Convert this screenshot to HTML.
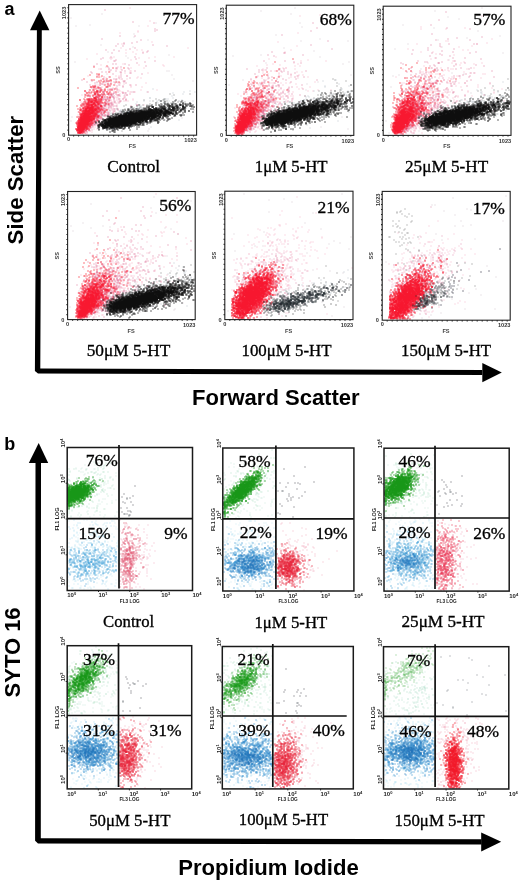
<!DOCTYPE html><html><head><meta charset="utf-8"><style>html,body{margin:0;padding:0;background:#fff}svg{display:block;will-change:transform}</style></head><body>
<svg width="520" height="882" viewBox="0 0 520 882">
<rect width="520" height="882" fill="#fff"/>
<style>.k0{marker:url(#k0);fill:none;stroke:none}.k1{marker:url(#k1);fill:none;stroke:none}.k2{marker:url(#k2);fill:none;stroke:none}.k3{marker:url(#k3);fill:none;stroke:none}.k4{marker:url(#k4);fill:none;stroke:none}.k5{marker:url(#k5);fill:none;stroke:none}.k6{marker:url(#k6);fill:none;stroke:none}.k7{marker:url(#k7);fill:none;stroke:none}.k8{marker:url(#k8);fill:none;stroke:none}.k9{marker:url(#k9);fill:none;stroke:none}.k10{marker:url(#k10);fill:none;stroke:none}.k11{marker:url(#k11);fill:none;stroke:none}.k12{marker:url(#k12);fill:none;stroke:none}.k13{marker:url(#k13);fill:none;stroke:none}.k14{marker:url(#k14);fill:none;stroke:none}.k15{marker:url(#k15);fill:none;stroke:none}.k16{marker:url(#k16);fill:none;stroke:none}.k17{marker:url(#k17);fill:none;stroke:none}.k18{marker:url(#k18);fill:none;stroke:none}.k19{marker:url(#k19);fill:none;stroke:none}.k20{marker:url(#k20);fill:none;stroke:none}.k21{marker:url(#k21);fill:none;stroke:none}.k22{marker:url(#k22);fill:none;stroke:none}.k23{marker:url(#k23);fill:none;stroke:none}.k24{marker:url(#k24);fill:none;stroke:none}.k25{marker:url(#k25);fill:none;stroke:none}.k26{marker:url(#k26);fill:none;stroke:none}.k27{marker:url(#k27);fill:none;stroke:none}.k28{marker:url(#k28);fill:none;stroke:none}.k29{marker:url(#k29);fill:none;stroke:none}.k30{marker:url(#k30);fill:none;stroke:none}.k31{marker:url(#k31);fill:none;stroke:none}.k32{marker:url(#k32);fill:none;stroke:none}.k33{marker:url(#k33);fill:none;stroke:none}.k34{marker:url(#k34);fill:none;stroke:none}.k35{marker:url(#k35);fill:none;stroke:none}.k36{marker:url(#k36);fill:none;stroke:none}.k37{marker:url(#k37);fill:none;stroke:none}</style><defs><filter id="bl" x="-5%" y="-5%" width="110%" height="110%"><feGaussianBlur stdDeviation="0.35"/></filter><marker id="k0" markerUnits="userSpaceOnUse" markerWidth="3" markerHeight="3" refX="0.5" refY="0.5" overflow="visible"><rect width="1" height="1" fill="#c8b8c0" fill-opacity="0.7"/></marker><marker id="k1" markerUnits="userSpaceOnUse" markerWidth="3" markerHeight="3" refX="0.8" refY="0.8" overflow="visible"><rect width="1.6" height="1.6" fill="#f7b4c8" fill-opacity="0.4"/></marker><marker id="k2" markerUnits="userSpaceOnUse" markerWidth="3" markerHeight="3" refX="0.55" refY="0.55" overflow="visible"><rect width="1.1" height="1.1" fill="#d0487a" fill-opacity="0.6"/></marker><marker id="k3" markerUnits="userSpaceOnUse" markerWidth="3" markerHeight="3" refX="0.65" refY="0.65" overflow="visible"><rect width="1.3" height="1.3" fill="#fa1830" fill-opacity="0.7"/></marker><marker id="k4" markerUnits="userSpaceOnUse" markerWidth="3" markerHeight="3" refX="0.5" refY="0.5" overflow="visible"><rect width="1" height="1" fill="#2c3236" fill-opacity="0.6"/></marker><marker id="k5" markerUnits="userSpaceOnUse" markerWidth="3" markerHeight="3" refX="0.8" refY="0.8" overflow="visible"><rect width="1.6" height="1.6" fill="#b8c4c8" fill-opacity="0.35"/></marker><marker id="k6" markerUnits="userSpaceOnUse" markerWidth="3" markerHeight="3" refX="0.6" refY="0.6" overflow="visible"><rect width="1.2" height="1.2" fill="#0c0c0c" fill-opacity="0.85"/></marker><marker id="k7" markerUnits="userSpaceOnUse" markerWidth="3" markerHeight="3" refX="0.7" refY="0.7" overflow="visible"><rect width="1.4" height="1.4" fill="#0c0c0c" fill-opacity="0.9"/></marker><marker id="k8" markerUnits="userSpaceOnUse" markerWidth="3" markerHeight="3" refX="0.6" refY="0.6" overflow="visible"><rect width="1.2" height="1.2" fill="#0c0c0c" fill-opacity="0.8"/></marker><marker id="k9" markerUnits="userSpaceOnUse" markerWidth="3" markerHeight="3" refX="0.8" refY="0.8" overflow="visible"><rect width="1.6" height="1.6" fill="#f7b4c8" fill-opacity="0.35"/></marker><marker id="k10" markerUnits="userSpaceOnUse" markerWidth="3" markerHeight="3" refX="0.5" refY="0.5" overflow="visible"><rect width="1" height="1" fill="#d0487a" fill-opacity="0.55"/></marker><marker id="k11" markerUnits="userSpaceOnUse" markerWidth="3" markerHeight="3" refX="0.65" refY="0.65" overflow="visible"><rect width="1.3" height="1.3" fill="#fa1830" fill-opacity="0.9"/></marker><marker id="k12" markerUnits="userSpaceOnUse" markerWidth="3" markerHeight="3" refX="0.6" refY="0.6" overflow="visible"><rect width="1.2" height="1.2" fill="#23292d" fill-opacity="0.62"/></marker><marker id="k13" markerUnits="userSpaceOnUse" markerWidth="3" markerHeight="3" refX="0.7" refY="0.7" overflow="visible"><rect width="1.4" height="1.4" fill="#23292d" fill-opacity="0.9"/></marker><marker id="k14" markerUnits="userSpaceOnUse" markerWidth="3" markerHeight="3" refX="0.6" refY="0.6" overflow="visible"><rect width="1.2" height="1.2" fill="#23292d" fill-opacity="0.7"/></marker><marker id="k15" markerUnits="userSpaceOnUse" markerWidth="3" markerHeight="3" refX="0.5" refY="0.5" overflow="visible"><rect width="1" height="1" fill="#2c3236" fill-opacity="0.55"/></marker><marker id="k16" markerUnits="userSpaceOnUse" markerWidth="3" markerHeight="3" refX="0.5" refY="0.5" overflow="visible"><rect width="1" height="1" fill="#a8d8c8" fill-opacity="0.55"/></marker><marker id="k17" markerUnits="userSpaceOnUse" markerWidth="3" markerHeight="3" refX="0.5" refY="0.5" overflow="visible"><rect width="1" height="1" fill="#a8d8e8" fill-opacity="0.55"/></marker><marker id="k18" markerUnits="userSpaceOnUse" markerWidth="3" markerHeight="3" refX="0.6" refY="0.6" overflow="visible"><rect width="1.2" height="1.2" fill="#3c4652" fill-opacity="0.6"/></marker><marker id="k19" markerUnits="userSpaceOnUse" markerWidth="3" markerHeight="3" refX="0.6" refY="0.6" overflow="visible"><rect width="1.2" height="1.2" fill="#9ad4ec" fill-opacity="0.55"/></marker><marker id="k20" markerUnits="userSpaceOnUse" markerWidth="3" markerHeight="3" refX="0.6" refY="0.6" overflow="visible"><rect width="1.2" height="1.2" fill="#46a4d8" fill-opacity="0.7"/></marker><marker id="k21" markerUnits="userSpaceOnUse" markerWidth="3" markerHeight="3" refX="0.6" refY="0.6" overflow="visible"><rect width="1.2" height="1.2" fill="#f0a0b8" fill-opacity="0.55"/></marker><marker id="k22" markerUnits="userSpaceOnUse" markerWidth="3" markerHeight="3" refX="0.6" refY="0.6" overflow="visible"><rect width="1.2" height="1.2" fill="#e0506e" fill-opacity="0.7"/></marker><marker id="k23" markerUnits="userSpaceOnUse" markerWidth="3" markerHeight="3" refX="0.6" refY="0.6" overflow="visible"><rect width="1.2" height="1.2" fill="#8fd0b0" fill-opacity="0.45"/></marker><marker id="k24" markerUnits="userSpaceOnUse" markerWidth="3" markerHeight="3" refX="0.6" refY="0.6" overflow="visible"><rect width="1.2" height="1.2" fill="#179617" fill-opacity="0.9"/></marker><marker id="k25" markerUnits="userSpaceOnUse" markerWidth="3" markerHeight="3" refX="0.6" refY="0.6" overflow="visible"><rect width="1.2" height="1.2" fill="#3490cf" fill-opacity="0.75"/></marker><marker id="k26" markerUnits="userSpaceOnUse" markerWidth="3" markerHeight="3" refX="0.6" refY="0.6" overflow="visible"><rect width="1.2" height="1.2" fill="#2274bb" fill-opacity="0.7"/></marker><marker id="k27" markerUnits="userSpaceOnUse" markerWidth="3" markerHeight="3" refX="0.6" refY="0.6" overflow="visible"><rect width="1.2" height="1.2" fill="#f09cb4" fill-opacity="0.55"/></marker><marker id="k28" markerUnits="userSpaceOnUse" markerWidth="3" markerHeight="3" refX="0.6" refY="0.6" overflow="visible"><rect width="1.2" height="1.2" fill="#e8283c" fill-opacity="0.8"/></marker><marker id="k29" markerUnits="userSpaceOnUse" markerWidth="3" markerHeight="3" refX="0.6" refY="0.6" overflow="visible"><rect width="1.2" height="1.2" fill="#3c9ad4" fill-opacity="0.72"/></marker><marker id="k30" markerUnits="userSpaceOnUse" markerWidth="3" markerHeight="3" refX="0.6" refY="0.6" overflow="visible"><rect width="1.2" height="1.2" fill="#2274bb" fill-opacity="0.65"/></marker><marker id="k31" markerUnits="userSpaceOnUse" markerWidth="3" markerHeight="3" refX="0.6" refY="0.6" overflow="visible"><rect width="1.2" height="1.2" fill="#e83a58" fill-opacity="0.75"/></marker><marker id="k32" markerUnits="userSpaceOnUse" markerWidth="3" markerHeight="3" refX="0.6" refY="0.6" overflow="visible"><rect width="1.2" height="1.2" fill="#1a9a1a" fill-opacity="0.75"/></marker><marker id="k33" markerUnits="userSpaceOnUse" markerWidth="3" markerHeight="3" refX="0.6" refY="0.6" overflow="visible"><rect width="1.2" height="1.2" fill="#1a9a1a" fill-opacity="0.7"/></marker><marker id="k34" markerUnits="userSpaceOnUse" markerWidth="3" markerHeight="3" refX="0.6" refY="0.6" overflow="visible"><rect width="1.2" height="1.2" fill="#707880" fill-opacity="0.6"/></marker><marker id="k35" markerUnits="userSpaceOnUse" markerWidth="3" markerHeight="3" refX="0.6" refY="0.6" overflow="visible"><rect width="1.2" height="1.2" fill="#f01828" fill-opacity="0.85"/></marker><marker id="k36" markerUnits="userSpaceOnUse" markerWidth="3" markerHeight="3" refX="0.6" refY="0.6" overflow="visible"><rect width="1.2" height="1.2" fill="#9ad4b8" fill-opacity="0.5"/></marker><marker id="k37" markerUnits="userSpaceOnUse" markerWidth="3" markerHeight="3" refX="0.6" refY="0.6" overflow="visible"><rect width="1.2" height="1.2" fill="#54b054" fill-opacity="0.55"/></marker></defs>
<g filter="url(#bl)">
<path class="k0" d="M102 14l-31 4 113 1-28 4-66 2-14 1 63 0-5 8 0 3 14 3-47 5 32 2-25 5 61 3-43 1 2 2-53 4 94 9-2 0 5 4 2 4 19 2-88 1-8 1-7 4 18 1-14 2 38 2 15 0 32 9 15 9-99 4 4 0 30 3-57 0 110 1-111 3 45 5 33 3-1 2"/>
<path class="k1" d="M130 8l47 12-27 1-2 5-10 5 0 1-18 1 32 9-30 2-1 4 67 0-62 2 11 0 5 0-9 2 10 0-17 1-29 1 39 0 38 3-19 0-41 0-4 1 2 0 27 0 10 0-38 1-24 0 44 1-23 2 15 2 40 1-24 0-38 0 63 1-46 1-12 0 3 1 22 0 13 0-23 1-4 0-1 0-17 0 10 1 22 1-1 0-20 0 0 1 10 0 28 1-23 0-18 1-9 1-10 1 28 0 3 0 8 0 11 1-19 0-18 0 5 1 31 0 4 0-14 1-7 0-3 0-26 1 32 1-18 0-6 1 47 1-27 0-1 0-17 0 0 1 4 0 2 0 3 0 14 0 7 1-11 0-5 0-4 0-1 0-6 0-4 0 0 0-2 0-2 0-1 0-2 1 14 0 2 0 22 0 11 1-11 0-29 0-3 0-4 0 1 1 2 0 15 0 3 0 0 0 1 0-5 1-1 0-10 0-7 0-5 1 1 0 3 0 15 0 3 0 1 0 6 0 1 0 22 0 16 0-37 1-6 0-10 0-10 0 9 1 1 0 5 0 1 0 4 0 1 0 7 0 1 0 7 0 1 0 2 0 2 0-19 1-2 0-3 0-12 0-1 0-13 1 5 0 17 0 4 0 9 0 10 0 0 0-11 1 0 0-2 0 0 0-8 0-6 0-2 0-9 0-2 0-8 0 13 1 2 0 1 0 1 0 1 0 0 0 10 0 2 0 6 0 6 0-6 1-2 0-6 0-6 0 0 0-1 0-3 0-1 0-4 0-1 0-3 1 26 0 7 0 0 0 9 1-10 0-3 0-1 0-5 0-11 0-5 0-1 0-2 0-7 0 0 1 4 0 2 0 3 0 2 0 3 0 0 0 1 0 2 0 0 0 6 0 6 0 9 0 7 0-5 1-2 0-2 0-5 0-4 0-4 0-5 0-5 0 0 0-1 0-4 0-2 0-4 0-9 1 8 0 4 0 6 0 8 0 5 0 6 0-2 1-1 0-4 0-1 0-1 0 0 0-3 0-1 0-4 0 0 0-4 0 0 0-1 0-1 0 0 0-6 1 3 0 2 0 2 0 2 0 1 0 5 0 8 0 5 0 27 1-31 0-1 0-1 0-5 0-2 0-2 0-10 0 0 0-1 0-2 0 0 0 0 0-5 0-1 1 4 0 8 0 3 0 2 0 0 0 5 0 4 0 2 0 1 0 1 1-5 0-4 0-5 0 0 0-2 0 0 0-6 0 0 0-4 0-5 0 9 1 2 0 1 0 4 0 1 0 4 0 14 0 14 1-18 0-1 0-6 0-3 0-1 0 0 0-1 0 0 0-2 0-1 0-2 0-1 0-1 0-1 0-3 0-8 1 3 0 3 0 8 0 0 0 3 0 1 0 0 0 0 0 1 0 1 0 0 0 5 0 2 0 3 0 1 1-10 0 0 0 0 0-1 0-4 0 0 0-1 0 0 0-2 0-1 0-1 0-2 0-2 0-2 0-3 0-6 1 1 0 5 0 3 0 3 0 3 0 1 0 1 0 2 0 2 0 0 0 2 0 0 0 3 0 3 0 7 0 7 0-8 1-4 0-1 0-1 0-2 0-1 0-1 0-1 0 0 0-3 0 0 0-1 0-1 0-2 0-2 0-12 0 0 1 3 0 0 0 3 0 3 0 2 0 0 0 3 0 2 0 3 0 0 0 2 0 1 0 5 0 12 0-12 1-3 0 0 0 0 0 0 0-1 0-2 0-2 0-1 0-1 0 0 0-1 0-3 0-2 0 0 0-3 0 0 0-1 0-10 0 11 1 0 0 1 0 0 0 2 0 3 0 1 0 1 0 1 0 0 0 3 0 0 0 2 0 1 0 1 0 0 0 2 0 6 0 5 1-8 0-11 0 0 0-2 0 0 0 0 0-2 0-1 0-1 0-2 0-1 0-1 0-1 0 0 0-1 0-4 0-2 0 3 1 0 0 1 0 3 0 2 0 0 0 1 0 0 0 1 0 3 0 2 0 2 0 1 0 0 0 1 0 0 0 1 0 5 0 6 0 1 1-3 0-5 0-3 0-1 0-1 0-2 0-2 0-3 0-2 0-2 0-1 0 0 0-3 0-1 0 0 0-1 0 2 1 0 0 1 0 1 0 0 0 2 0 1 0 1 0 0 0 1 0 1 0 1 0 1 0 3 0 6 0 0 0 0 1-4 0-2 0-2 0 0 0-3 0-1 0 0 0-1 0-1 0-1 0-3 0-1 0 0 0-1 0-1 0 0 0-1 0-3 0-1 0 0 1 6 0 0 0 0 0 2 0 1 0 1 0 1 0 0 0 2 0 1 0 1 0 0 0 1 0 0 0 0 0 1 0 0 0 2 0 8 0-2 1-9 0-4 0-1 0-1 0 0 0-1 0-2 0 0 0-2 0-2 0-1 0-1 0-1 0 4 1 1 0 1 0 3 0 1 0 1 0 0 0 1 0 1 0 0 0 0 0 1 0 2 0 0 0 0 0 8 1-7 0-1 0 0 0-2 0 0 0-1 0-2 0-1 0-2 0-3 0-1 0-3 0 0 0 3 1 2 0 0 0 0 0 1 0 2 0 1 0 0 0 1 0 3 0 9 1-7 0-5 0-3 0-1 0 0 0-1 0 0 0-1 0-2 0 0 0-4 1 2 0 2 0 2 0 0 0 1 0 1 0 0 0 1 0 1 0 1 0 2 0 0 0 1 0 7 0 6 0-8 1-3 0-5 0-1 0-3 0-1 0-1 0-4 0 1 1 0 0 3 0 0 0 3 0 1 0 0 0 2 0 1 0-2 1-2 0-2 0-3 0 1 1 1 0 1 0 3 0 5 0-5 1-5 0-1 1 2 0 3 0 1 0"/>
<path class="k2" d="M105 10l28 12 21 1 1 6 2 1-2 1-35 5 15 0-33 3 39 1-4 2-5 1-8 0-6 1 6 0 29 1-37 1 7 0 44 0-32 2-5 1-24 1 8 0 34 1-29 0 28 1-4 1-31 0 23 4-24 0-8 1 33 1-35 0 15 1 39 1-40 0-1 0 31 1-8 1-40 1 16 0 3 0 9 0 4 1-35 1 52 0-25 1-13 0 8 1 1 0 11 0 1 1-20 0-8 0 10 1 11 0 13 1-10 0-9 0-25 1 11 0 4 0 15 0 10 1-1 0-9 0-29 0 21 1 29 0-21 1-24 1 30 0-6 1-12 0-5 0 15 1 11 0-8 1-6 0-2 0-10 0-22 1 19 0 5 0 4 0 6 0 9 1-1 0-15 0-2 0-15 0-5 1 10 0 7 0 2 0 2 0 6 0 3 0 7 0 2 1-6 0-5 0-4 0-16 0 7 1 1 0 5 0 28 1-6 0-11 0-10 0-9 0-10 0 5 1 22 0 6 0 0 1-15 0-1 0-11 0-4 1 7 0 0 0 2 0 16 1-3 0-2 0-2 0-9 0-3 1 6 0 4 0 9 0 11 1-28 0-14 1 5 0 6 0 1 0 5 0 1 0 14 0 16 0 14 0-22 1-1 0-2 0 0 0-9 0-10 0-8 0-2 0 3 1 1 0 4 0 2 0 0 0 3 0 1 0 5 0 0 0 3 0 11 1 0 0-2 0-6 0-1 0-6 0-1 0 0 0-2 0-8 0-1 0-7 0-4 0-2 1 2 0 4 0 3 0 2 0 1 0 3 0 1 0 9 0 2 0 6 0 5 1-12 0 0 0-2 0-3 0-3 0 0 0-7 0 0 0-1 0-1 0 0 0-6 0 4 1 7 0 2 0 5 0 1 0 1 0 4 0 0 0 12 1-3 0-4 0-11 0-1 0 0 0-2 0 0 0-2 0-3 0-1 0 0 0-9 0-1 0 0 0 1 1 0 0 6 0 1 0 0 0 2 0 3 0 1 0 7 0 4 0 12 0-5 1-1 0-11 0 0 0-2 0-1 0-9 0-1 0-4 0 0 0 0 0-4 0-3 0 3 1 1 0 4 0 3 0 3 0 0 0 9 0 6 0 1 0 5 0-1 1-7 0-1 0-4 0-1 0-2 0-4 0-2 0-1 0-1 0-2 0-2 0-3 0-6 0 1 1 4 0 4 0 2 0 4 0 2 0 1 0 5 0 0 0 5 0 2 0 24 1 0 0-25 0-3 0 0 0-1 0-4 0-3 0-1 0-2 0-3 0-6 0 2 1 0 0 6 0 0 0 1 0 2 0 1 0 0 0 3 0 1 0 0 0 1 0 4 0 4 0 2 0 1 0 14 0-20 1-2 0-7 0-2 0-1 0-1 0 0 0 0 0-1 0-1 0 0 0-2 0 0 0-2 0-2 0-2 0 0 1 1 0 9 0 0 0 0 0 2 0 1 0 2 0 1 0 2 0 3 0 2 0 7 1-3 0-1 0-6 0-3 0-1 0 0 0-3 0-1 0-1 0 0 0-2 0 0 0-1 0 0 0-1 0 0 0-2 0-2 0 0 0-1 0-1 0 0 0-6 0 3 1 4 0 1 0 0 0 3 0 0 0 1 0 2 0 1 0 3 0 6 0 11 0-3 1-1 0-4 0-5 0-1 0 0 0-3 0-1 0-1 0-3 0-2 0-1 0 0 0-2 0 0 0-2 0-3 0 0 0-3 0 2 1 3 0 1 0 1 0 2 0 1 0 0 0 1 0 3 0 0 0 1 0 3 0 1 0 2 0 2 0 2 0 5 1-4 0-5 0-6 0 0 0-1 0-1 0-1 0-2 0-1 0 0 0-1 0-1 0 0 0 0 0-2 0 0 0 0 0-6 1 1 0 2 0 3 0 0 0 2 0 3 0 2 0 0 0 2 0 0 0 4 0 1 0 6 0 1 1 0 0-2 0-2 0-2 0-1 0 0 0-3 0-1 0-3 0-1 0-1 0-1 0-3 0-3 0 0 0-1 0-2 1 1 0 0 0 0 0 3 0 0 0 0 0 1 0 1 0 1 0 4 0 1 0 0 0 0 0 0 0 1 0 1 0 1 0 0 0 1 0 0 0 1 0 5 0 3 0 12 0-11 1-10 0-1 0-1 0 0 0-3 0-1 0-2 0-4 0 0 0-1 0-1 0-7 0 3 1 4 0 0 0 1 0 1 0 0 0 1 0 1 0 1 0 2 0 2 0 0 0 1 0 1 0 1 0 2 0 1 0 2 0 8 1-9 0-4 0-3 0-2 0 0 0 0 0-1 0 0 0-1 0 0 0-1 0 0 0 0 0-2 0-2 0-2 0 0 0-2 0-2 0 4 1 1 0 2 0 1 0 1 0 1 0 0 0 1 0 0 0 1 0 0 0 0 0 0 0 3 0 1 0 2 0 1 0 0 0 5 0-4 1-3 0-1 0 0 0-2 0-1 0-1 0-2 0 0 0-2 0 0 0-1 0 0 0-3 0-1 0 0 1 0 0 3 0 1 0 0 0 0 0 0 0 1 0 0 0 1 0 2 0 0 0 1 0 1 0 2 0 1 0 12 0-1 1-8 0-2 0-5 0-3 0-3 0-1 0 0 0-1 0-3 0 1 1 2 0 1 0 0 0 0 0 0 0 1 0 0 0 0 0 1 0 0 0 1 0 0 0 1 0 0 0 1 0 0 0 1 0 2 0 0 0 2 0 1 0 2 0 2 0 1 0 1 0-2 1-5 0-3 0 0 0-2 0-4 0-1 0-1 0 0 0 0 0-1 0 0 0 0 0-1 0 1 1 1 0 0 0 0 0 1 0 0 0 0 0 1 0 2 0 1 0 0 0 1 0 0 0 0 0 1 0 0 0 2 0 6 0 0 0-5 1-2 0-2 0-3 0-1 0-3 0-1 0 0 0 0 0-1 0 1 1 0 0 0 0 2 0 2 0 0 0 2 0 3 0 0 0-2 1-1 0-2 0-1 0-5 0 2 1 1 0 1 0 0 0 2 0 0 0 1 0 3 0 3 0-2 1-5 0-1 0-2 0-1 0-1 0 1 1 0 0 2 0 1 0 3 0-5 1"/>
<path class="k3" d="M107 66l-13 1 19 1 11 0-15 4-12 2 2 0 0 1-9 0 12 1 8 1-11 0-2 0 10 2-4 0-19 0 8 1 2 0 17 0 0 1-2 0-2 0-3 0-3 0-2 0 4 1 13 0 3 0-19 1 8 1 3 0 3 1-9 0-12 1 2 0 13 0 2 0-3 1-1 0-8 0-3 0-1 0-1 0-2 0 0 0-13 1 16 0 4 0 2 0 15 1-10 0-9 0-6 1 3 0 1 0 6 0 1 0 1 0 3 0 5 0 2 0-7 1-4 0-3 0-1 0 0 0 0 0-12 0 0 0 4 1 3 0 2 0 1 0 1 0 1 0 1 0 2 0 0 0 3 0 4 0 0 0 3 0 6 0-7 1-12 0-2 0-4 0-2 0-2 0 0 0 8 1 0 0 0 0 0 0 3 0 4 0 2 0 4 0 1 0 2 0-6 1-2 0-3 0-1 0-1 0 0 0-2 0-2 0-6 0-2 0-1 0 3 1 2 0 3 0 7 0 10 1-3 0-5 0 0 0 0 0-3 0-2 0-1 0-11 0 9 1 0 0 1 0 0 0 0 0 0 0 1 0 2 0 4 0 8 0-9 1 0 0-2 0-3 0 0 0 0 0-1 0-1 0-2 0 0 0-1 0-1 0-1 0-1 0-1 0-3 0-4 1 0 0 5 0 2 0 1 0 1 0 0 0 2 0 2 0 0 0 1 0 1 0 1 0 1 0 2 0 2 0 0 0 5 0 3 0-8 1-1 0-1 0-1 0-2 0 0 0-1 0 0 0 0 0 0 0-1 0-1 0-1 0-1 0 0 0-1 0-1 0 0 0 0 0-5 1 1 0 1 0 2 0 1 0 2 0 0 0 0 0 0 0 1 0 0 0 0 0 0 0 1 0 3 0 1 0 0 0 0 0 1 0 0 0 2 0 1 0 1 0 3 0 0 1-2 0-1 0-2 0-1 0-1 0-1 0-2 0 0 0-1 0 0 0 0 0 0 0-3 0-1 0-1 0 0 0-1 0 0 0-2 0-4 1 1 0 1 0 1 0 1 0 1 0 0 0 0 0 1 0 1 0 2 0 2 0 0 0 0 0 1 0 0 0 1 0 3 0 0 0 1 0 0 0 7 0 2 0 1 0-4 1-5 0-2 0 0 0-2 0 0 0 0 0-1 0 0 0 0 0-2 0 0 0-1 0 0 0 0 0 0 0-1 0 0 0 0 0-1 0 0 0-1 0 0 0-1 0 0 0-1 0-4 0-2 0-4 1 4 0 1 0 2 0 1 0 1 0 1 0 0 0 2 0 0 0 3 0 0 0 0 0 2 0 1 0 1 0 0 0 5 0 0 0 0 0 1 0 0 1-1 0-3 0-1 0-2 0-1 0-1 0 0 0 0 0 0 0-1 0 0 0 0 0 0 0-1 0-1 0 0 0-1 0-1 0 0 0 0 0 0 0-1 0-1 0-1 0-5 1 3 0 0 0 1 0 0 0 1 0 1 0 0 0 1 0 0 0 1 0 0 0 0 0 0 0 0 0 2 0 0 0 0 0 0 0 0 0 1 0 0 0 0 0 1 0 0 0 0 0 0 0 1 0 0 0 2 0 1 0 1 0 1 0 1 0 0 0 3 1-1 0-2 0-1 0 0 0-2 0 0 0 0 0-1 0 0 0-1 0 0 0-1 0 0 0 0 0-1 0 0 0 0 0 0 0-1 0 0 0-1 0 0 0 0 0 0 0-1 0 0 0-2 0 0 0 0 0 0 0-1 0 0 0 0 0 0 0 0 0-2 0-1 0-2 0-3 0 2 1 0 0 1 0 0 0 3 0 1 0 0 0 1 0 0 0 0 0 2 0 1 0 0 0 1 0 0 0 0 0 1 0 1 0 0 0 0 0 0 0 0 0 0 0 1 0 1 0 1 0 0 0 0 0 0 0 1 0 0 0 0 0 0 0 1 0 3 0 0 0 2 0 1 0 3 0 1 0-2 1-5 0-2 0 0 0-3 0-1 0-1 0 0 0 0 0 0 0 0 0-1 0-1 0 0 0-1 0 0 0 0 0-1 0 0 0 0 0 0 0 0 0 0 0 0 0-1 0 0 0-1 0 0 0 0 0 0 0 0 0 0 0-1 0 0 0 0 0 0 0-1 0 0 0 0 0-1 0 0 0-1 0 0 0 0 0-2 0-2 1 3 0 1 0 2 0 0 0 0 0 1 0 0 0 1 0 0 0 1 0 0 0 1 0 0 0 0 0 1 0 1 0 1 0 0 0 0 0 0 0 1 0 1 0 0 0 1 0 0 0 1 0 1 0 0 0 0 0 2 0 0 0 6 0-1 1-3 0-6 0-1 0-1 0 0 0 0 0 0 0-1 0 0 0 0 0 0 0 0 0-1 0 0 0 0 0 0 0 0 0 0 0 0 0-1 0-1 0 0 0 0 0 0 0-1 0 0 0-1 0 0 0 0 0-1 0 0 0 0 0 0 0-1 0 0 0 0 0-1 0 0 0 0 0-1 0 0 0 0 0-3 0 0 1 1 0 1 0 0 0 0 0 1 0 0 0 1 0 0 0 1 0 0 0 0 0 0 0 1 0 0 0 0 0 0 0 0 0 1 0 0 0 1 0 0 0 0 0 0 0 0 0 0 0 1 0 0 0 0 0 0 0 0 0 0 0 0 0 0 0 1 0 0 0 0 0 0 0 0 0 0 0 1 0 0 0 1 0 2 0 0 0 1 0 0 0 1 0 0 0 0 0 0 0 1 0 0 1-1 0-1 0 0 0-2 0 0 0 0 0-2 0-2 0 0 0 0 0 0 0-1 0 0 0 0 0 0 0 0 0 0 0-1 0 0 0 0 0 0 0 0 0 0 0 0 0 0 0-1 0 0 0-1 0 0 0 0 0-1 0 0 0 0 0 0 0-1 0-1 0 0 0-1 0 0 0 0 0-1 0 1 1 0 0 1 0 0 0 1 0 0 0 0 0 1 0 0 0 0 0 0 0 1 0 0 0 0 0 0 0 0 0 1 0 0 0 0 0 0 0 1 0 0 0 0 0 0 0 1 0 0 0 0 0 0 0 0 0 0 0 0 0 0 0 1 0 1 0 0 0 1 0 0 0 0 0 0 0 1 0 0 0 1 0 1 0 0 0 0 0 0 0 1 0 1 0 0 0 2 0 0 0 1 0 2 1-3 0 0 0-3 0-1 0-1 0 0 0-1 0 0 0 0 0-1 0-1 0 0 0 0 0 0 0-1 0 0 0 0 0 0 0 0 0 0 0 0 0 0 0 0 0 0 0-1 0 0 0 0 0 0 0 0 0 0 0 0 0-1 0 0 0 0 0 0 0 0 0-1 0 0 0 0 0 0 0 0 0 0 0 0 0-1 0 0 0 0 0 0 0-1 0 0 0 0 0 0 0 0 0-1 0-1 0 0 0 0 0-1 0 0 0 0 0-1 0-1 0-2 0 3 1 1 0 0 0 0 0 0 0 0 0 1 0 0 0 0 0 1 0 0 0 0 0 0 0 1 0 1 0 0 0 0 0 0 0 1 0 0 0 0 0 0 0 0 0 0 0 0 0 0 0 0 0 1 0 0 0 0 0 0 0 0 0 1 0 0 0 0 0 0 0 0 0 0 0 1 0 0 0 0 0 0 0 1 0 0 0 0 0 1 0 1 0 0 0 0 0 2 0 0 0 0 0 2 0 2 0-4 1 0 0 0 0-1 0 0 0 0 0-1 0-1 0-1 0 0 0 0 0-1 0 0 0 0 0 0 0-1 0 0 0 0 0 0 0-1 0 0 0 0 0 0 0-1 0 0 0 0 0 0 0-1 0 0 0 0 0 0 0 0 0-1 0 0 0 0 0 0 0 0 0 0 0 0 0 0 0 0 0-1 0 0 0 0 0 0 0 0 0 0 0-1 0 0 0 0 0 0 0-1 0 0 0 0 0 0 0-2 0 0 0 0 0 0 1 1 0 0 0 0 0 1 0 0 0 0 0 0 0 1 0 0 0 0 0 0 0 0 0 1 0 0 0 0 0 1 0 0 0 0 0 0 0 0 0 0 0 0 0 1 0 0 0 0 0 0 0 0 0 0 0 1 0 0 0 0 0 0 0 0 0 0 0 0 0 0 0 0 0 1 0 0 0 0 0 0 0 0 0 1 0 0 0 0 0 1 0 0 0 0 0 1 0 1 0 0 0 0 0 0 0 1 0 0 0 1 0 4 0 1 1-4 0-2 0 0 0-1 0-1 0 0 0-1 0 0 0 0 0 0 0-1 0 0 0 0 0 0 0 0 0-1 0 0 0 0 0 0 0 0 0 0 0 0 0 0 0-1 0 0 0 0 0 0 0 0 0 0 0 0 0 0 0 0 0-1 0 0 0 0 0 0 0 0 0-1 0 0 0 0 0 0 0 0 0-1 0 0 0 0 0-1 0 0 0 0 0 0 0-1 0 0 0 0 0-1 0 0 0-1 0 0 0 0 0-1 0 0 0-1 1 2 0 1 0 1 0 0 0 0 0 0 0 0 0 0 0 0 0 1 0 0 0 0 0 0 0 1 0 0 0 1 0 0 0 0 0 0 0 0 0 0 0 0 0 0 0 1 0 0 0 0 0 0 0 0 0 0 0 1 0 0 0 0 0 0 0 0 0 1 0 0 0 0 0 0 0 0 0 0 0 1 0 0 0 0 0 1 0 0 0 0 0 2 0 4 0-2 1 0 0-1 0 0 0-1 0-1 0-2 0 0 0 0 0-1 0 0 0 0 0 0 0-1 0 0 0 0 0 0 0 0 0 0 0-1 0 0 0 0 0 0 0 0 0 0 0-1 0 0 0 0 0 0 0 0 0 0 0 0 0 0 0 0 0 0 0 0 0-1 0 0 0 0 0 0 0 0 0 0 0 0 0-1 0 0 0 0 0 0 0-1 0 0 0-1 0 0 0 0 0-1 0 0 0 0 0 0 0 0 0 0 0-1 0 0 0-1 0-1 0 1 1 0 0 2 0 0 0 0 0 1 0 0 0 1 0 0 0 0 0 0 0 0 0 0 0 0 0 0 0 0 0 1 0 0 0 0 0 0 0 1 0 0 0 0 0 0 0 1 0 0 0 0 0 0 0 0 0 0 0 1 0 0 0 0 0 0 0 0 0 1 0 0 0 0 0 0 0 0 0 1 0 0 0 0 0 1 0 0 0 0 0 1 0 0 0 1 0 0 0 1 0 1 1-1 0-2 0-1 0 0 0-1 0 0 0 0 0-1 0 0 0 0 0-1 0 0 0 0 0 0 0 0 0 0 0 0 0 0 0 0 0-1 0 0 0 0 0 0 0 0 0 0 0 0 0 0 0 0 0-1 0 0 0 0 0 0 0 0 0 0 0 0 0 0 0-1 0 0 0 0 0-1 0 0 0-1 0 0 0 0 0 0 0 0 0 0 0-1 0 0 0-1 0 0 0 0 0-1 1 1 0 1 0 0 0 0 0 0 0 0 0 1 0 0 0 0 0 0 0 0 0 0 0 0 0 1 0 0 0 0 0 0 0 0 0 0 0 0 0 0 0 0 0 1 0 0 0 0 0 0 0 1 0 0 0 0 0 0 0 0 0 0 0 0 0 1 0 0 0 0 0 0 0 0 0 0 0 1 0 0 0 0 0 0 0 0 0 0 0 0 0 1 0 0 0 1 0 1 0 2 0 0 0 0 1-3 0 0 0 0 0-1 0 0 0 0 0-1 0 0 0-1 0 0 0 0 0 0 0 0 0 0 0-1 0 0 0 0 0 0 0 0 0-1 0 0 0 0 0 0 0 0 0 0 0 0 0 0 0-1 0 0 0 0 0 0 0 0 0 0 0 0 0 0 0 0 0 0 0-1 0 0 0 0 0 0 0 0 0 0 0 0 0 0 0-1 0 0 0 0 0 0 0 0 0 0 0-1 0 0 0 0 0 0 0 0 1 0 0 0 0 1 0 0 0 0 0 0 0 1 0 0 0 0 0 0 0 0 0 0 0 0 0 0 0 0 0 0 0 0 0 0 0 0 0 1 0 0 0 0 0 0 0 0 0 1 0 0 0 0 0 0 0 0 0 0 0 0 0 0 0 1 0 0 0 0 0 1 0 0 0 0 0 1 0 1 0 0 0 0 0 2 0 0 0 1 1-2 0 0 0 0 0-1 0-2 0 0 0 0 0 0 0 0 0-1 0 0 0 0 0 0 0-1 0 0 0 0 0 0 0-1 0 0 0 0 0 0 0 0 0-1 0 0 0 0 0 0 0 0 0 0 0 0 0 0 0 0 0 0 0-1 0 0 0 0 0 0 0 0 0-1 0 0 0-1 0-1 0 0 0 1 1 0 0 0 0 1 0 0 0 0 0 0 0 1 0 0 0 0 0 0 0 0 0 1 0 1 0 0 0 0 0 1 0 0 0 0 0 1 0 0 0 1 0 2 0 3 0-3 1-2 0-1 0 0 0-1 0 0 0 0 0 0 0-1 0 0 0 0 0 0 0 0 0 0 0 0 0 0 0-1 0 0 0 0 0 0 0-2 0-1 0 1 1 0 0 1 0 0 0 0 0 1 0 0 0 0 0 0 0 0 0 0 0 1 0 0 0 0 0 0 0 0 0 0 0 1 0 1 0 1 0 1 1-2 0-1 0-1 0-1 0 0 0 0 0 0 0-1 0 0 0-1 0 0 0"/>
<path class="k4" d="M170 94l20 0-16 1-9 4-1 0-8 0-12 1 15 0 4 0 1 0 3 1-2 0-4 0-8 0 11 1 14 0 7 0 5 1-16 0-3 0-3 0-4 0-14 1 12 0 7 0 3 0 7 1-11 0-6 0-3 0-12 0-4 0-17 0-2 1 13 0 0 0 13 0 2 0 9 0 0 0 4 0 0 0 9 0 1 0 3 0 1 1-9 0-3 0-3 0-11 0 0 0-4 0 0 0-9 0-6 1 6 0 2 0 6 0 8 0 7 0 11 0 9 0 0 0 3 0-26 1-4 0 0 0-6 0 0 0 0 0-3 0-4 0-4 0 0 0-1 0-6 0-1 0-2 0 0 0-4 0-8 0 18 1 3 0 0 0 1 0 1 0 2 0 1 0 2 0 7 0 15 1-4 0-17 0-1 0-4 0 0 0-1 0-1 0-7 0-1 0-5 0-3 0 0 0-2 0-1 1 2 0 1 0 1 0 7 0 1 0 2 0 3 0 4 0 2 0 1 0 3 0 6 0 8 0 8 0 14 0-6 1-17 0-8 0-1 0-3 0-1 0-6 0-1 0-4 0-1 0-2 0 0 0-2 0-1 0-3 0-9 0-2 0 8 1 2 0 1 0 1 0 1 0 0 0 3 0 0 0 0 0 4 0 0 0 6 0 1 0 2 0 3 0 8 0 7 1-13 0-2 0-2 0-1 0-3 0 0 0-1 0-2 0-6 0 0 0-2 0-2 0-10 0 0 0-2 0-2 0-8 1 3 0 5 0 2 0 2 0 6 0 0 0 1 0 2 0 2 0 1 0 0 0 1 0 3 0 3 0 0 0 6 0 6 1-9 0-1 0-1 0-3 0-3 0-5 0-4 0-2 0-1 0 0 0-2 0-3 0-2 0-6 0 12 1 2 0 0 0 0 0 1 0 5 0 0 0 2 0 2 0 0 0 9 0 2 0 2 0 10 0 2 0 3 0-16 1-4 0-2 0-4 0-4 0-2 0-2 0-4 0-5 0 0 0-1 0 0 0-1 0-1 0-1 0 0 0-4 1 0 0 1 0 1 0 2 0 1 0 4 0 1 0 1 0 5 0 5 0 1 0 1 0 2 0-1 1 0 0 0 0-1 0-2 0-4 0-3 0 0 0-11 0 0 0-9 0 5 1 4 0 6 0 0 0 1 0 10 0 6 0 17 0-18 1-7 0-12 0-3 0-1 0-5 1 14 0 17 1-8 0-4 0-5 0 0 0-8 0-6 0 13 2-1 0 0 0-1 0-6 0 0 1 6 0-2 2 7 1"/>
<path class="k5" d="M153 89l37 2-6 1 11 0-22 1 10 1-11 2-22 2 0 0 23 0-5 1-2 0 16 1 11 1-10 0-4 0-10 0-9 0-3 0-7 0-6 0-7 1 20 0 10 1-3 0-6 0-22 1 35 0 2 0 7 0-31 1-9 0 1 1 12 0 6 0 6 0 4 0 2 0 7 0 2 0 4 1-1 0-30 0-12 0-1 0-2 0-7 1 0 0 1 0 5 0 15 0 6 0 5 0 5 0 0 0 11 1-7 0-8 0-3 0-2 0-2 0-15 0-32 1 11 0 16 0 0 0 3 0 8 0 1 0 6 0 1 0 0 0 1 0 2 0 7 0 1 0 0 0-6 1-8 0 0 0-2 0-1 0-4 0-7 0-2 0 0 0-7 0-10 0-1 0 2 1 1 0 2 0 3 0 1 0 1 0 0 0 2 0 6 0 8 0 2 0 9 0 0 0 14 0-21 1-4 0-4 0-2 0-4 0 0 0-3 0-3 0-2 0-4 0-2 0-2 0-8 0 0 1 7 0 0 0 8 0 2 0 0 0 2 0 0 0 1 0 2 0 1 0 5 0 3 0 1 0 1 0 5 0 1 0 0 0 4 0 3 0 3 0 21 1-21 0-9 0-2 0-7 0-3 0-1 0-1 0-1 0-13 0-7 0 0 0-3 0-10 1 17 0 1 0 2 0 1 0 2 0 5 0 2 0 1 0 1 0 0 0 4 0 2 0 0 0 4 0 4 0 0 0 1 0 4 0 0 0 2 0 13 0 7 0-22 1-6 0-1 0-7 0-8 0-2 0-1 0-3 0-2 0-1 0-4 0-2 0-4 1 0 0 0 0 2 0 2 0 4 0 1 0 0 0 0 0 0 0 1 0 4 0 4 0 7 0 5 0 20 0-13 1-2 0-21 0-4 0-3 0-1 0-1 0-1 0-1 0-3 0-2 0-6 0 2 1 6 0 6 0 1 0 0 0 3 0 2 0 2 0 11 0 15 0 12 0 4 0 10 0-32 1-9 0-2 0 0 0-6 0 0 0-1 0-2 0-1 0-4 0-1 0 0 0-4 0 0 0-2 0 0 0 0 0-7 1 2 0 3 0 2 0 4 0 5 0 22 1-2 0-3 0-9 0-8 0-1 0-5 0-2 0-4 0-3 0 2 1 7 0 1 0 3 0 1 0 2 0 1 0 1 0 1 0 3 0 5 0-5 1-3 0-1 0-3 0-3 0-2 0-1 0 0 0 0 0-3 0 0 0-3 0-8 1 9 0 17 0 2 0 19 1-40 0-1 0 3 1 1 1-8 0 3 1"/>
<path class="k6" d="M176 100l6 1-7 0-14 0 4 1 8 0 8 0 9 1-34 0 5 1 4 0 0 0 2 0 1 0 4 0 1 0 2 0 1 0 4 0 3 0 2 0 1 0 2 0 3 0 2 1-5 0-2 0-3 0-2 0 0 0-1 0-3 0-10 0-8 0-3 0-4 0-13 0 8 1 2 0 2 0 9 0 2 0 2 0 0 0 4 0 0 0 2 0 0 0 2 0 1 0 3 0 0 0 1 0 6 0 0 0 0 0 3 0 1 0 5 0 0 1-9 0 0 0-6 0-2 0-1 0-1 0-1 0-7 0-1 0-1 0-1 0 0 0-1 0-1 0-7 0 0 0-4 0-2 0-15 0-1 0 13 1 2 0 2 0 1 0 7 0 2 0 2 0 1 0 1 0 1 0 1 0 2 0 7 0 1 0 1 0 2 0 0 0 3 0 4 0 0 0 1 0 0 0 8 1-2 0-7 0-1 0-4 0-4 0-2 0-5 0-3 0 0 0 0 0-1 0 0 0-1 0 0 0-1 0 0 0-1 0-2 0-2 0 0 0-1 0 0 0-1 0-1 0 0 0 0 0 0 0-3 0-1 0 0 0-1 0 0 0-3 0-1 0-1 0-7 0-1 0-3 0-5 0-5 1 2 0 3 0 1 0 3 0 2 0 7 0 1 0 2 0 2 0 1 0 1 0 1 0 0 0 1 0 1 0 0 0 0 0 1 0 0 0 0 0 4 0 0 0 1 0 1 0 0 0 1 0 1 0 1 0 0 0 3 0 1 0 0 0 1 0 4 0 2 0 0 0 2 0 0 0 0 0 3 0 4 0 0 0 0 0 2 0 6 1 0 0-4 0-5 0-5 0-1 0-1 0-2 0-4 0 0 0-1 0 0 0 0 0 0 0-2 0-1 0-2 0 0 0 0 0-1 0 0 0-3 0 0 0-1 0-1 0-1 0 0 0-1 0 0 0-1 0-1 0 0 0 0 0-1 0-1 0-2 0 0 0-1 0-2 0 0 0-1 0-1 0 0 0-1 0 0 0-1 0-1 0 0 0-1 0-1 0 0 0-1 0 0 0 0 0-2 0 0 0-3 0-1 0-2 0-6 1 2 0 3 0 3 0 0 0 1 0 0 0 1 0 1 0 0 0 1 0 1 0 3 0 1 0 0 0 2 0 0 0 0 0 1 0 0 0 0 0 0 0 0 0 1 0 0 0 1 0 0 0 1 0 0 0 0 0 1 0 0 0 0 0 1 0 0 0 1 0 0 0 0 0 0 0 1 0 1 0 2 0 0 0 0 0 1 0 1 0 0 0 1 0 0 0 1 0 0 0 0 0 1 0 1 0 2 0 0 0 1 0 0 0 0 0 0 0 1 0 0 0 0 0 2 0 0 0 0 0 1 0 0 0 2 0 1 0 0 0 1 0 0 0 7 0 0 0 3 0 1 0 13 0-10 1-5 0-2 0-2 0-1 0-2 0-1 0-1 0-2 0-1 0 0 0-2 0-2 0-1 0 0 0-1 0-1 0 0 0 0 0 0 0-1 0 0 0 0 0 0 0-1 0 0 0 0 0 0 0 0 0 0 0 0 0-1 0-2 0 0 0 0 0 0 0-1 0 0 0 0 0 0 0-1 0 0 0-1 0 0 0-1 0 0 0 0 0 0 0-1 0-1 0 0 0-1 0 0 0 0 0 0 0-1 0 0 0-1 0 0 0 0 0 0 0-1 0 0 0 0 0 0 0-1 0 0 0 0 0 0 0-1 0 0 0 0 0-1 0 0 0-2 0 0 0-1 0-1 0 0 0 0 0 0 0-1 0 0 0-1 0-1 0-2 0 0 0-1 0 0 0-1 0 0 0-1 0-1 0 0 0-1 0 0 0-2 0-12 1 2 0 1 0 2 0 0 0 2 0 1 0 1 0 2 0 0 0 0 0 1 0 1 0 0 0 0 0 1 0 2 0 0 0 0 0 0 0 1 0 0 0 0 0 1 0 1 0 1 0 0 0 0 0 0 0 1 0 0 0 0 0 0 0 1 0 0 0 0 0 1 0 0 0 0 0 2 0 0 0 0 0 1 0 0 0 0 0 1 0 0 0 0 0 1 0 0 0 1 0 0 0 0 0 1 0 0 0 1 0 0 0 0 0 1 0 1 0 0 0 1 0 0 0 0 0 0 0 1 0 0 0 0 0 0 0 0 0 1 0 1 0 1 0 0 0 0 0 1 0 1 0 0 0 1 0 0 0 1 0 0 0 1 0 0 0 4 0 0 0 3 0 1 0 0 0 1 0 0 0 0 0 4 0 0 0 3 0 1 0 0 0 3 0 8 1-2 0-1 0-1 0-5 0-8 0-1 0-1 0-1 0-3 0-1 0-1 0 0 0-3 0 0 0-1 0 0 0 0 0-1 0 0 0-1 0 0 0-1 0 0 0 0 0 0 0 0 0-1 0 0 0-1 0 0 0-1 0-1 0-1 0 0 0-1 0-1 0 0 0 0 0-1 0 0 0 0 0 0 0 0 0 0 0-1 0 0 0 0 0 0 0-1 0 0 0 0 0-1 0 0 0 0 0 0 0 0 0 0 0 0 0-1 0 0 0-1 0 0 0 0 0 0 0 0 0-1 0 0 0 0 0 0 0 0 0 0 0-1 0-1 0-1 0 0 0 0 0 0 0 0 0 0 0-1 0 0 0 0 0-2 0 0 0 0 0 0 0-1 0 0 0 0 0 0 0-1 0 0 0 0 0-1 0 0 0 0 0 0 0 0 0-1 0 0 0-1 0 0 0-1 0 0 0 0 0 0 0 0 0-1 0 0 0-1 0-1 0-2 0 0 0 0 0 0 0-4 0 0 0-1 0-3 0-5 1 3 0 1 0 3 0 4 0 0 0 0 0 1 0 0 0 0 0 0 0 0 0 1 0 0 0 1 0 0 0 0 0 0 0 1 0 0 0 1 0 0 0 0 0 0 0 0 0 1 0 0 0 1 0 0 0 1 0 0 0 0 0 1 0 0 0 0 0 0 0 1 0 0 0 0 0 1 0 0 0 1 0 0 0 0 0 0 0 0 0 1 0 0 0 0 0 0 0 0 0 1 0 0 0 1 0 0 0 0 0 0 0 0 0 0 0 0 0 0 0 0 0 0 0 1 0 0 0 0 0 1 0 0 0 1 0 0 0 0 0 0 0 1 0 0 0 0 0 0 0 0 0 0 0 1 0 0 0 0 0 1 0 1 0 0 0 0 0 0 0 1 0 0 0 0 0 0 0 0 0 0 0 0 0 1 0 0 0 0 0 1 0 0 0 0 0 0 0 1 0 0 0 0 0 1 0 0 0 0 0 0 0 1 0 0 0 0 0 2 0 0 0 0 0 0 0 0 0 0 0 1 0 0 0 0 0 0 0 1 0 1 0 0 0 0 0 1 0 1 0 0 0 1 0 1 0 1 0 1 0 0 0 2 0 0 0 1 0 4 0 2 0 7 0 1 0 6 0-13 1-2 0-3 0-3 0 0 0 0 0-4 0-1 0 0 0 0 0 0 0 0 0-1 0 0 0 0 0-1 0 0 0 0 0 0 0 0 0-1 0 0 0 0 0-1 0-1 0 0 0-1 0 0 0-1 0 0 0 0 0-1 0 0 0-1 0 0 0-1 0 0 0 0 0-1 0-1 0 0 0 0 0-1 0 0 0-1 0 0 0 0 0 0 0 0 0-1 0 0 0 0 0 0 0-1 0 0 0 0 0 0 0 0 0 0 0-1 0 0 0 0 0 0 0-1 0 0 0 0 0 0 0 0 0-1 0 0 0 0 0-1 0 0 0 0 0 0 0 0 0 0 0 0 0-1 0 0 0-1 0 0 0 0 0-1 0 0 0 0 0 0 0-1 0 0 0 0 0-1 0 0 0 0 0 0 0-1 0 0 0 0 0 0 0 0 0-1 0 0 0 0 0 0 0 0 0 0 0 0 0-1 0 0 0 0 0 0 0 0 0-1 0 0 0 0 0 0 0 0 0 0 0-1 0 0 0 0 0 0 0-1 0 0 0 0 0 0 0 0 0 0 0-1 0 0 0 0 0 0 0 0 0-1 0 0 0 0 0 0 0 0 0 0 0-1 0 0 0 0 0 0 0 0 0 0 0 0 0-1 0 0 0 0 0 0 0 0 0 0 0 0 0-1 0 0 0 0 0 0 0-1 0-1 0 0 0-1 0 0 0-2 0 0 0-1 0 0 0-3 0 0 0-1 0-1 0 2 1 0 0 1 0 0 0 0 0 0 0 2 0 0 0 2 0 0 0 0 0 0 0 1 0 0 0 0 0 1 0 1 0 0 0 0 0 0 0 0 0 0 0 0 0 1 0 1 0 0 0 0 0 0 0 0 0 1 0 0 0 0 0 0 0 1 0 0 0 1 0 0 0 0 0 0 0 0 0 0 0 0 0 0 0 0 0 0 0 1 0 0 0 0 0 0 0 1 0 0 0 0 0 0 0 0 0 0 0 1 0 0 0 0 0 0 0 1 0 0 0 0 0 0 0 0 0 0 0 1 0 0 0 0 0 0 0 1 0 0 0 0 0 0 0 0 0 0 0 0 0 1 0 1 0 0 0 0 0 0 0 0 0 0 0 0 0 0 0 0 0 0 0 1 0 0 0 1 0 0 0 0 0 0 0 0 0 0 0 0 0 1 0 0 0 0 0 0 0 0 0 1 0 0 0 0 0 0 0 1 0 0 0 0 0 0 0 0 0 0 0 0 0 0 0 1 0 0 0 0 0 0 0 1 0 0 0 0 0 0 0 1 0 0 0 0 0 0 0 0 0 1 0 1 0 0 0 0 0 0 0 1 0 0 0 0 0 0 0 1 0 0 0 1 0 0 0 0 0 1 0 0 0 0 0 0 0 0 0 1 0 1 0 0 0 0 0 0 0 1 0 0 0 0 0 1 0 3 0 0 0 0 0 0 0 1 0 0 0 1 0 0 0 0 0 0 0 1 0 0 0 1 0 1 0 0 0 1 0 1 0 0 0 2 0 2 0 4 0 5 0-2 1-1 0-1 0-6 0-3 0 0 0-1 0 0 0-1 0-3 0-1 0 0 0-1 0 0 0-1 0 0 0-1 0 0 0-1 0-1 0 0 0-1 0 0 0 0 0-2 0 0 0 0 0 0 0-2 0 0 0 0 0-1 0 0 0-1 0 0 0 0 0 0 0-1 0 0 0 0 0 0 0 0 0 0 0-1 0 0 0 0 0 0 0 0 0 0 0 0 0 0 0-1 0 0 0 0 0 0 0-1 0 0 0-1 0 0 0 0 0 0 0 0 0-1 0 0 0 0 0 0 0 0 0 0 0 0 0-1 0 0 0 0 0 0 0 0 0-1 0 0 0 0 0 0 0 0 0 0 0 0 0-1 0 0 0 0 0-1 0 0 0 0 0 0 0 0 0 0 0 0 0-1 0 0 0 0 0 0 0 0 0-1 0 0 0 0 0 0 0 0 0 0 0 0 0-1 0 0 0 0 0 0 0 0 0 0 0-1 0 0 0 0 0 0 0 0 0 0 0-1 0 0 0-1 0 0 0 0 0 0 0 0 0-1 0 0 0 0 0 0 0 0 0 0 0-1 0 0 0 0 0 0 0 0 0-1 0 0 0 0 0 0 0 0 0 0 0 0 0-1 0 0 0 0 0 0 0 0 0 0 0 0 0-1 0 0 0 0 0 0 0 0 0 0 0-1 0 0 0 0 0-1 0 0 0 0 0-1 0 0 0 0 0 0 0-1 0 0 0 0 0 0 0 0 0-1 0 0 0-1 0 0 0 0 0 0 0-1 0 0 0 0 0-1 0-1 0 0 0 0 0 0 0 0 0-1 0 0 0 0 0 0 0-1 0 0 0 0 0-1 0 0 0-1 0 0 0-4 0 0 1 1 0 1 0 0 0 0 0 1 0 0 0 0 0 2 0 0 0 0 0 1 0 0 0 1 0 0 0 0 0 1 0 0 0 0 0 0 0 1 0 0 0 1 0 0 0 0 0 0 0 1 0 0 0 0 0 0 0 0 0 0 0 1 0 0 0 0 0 0 0 0 0 1 0 0 0 0 0 0 0 0 0 0 0 0 0 1 0 0 0 0 0 0 0 0 0 0 0 1 0 0 0 0 0 0 0 0 0 1 0 0 0 0 0 0 0 1 0 0 0 0 0 0 0 1 0 0 0 0 0 0 0 0 0 0 0 0 0 1 0 0 0 0 0 0 0 0 0 0 0 1 0 0 0 0 0 0 0 0 0 1 0 0 0 0 0 0 0 0 0 1 0 0 0 0 0 0 0 0 0 0 0 0 0 1 0 0 0 0 0 1 0 0 0 0 0 0 0 0 0 0 0 0 0 1 0 0 0 0 0 0 0 1 0 0 0 0 0 1 0 0 0 0 0 0 0 0 0 0 0 0 0 0 0 0 0 1 0 0 0 0 0 0 0 0 0 1 0 0 0 0 0 0 0 0 0 0 0 1 0 0 0 0 0 0 0 0 0 0 0 0 0 0 0 1 0 0 0 0 0 0 0 0 0 0 0 0 0 0 0 1 0 0 0 0 0 0 0 0 0 0 0 1 0 0 0 0 0 1 0 0 0 1 0 0 0 0 0 0 0 0 0 1 0 0 0 0 0 0 0 0 0 0 0 0 0 1 0 0 0 0 0 0 0 1 0 0 0 0 0 1 0 0 0 0 0 1 0 0 0 0 0 0 0 1 0 2 0 0 0 0 0 1 0 0 0 0 0 3 0 1 0 1 0 2 0 1 0 1 0 0 0 1 0 0 0 3 0 4 0 4 0-1 1-10 0-2 0-2 0-2 0-1 0 0 0-4 0 0 0-3 0-1 0 0 0 0 0 0 0-2 0-2 0-1 0 0 0 0 0 0 0 0 0-1 0 0 0 0 0 0 0-1 0 0 0 0 0-1 0 0 0 0 0 0 0 0 0 0 0-1 0 0 0 0 0-2 0 0 0 0 0 0 0 0 0 0 0-1 0 0 0 0 0 0 0 0 0 0 0 0 0 0 0 0 0-1 0 0 0 0 0 0 0 0 0-1 0 0 0 0 0 0 0-1 0 0 0 0 0 0 0 0 0 0 0 0 0-1 0 0 0 0 0 0 0 0 0 0 0 0 0-1 0 0 0 0 0 0 0 0 0 0 0 0 0 0 0 0 0 0 0-1 0 0 0 0 0 0 0 0 0 0 0 0 0 0 0-1 0 0 0 0 0 0 0 0 0-1 0 0 0 0 0 0 0 0 0 0 0 0 0 0 0-1 0 0 0 0 0 0 0 0 0 0 0 0 0 0 0-1 0 0 0 0 0 0 0 0 0 0 0-1 0 0 0 0 0 0 0 0 0 0 0 0 0 0 0-1 0 0 0 0 0 0 0 0 0 0 0-1 0 0 0-1 0 0 0 0 0 0 0-1 0 0 0 0 0 0 0 0 0 0 0 0 0 0 0-1 0 0 0 0 0 0 0 0 0 0 0 0 0 0 0 0 0-1 0 0 0 0 0 0 0 0 0-1 0 0 0 0 0 0 0 0 0 0 0 0 0 0 0-1 0 0 0 0 0-1 0 0 0 0 0 0 0-1 0 0 0 0 0 0 0 0 0 0 0-1 0-1 0-1 0 0 0-1 0 0 0 0 0-1 0 0 0-5 0-3 1 3 0 0 0 3 0 0 0 0 0 1 0 0 0 1 0 2 0 0 0 0 0 1 0 0 0 1 0 1 0 0 0 0 0 0 0 0 0 0 0 1 0 0 0 0 0 0 0 0 0 0 0 1 0 0 0 0 0 1 0 0 0 0 0 0 0 0 0 1 0 0 0 0 0 0 0 0 0 0 0 1 0 0 0 0 0 0 0 0 0 0 0 0 0 0 0 1 0 0 0 1 0 0 0 0 0 0 0 1 0 0 0 0 0 0 0 0 0 0 0 0 0 1 0 0 0 0 0 0 0 0 0 1 0 0 0 0 0 0 0 0 0 0 0 0 0 0 0 0 0 1 0 0 0 0 0 0 0 0 0 0 0 0 0 0 0 0 0 0 0 1 0 0 0 0 0 0 0 1 0 0 0 0 0 0 0 0 0 0 0 0 0 0 0 0 0 1 0 0 0 0 0 0 0 0 0 0 0 0 0 0 0 0 0 0 0 0 0 0 0 0 0 1 0 0 0 0 0 0 0 0 0 1 0 0 0 0 0 0 0 0 0 0 0 0 0 1 0 0 0 0 0 0 0 0 0 1 0 0 0 0 0 0 0 0 0 0 0 1 0 0 0 0 0 0 0 0 0 1 0 0 0 0 0 0 0 0 0 0 0 0 0 1 0 0 0 0 0 0 0 0 0 0 0 0 0 0 0 0 0 1 0 0 0 0 0 0 0 0 0 0 0 1 0 0 0 0 0 0 0 1 0 0 0 0 0 0 0 1 0 0 0 1 0 1 0 0 0 2 0 1 0 0 0 1 0 0 0 0 0 1 0 1 0 1 0 2 0 1 0 1 0 0 0 0 0 1 0 2 0 1 0 7 0 1 0-1 1 0 0-8 0-2 0-4 0-1 0-1 0-2 0-5 0-1 0 0 0-1 0 0 0 0 0-1 0-1 0 0 0-1 0 0 0 0 0 0 0 0 0 0 0 0 0 0 0 0 0-1 0 0 0 0 0-1 0-1 0 0 0 0 0 0 0-1 0 0 0 0 0 0 0-2 0 0 0 0 0 0 0-1 0 0 0 0 0-1 0 0 0 0 0 0 0 0 0 0 0 0 0-1 0 0 0-1 0 0 0 0 0 0 0 0 0 0 0-1 0 0 0 0 0 0 0 0 0 0 0 0 0 0 0-1 0 0 0 0 0-1 0 0 0 0 0 0 0 0 0 0 0 0 0 0 0 0 0 0 0-1 0 0 0 0 0 0 0 0 0-1 0 0 0 0 0 0 0-1 0 0 0 0 0-1 0 0 0-1 0 0 0 0 0 0 0 0 0 0 0 0 0-1 0 0 0 0 0-1 0 0 0 0 0 0 0-1 0 0 0 0 0-1 0 0 0 0 0-1 0 0 0-1 0 0 0-1 0 0 0 0 0 0 0-2 0-1 0-1 0-1 0-4 0 4 1 1 0 0 0 1 0 0 0 1 0 1 0 1 0 0 0 1 0 0 0 0 0 0 0 1 0 0 0 0 0 0 0 1 0 0 0 0 0 1 0 0 0 0 0 1 0 0 0 0 0 0 0 0 0 1 0 0 0 0 0 0 0 0 0 0 0 0 0 0 0 0 0 0 0 1 0 0 0 0 0 0 0 0 0 0 0 0 0 0 0 1 0 0 0 0 0 0 0 0 0 0 0 1 0 0 0 0 0 0 0 0 0 0 0 0 0 1 0 0 0 0 0 0 0 0 0 1 0 0 0 0 0 0 0 0 0 0 0 0 0 0 0 1 0 0 0 0 0 0 0 0 0 0 0 1 0 0 0 0 0 0 0 0 0 1 0 0 0 0 0 0 0 0 0 0 0 0 0 0 0 1 0 0 0 1 0 0 0 0 0 1 0 0 0 0 0 0 0 1 0 0 0 0 0 0 0 0 0 1 0 0 0 0 0 0 0 1 0 0 0 0 0 1 0 0 0 0 0 0 0 0 0 0 0 1 0 0 0 0 0 1 0 1 0 0 0 0 0 1 0 1 0 0 0 0 0 0 0 0 0 0 0 1 0 0 0 0 0 1 0 1 0 0 0 1 0 1 0 0 0 1 0 3 0 3 0 4 0-3 1-1 0-1 0-2 0-1 0-1 0 0 0-3 0-2 0-2 0 0 0-1 0 0 0-1 0-1 0 0 0 0 0 0 0-1 0 0 0 0 0 0 0-1 0 0 0 0 0-1 0 0 0-1 0 0 0 0 0-1 0 0 0 0 0-1 0-1 0-1 0 0 0 0 0-1 0 0 0 0 0 0 0-1 0-1 0 0 0-1 0 0 0 0 0 0 0 0 0 0 0 0 0 0 0 0 0-1 0 0 0 0 0 0 0-1 0 0 0 0 0 0 0 0 0 0 0 0 0-1 0 0 0 0 0-1 0-1 0 0 0-1 0 0 0 0 0 0 0-1 0 0 0 0 0 0 0 0 0 0 0 0 0-1 0 0 0 0 0 0 0 0 0-1 0 0 0 0 0 0 0-1 0 0 0 0 0 0 0-3 0 0 0 0 0 0 0 0 0-1 0 0 0-1 0 0 0-1 0 0 0-1 0 0 0-1 0 0 1 1 0 2 0 1 0 0 0 0 0 1 0 0 0 1 0 0 0 0 0 0 0 1 0 0 0 1 0 0 0 2 0 0 0 0 0 1 0 1 0 0 0 0 0 0 0 0 0 1 0 0 0 1 0 0 0 1 0 0 0 1 0 0 0 0 0 0 0 1 0 1 0 0 0 0 0 0 0 0 0 1 0 0 0 0 0 0 0 0 0 0 0 0 0 0 0 1 0 1 0 0 0 0 0 0 0 0 0 1 0 1 0 0 0 1 0 0 0 0 0 1 0 0 0 1 0 0 0 0 0 1 0 0 0 1 0 0 0 1 0 0 0 1 0 0 0 1 0 1 0 0 0 0 0 2 0 0 0 2 0 5 1-2 0-6 0-2 0-7 0 0 0-1 0-2 0-1 0 0 0 0 0-1 0-1 0 0 0 0 0-1 0 0 0-1 0-1 0-1 0 0 0 0 0 0 0-1 0 0 0 0 0 0 0-1 0-2 0 0 0 0 0-1 0 0 0-1 0 0 0 0 0 0 0 0 0-1 0 0 0 0 0 0 0-1 0-1 0 0 0 0 0-4 0 0 0 0 0-1 1 5 0 0 0 1 0 0 0 0 0 1 0 0 0 1 0 1 0 0 0 2 0 1 0 2 0 0 0 1 0 1 0 0 0 0 0 2 0 1 0 2 0 0 0 1 0 0 0 1 0 0 0 1 0 2 0 1 0 4 0 0 0 8 1-13 0-1 0-6 0 0 0-2 0-3 0-2 0-1 0-2 0-4 0-4 0 0 1 8 0 6 0 1 0 1 0 3 0 12 0-17 1-1 0-2 1 4 0 1 0"/>
<path class="k7" d="M183 103l7 1-10 1-8 0-3 0 1 1 7 0 13 0 1 0 3 1-9 0-2 0-5 0-6 0-3 0-16 0-1 0 4 1 9 0 4 0 1 0 3 0 0 0 1 0 3 0 1 0 5 1-1 0-7 0-2 0-3 0-1 0-5 0-5 0-10 1 2 0 1 0 1 0 2 0 1 0 2 0 3 0 5 0 2 0 1 0 2 0 0 0 2 0 4 0 1 0 7 0-4 1-5 0-3 0-5 0-1 0-1 0-1 0-3 0 0 0 0 0-2 0 0 0-1 0 0 0-2 0-2 0-1 0-1 0-2 0 0 0-1 0-2 0-3 0-5 0 3 1 1 0 4 0 1 0 0 0 0 0 1 0 0 0 1 0 3 0 3 0 0 0 1 0 0 0 8 0 0 0 1 0 1 0 1 0 0 0 2 0 0 0 14 0-9 1-4 0-1 0 0 0 0 0-1 0 0 0-2 0-1 0-1 0-1 0-1 0-1 0 0 0-2 0-1 0-1 0-3 0-1 0-1 0 0 0 0 0-1 0 0 0-1 0 0 0-1 0-1 0-2 0-1 0 0 0-1 0-1 0 0 0 0 0 0 0-1 0-2 0-1 0-1 0 0 0 0 0-2 0-2 0-3 0-2 0-3 0-2 0-1 1 7 0 1 0 3 0 1 0 1 0 1 0 0 0 1 0 0 0 1 0 0 0 1 0 1 0 0 0 0 0 0 0 1 0 0 0 0 0 1 0 1 0 1 0 0 0 0 0 1 0 1 0 1 0 1 0 1 0 0 0 0 0 0 0 1 0 1 0 0 0 0 0 0 0 1 0 1 0 2 0 1 0 0 0 1 0 0 0 1 0 2 0 2 0 0 0 0 0 0 0 2 0 1 0 1 0 4 0 4 0-2 1-5 0-4 0-1 0-1 0 0 0-3 0 0 0-3 0 0 0-2 0-1 0-1 0 0 0-1 0-1 0 0 0 0 0 0 0 0 0-1 0 0 0-1 0 0 0-1 0 0 0 0 0 0 0-2 0-1 0 0 0 0 0-1 0-1 0 0 0 0 0-1 0 0 0-1 0-1 0 0 0 0 0 0 0-1 0-1 0 0 0-1 0-1 0-1 0-1 0-2 0 0 0-2 0-2 0 0 0 0 0-10 1 1 0 3 0 2 0 1 0 0 0 0 0 1 0 1 0 1 0 0 0 0 0 0 0 0 0 1 0 0 0 0 0 0 0 2 0 1 0 0 0 0 0 1 0 0 0 1 0 0 0 0 0 0 0 1 0 0 0 0 0 0 0 1 0 0 0 1 0 0 0 1 0 0 0 0 0 0 0 0 0 1 0 0 0 0 0 2 0 0 0 0 0 0 0 0 0 0 0 0 0 1 0 0 0 0 0 0 0 1 0 0 0 1 0 1 0 0 0 0 0 0 0 1 0 1 0 2 0 0 0 1 0 0 0 0 0 1 0 2 0 0 0 2 0 1 0 1 0 0 0 5 0 1 0 1 0 1 0 2 0-8 1-1 0-3 0-1 0-1 0 0 0 0 0-1 0-1 0 0 0-3 0 0 0-1 0 0 0 0 0-1 0-2 0 0 0-1 0 0 0 0 0 0 0 0 0-1 0 0 0 0 0 0 0-1 0 0 0 0 0 0 0 0 0 0 0-1 0 0 0-2 0 0 0 0 0 0 0 0 0-1 0 0 0 0 0 0 0-1 0 0 0 0 0-1 0 0 0 0 0 0 0 0 0 0 0 0 0-1 0 0 0 0 0 0 0 0 0 0 0-1 0 0 0 0 0 0 0 0 0 0 0 0 0-1 0 0 0 0 0-1 0 0 0-1 0 0 0 0 0 0 0-1 0 0 0 0 0-1 0-1 0 0 0 0 0-2 0 0 0 0 0-1 0 0 0 0 0-1 0-1 0 0 0 0 0 0 0-2 0-1 0-2 0-2 0-1 1 0 0 1 0 0 0 1 0 3 0 3 0 0 0 0 0 0 0 0 0 1 0 0 0 0 0 0 0 1 0 0 0 1 0 0 0 0 0 0 0 1 0 0 0 0 0 0 0 0 0 0 0 1 0 0 0 0 0 1 0 0 0 1 0 0 0 0 0 0 0 1 0 0 0 0 0 0 0 0 0 0 0 0 0 1 0 0 0 0 0 0 0 1 0 0 0 0 0 0 0 1 0 0 0 1 0 0 0 1 0 0 0 1 0 0 0 0 0 0 0 0 0 0 0 1 0 1 0 0 0 0 0 1 0 0 0 0 0 1 0 0 0 0 0 1 0 0 0 0 0 0 0 1 0 1 0 1 0 2 0 2 0 1 0 2 0 0 0 11 0-11 1-1 0-3 0-1 0 0 0-2 0 0 0-3 0 0 0 0 0-1 0 0 0 0 0-1 0-1 0 0 0 0 0 0 0 0 0 0 0-1 0 0 0-1 0 0 0 0 0 0 0 0 0 0 0 0 0-1 0 0 0 0 0-1 0 0 0 0 0 0 0-1 0 0 0 0 0-1 0 0 0 0 0-1 0 0 0-1 0 0 0 0 0 0 0 0 0 0 0 0 0-1 0 0 0-1 0 0 0 0 0 0 0 0 0-1 0 0 0-1 0-1 0 0 0 0 0 0 0 0 0-1 0 0 0 0 0 0 0 0 0-1 0 0 0 0 0 0 0-1 0 0 0 0 0 0 0-2 0 0 0-1 0 0 0-1 0 0 0 0 0 0 0-1 0-1 0-4 0-1 0-3 0 2 1 1 0 1 0 1 0 1 0 1 0 0 0 1 0 0 0 0 0 1 0 0 0 2 0 0 0 0 0 0 0 0 0 1 0 0 0 0 0 0 0 0 0 0 0 0 0 1 0 0 0 0 0 0 0 1 0 0 0 0 0 0 0 0 0 0 0 0 0 0 0 0 0 1 0 0 0 1 0 1 0 0 0 0 0 0 0 1 0 1 0 0 0 1 0 0 0 0 0 0 0 0 0 0 0 1 0 0 0 0 0 0 0 1 0 0 0 1 0 0 0 0 0 0 0 1 0 1 0 0 0 1 0 0 0 0 0 1 0 1 0 0 0 0 0 0 0 1 0 0 0 0 0 2 0 1 0 3 0 0 0 7 0 4 0 3 1-7 0-5 0 0 0-1 0-2 0 0 0-3 0 0 0-1 0 0 0-1 0 0 0-2 0 0 0 0 0-2 0 0 0 0 0-1 0-1 0 0 0-1 0 0 0 0 0 0 0 0 0 0 0 0 0-1 0 0 0-1 0 0 0 0 0 0 0-1 0 0 0 0 0-1 0 0 0 0 0 0 0 0 0 0 0-1 0 0 0-1 0 0 0-1 0 0 0 0 0 0 0-1 0 0 0-1 0 0 0 0 0-1 0 0 0 0 0 0 0 0 0-1 0 0 0-1 0-1 0 0 0 0 0 0 0 0 0-1 0 0 0-1 0 0 0-1 0 0 0-1 0-2 0 0 0 0 0-1 0-2 0-1 1 2 0 1 0 1 0 0 0 0 0 0 0 0 0 1 0 0 0 0 0 0 0 1 0 0 0 1 0 1 0 0 0 0 0 1 0 0 0 1 0 0 0 0 0 1 0 0 0 0 0 1 0 0 0 0 0 0 0 1 0 0 0 0 0 0 0 0 0 1 0 0 0 0 0 0 0 1 0 0 0 0 0 0 0 0 0 0 0 0 0 2 0 0 0 1 0 0 0 0 0 0 0 0 0 1 0 0 0 0 0 1 0 0 0 1 0 0 0 1 0 0 0 0 0 0 0 1 0 1 0 0 0 1 0 1 0 0 0 0 0 0 0 1 0 1 0 0 0 2 0 1 0 0 0 1 0 1 1-5 0-1 0 0 0-1 0-1 0-2 0-1 0-1 0-2 0 0 0-1 0 0 0 0 0-1 0-1 0-1 0 0 0-1 0 0 0-1 0 0 0 0 0-1 0-1 0 0 0 0 0 0 0-1 0 0 0 0 0 0 0 0 0 0 0-1 0 0 0 0 0 0 0-1 0 0 0 0 0 0 0-1 0 0 0 0 0-1 0 0 0-1 0 0 0 0 0 0 0-1 0 0 0 0 0 0 0-1 0-1 0-1 0 0 0 0 0-1 0-1 0 0 0-2 0-2 1 3 0 1 0 3 0 1 0 0 0 1 0 2 0 0 0 0 0 1 0 0 0 0 0 1 0 0 0 0 0 0 0 0 0 0 0 1 0 0 0 2 0 1 0 0 0 0 0 0 0 0 0 1 0 0 0 4 0 1 0 1 0 1 0 10 0 2 0-4 1-10 0-1 0-2 0-1 0 0 0-4 0 0 0 0 0 0 0-1 0-1 0-1 0 0 0-1 0 0 0-1 0-4 0-1 0 0 0-3 0 0 0 0 1 0 0 7 0 2 0 8 0 3 1-5 0-7 0-1 0-5 0 4 1"/>
</g>
<rect x="68.6" y="4.6" width="128.0" height="130.6" fill="none" stroke="#222" stroke-width="1.1"/>
<path d="M68.6 130.1h-1.2M73.6 135.2v1.2M68.6 125.0h-1.2M78.6 135.2v1.2M68.6 119.9h-1.2M83.6 135.2v1.2M68.6 114.8h-1.2M88.6 135.2v1.2M68.6 109.7h-1.2M93.6 135.2v1.2M68.6 104.6h-1.2M98.6 135.2v1.2M68.6 99.5h-1.2M103.6 135.2v1.2M68.6 94.4h-1.2M108.6 135.2v1.2M68.6 89.3h-1.2M113.6 135.2v1.2M68.6 84.2h-1.2M118.6 135.2v1.2M68.6 79.1h-1.2M123.6 135.2v1.2M68.6 74.0h-1.2M128.6 135.2v1.2M68.6 68.9h-1.2M133.6 135.2v1.2M68.6 63.8h-1.2M138.6 135.2v1.2M68.6 58.7h-1.2M143.6 135.2v1.2M68.6 53.6h-1.2M148.6 135.2v1.2M68.6 48.5h-1.2M153.6 135.2v1.2M68.6 43.4h-1.2M158.6 135.2v1.2M68.6 38.3h-1.2M163.6 135.2v1.2M68.6 33.2h-1.2M168.6 135.2v1.2M68.6 28.1h-1.2M173.6 135.2v1.2M68.6 23.0h-1.2M178.6 135.2v1.2M68.6 17.9h-1.2M183.6 135.2v1.2M68.6 12.8h-1.2M188.6 135.2v1.2M68.6 7.7h-1.2M193.6 135.2v1.2" stroke="#222" stroke-width="1.1"/>
<text transform="translate(66.4 19.2) rotate(-90)" font-family="Liberation Sans" font-weight="bold" font-size="5.6" fill="#333">1023</text>
<text transform="translate(59.8 73.7) rotate(-90)" font-family="Liberation Sans" font-weight="bold" font-size="5.6" fill="#444">SS</text>
<text x="62.2" y="137.2" font-family="Liberation Sans" font-weight="bold" font-size="5.6" fill="#333">0</text>
<text x="67.1" y="141.4" font-family="Liberation Sans" font-weight="bold" font-size="5.6" fill="#333">0</text>
<text x="128.8" y="148.2" font-family="Liberation Sans" font-weight="bold" font-size="5.6" fill="#444">FS</text>
<text x="196.8" y="142.4" font-family="Liberation Sans" font-weight="bold" font-size="5.6" fill="#333" text-anchor="end">1023</text>
<text x="194.5" y="24.4" font-family="Liberation Serif" stroke="#000" stroke-width="0.32" font-size="17.5" text-anchor="end">77%</text>
<text x="107.3" y="172.2" font-family="Liberation Serif" stroke="#000" stroke-width="0.32" font-size="17" textLength="52.8" lengthAdjust="spacingAndGlyphs">Control</text>
<g filter="url(#bl)">
<path class="k0" d="M295 8l-34 3 30 3 31 9-22 0 2 4-26 8 44 4 28 2-47 0-17 7 30 3-53 4-28 1 87 1 29 5-83 1 77 1 8 11-108 5 75 2-11 2-78 1 36 3 41 2 24 3-85 0 68 6 37 1-15 1-66 2-11 8 12 2 72 4-60 1-36 2 21 0-27 4 81 3 27 2"/>
<path class="k1" d="M320 15l-20 1-2 17-20 9 19 4-6 4-6 2-9 5-7 2 39 1 18 1-25 0-7 2-21 1 25 0-18 1-13 0-10 1 38 0 5 0-17 2 3 0 0 0 9 1-32 0 1 1 12 1-1 0-12 0 34 1 5 0-23 1-16 0 2 1 3 0 11 0 12 0 12 1-4 0-41 1 4 0 19 0 16 0 11 1-17 0-13 0-22 1 6 0 6 0 6 0 15 0 9 0-30 1-17 1 15 0-14 2 10 0 7 0 46 0-25 1-4 0-5 0-7 0-1 0-2 0-6 0-1 0 0 0-6 1 38 0-13 1-10 0-12 0-2 0-5 1 12 0 6 0 5 0 33 1-13 0-8 0-10 0-6 0-2 0-4 0-4 0-3 0-6 0 9 1 2 0 37 0-3 1-18 0-12 0-1 0-9 1 2 0 3 0 4 0 4 0 4 0 0 0 3 0 5 0 5 0 29 0 13 0-18 1-5 0-25 0-20 0-1 0-15 1 11 0 8 0 12 0 11 0 4 0-22 1-5 0-9 0-4 0 0 0-15 1 9 0 20 0 1 0 3 0 1 0 9 0 8 0-9 1 0 0-1 0 0 0-8 0-2 0-9 0-3 0-6 0-10 1 14 0 2 0 2 0 5 0 0 0 1 0 2 0 2 0 3 0 3 0 8 0 5 0 3 0 2 0 12 0-17 1-5 0-11 0 0 0-1 0-3 0-1 0-2 0-21 1 7 0 3 0 13 0 4 0 1 0 8 0 13 0 0 1-19 0-6 0-11 0-5 0-4 0-3 1 4 0 23 0 1 0 1 0 0 0 12 0 22 1-32 0-4 0-1 0 0 0-5 0 0 0-2 0-3 0-3 0-1 0 0 0-2 0 0 1 3 0 1 0 2 0 4 0 6 0 2 0 4 0 1 0 2 0 7 0-24 1-2 0-6 0-2 0 0 0-2 0-2 1 2 0 3 0 1 0 3 0 6 0 0 0 1 0 1 0 3 0 4 0 19 1-14 0-10 0-4 0-1 0-1 0-1 0-1 0-2 0-1 0-1 0-2 0-2 0-1 0-2 0-3 0-3 0 3 1 5 0 2 0 1 0 5 0 3 0 1 0 0 0 1 0 2 0 3 0 0 0 5 0 7 0 40 0-26 1-21 0-2 0-4 0-7 0-1 0-1 0-1 0 0 0-5 0-3 0-15 1 15 0 1 0 3 0 4 0 4 0 2 0 2 0 0 0 1 0 14 0 9 1-22 0 0 0 0 0-2 0-3 0-4 0-1 0-1 0 0 0 0 0-1 0 0 0-3 0-3 0-2 0-8 0 12 1 2 0 2 0 0 0 1 0 5 0 1 0 1 0 1 0 5 0 1 0 12 0 0 1-2 0-5 0-1 0-9 0 0 0-2 0-6 0-1 0-1 0-2 0-1 0-1 0-1 0-1 0 0 0-7 0 7 1 2 0 3 0 1 0 4 0 0 0 1 0 1 0 2 0 0 0 6 0 3 0 5 0 4 0 14 1-9 0-7 0-9 0-8 0-6 0-2 0-1 0 0 0-1 0 0 0-1 0 0 0-3 0 0 0-4 1 7 0 1 0 0 0 2 0 0 0 5 0 1 0 0 0 2 0 2 0 0 0 12 1-1 0-4 0-3 0-11 0-1 0-5 0-2 0 0 0-3 0-1 0 0 0 0 0-4 0-4 0 6 1 10 0 2 0 4 0 3 0 5 0 4 1-4 0-3 0-1 0-2 0-1 0-1 0-1 0-2 0-1 0-1 0-6 0-1 0-5 0-2 0-3 1 3 0 2 0 1 0 0 0 1 0 1 0 0 0 1 0 0 0 0 0 2 0 1 0 2 0 0 0 1 0 2 0 3 0 1 0 3 0 0 0 3 0 6 0-5 1-2 0-3 0-1 0-5 0-3 0 0 0-1 0 0 0-2 0 0 0 0 0-4 0 0 0-7 0 4 1 1 0 0 0 1 0 1 0 0 0 2 0 0 0 1 0 0 0 1 0 0 0 0 0 1 0 0 0 2 0 0 0 0 0 0 0 1 0 2 0 1 0 4 0 1 0 8 0 4 0 12 0-13 1-3 0-6 0-2 0-5 0-2 0-3 0 0 0 0 0-2 0-2 0-2 0-6 1 5 0 4 0 0 0 2 0 1 0 0 0 1 0 1 0 0 0 1 0 0 0 0 0 1 0 1 0 1 0 1 0 1 0 1 0 25 1-18 0-4 0-6 0-1 0 0 0-1 0-3 0 0 0-2 0-1 0-3 0 0 0-1 0 0 0-7 1 0 0 3 0 2 0 1 0 1 0 3 0 2 0 0 0 0 0 1 0 2 0 20 0 1 1-10 0-3 0-5 0-5 0 0 0 0 0-2 0 0 0-1 0 0 0 0 0-4 0 0 0-1 0-2 0 0 0 0 0 0 0 4 1 1 0 0 0 1 0 1 0 5 0 0 0 6 0 2 0 7 0-6 1-7 0 0 0-1 0-3 0-2 0 0 0-1 0-3 0-1 0-1 0-1 0-1 0-1 0-1 0-4 1 4 0 0 0 2 0 3 0 4 0 0 0 1 0 1 0 1 0 2 0 0 0 5 0 4 0 12 1-12 0-2 0-7 0-2 0-2 0 0 0-3 0-1 0-1 0 0 0-2 0-1 0 0 0 4 1 1 0 0 0 3 0 3 0 4 1-12 0-3 0-2 1 0 0 16 0-15 2 2 0"/>
<path class="k2" d="M313 23l4 5-6 3-29 4 46 6-17 4 21 4-60 3 13 1-1 0 19 2-35 0 6 1 11 5-21 0 30 1 7 1-34 5 17 1-4 0-33 0 12 1 3 0 4 0 13 0 27 1-22 0-3 0-10 0-12 1 23 0 6 0 7 1-40 1 33 0 3 1-23 1 11 0 19 0 6 1-9 0-23 0-15 0 12 1 27 1-13 0-6 0-26 0 13 1 8 0 14 0 31 0-41 1-11 0-10 1 9 0 14 0 0 0 13 0-16 1-6 0-9 0-9 1 10 0 1 0 40 1-23 0-1 0-9 0-6 0-9 0-2 0 17 1 4 0 3 0 3 0 13 1-20 0-23 1 3 0 3 0 18 0 0 0 8 0 8 0 14 1-15 0-19 0-6 0-7 0-5 0-2 1 6 0 3 0 9 0 8 0 0 0 13 0 1 1-26 0-19 1 14 0 6 0 5 0 0 0 0 0 0 0 14 0 5 0-5 1-2 0-4 0-10 0 0 0-7 0-1 0-2 0-2 0 5 1 6 0 3 0 2 0 2 0 6 0 6 0 7 0 8 1-27 0-1 0-11 0-4 0-1 0-3 0-2 0 35 1 1 0-6 1-7 0-10 0-2 0-3 0-2 0-1 0-1 0-1 0-5 0-1 0 5 1 1 0 2 0 1 0 0 0 5 0 11 0 5 0 10 0 4 1-8 0-11 0-2 0-2 0-2 0-5 0-6 0 0 0-6 0-6 1 6 0 4 0 2 0 12 0 3 0 21 1-4 0-13 0-1 0-4 0-2 0 0 0-3 0 0 0-2 0-5 0-4 0 0 0-3 0-6 1 1 0 4 0 0 0 6 0 2 0 5 0 1 0 2 0 2 0 1 0 0 0 1 0 1 0 2 0 11 0 16 0-20 1-5 0 0 0-10 0-3 0-1 0-1 0-2 0-3 0-2 0-1 0-1 0-3 1 1 0 1 0 1 0 0 0 3 0 1 0 0 0 1 0 1 0 3 0 2 0 4 0 2 0 11 0 2 0 1 1-13 0 0 0-2 0-1 0-3 0-1 0-2 0-2 0-1 0 0 0-1 0-1 0-10 0 0 1 5 0 3 0 0 0 2 0 1 0 1 0 1 0 3 0 0 0 1 0 5 0 5 0 1 0 1 0-1 1-3 0-2 0-3 0-3 0 0 0-4 0-3 0-4 0 0 0-4 0-4 0 7 1 2 0 0 0 0 0 4 0 4 0 5 0 1 0 5 1-7 0-2 0-2 0-6 0-1 0-2 0-3 0 0 0-1 0-8 0 6 1 3 0 3 0 0 0 0 0 0 0 0 0 1 0 1 0 0 0 2 0 1 0 1 0 4 0 3 0 1 0 0 0 4 0 7 0 1 0 7 0-5 1-8 0-3 0-3 0-2 0 0 0-2 0 0 0-1 0-1 0-2 0-2 0-1 0 0 0-1 0-1 0-1 0 0 0 0 0-4 0 0 0-2 0-1 0 5 1 1 0 0 0 3 0 0 0 3 0 3 0 0 0 3 0 1 0 0 0 0 0 0 1-4 0-2 0-2 0-2 0-1 0 0 0-1 0 0 0-1 0-3 0-9 1 5 0 0 0 2 0 0 0 2 0 1 0 1 0 4 0 0 0 1 0 1 0 2 0 0 0 2 0 4 0 1 0 0 0 1 0 4 0-5 1-3 0-4 0-2 0-1 0-1 0-2 0 0 0-1 0-1 0 0 0-2 0-3 0-1 0-1 1 3 0 2 0 1 0 1 0 0 0 0 0 0 0 2 0 0 0 0 0 1 0 1 0 0 0 0 0 3 0 2 0 7 0 8 0 5 0-14 1-2 0-1 0 0 0-2 0 0 0-1 0-1 0-5 0 0 0-1 0 0 0-4 0 0 0-1 0-4 0-1 0-2 0-5 0 7 1 2 0 2 0 0 0 0 0 1 0 0 0 4 0 0 0 0 0 1 0 1 0 4 0 0 0 3 0 1 0 6 0 7 0-2 1-6 0-2 0-6 0-1 0-2 0 0 0-3 0-1 0-1 0 0 0-1 0-3 0 0 0-1 0-2 0-3 0 3 1 1 0 0 0 1 0 2 0 2 0 2 0 2 0 2 0 1 0 1 0 3 0 3 0 3 0 3 1-2 0-3 0-2 0-1 0-5 0-1 0 0 0-1 0-4 0 0 0-1 0-1 0-1 0-6 0 0 0-1 1 4 0 1 0 1 0 0 0 2 0 1 0 1 0 1 0 1 0 0 0 0 0 0 0 0 0 1 0 0 0 0 0 0 0 2 0 3 0 0 0 8 0-7 1-1 0-3 0-2 0-1 0-1 0-2 0 0 0 0 0-3 0 0 0 0 0-1 0-3 0-3 1 2 0 2 0 0 0 0 0 1 0 1 0 2 0 0 0 0 0 1 0 1 0 1 0 0 0 0 0 1 0 1 0 1 0 2 0 0 0 2 0 3 0-3 1-1 0-5 0-1 0 0 0-1 0-2 0-1 0-1 0 0 0-1 0-1 0-1 0-1 0-3 0 2 1 1 0 4 0 0 0 1 0 1 0 0 0 1 0 1 0 0 0 0 0 1 0 0 0 2 0 1 0 1 0 5 1-2 0-1 0-4 0-2 0-1 0-2 0-1 0 0 0-2 0 0 0-5 0 0 1 2 0 1 0 1 0 0 0 6 0 0 0 3 0 0 0 16 0-13 1-3 0 0 0-2 0-2 0-2 0-1 0 0 0-1 0 0 0-1 0 0 0-1 0-2 0-2 0 0 1 0 0 2 0 0 0 1 0 1 0 0 0 3 0 0 0 2 0 4 0 1 0 12 0-15 1-1 0-2 0-1 0 0 0 0 0-1 0-2 0-2 0 1 1 1 0 0 0 0 0 1 0 0 0 0 0 1 0 0 0 0 0 7 0-8 1-1 0 0 0-3 1 1 0 0 0"/>
<path class="k3" d="M293 59l-18 3 4 7-2 2-10 1 0 3-3 0-2 1 17 1-23 0 18 1 2 3-22 0-5 1 19 0-6 1-5 0-3 0-1 0-5 1 1 1-1 1 6 0 9 0 2 0 2 0-17 1 7 1 2 0 5 0 1 0 7 0-14 1-2 0-6 0 0 0-3 0 0 0-1 1 15 0 26 0-13 1-12 0-3 0-1 0-6 0 0 0-6 1 15 0 1 0 7 0 5 0-6 1-7 0-7 0-1 0-9 1 8 0 2 0 2 0 3 0 3 0 8 1-8 0-4 0-3 0-1 0-2 1 8 0 2 0 0 0 3 0 6 1-8 0 0 0-2 0 0 0-2 0-2 0-6 0-1 0-6 1 2 0 3 0 2 0 1 0 6 0 2 0 6 0 10 0 4 1-4 0-2 0-17 0-8 0-1 0-2 0-1 0 4 1 3 0 1 0 0 0 4 0 2 0 4 0 6 0 4 0-7 1-1 0-7 0 0 0-2 0-3 0-2 0-2 0-1 0-2 0-3 0-1 1 1 0 1 0 2 0 0 0 6 0 4 0 1 0 0 0 0 0 1 0 0 0 1 0 2 0 1 0 7 1-1 0-4 0-5 0-1 0-1 0-2 0 0 0 0 0-3 0-1 0-1 0 0 0-2 0-1 0-1 0 0 0 0 0-1 0-1 0 0 0-1 0-1 0 0 1 3 0 2 0 0 0 1 0 0 0 0 0 1 0 0 0 1 0 1 0 2 0 0 0 1 0 1 0 0 0 2 0 0 0 1 0 2 0 1 0 0 0 2 0 1 0 3 1-1 0-4 0-4 0-1 0 0 0-2 0 0 0-2 0-2 0 0 0 0 0-1 0-1 0-1 0-1 0 0 0-1 0-2 0-7 0 9 1 1 0 2 0 1 0 1 0 0 0 0 0 2 0 2 0 1 0 0 0 1 0 0 0 3 0 2 0 6 0 4 0 6 1-12 0-2 0-2 0-1 0-2 0-1 0-1 0-2 0-1 0-1 0-1 0-1 0-2 0 0 0 0 0 0 0-9 0-3 0 2 1 4 0 2 0 1 0 0 0 0 0 1 0 1 0 1 0 1 0 0 0 1 0 0 0 0 0 0 0 1 0 0 0 1 0 0 0 0 0 0 0 1 0 1 0 0 0 1 0 0 0 2 0 1 0 0 0 4 0 0 0-2 1-4 0-1 0-1 0 0 0-1 0 0 0-1 0 0 0 0 0-2 0-1 0-2 0 0 0 0 0 0 0 0 0-1 0-2 0 0 0-1 0-2 0 0 0 0 0-3 1 2 0 1 0 2 0 1 0 0 0 1 0 0 0 0 0 2 0 1 0 0 0 0 0 1 0 0 0 1 0 0 0 0 0 1 0 1 0 0 0 0 0 1 0 1 0 1 0 1 0 0 0 0 0 1 0 1 0 0 0 1 0 1 0 2 0 4 1-6 0-2 0-2 0-3 0 0 0 0 0-2 0-1 0-1 0 0 0 0 0 0 0 0 0-1 0 0 0 0 0 0 0 0 0-1 0 0 0-1 0-1 0 0 0-1 0 0 0-1 0-1 0 0 0-2 0-1 0-1 0-2 1 3 0 1 0 2 0 1 0 0 0 1 0 1 0 0 0 0 0 0 0 1 0 2 0 0 0 0 0 1 0 0 0 0 0 0 0 1 0 0 0 0 0 0 0 1 0 0 0 1 0 0 0 1 0 0 0 0 0 0 0 1 0 1 0 1 0 1 0 0 0 3 0-2 1-4 0-1 0 0 0-1 0-2 0 0 0 0 0-1 0 0 0-1 0 0 0 0 0 0 0 0 0-1 0 0 0 0 0-1 0-1 0-1 0 0 0-1 0 0 0 0 0 0 0 0 0-2 0 0 0-1 0-1 0 0 0-1 1 1 0 2 0 0 0 0 0 1 0 0 0 0 0 1 0 0 0 1 0 0 0 0 0 1 0 0 0 0 0 0 0 1 0 0 0 0 0 0 0 1 0 1 0 0 0 0 0 0 0 1 0 0 0 0 0 0 0 1 0 0 0 0 0 1 0 0 0 0 0 1 0 0 0 0 0 1 0 0 0 1 0 0 0 0 0 0 0 1 0 2 0 1 1-2 0-2 0-1 0 0 0 0 0-2 0 0 0-1 0 0 0-1 0 0 0 0 0 0 0-2 0 0 0 0 0-1 0 0 0 0 0-2 0 0 0-1 0 0 0 0 0 0 0 0 0 0 0-1 0 0 0 0 0-1 0 0 0 0 0-2 0 0 0 0 0-1 0 1 1 0 0 0 0 1 0 0 0 0 0 1 0 0 0 0 0 1 0 0 0 0 0 0 0 0 0 1 0 0 0 0 0 0 0 0 0 0 0 1 0 1 0 0 0 1 0 0 0 0 0 1 0 0 0 0 0 0 0 0 0 1 0 0 0 0 0 1 0 0 0 0 0 0 0 1 0 0 0 0 0 1 0 1 0 2 0 3 0 4 1-3 0-4 0 0 0-1 0-1 0 0 0-2 0 0 0 0 0 0 0 0 0 0 0-1 0 0 0 0 0-1 0 0 0 0 0-1 0 0 0 0 0-1 0 0 0 0 0-1 0 0 0 0 0 0 0 0 0-1 0 0 0 0 0 0 0 0 0 0 0 0 0 0 0 0 0-1 0 0 0 0 0 0 0 0 0-1 0 0 0-1 0 0 0-1 0 0 0 0 0 0 0 0 0-2 0-1 0-3 1 3 0 1 0 1 0 0 0 1 0 0 0 1 0 0 0 0 0 0 0 1 0 0 0 0 0 0 0 1 0 0 0 0 0 0 0 0 0 0 0 1 0 0 0 0 0 0 0 0 0 1 0 0 0 0 0 0 0 1 0 0 0 0 0 0 0 0 0 0 0 1 0 0 0 0 0 1 0 0 0 1 0 0 0 0 0 0 0 1 0 0 0 1 0 0 0 1 0 0 0 1 0 0 0 1 0 1 0 1 0 1 1-3 0-1 0-2 0 0 0 0 0 0 0-1 0-1 0 0 0-1 0 0 0 0 0 0 0-1 0 0 0 0 0-1 0 0 0 0 0 0 0-1 0 0 0 0 0 0 0 0 0 0 0-1 0 0 0 0 0 0 0 0 0 0 0-1 0 0 0 0 0-1 0 0 0 0 0 0 0 0 0 0 0 0 0 0 0 0 0-1 0 0 0 0 0-1 0 0 0 0 0 0 0-1 0 0 0 0 0 0 0-2 0-2 1 2 0 0 0 0 0 1 0 0 0 1 0 1 0 0 0 0 0 1 0 0 0 0 0 1 0 0 0 0 0 0 0 0 0 0 0 1 0 0 0 0 0 0 0 0 0 1 0 0 0 0 0 0 0 0 0 0 0 0 0 1 0 1 0 0 0 0 0 0 0 1 0 0 0 0 0 1 0 0 0 0 0 0 0 0 0 1 0 0 0 2 0 1 0 2 0 2 0 1 0 1 0-4 1-2 0 0 0-2 0 0 0-1 0 0 0 0 0 0 0 0 0-1 0 0 0 0 0-1 0 0 0 0 0 0 0 0 0 0 0 0 0-1 0 0 0 0 0 0 0 0 0-1 0 0 0 0 0 0 0 0 0 0 0 0 0-1 0 0 0 0 0 0 0 0 0 0 0 0 0 0 0 0 0-1 0 0 0 0 0 0 0 0 0 0 0-1 0 0 0 0 0 0 0 0 0 0 0 0 0-1 0 0 0 0 0 0 0 0 0 0 0-2 0-1 0 0 0-3 0-1 0 2 1 0 0 0 0 1 0 0 0 1 0 0 0 0 0 1 0 0 0 0 0 0 0 0 0 0 0 0 0 0 0 1 0 0 0 0 0 0 0 0 0 1 0 0 0 0 0 1 0 0 0 0 0 0 0 0 0 0 0 0 0 1 0 0 0 0 0 0 0 0 0 1 0 0 0 0 0 0 0 0 0 0 0 1 0 0 0 0 0 0 0 0 0 0 0 1 0 0 0 0 0 0 0 1 0 0 0 0 0 0 0 0 0 0 0 0 0 0 0 1 0 0 0 0 0 1 0 0 0 0 0 1 0 2 1-2 0 0 0 0 0-1 0-1 0-1 0-1 0 0 0 0 0-1 0 0 0 0 0-1 0 0 0 0 0 0 0 0 0 0 0 0 0 0 0 0 0 0 0-1 0 0 0 0 0 0 0 0 0 0 0 0 0-1 0 0 0 0 0 0 0 0 0 0 0 0 0 0 0-1 0 0 0 0 0 0 0 0 0 0 0 0 0 0 0 0 0 0 0 0 0 0 0 0 0-1 0 0 0 0 0 0 0 0 0 0 0 0 0 0 0-1 0 0 0-1 0 0 0 0 0-1 0 0 0 0 0-1 0-2 1 3 0 1 0 0 0 0 0 0 0 1 0 0 0 0 0 0 0 0 0 1 0 0 0 0 0 0 0 0 0 0 0 1 0 0 0 0 0 0 0 0 0 1 0 0 0 0 0 0 0 0 0 0 0 0 0 1 0 0 0 0 0 0 0 0 0 0 0 1 0 0 0 0 0 0 0 0 0 0 0 0 0 0 0 0 0 1 0 1 0 1 0 0 0 0 0 0 0 1 0 0 0 1 0 1 0 1 0 3 0 1 0-4 1 0 0-4 0-1 0 0 0-1 0 0 0 0 0 0 0 0 0-1 0 0 0 0 0 0 0 0 0 0 0-1 0 0 0 0 0 0 0 0 0-1 0 0 0 0 0 0 0 0 0-1 0 0 0 0 0 0 0 0 0 0 0-1 0 0 0 0 0 0 0 0 0 0 0 0 0 0 0-1 0 0 0 0 0 0 0 0 0 0 0 0 0 0 0 0 0 0 0-1 0 0 0 0 0 0 0 0 0-1 0 0 0 0 0 0 0-2 0-1 1 1 0 0 0 1 0 0 0 0 0 1 0 0 0 0 0 1 0 0 0 0 0 0 0 0 0 0 0 0 0 0 0 0 0 0 0 1 0 0 0 0 0 0 0 0 0 0 0 1 0 0 0 0 0 0 0 0 0 1 0 0 0 0 0 0 0 0 0 0 0 0 0 0 0 1 0 0 0 0 0 0 0 0 0 1 0 0 0 0 0 0 0 0 0 0 0 0 0 0 0 0 0 1 0 0 0 0 0 0 0 0 0 0 0 0 0 1 0 0 0 0 0 0 0 0 0 1 0 1 0 2 0 0 0 1 0 1 0-2 1-3 0 0 0 0 0-2 0 0 0 0 0 0 0 0 0 0 0-1 0 0 0 0 0 0 0 0 0 0 0 0 0-1 0 0 0 0 0 0 0-1 0 0 0 0 0 0 0 0 0 0 0 0 0 0 0-1 0 0 0 0 0 0 0 0 0 0 0 0 0 0 0-2 0 0 0 0 0 0 0 0 0 0 0 0 0-1 0 0 0-1 0 0 0 0 0 0 0 0 0 0 0 0 0-1 0 0 0 0 0 0 0-2 1 1 0 1 0 1 0 0 0 1 0 0 0 1 0 0 0 0 0 0 0 0 0 0 0 0 0 0 0 0 0 0 0 1 0 0 0 0 0 0 0 0 0 1 0 0 0 0 0 0 0 0 0 0 0 0 0 0 0 0 0 0 0 1 0 0 0 0 0 1 0 0 0 0 0 1 0 0 0 0 0 2 0 0 0 0 0 0 0 4 1-6 0 0 0 0 0 0 0-1 0 0 0 0 0 0 0 0 0 0 0-1 0-1 0 0 0 0 0 0 0 0 0 0 0 0 0 0 0-1 0 0 0 0 0 0 0 0 0 0 0-1 0 0 0 0 0-1 0 0 0 0 0-1 0 0 0 0 0 0 0 0 0-1 0 0 0 0 0-1 1 1 0 0 0 0 0 1 0 0 0 0 0 0 0 0 0 1 0 0 0 0 0 0 0 1 0 0 0 0 0 0 0 0 0 1 0 0 0 0 0 0 0 0 0 0 0 0 0 1 0 0 0 0 0 1 0 0 0 0 0 0 0 0 0 1 0 0 0 0 0 1 0 0 0 1 0 1 0 1 0-4 1 0 0 0 0 0 0-1 0-1 0 0 0 0 0 0 0 0 0-1 0 0 0 0 0 0 0 0 0-1 0 0 0-1 0 0 0 0 0-1 0 0 0 0 0 0 0-1 0 0 0 0 0 0 0-2 0 2 1 0 0 1 0 0 0 0 0 0 0 1 0 0 0 0 0 1 0 0 0 0 0 0 0 0 0 1 0 0 0 0 0 0 0 0 0 1 0 1 0 0 0 0 0 1 0 1 0 0 1-4 0 0 0 0 0-1 0-1 0 0 0-1 0-1 0-1 0 2 1 0 0 1 0 0 0 1 0 0 0 2 0 1 0 0 0 1 0"/>
<path class="k4" d="M333 79l2 1 11 1-9 2 0 3 4 2-1 2 1 0 10 1-20 0-12 0 21 1 3 0-9 2 3 0 7 0-12 1-2 0-7 0-5 0-13 1 22 0 9 0 11 0-5 1-5 0-3 0-2 0-6 0-12 1 4 0 2 0 12 0 8 0-3 1-1 0-5 0-5 0-1 0-6 0-15 1 6 0 8 0 5 0 10 1-1 0-1 0-4 0-1 0-5 0-11 0-2 0-23 1 5 0 19 0 4 0 1 0 2 0 7 0 12 0 10 1-3 0-6 0-9 0-7 0 0 0-7 0-5 0-4 0-12 1 4 0 1 0 3 0 1 0 10 0 3 0 7 0 19 0 6 1-14 0-7 0-5 0-2 0-3 0-3 0-2 0-6 0-8 0-5 1 4 0 3 0 2 0 1 0 1 0 1 0 8 0 0 0 2 0 3 0 3 0 9 0 6 0 7 1-19 0-4 0-5 0-1 0-6 0-2 0-2 0-1 0-1 0-2 0-1 0-12 0 6 1 5 0 1 0 1 0 1 0 3 0 0 0 0 0 2 0 17 0 8 0-13 1-4 0-4 0-2 0 0 0-2 0-7 0-1 0-3 0 0 0-3 0-1 0-1 0-2 0-2 0-9 0 0 1 9 0 6 0 9 0 7 0 18 0 9 0 2 1-8 0-10 0 0 0-8 0-12 0 0 0-2 0-3 0-6 0-6 0-1 1 11 0 0 0 2 0 5 0 8 0 20 0 0 0 9 0-17 1-7 0-5 0-1 0-5 0 0 0-1 0-6 0-2 0-1 0-2 0-7 0-1 0-1 0-4 0-4 1 6 0 1 0 5 0 2 0 4 0 1 0 1 0 1 0 1 0 1 0 7 0 5 0 0 0 13 0-16 1-5 0-2 0 0 0-2 0-3 0-2 0-6 0-3 0-8 1 2 0 4 0 7 0 0 0 5 0 1 0 0 0 1 0 2 0 3 0 6 0 6 1-2 0-16 0 0 0-4 0-1 0-10 0-1 1 0 0 4 0 0 0 5 0 12 0-7 1-3 0-2 0-1 0 0 0-1 0-3 0-2 0-6 0-5 1 3 0 20 0 3 0 1 0 0 1-17 0-1 0-2 0-6 0 0 0 7 1 3 0 3 0 11 0 11 0-19 1 1 1 18 1-16 2 8 3"/>
<path class="k5" d="M336 80l-13 1 16 3-14 2 24 0-24 1 17 2 6 2-34 0 33 1 3 0-5 1-7 0-17 1 11 0 6 0 9 1-1 0-38 1 22 1-9 0-12 0-3 0 26 1 14 0-16 1-10 0 0 0-1 0-3 0 0 0-2 0-3 0-5 0-2 1 33 0-8 1-10 0-2 0-16 0 0 0-12 1 11 0 14 0 1 0 2 0 17 0 17 0-33 1-3 0-10 0-7 0-4 0-18 1 6 0 22 0 4 0 5 0 8 0 2 0 2 0 18 0-1 1-8 0-6 0-4 0 0 0-20 0-4 0-13 0 5 1 3 0 3 0 4 0 1 0 1 0 5 0 3 0 2 0 0 0 1 0 15 0-9 1-9 0-3 0-2 0-13 1 6 0 5 0 1 0 0 0 9 0 0 0 11 0 0 0 6 0 5 0-12 1-9 0-1 0 0 0-2 0-1 0-5 0-7 0-13 0-8 0-5 1 13 0 7 0 4 0 6 0 0 0 5 0 14 0 0 0 12 0-14 1-7 0-4 0-1 0-4 0 0 0 0 0-4 0-1 0-3 0-6 0-2 0-3 0-4 0 0 0-5 1 0 0 4 0 9 0 10 0 1 0 0 0 0 0 2 0 4 0 2 0 19 0 21 0-20 1-6 0-2 0-4 0-10 0-1 0-3 0-3 0-3 0-12 0-2 0 0 0-1 0-1 0-3 1 1 0 0 0 2 0 1 0 0 0 2 0 9 0 5 0 15 0 9 0 9 1-1 0-5 0-3 0-1 0-15 0 0 0-1 0-6 0-1 0-2 0-3 0-3 0-1 0-1 0 0 0-4 0-2 0-9 1 0 0 1 0 2 0 4 0 2 0 2 0 3 0 1 0 5 0 0 0 3 0 4 0 12 1-8 0-5 0-7 0 0 0-2 0-6 0-1 0-5 0-2 0-1 0-4 0-2 0 2 1 8 0 3 0 1 0 0 0 5 0 1 0 1 0 4 0 0 0 3 0 2 0 5 0 1 0-17 1-5 0-3 0-2 0-4 0-1 0-4 0 7 1 1 0 13 0 16 0 2 0 30 1-51 0-2 0-2 0-5 0-3 0-1 1 22 0 13 1-28 0-2 0-9 0-5 1 5 0 8 0 12 0 17 1-25 0-11 0-3 0 7 1 12 1 23 1-43 1"/>
<path class="k8" d="M351 85l1 6-17 0 13 1-7 1-3 0-7 0-6 0-3 0 4 1 10 0 1 0 13 0-1 1-5 0-2 0-2 0-3 0-16 0 8 1 4 0 4 0 3 0 2 0 8 0 1 1-2 0-26 0-2 1 6 0 9 0 10 0 0 0-5 1-6 0-2 0 0 0-3 0-1 0-4 0-1 0-1 0-4 0-2 0-10 1 4 0 5 0 1 0 9 0 6 0 8 0 3 0 5 0 2 1 0 0-3 0-5 0-1 0-2 0-2 0-2 0-1 0-1 0-1 0-1 0-2 0-2 0 0 0 0 0-7 0-2 0-1 0 0 0-2 0 0 0-1 0-4 0-2 0 0 0-5 0 0 0 0 0-4 1 4 0 1 0 6 0 3 0 0 0 0 0 0 0 2 0 3 0 1 0 1 0 2 0 0 0 3 0 1 0 1 0 1 0 1 0 1 0 0 0 2 0 2 0 3 0 0 0 2 0 0 0 13 1-5 0-3 0-7 0-2 0-4 0 0 0-1 0-2 0-3 0-3 0-2 0-2 0 0 0-1 0-1 0-1 0-1 0-1 0-2 0-1 0-5 0-1 0 0 0-2 0-10 0-7 1 13 0 1 0 3 0 0 0 1 0 6 0 0 0 1 0 2 0 5 0 1 0 0 0 4 0 0 0 0 0 1 0 1 0 0 0 2 0 4 0 1 0 4 0 3 0 2 0 0 0 6 0-6 1-5 0-1 0 0 0-3 0-1 0 0 0-4 0-2 0-1 0-1 0 0 0-2 0 0 0 0 0-1 0-2 0 0 0-1 0 0 0-1 0-1 0-1 0-1 0 0 0-1 0-2 0-3 0-1 0-5 0 0 0 0 0-5 0-2 0-5 1 1 0 7 0 3 0 0 0 1 0 0 0 3 0 1 0 1 0 2 0 1 0 1 0 1 0 2 0 1 0 1 0 0 0 0 0 1 0 0 0 1 0 1 0 1 0 0 0 0 0 0 0 1 0 0 0 1 0 0 0 2 0 1 0 1 0 0 0 1 0 1 0 1 0 0 0 1 0 0 0 1 0 0 0 1 0 1 0 2 0 0 0 2 0 0 0 2 0 3 0 2 0 3 0 2 0 0 1-1 0-1 0-9 0-1 0 0 0-1 0 0 0-1 0 0 0-1 0-1 0-1 0-1 0 0 0-1 0-1 0 0 0-2 0 0 0-1 0-1 0 0 0 0 0-2 0 0 0 0 0-1 0 0 0-1 0 0 0-1 0 0 0 0 0-1 0-1 0 0 0-1 0 0 0 0 0-1 0-1 0 0 0 0 0-1 0-1 0 0 0-1 0 0 0-1 0 0 0-1 0 0 0 0 0 0 0-1 0-1 0 0 0 0 0 0 0 0 0-2 0 0 0 0 0 0 0 0 0-1 0-1 0-1 0-1 0-1 0 0 0-3 0-1 0-3 0-8 0-7 0 2 1 3 0 2 0 3 0 2 0 0 0 0 0 1 0 0 0 3 0 1 0 1 0 0 0 0 0 1 0 1 0 0 0 3 0 1 0 0 0 1 0 0 0 0 0 0 0 0 0 1 0 1 0 0 0 0 0 1 0 1 0 1 0 0 0 0 0 1 0 0 0 1 0 1 0 0 0 1 0 0 0 1 0 0 0 0 0 1 0 0 0 1 0 3 0 0 0 1 0 0 0 0 0 1 0 3 0 1 0 0 0 0 0 0 0 1 0 0 0 1 0 1 0 1 0 0 0 1 0 1 0 3 0 2 0 0 0 4 0 1 0 3 0 8 0 2 0-7 1-4 0-7 0 0 0-2 0-1 0-3 0-2 0 0 0-1 0-1 0 0 0-1 0 0 0-1 0-1 0 0 0 0 0-2 0-1 0-3 0-2 0 0 0-1 0 0 0 0 0 0 0-1 0 0 0 0 0 0 0 0 0-1 0 0 0-1 0-1 0 0 0 0 0-1 0 0 0 0 0 0 0-2 0 0 0-1 0 0 0-1 0-2 0-1 0 0 0 0 0-1 0-1 0 0 0-1 0 0 0 0 0-2 0 0 0 0 0-1 0 0 0-1 0 0 0 0 0-1 0 0 0-1 0 0 0-2 0 0 0 0 0-1 0-9 0-1 1 0 0 4 0 1 0 1 0 1 0 1 0 0 0 1 0 0 0 0 0 1 0 0 0 1 0 0 0 1 0 1 0 0 0 1 0 0 0 1 0 0 0 0 0 0 0 0 0 0 0 3 0 0 0 1 0 0 0 1 0 0 0 0 0 0 0 1 0 0 0 1 0 0 0 0 0 0 0 0 0 1 0 1 0 0 0 1 0 0 0 1 0 0 0 1 0 0 0 0 0 0 0 0 0 1 0 0 0 1 0 0 0 0 0 1 0 1 0 2 0 3 0 3 0 0 0 0 0 2 0 3 0 0 0 4 0 0 0 0 0 2 0 0 0 3 0 1 0 6 0 10 1-14 0-7 0 0 0-1 0-3 0-1 0-1 0-1 0-1 0-1 0-1 0 0 0-1 0 0 0 0 0 0 0-2 0 0 0 0 0 0 0 0 0-2 0 0 0 0 0-1 0-1 0-1 0-1 0-1 0 0 0-1 0-1 0-1 0 0 0 0 0 0 0 0 0-1 0 0 0-1 0 0 0 0 0 0 0-1 0 0 0-1 0 0 0 0 0-1 0 0 0 0 0-1 0 0 0 0 0 0 0-1 0 0 0-1 0 0 0 0 0 0 0-1 0-1 0 0 0 0 0-1 0-1 0-1 0 0 0 0 0 0 0-1 0 0 0-1 0-1 0-1 0 0 0 0 0 0 0 0 0 0 0-1 0 0 0-1 0 0 0-1 0 0 0 0 0 0 0 0 0-1 0-1 0-1 0-1 0-1 0 0 0-3 0-2 0-3 0 0 1 1 0 0 0 4 0 1 0 0 0 1 0 1 0 0 0 0 0 2 0 0 0 1 0 1 0 1 0 0 0 1 0 1 0 1 0 1 0 0 0 0 0 0 0 1 0 0 0 0 0 0 0 0 0 0 0 1 0 0 0 0 0 0 0 0 0 0 0 1 0 0 0 0 0 2 0 0 0 0 0 0 0 0 0 1 0 0 0 0 0 1 0 0 0 0 0 1 0 0 0 0 0 1 0 0 0 3 0 0 0 0 0 0 0 0 0 0 0 1 0 0 0 1 0 0 0 1 0 0 0 1 0 1 0 0 0 0 0 1 0 0 0 0 0 0 0 1 0 1 0 0 0 0 0 1 0 0 0 1 0 1 0 0 0 0 0 0 0 0 0 1 0 1 0 0 0 0 0 1 0 0 0 1 0 2 0 0 0 0 0 2 0 3 0 2 0 3 0 3 0 0 0 1 0 2 0 8 1-2 0-2 0-3 0-6 0-2 0-3 0-2 0-2 0 0 0-1 0 0 0-1 0 0 0 0 0-4 0-1 0 0 0 0 0-1 0 0 0-2 0 0 0 0 0 0 0 0 0-1 0 0 0-1 0 0 0 0 0-1 0-1 0 0 0 0 0-1 0-1 0 0 0 0 0 0 0-1 0 0 0 0 0-2 0 0 0-1 0 0 0-1 0 0 0 0 0 0 0 0 0-1 0 0 0 0 0-1 0 0 0 0 0-1 0 0 0 0 0 0 0-1 0 0 0 0 0 0 0 0 0 0 0 0 0-1 0 0 0-1 0 0 0 0 0 0 0 0 0 0 0-1 0 0 0 0 0 0 0-1 0 0 0 0 0 0 0-1 0-1 0 0 0-1 0 0 0 0 0 0 0-1 0 0 0 0 0-2 0 0 0 0 0-1 0 0 0-1 0 0 0-2 0 0 0-1 0 0 0 0 0-1 0 0 0 0 0 0 0-1 0-2 0-1 0 0 0 0 0 0 0-2 0-3 0-2 1 2 0 1 0 1 0 0 0 1 0 0 0 1 0 1 0 0 0 1 0 0 0 0 0 1 0 0 0 0 0 1 0 1 0 0 0 0 0 1 0 0 0 1 0 0 0 1 0 0 0 0 0 1 0 0 0 0 0 0 0 1 0 0 0 0 0 0 0 0 0 0 0 0 0 1 0 0 0 0 0 1 0 0 0 0 0 1 0 0 0 0 0 0 0 1 0 0 0 0 0 0 0 1 0 0 0 0 0 1 0 0 0 1 0 0 0 0 0 0 0 0 0 1 0 0 0 0 0 0 0 0 0 1 0 0 0 0 0 0 0 1 0 1 0 0 0 0 0 1 0 0 0 1 0 0 0 0 0 1 0 1 0 0 0 1 0 0 0 0 0 0 0 1 0 0 0 0 0 0 0 0 0 1 0 0 0 0 0 1 0 1 0 0 0 0 0 1 0 2 0 0 0 0 0 0 0 0 0 2 0 0 0 0 0 1 0 1 0 1 0 1 0 2 0 1 0 0 0 3 0 0 0 0 0 1 0 1 0 0 0 0 0 1 0 0 0 1 0 1 0 5 0 1 0 0 0 2 0 5 0-9 1-1 0 0 0-2 0-3 0-1 0-1 0-1 0-1 0-2 0 0 0 0 0-1 0 0 0 0 0 0 0-1 0-1 0-2 0 0 0 0 0-1 0 0 0-1 0-1 0 0 0 0 0 0 0-1 0 0 0 0 0 0 0-1 0-1 0 0 0 0 0 0 0 0 0 0 0 0 0-1 0 0 0-1 0 0 0 0 0-1 0 0 0 0 0 0 0 0 0-1 0 0 0 0 0-1 0-1 0 0 0-1 0 0 0 0 0 0 0 0 0-1 0 0 0 0 0 0 0 0 0-1 0 0 0 0 0 0 0-1 0 0 0-1 0 0 0 0 0 0 0 0 0 0 0-1 0 0 0-1 0 0 0 0 0 0 0 0 0 0 0-1 0 0 0 0 0 0 0 0 0 0 0 0 0 0 0 0 0-1 0 0 0 0 0 0 0 0 0 0 0-1 0 0 0 0 0-1 0 0 0 0 0 0 0-1 0 0 0 0 0 0 0 0 0-1 0 0 0 0 0 0 0 0 0 0 0-1 0 0 0 0 0 0 0-1 0 0 0-1 0 0 0 0 0 0 0 0 0 0 0 0 0-1 0 0 0 0 0 0 0-1 0 0 0 0 0 0 0 0 0 0 0-1 0-1 0 0 0-1 0 0 0 0 0 0 0-1 0 0 0 0 0-1 0-1 0 0 0 0 0-3 0 0 0 0 0-2 0-1 0 0 0-6 1 1 0 1 0 3 0 0 0 1 0 2 0 0 0 1 0 1 0 0 0 1 0 0 0 0 0 1 0 1 0 0 0 0 0 0 0 0 0 1 0 0 0 2 0 0 0 1 0 0 0 0 0 0 0 0 0 1 0 0 0 0 0 1 0 0 0 0 0 0 0 1 0 0 0 0 0 0 0 0 0 0 0 0 0 1 0 0 0 0 0 0 0 0 0 1 0 0 0 0 0 0 0 0 0 1 0 0 0 0 0 0 0 0 0 0 0 0 0 1 0 0 0 0 0 0 0 1 0 0 0 0 0 0 0 0 0 1 0 0 0 0 0 0 0 0 0 1 0 0 0 0 0 1 0 0 0 0 0 0 0 0 0 1 0 0 0 1 0 0 0 0 0 1 0 0 0 0 0 0 0 0 0 0 0 1 0 1 0 0 0 0 0 1 0 1 0 0 0 0 0 0 0 1 0 0 0 0 0 0 0 0 0 0 0 2 0 0 0 1 0 0 0 0 0 0 0 0 0 1 0 0 0 0 0 0 0 1 0 0 0 0 0 0 0 1 0 0 0 0 0 0 0 0 0 0 0 1 0 0 0 0 0 1 0 0 0 1 0 0 0 3 0 0 0 1 0 0 0 4 0 4 0 9 0 8 0 11 1-18 0-3 0-2 0-2 0-9 0 0 0 0 0-2 0 0 0-1 0 0 0-1 0 0 0-2 0 0 0 0 0-1 0 0 0-1 0 0 0-2 0-1 0 0 0 0 0 0 0-1 0 0 0-1 0 0 0-1 0 0 0 0 0 0 0-1 0 0 0 0 0 0 0-1 0 0 0 0 0-1 0 0 0 0 0 0 0-1 0 0 0-1 0 0 0 0 0-1 0 0 0 0 0 0 0 0 0 0 0 0 0 0 0-1 0 0 0 0 0 0 0 0 0-1 0 0 0 0 0 0 0 0 0 0 0 0 0 0 0-1 0 0 0 0 0 0 0 0 0 0 0 0 0 0 0-1 0 0 0 0 0 0 0 0 0 0 0-1 0-1 0 0 0 0 0 0 0 0 0-1 0 0 0 0 0 0 0 0 0-1 0 0 0-1 0 0 0 0 0-1 0 0 0 0 0 0 0-1 0 0 0 0 0 0 0 0 0 0 0-1 0 0 0 0 0 0 0 0 0 0 0 0 0-1 0 0 0 0 0 0 0-1 0 0 0 0 0 0 0 0 0 0 0-1 0 0 0 0 0-1 0 0 0 0 0 0 0 0 0-1 0 0 0-1 0-1 0 0 0-1 0 0 0 0 0 0 0-1 0 0 0 0 0-1 0 0 0 0 0-1 0-1 0 0 0-6 1 0 0 1 0 0 0 2 0 2 0 1 0 1 0 0 0 0 0 1 0 0 0 1 0 0 0 1 0 0 0 1 0 0 0 0 0 1 0 0 0 1 0 0 0 0 0 0 0 0 0 0 0 0 0 1 0 0 0 0 0 0 0 0 0 0 0 1 0 0 0 0 0 0 0 1 0 0 0 0 0 0 0 0 0 1 0 0 0 0 0 0 0 1 0 0 0 0 0 0 0 0 0 1 0 0 0 0 0 0 0 0 0 0 0 0 0 0 0 1 0 0 0 0 0 0 0 0 0 0 0 1 0 0 0 0 0 0 0 0 0 1 0 0 0 0 0 0 0 0 0 1 0 0 0 0 0 1 0 1 0 0 0 0 0 0 0 0 0 0 0 0 0 0 0 0 0 1 0 0 0 0 0 1 0 1 0 0 0 0 0 0 0 0 0 0 0 0 0 1 0 0 0 0 0 0 0 0 0 0 0 2 0 0 0 0 0 0 0 1 0 0 0 0 0 1 0 0 0 1 0 0 0 1 0 1 0 0 0 0 0 2 0 1 0 1 0 0 0 2 0 0 0 0 0 2 0 0 0 1 0 3 0 0 0 0 0 1 0 1 0 0 0 1 0 0 0 3 0 3 0 4 1-9 0-1 0 0 0 0 0-4 0 0 0 0 0-1 0-1 0 0 0-3 0 0 0 0 0-1 0 0 0-2 0-2 0 0 0 0 0 0 0 0 0-1 0-1 0 0 0 0 0-1 0 0 0-1 0 0 0 0 0-1 0 0 0-1 0 0 0-1 0-2 0-1 0 0 0 0 0 0 0 0 0 0 0-2 0 0 0 0 0 0 0-1 0 0 0 0 0 0 0 0 0 0 0 0 0-1 0 0 0-1 0 0 0 0 0 0 0-1 0 0 0 0 0 0 0-1 0 0 0 0 0 0 0-1 0 0 0 0 0 0 0 0 0 0 0-1 0 0 0 0 0 0 0-1 0 0 0 0 0 0 0-1 0 0 0 0 0 0 0 0 0 0 0 0 0-1 0 0 0 0 0 0 0 0 0 0 0-1 0 0 0 0 0 0 0 0 0-1 0 0 0 0 0 0 0 0 0 0 0 0 0-1 0 0 0 0 0 0 0 0 0 0 0-1 0 0 0-1 0 0 0 0 0 0 0 0 0 0 0 0 0-1 0 0 0 0 0 0 0 0 0 0 0-1 0 0 0 0 0 0 0 0 0-1 0 0 0-1 0 0 0-1 0-1 0 0 0 0 0 0 0 0 0-1 0-1 0 0 0-2 0 0 0-1 0 4 1 0 0 1 0 0 0 0 0 0 0 1 0 0 0 0 0 1 0 0 0 0 0 1 0 0 0 0 0 1 0 0 0 0 0 1 0 0 0 0 0 0 0 0 0 0 0 0 0 0 0 1 0 0 0 0 0 1 0 1 0 0 0 0 0 0 0 1 0 0 0 0 0 0 0 0 0 0 0 1 0 0 0 0 0 0 0 0 0 0 0 0 0 0 0 1 0 1 0 0 0 1 0 0 0 0 0 0 0 0 0 1 0 0 0 0 0 0 0 1 0 0 0 1 0 0 0 0 0 0 0 1 0 0 0 0 0 0 0 0 0 1 0 0 0 0 0 0 0 0 0 0 0 0 0 1 0 1 0 0 0 0 0 0 0 0 0 0 0 0 0 1 0 1 0 0 0 1 0 0 0 0 0 0 0 0 0 0 0 1 0 0 0 1 0 0 0 1 0 0 0 0 0 0 0 0 0 1 0 0 0 1 0 1 0 0 0 2 0 1 0 0 0 0 0 0 0 0 0 1 0 0 0 0 0 1 0 0 0 3 0 0 0 0 0 1 0 2 0 12 0 3 0-2 1-10 0-1 0 0 0-1 0 0 0-1 0-6 0-1 0-1 0-2 0-1 0-1 0 0 0-1 0-1 0-1 0-1 0 0 0 0 0-1 0-1 0 0 0-1 0 0 0 0 0-1 0 0 0 0 0 0 0-1 0 0 0 0 0 0 0-1 0 0 0-1 0 0 0 0 0-1 0 0 0-1 0 0 0 0 0 0 0 0 0-1 0 0 0 0 0-1 0 0 0 0 0 0 0 0 0 0 0-1 0 0 0 0 0 0 0 0 0 0 0 0 0 0 0 0 0-1 0 0 0 0 0 0 0 0 0 0 0 0 0-1 0 0 0 0 0 0 0 0 0 0 0 0 0 0 0 0 0-1 0 0 0 0 0-1 0 0 0 0 0 0 0-1 0 0 0 0 0 0 0 0 0 0 0 0 0-1 0 0 0 0 0 0 0 0 0-1 0 0 0 0 0 0 0-1 0 0 0-1 0 0 0 0 0 0 0 0 0 0 0 0 0 0 0 0 0-1 0 0 0-1 0 0 0 0 0 0 0-1 0 0 0-1 0 0 0 0 0 0 0-1 0 0 0 0 0 0 0 0 0 0 0-2 1 1 0 0 0 0 0 1 0 0 0 1 0 0 0 1 0 1 0 0 0 0 0 1 0 0 0 0 0 0 0 0 0 0 0 1 0 1 0 0 0 0 0 0 0 1 0 0 0 0 0 0 0 1 0 0 0 0 0 0 0 0 0 0 0 0 0 0 0 1 0 0 0 0 0 0 0 1 0 0 0 0 0 0 0 1 0 0 0 0 0 1 0 0 0 0 0 0 0 1 0 0 0 0 0 1 0 0 0 0 0 0 0 0 0 1 0 0 0 1 0 0 0 0 0 1 0 0 0 0 0 0 0 0 0 1 0 0 0 1 0 0 0 0 0 0 0 0 0 1 0 0 0 0 0 1 0 0 0 0 0 1 0 0 0 1 0 0 0 1 0 0 0 1 0 1 0 0 0 1 0 0 0 0 0 2 0 1 0 2 0 1 0 11 0 3 0 3 0 0 0 10 0-15 1-4 0 0 0-4 0-1 0-1 0-4 0-2 0 0 0 0 0-2 0-1 0 0 0-1 0-2 0 0 0 0 0-1 0-1 0-1 0 0 0 0 0 0 0 0 0-1 0 0 0-1 0 0 0-1 0 0 0 0 0 0 0-1 0 0 0-1 0 0 0-1 0 0 0-1 0 0 0-1 0 0 0 0 0-1 0-1 0 0 0 0 0-1 0 0 0-1 0 0 0 0 0-1 0 0 0 0 0 0 0 0 0 0 0-1 0-1 0 0 0-1 0 0 0 0 0 0 0 0 0-1 0 0 0 0 0-1 0-1 0 0 0 0 0 0 0 0 0-1 0 0 0-1 0-1 0-1 0 0 0-1 0 0 0 0 1 2 0 3 0 0 0 0 0 1 0 0 0 1 0 0 0 0 0 1 0 1 0 0 0 0 0 0 0 0 0 1 0 1 0 0 0 1 0 1 0 1 0 0 0 0 0 0 0 1 0 0 0 0 0 1 0 0 0 0 0 0 0 1 0 3 0 0 0 1 0 1 0 0 0 1 0 0 0 1 0 3 0 0 0 1 0 1 0 1 0 0 0 1 0 0 0 3 0 4 0 2 0 5 0-5 1-3 0-3 0-1 0-5 0-5 0 0 0-2 0 0 0-1 0-2 0 0 0-1 0-1 0 0 0-1 0 0 0 0 0-1 0-1 0 0 0 0 0-2 0 0 0 0 0 0 0 0 0-1 0 0 0 0 0 0 0-2 0 0 0-1 0 0 0-1 0 0 0 0 0 0 0 0 0-1 0-1 0-1 0-1 0-1 1 1 0 1 0 6 0 1 0 1 0 3 0 2 0 1 0 0 0 1 0 2 0 0 0 1 0 1 0 0 0 0 0 1 0 0 0 0 0 1 0 0 0 1 0 9 1-6 0-3 0-3 0-1 0-4 0-1 0 0 0-1 0-1 0-2 0-1 0 0 0 0 0 0 0-3 0 0 0-7 1 5 0 2 0 3 0 0 0 4 0 3 0 4 0 1 0 16 0-7 1-2 0-5 0 0 0 0 0 0 0-13 0-5 0-2 0-2 1 11 0 4 0 2 0-6 1 0 0-4 1"/>
<path class="k7" d="M342 96l1 0-6 1-3 0 8 1 8 0 3 1-3 0-4 0-6 0-2 0-1 0-5 1 4 0 1 0 9 0 2 0 2 0-3 1 0 0-8 0-1 0 0 0-1 0-5 0-1 0-5 0-8 1 5 0 1 0 7 0 4 0 2 0 4 0 4 0 0 0 0 0 8 0-2 1-5 0-8 0 0 0 0 0-1 0 0 0-1 0-2 0 0 0-1 0-1 0-8 0-1 0-6 0-14 1 8 0 3 0 2 0 0 0 2 0 6 0 1 0 4 0 0 0 1 0 2 0 6 0 0 0 0 0 3 0 1 0 2 0-7 1-4 0 0 0-4 0-1 0-1 0-1 0-1 0-2 0 0 0-1 0 0 0-9 0-3 0-1 0-13 0 8 1 5 0 1 0 1 0 3 0 0 0 1 0 1 0 3 0 3 0 0 0 3 0 1 0 1 0 0 0 4 0 0 0 4 0 0 0 0 0 1 0 3 0 1 0 12 0-9 1-7 0-1 0-3 0-5 0 0 0 0 0-1 0-1 0-3 0 0 0-1 0-3 0 0 0-2 0-1 0-1 0-1 0 0 0 0 0 0 0 0 0-2 0-3 0-1 0 0 0-1 0-1 0-1 0-4 1 0 0 4 0 0 0 1 0 2 0 0 0 1 0 1 0 2 0 2 0 1 0 1 0 1 0 1 0 1 0 5 0 2 0 0 0 3 0 1 0 5 0 2 0 11 1-12 0-8 0 0 0-2 0 0 0-1 0-3 0 0 0-2 0-2 0 0 0 0 0-1 0 0 0-1 0 0 0-1 0-1 0 0 0-1 0-1 0-1 0 0 0-2 0-2 0 0 0-1 0-1 0-1 0-1 0-2 0 0 0-3 0-1 0-8 1 2 0 4 0 1 0 3 0 1 0 1 0 0 0 1 0 1 0 0 0 0 0 1 0 0 0 0 0 1 0 0 0 1 0 0 0 2 0 0 0 0 0 1 0 0 0 0 0 1 0 0 0 1 0 1 0 0 0 1 0 0 0 0 0 1 0 0 0 0 0 1 0 0 0 1 0 1 0 1 0 0 0 1 0 0 0 1 0 0 0 2 0 1 0 1 0 1 0 1 0 5 0 0 0 5 0 1 0 3 0 10 0-21 1 0 0 0 0-2 0-5 0-2 0 0 0-1 0-1 0 0 0-1 0-2 0 0 0-1 0 0 0-1 0 0 0-1 0 0 0 0 0 0 0 0 0-1 0 0 0 0 0-2 0 0 0 0 0 0 0-1 0 0 0 0 0-1 0 0 0-1 0 0 0 0 0-1 0 0 0-1 0 0 0-1 0 0 0 0 0 0 0-1 0 0 0-1 0 0 0 0 0 0 0-1 0-2 0 0 0 0 0-1 0-1 0 0 0 0 0-1 0 0 0-2 0-12 0 6 1 2 0 0 0 1 0 1 0 0 0 0 0 1 0 0 0 3 0 1 0 0 0 2 0 1 0 0 0 1 0 0 0 0 0 1 0 0 0 0 0 0 0 0 0 1 0 0 0 1 0 0 0 1 0 0 0 1 0 0 0 0 0 1 0 0 0 0 0 1 0 1 0 0 0 2 0 0 0 0 0 1 0 1 0 1 0 1 0 0 0 1 0 0 0 3 0 1 0 1 0 2 0 1 0 2 0 4 1-1 0-3 0-8 0-1 0 0 0-2 0 0 0 0 0 0 0-2 0-1 0 0 0 0 0-1 0 0 0-1 0 0 0 0 0 0 0-1 0-1 0 0 0 0 0-1 0 0 0 0 0-1 0 0 0 0 0 0 0-1 0 0 0-1 0-1 0 0 0 0 0 0 0-1 0 0 0 0 0-1 0 0 0 0 0 0 0-1 0 0 0 0 0-1 0 0 0 0 0-2 0 0 0 0 0 0 0 0 0-1 0-1 0-1 0 0 0-2 0 0 0 0 0-1 0-2 0-2 0-1 0-12 1 5 0 1 0 1 0 1 0 1 0 1 0 1 0 0 0 1 0 0 0 2 0 1 0 0 0 1 0 0 0 1 0 0 0 0 0 1 0 0 0 1 0 1 0 0 0 1 0 0 0 1 0 0 0 0 0 1 0 1 0 0 0 0 0 1 0 0 0 0 0 1 0 0 0 0 0 0 0 1 0 0 0 1 0 0 0 1 0 0 0 0 0 1 0 1 0 0 0 0 0 1 0 0 0 0 0 0 0 1 0 0 0 0 0 1 0 1 0 0 0 2 0 2 0 1 0 0 0 0 0 0 0 1 0 2 0 1 0 2 0 5 0 4 0 11 0-3 1-8 0-8 0-2 0-2 0-4 0 0 0-1 0 0 0-2 0-1 0-1 0 0 0-1 0 0 0 0 0-1 0-1 0 0 0-1 0 0 0 0 0 0 0 0 0 0 0 0 0-1 0-1 0 0 0-1 0 0 0 0 0 0 0 0 0 0 0-1 0 0 0 0 0-1 0 0 0 0 0-1 0 0 0 0 0 0 0 0 0-1 0-1 0-1 0 0 0 0 0 0 0 0 0 0 0-1 0 0 0 0 0-1 0-1 0 0 0 0 0-1 0-1 0 0 0 0 0-1 0-1 0 0 0 0 0-1 0-2 0 0 0 0 0 0 0-1 0-1 0-3 0-5 1 3 0 1 0 0 0 1 0 1 0 2 0 0 0 1 0 0 0 1 0 0 0 0 0 1 0 0 0 0 0 0 0 1 0 0 0 1 0 0 0 0 0 0 0 1 0 0 0 1 0 0 0 1 0 1 0 0 0 1 0 0 0 1 0 0 0 1 0 1 0 1 0 0 0 0 0 0 0 1 0 1 0 0 0 0 0 0 0 1 0 0 0 0 0 1 0 0 0 0 0 0 0 1 0 1 0 0 0 2 0 1 0 0 0 1 0 0 0 3 0 1 0 1 0 1 0 4 1-8 0-1 0-3 0-1 0-1 0-1 0 0 0-1 0 0 0 0 0-1 0 0 0 0 0-1 0-1 0 0 0 0 0-1 0 0 0 0 0-1 0 0 0 0 0-2 0 0 0 0 0-1 0 0 0 0 0-1 0 0 0 0 0-1 0 0 0-2 0 0 0-1 0 0 0 0 0-1 0 0 0-1 0 0 0-1 0 0 0-1 0 0 0-1 0 0 0 0 0 0 0 0 0 0 0 0 0-1 0-1 0 0 0-1 0 0 0 0 0-1 0 0 0-1 0-1 0-2 0-4 1 0 0 2 0 2 0 0 0 4 0 1 0 1 0 1 0 0 0 1 0 1 0 0 0 1 0 0 0 1 0 0 0 1 0 2 0 1 0 0 0 0 0 1 0 0 0 0 0 1 0 0 0 1 0 0 0 1 0 0 0 2 0 0 0 0 0 2 0 0 0 0 0 0 0 1 0 0 0 0 0 1 0 1 0 0 0 1 0 3 0 2 0 13 1-5 0-6 0-6 0 0 0 0 0-1 0-4 0 0 0-2 0-3 0-1 0 0 0 0 0-1 0 0 0-1 0 0 0-1 0-1 0-1 0 0 0 0 0 0 0-2 0 0 0 0 0-2 0 0 0 0 0-1 0 0 0-1 0 0 0-1 0 0 0 0 0-1 0 0 0 0 0 0 0-2 0 0 0-1 0 0 0-1 0-3 0 3 1 1 0 2 0 0 0 0 0 2 0 0 0 1 0 1 0 0 0 0 0 1 0 1 0 0 0 0 0 1 0 1 0 0 0 0 0 0 0 1 0 0 0 1 0 0 0 1 0 0 0 1 0 0 0 1 0 0 0 1 0 0 0 0 0 3 0 0 0 1 0 0 0 1 0 2 0 1 0 1 0-1 1-1 0-3 0-2 0-1 0 0 0-4 0 0 0 0 0-1 0-2 0-2 0 0 0 0 0 0 0 0 0 0 0-1 0 0 0 0 0 0 0 0 0-1 0 0 0 0 0-3 0-1 0-1 0-1 0-1 0-1 0-2 0-1 1 2 0 0 0 0 0 0 0 1 0 0 0 0 0 1 0 1 0 0 0 1 0 1 0 0 0 1 0 1 0 1 0 0 0 1 0 0 0 2 0 0 0 2 0 0 0 2 0 1 0 0 0 2 0 13 0-11 1-6 0-3 0-1 0-1 0-6 0-2 0 0 0-1 0 0 0-1 0-2 0 1 1 2 0 0 0 6 0 4 0 0 0 1 0 1 0 0 0-8 1-3 0 0 0-5 0 5 1 1 0"/>
</g>
<rect x="226.3" y="5.2" width="127.5" height="130.2" fill="none" stroke="#222" stroke-width="1.1"/>
<path d="M226.3 130.3h-1.2M231.3 135.4v1.2M226.3 125.2h-1.2M236.3 135.4v1.2M226.3 120.1h-1.2M241.2 135.4v1.2M226.3 115.1h-1.2M246.2 135.4v1.2M226.3 110.0h-1.2M251.2 135.4v1.2M226.3 104.9h-1.2M256.2 135.4v1.2M226.3 99.8h-1.2M261.2 135.4v1.2M226.3 94.7h-1.2M266.1 135.4v1.2M226.3 89.6h-1.2M271.1 135.4v1.2M226.3 84.5h-1.2M276.1 135.4v1.2M226.3 79.5h-1.2M281.1 135.4v1.2M226.3 74.4h-1.2M286.1 135.4v1.2M226.3 69.3h-1.2M291.0 135.4v1.2M226.3 64.2h-1.2M296.0 135.4v1.2M226.3 59.1h-1.2M301.0 135.4v1.2M226.3 54.0h-1.2M306.0 135.4v1.2M226.3 48.9h-1.2M311.0 135.4v1.2M226.3 43.9h-1.2M315.9 135.4v1.2M226.3 38.8h-1.2M320.9 135.4v1.2M226.3 33.7h-1.2M325.9 135.4v1.2M226.3 28.6h-1.2M330.9 135.4v1.2M226.3 23.5h-1.2M335.9 135.4v1.2M226.3 18.4h-1.2M340.9 135.4v1.2M226.3 13.3h-1.2M345.8 135.4v1.2M226.3 8.3h-1.2M350.8 135.4v1.2" stroke="#222" stroke-width="1.1"/>
<text transform="translate(224.1 19.8) rotate(-90)" font-family="Liberation Sans" font-weight="bold" font-size="5.6" fill="#333">1023</text>
<text transform="translate(217.5 74.1) rotate(-90)" font-family="Liberation Sans" font-weight="bold" font-size="5.6" fill="#444">SS</text>
<text x="219.9" y="137.4" font-family="Liberation Sans" font-weight="bold" font-size="5.6" fill="#333">0</text>
<text x="224.8" y="141.6" font-family="Liberation Sans" font-weight="bold" font-size="5.6" fill="#333">0</text>
<text x="286.2" y="148.4" font-family="Liberation Sans" font-weight="bold" font-size="5.6" fill="#444">FS</text>
<text x="354.0" y="142.6" font-family="Liberation Sans" font-weight="bold" font-size="5.6" fill="#333" text-anchor="end">1023</text>
<text x="351.8" y="25.2" font-family="Liberation Serif" stroke="#000" stroke-width="0.32" font-size="17.5" text-anchor="end">68%</text>
<text x="254.8" y="172.4" font-family="Liberation Serif" stroke="#000" stroke-width="0.32" font-size="17" textLength="72.8" lengthAdjust="spacingAndGlyphs">1μM 5-HT</text>
<g filter="url(#bl)">
<path class="k0" d="M482 8l-47 3 13 6 11 2-56 6 31 3 44 3 22 5-33 2-29 2-30 4 34 3-47 2 108 4-54 7-12 9-16 0 31 4 12 1-65 1-6 1-2 11 71 3-44 1 64 1-11 1-71 2 55 2 37 2-33 2 28 2-20 4 28 1-82 2 0 1 77 3-104 7 19 5 14 5-30 2"/>
<path class="k1" d="M482 16l4 8-65 3 44 1-19 1-25 0 71 10-44 2-2 0 41 2-70 1 60 0-5 2-13 1-18 0-33 2 55 1 5 0-47 2 12 0 3 2 18 1-19 3-4 1 17 1 6 1-1 0 11 1 18 1-21 0-9 0-24 0 46 1-14 1-4 0-32 1 7 2 10 0 33 0-7 1-14 0-2 0-48 0 42 1 3 0 1 1-6 0-23 0 0 0-8 1 9 0 2 0 4 0 2 0 35 0 11 1-5 0-41 0-3 0-4 1 4 0 5 0 1 0 4 0 2 0 45 0 2 0-41 1-14 0-3 0-2 1 15 0 17 0-5 1-20 0-19 0-17 0 9 1 15 0 5 0 14 0 10 0 11 0 21 0-28 1-29 0-3 0-9 0 1 1 8 0 4 0 19 0 4 0-23 1-16 0 22 1 4 0 30 1-6 0-8 0-1 0-2 0-1 0-11 0-2 0-1 0-1 0-6 0-1 0 0 0 0 0-14 0-7 0-2 0 21 1 4 0 5 0 1 0 4 0 18 0 35 0-12 1-53 0-1 0-5 0-2 0-6 1 5 0 5 0 4 0 2 0 29 0 22 1-17 0-37 0 0 0-3 0-3 0-2 0-3 0 0 0-1 0 11 1 2 0 22 0 0 0 0 0 45 0 10 1-54 0-10 0-12 0-19 1 39 0 6 0 10 0 6 1-31 0-1 0-2 0-9 0-2 0-9 0-12 0-1 0 4 1 5 0 8 0 2 0 6 0 5 0 4 0 10 0 1 0 4 0 18 0 26 0 0 1-47 0-4 0-4 0-16 0-3 0-3 0-4 0-6 0-8 1 23 0 5 0 1 0 0 0 4 0 17 1-13 0-8 0-1 0-4 0-2 0-1 0-1 0-1 0-4 0 0 0-5 0 16 1 8 0 3 0 0 0 9 0 13 0 14 0-14 1-3 0-16 0-8 0-4 0-1 0 0 0-3 0-5 0-1 0-3 0-4 0-2 0 0 0-3 1 7 0 11 0 6 0 1 0 5 0 4 0 9 0 5 0-13 1-4 0-8 0-8 0-7 0 0 0-7 0 7 1 3 0 8 0 10 0 0 0 3 0 1 0 0 0 6 0 6 0 4 0 11 0 39 1-59 0-11 0-11 0-4 0-3 0-4 0-1 0 0 0 0 0 5 1 7 0 4 0 1 0 5 0 5 0 4 0 1 0 3 0 8 0-1 1-9 0-7 0-19 0-5 0-1 0-3 0-6 0-4 0-2 1 3 0 1 0 3 0 3 0 2 0 1 0 6 0 2 0 4 0 1 0 1 0 4 0 6 0 2 0 25 0 6 0 19 1-19 0-19 0-1 0-5 0-1 0-3 0 0 0-3 0 0 0-1 0-4 0-4 0 0 0-3 0-6 0-1 0-5 0-5 0-1 0-8 1 2 0 13 0 0 0 1 0 1 0 3 0 1 0 0 0 2 0 4 0 7 0 3 0 41 1-30 0-5 0-5 0-1 0-3 0 0 0-2 0-3 0-1 0-1 0-6 0-1 0-1 0-3 0 0 0-2 0-4 0-6 0-8 0 19 1 0 0 2 0 1 0 4 0 0 0 0 0 1 0 6 0 3 0 3 0 2 0 2 0 0 0 1 0 12 0-12 1-3 0-2 0-1 0-9 0-3 0-2 0 0 0-1 0-3 0-1 0 0 0-3 0-3 0 0 0-3 0 2 1 5 0 2 0 4 0 3 0 8 0 4 0 9 0 6 0 11 1-4 0-3 0-20 0-7 0 0 0 0 0-1 0 0 0-2 0-1 0-1 0-2 0-6 0-1 0-2 0-4 0-1 0 9 1 3 0 2 0 1 0 1 0 0 0 3 0 4 0 1 0 1 0 4 0 5 0 30 0-36 1-6 0-2 0-2 0-1 0-1 0 0 0-1 0-1 0-2 0-2 0-6 0-1 0-1 0-1 0-3 0-3 0-1 1 5 0 8 0 0 0 1 0 0 0 1 0 1 0 1 0 8 0 4 0 1 0 4 0 12 0-7 1-9 0-5 0 0 0-6 0-4 0-2 0-2 0 0 0-1 0 0 0-2 0-1 0-1 0-3 0-5 0 1 1 4 0 1 0 7 0 1 0 1 0 3 0 1 0 0 0 2 0 2 0 1 0 2 0 1 0 1 0 0 0 2 0 0 0 1 0 3 0 21 0-3 1-6 0-3 0-3 0-1 0-6 0-1 0-1 0-13 0 0 0-5 0-2 0 0 0-1 0 0 0-2 1 1 0 0 0 4 0 2 0 2 0 1 0 1 0 3 0 2 0 2 0 1 0 6 0 2 0 30 1-26 0-1 0-6 0-2 0-5 0 0 0-8 0-1 0-1 0-1 0 0 0-1 0-1 0-2 0-3 0 0 0-4 0 3 1 2 0 2 0 0 0 1 0 2 0 1 0 0 0 1 0 1 0 1 0 0 0 1 0 3 0 1 0 5 0 7 0 1 0 0 0 3 0 1 0 2 1-7 0 0 0-6 0-1 0-3 0-1 0 0 0-1 0-1 0-1 0 0 0 0 0 0 0-2 0-2 0 0 0-1 0-2 0 0 0-2 0-1 0-5 0-5 1 2 0 2 0 1 0 3 0 0 0 2 0 7 0 2 0 3 0 0 0 6 0 0 0 6 0 8 0-10 1-3 0-2 0-2 0-1 0-2 0-4 0-2 0-3 0-1 0-1 0 0 0-2 0-2 0 0 0 0 0-2 0-4 1 3 0 1 0 0 0 1 0 0 0 2 0 0 0 1 0 2 0 4 0 4 0 1 0 2 0 6 0 6 0 3 1-6 0-14 0-1 0 0 0-6 0-2 0 0 0 0 0 0 0-1 0-4 0 0 0-3 0 7 1 5 0 1 0 1 0 1 0 7 0 1 0 3 0 8 0 1 0-5 1-5 0-7 0-2 0-4 0 0 0-2 0-2 0-7 0 0 0-1 1 3 0 2 0 1 0 0 0 2 0 2 0 0 0 1 0 0 0 0 0 1 0 0 0 1 0 3 0 6 0 4 0 6 1-6 0-4 0-4 0-3 0-2 0-1 0-2 0-3 0-1 0 0 0-4 0-1 0 0 0-1 1 1 0 1 0 2 0 0 0 4 0 1 0 1 0 3 0 0 0 1 0 2 0 4 0 1 0 0 1-1 0-3 0-3 0-4 0-1 0 0 0 0 0-5 0 0 0-2 0-1 0 0 1 1 0 1 0 5 0 2 0 2 0 16 1-9 0-1 0-10 0-2 0-1 1 1 0 1 0 2 0"/>
<path class="k2" d="M446 12l-7 8-8 5 16 3 23 1-38 5 50 3-25 1-9 1-12 1 34 0-30 4 9 0 25 0 3 0-46 1 9 1-12 2 26 1-41 1 15 0 14 1 11 1 23 0-6 1-38 0-20 1 28 0 2 1-12 1 20 0-14 2 17 0 12 0 16 1-26 2-37 0 7 1 2 0 15 0 23 1-26 0 0 0-1 0-37 0 2 1 53 0 20 1-42 0-4 1 5 0 19 0 30 0-73 2 21 0 5 0 11 0 13 0 10 0-2 1-13 0-21 0-1 1 4 0 54 1-55 0-2 0-24 0-4 1 19 0 48 1-3 0-51 0-4 1 8 0 42 0-3 1-41 0-11 0 8 1 6 0 17 0 12 0 5 0 1 0 10 0 24 1-25 0-34 0-9 0-5 0-3 0-2 0-3 0 11 1 8 0 11 0 11 0-3 1-21 0-1 0-15 1 14 0 2 0 7 0 7 0 27 0-4 1-11 0-19 0 0 0-1 0-7 0-10 0-4 1 4 0 0 0 6 0 17 0 5 0 6 0 2 0 35 1-25 0-28 0-2 0-2 0-3 0-15 0-9 1 21 0 6 0 7 0 11 0 3 0-52 1 9 1 4 0 14 0 2 0 2 0 1 0 1 0 16 0 1 0 15 0-37 1-6 0-1 0-1 0-13 0 12 1 4 0 2 0 2 0 1 0 8 0 8 1-11 0-7 0 0 0-3 0-2 0-8 0-7 1 9 0 7 0 6 0 2 0 6 0 6 0 4 0-8 1-1 0-1 0-26 0-6 0-2 0-2 0 19 1 2 0 4 0 0 0 2 0 19 0 5 0 1 0-1 1-20 0-6 0-2 0 0 0-6 0-4 0-1 0-1 0-3 0-4 0-4 1 11 0 2 0 3 0 18 0 1 0 2 0 0 0 3 0 42 1-19 0-31 0-14 0-3 0-12 1 1 0 3 0 3 0 0 0 6 0 8 0 7 0 5 0 1 0 4 0 13 0 9 0-18 1-5 0-3 0-3 0-14 0-3 0-1 0-5 0-2 0-4 0-5 0 6 1 1 0 0 0 2 0 2 0 4 0 3 0 2 0 1 0 7 0 1 0 1 0 0 0 1 0 5 1 0 0-5 0-8 0-3 0 0 0-2 0-9 0-3 0-5 0-4 0 23 1 1 0 1 0 5 0 5 0 1 0 6 0 39 0-23 1-20 0-15 0-2 0-2 0 0 0-3 0-1 0-4 0-1 0-1 0-1 0-7 0 2 1 0 0 2 0 2 0 1 0 6 0 0 0 6 0 11 0 2 0 1 0 2 0 6 0 2 0 13 0-11 1-17 0-2 0-2 0 0 0-1 0-1 0-1 0-1 0-1 0-4 0 0 0-1 0-2 0-2 0-6 0-4 1 3 0 1 0 3 0 3 0 1 0 0 0 4 0 1 0 3 0 2 0 1 0 2 0 1 0 0 0 3 0 7 0 3 0 1 1-4 0-4 0-2 0-6 0-2 0-1 0-6 0-1 0 0 0-1 0-1 0-1 0-3 0-1 0-2 1 3 0 2 0 2 0 1 0 3 0 2 0 1 0 1 0 6 0 9 0 3 0 4 0 7 0-10 1 0 0-3 0-6 0-9 0-2 0 0 0-1 0 0 0-2 0 0 0-2 0-3 0-4 0-3 0 0 0 0 0-1 0 0 0-9 0 3 1 8 0 8 0 2 0 1 0 3 0 0 0 2 0 0 0 1 0 0 0 2 0 0 0 0 0 3 0 0 0 6 0 9 0 0 0 1 0-10 1-6 0-4 0-3 0-1 0-3 0-2 0 0 0-1 0-3 0-1 0-5 0-4 0 5 1 2 0 0 0 1 0 1 0 1 0 2 0 1 0 4 0 3 0 0 0 1 0 3 0 0 0 1 0 5 0 13 0 2 0 50 1-49 0-11 0-3 0 0 0-3 0-2 0-2 0-4 0 0 0-2 0 0 0-2 0 0 0-1 0 0 0-2 0-1 0-2 0 0 0-4 0-2 0 0 0-2 0-1 0-1 0-4 0 2 1 4 0 0 0 3 0 1 0 5 0 1 0 2 0 6 0 4 0 11 0 5 0-4 1-4 0-1 0-3 0 0 0-7 0-5 0-1 0-3 0 0 0-2 0-1 0-1 0 0 0 0 0-5 0 0 0-3 0 3 1 1 0 1 0 1 0 0 0 2 0 0 0 3 0 0 0 1 0 9 0 1 0 3 0 6 0 6 0 6 0 5 0-3 1-16 0-1 0-4 0-3 0-1 0-1 0 0 0-1 0-7 0 0 0-1 0 0 0 0 0-1 0-1 0-2 0 0 0-1 0-8 0 2 1 2 0 2 0 0 0 0 0 1 0 0 0 4 0 2 0 1 0 1 0 1 0 0 0 0 0 1 0 1 0 1 0 3 0 4 0 0 0 3 1-1 0-5 0-3 0-1 0-2 0 0 0-1 0-1 0-1 0-2 0-1 0 0 0-2 0 0 0 0 0-1 0-2 0-2 0-1 0-3 0-2 0-1 0 3 1 6 0 2 0 1 0 0 0 4 0 0 0 1 0 1 0 0 0 0 0 1 0 0 0 1 0 2 0 1 0 0 0 1 0 0 0 1 0 0 0 10 0 2 0 2 1-4 0-13 0-1 0 0 0 0 0-1 0-2 0 0 0-1 0 0 0-1 0-1 0 0 0 0 0-3 0-2 0 0 0-1 0-6 0 0 1 0 0 0 0 1 0 2 0 0 0 2 0 1 0 0 0 2 0 0 0 2 0 0 0 1 0 4 0 1 0 0 0 2 0 2 0 43 0-19 1-2 0-17 0-3 0 0 0 0 0-1 0-3 0-2 0-4 0-1 0 0 0-1 0-1 0-2 0 0 0 0 0 0 0-1 0 0 0 0 0-1 0 0 0-2 0-1 0 0 0-2 0-1 1 9 0 0 0 2 0 1 0 1 0 0 0 1 0 0 0 10 0 1 0 3 0 2 0 4 1-17 0 0 0 0 0-1 0 0 0-3 0-1 0-1 0-1 0-4 0-1 0-1 0-2 0-1 0 0 0-2 0 1 1 3 0 1 0 1 0 0 0 0 0 3 0 1 0 0 0 1 0 0 0 2 0 5 0 0 0 11 0 3 1-6 0-3 0-4 0-3 0-1 0 0 0-1 0-1 0-1 0 0 0-3 0-6 0 0 0-2 0-2 0-1 1 4 0 1 0 0 0 1 0 0 0 1 0 1 0 0 0 1 0 4 0 0 0 1 0 1 0 2 0 1 0 4 0 0 0-2 1-1 0-1 0-5 0 0 0-1 0 0 0-1 0-1 0 0 0-3 0-3 0-2 0-1 1 4 0 2 0 0 0 1 0 1 0 3 0 2 0 1 0 1 0 1 0 1 0 3 0 2 0 6 0-13 1-1 0-1 0-1 0 0 0-2 0-2 0-1 0-1 0-1 0 0 0-2 0-2 1 2 0 2 0 0 0 1 0 1 0 3 0 2 0 0 0 2 1-1 0-2 0-2 0 0 0-8 1 2 0 1 0 13 0 3 1-8 0-5 1 1 0"/>
<path class="k3" d="M417 63l-11 2 6 2-11 1 25 0 3 0-20 1 17 1 9 0 7 0-9 1-22 0-5 0 25 1 3 0 6 2-25 2 16 0 0 0-2 1-24 1 2 0 4 0 10 0 35 1-32 0-5 1 1 0 30 1-9 0-3 0-12 0-5 0-11 0-3 0 4 1 25 1-7 0-11 0-8 0-1 0 0 0-9 0 7 1 2 0 9 0 7 0 6 0 2 0-16 1-16 1 18 0 5 0 7 0 0 0 3 1-10 0-1 0-6 0-16 1 8 0 6 0 3 0 9 0 5 0 5 1-9 0-1 0-9 0-1 0-6 0-1 0-4 0-4 0 0 1 13 0 2 0 9 1-4 0-6 0-2 0-3 0-8 1 5 0 0 0 4 0 1 0 1 0 2 0 1 0 2 0 4 0 10 0-5 1-1 0-1 0-2 0-1 0-6 0 0 0-1 0-6 0-1 0-1 0-2 0-4 0-8 0 8 1 0 0 8 0 1 0 5 0 2 0 0 0 1 0 1 0 2 0 0 0 5 0 11 0 5 1-1 0-12 0-14 0-2 0-2 0 0 0-1 0 0 0-2 0-4 0-5 0-6 1 7 0 6 0 0 0 0 0 1 0 1 0 0 0 4 0 2 0 5 0 0 0 1 0 0 0 4 0 18 1-20 0-3 0 0 0-6 0 0 0 0 0 0 0-20 1 1 0 10 0 2 0 2 0 1 0 1 0 1 0 2 0 0 0 4 0 2 0 0 0 4 0 4 0-8 1 0 0-1 0-4 0-2 0 0 0-1 0 0 0-1 0 0 0-1 0-2 0 0 0 0 0 0 0-1 0-3 0-6 0-1 0-3 1 3 0 2 0 3 0 3 0 0 0 3 0 0 0 4 0 0 0 1 0 1 0 0 0 0 0 1 0 0 0 3 0 2 0 2 0 2 0 7 0 7 0-12 1-3 0-1 0-3 0-3 0-2 0-2 0 0 0-2 0 0 0 0 0-1 0-1 0 0 0-1 0 0 0 0 0-2 0 0 0-2 0-1 0-2 0-3 1 6 0 0 0 1 0 0 0 1 0 1 0 0 0 1 0 0 0 1 0 0 0 1 0 1 0 0 0 1 0 2 0 1 0 1 0 1 0 1 0 5 0 18 1-5 0-4 0-1 0-2 0-2 0-1 0-2 0-1 0 0 0 0 0-1 0 0 0-3 0-3 0-2 0 0 0 0 0-1 0 0 0-2 0-1 0 0 0-1 0 0 0-1 0 0 0 0 0-2 0-1 0-1 0 0 0 0 0 0 0-1 0-1 0-8 0 7 1 2 0 0 0 1 0 2 0 1 0 0 0 1 0 1 0 2 0 0 0 1 0 1 0 1 0 1 0 1 0 1 0 0 0 1 0 0 0 3 0 4 0 5 0-2 1-3 0-3 0-3 0 0 0-1 0-1 0-2 0-1 0 0 0 0 0-2 0-3 0 0 0 0 0-1 0 0 0-1 0-1 0 0 0 0 0-4 0-1 0-3 0-1 0 1 1 4 0 1 0 1 0 0 0 1 0 0 0 0 0 0 0 1 0 1 0 1 0 1 0 0 0 0 0 1 0 1 0 0 0 2 0 1 0 1 0 2 0 1 0 0 0 4 0 1 0 0 0 0 0 4 1-2 0-1 0-1 0-1 0-1 0-1 0-1 0-2 0-2 0-1 0-1 0 0 0-1 0 0 0 0 0 0 0-1 0 0 0-1 0-1 0-2 0-2 0-1 0-1 0 0 0-1 0 0 0-1 0-1 0-1 0 0 0-4 1 1 0 3 0 2 0 0 0 1 0 1 0 1 0 1 0 0 0 1 0 0 0 0 0 1 0 0 0 2 0 1 0 1 0 0 0 0 0 0 0 1 0 1 0 0 0 0 0 1 0 0 0 1 0 0 0 1 0 5 0 2 0 1 0 2 0 1 0 5 1-5 0-1 0-2 0 0 0-1 0 0 0 0 0-1 0-2 0 0 0-1 0 0 0-1 0-1 0 0 0-1 0-3 0 0 0 0 0-1 0 0 0 0 0-1 0 0 0 0 0-1 0-1 0 0 0-1 0 0 0-1 0 0 0 0 0-1 0 0 0-1 0 0 0 0 0-1 0-2 0-1 0-1 0 0 0-2 0-1 0 1 1 2 0 0 0 0 0 2 0 1 0 0 0 0 0 1 0 0 0 0 0 1 0 0 0 0 0 1 0 3 0 0 0 1 0 0 0 0 0 1 0 0 0 0 0 1 0 0 0 0 0 0 0 1 0 1 0 1 0 1 0 1 0 1 0 1 0 4 0 2 0 0 0 1 0 2 0 1 0 1 1-5 0-2 0-1 0-1 0-3 0 0 0-1 0-1 0-1 0-1 0 0 0 0 0 0 0-1 0 0 0 0 0-1 0 0 0 0 0 0 0-1 0 0 0-1 0-1 0-1 0 0 0-1 0 0 0-1 0-1 0 0 0 0 0-1 0 0 0-1 0 0 0 0 0-1 0 0 0-1 0-2 0-2 1 2 0 1 0 1 0 0 0 0 0 1 0 0 0 0 0 1 0 0 0 0 0 0 0 1 0 0 0 0 0 0 0 1 0 0 0 0 0 1 0 0 0 0 0 0 0 0 0 0 0 0 0 0 0 1 0 1 0 0 0 0 0 1 0 0 0 0 0 1 0 0 0 1 0 1 0 0 0 0 0 1 0 1 0 0 0 0 0 1 0 0 0 0 0 0 0 2 0 0 0 2 0 3 0 6 0 2 1-9 0-1 0-1 0-1 0-1 0 0 0-2 0-2 0-1 0-1 0-1 0 0 0 0 0 0 0-1 0-1 0 0 0-1 0-1 0 0 0-1 0 0 0 0 0-1 0 0 0 0 0-1 0 0 0 0 0 0 0 0 0-1 0 0 0 0 0-1 0 0 0-1 0-1 0-4 1 2 0 2 0 1 0 0 0 2 0 0 0 1 0 0 0 0 0 0 0 0 0 1 0 0 0 0 0 0 0 0 0 1 0 0 0 0 0 1 0 0 0 1 0 0 0 0 0 1 0 0 0 0 0 0 0 1 0 0 0 1 0 0 0 0 0 1 0 0 0 0 0 0 0 0 0 0 0 0 0 0 0 1 0 0 0 0 0 0 0 1 0 0 0 1 0 0 0 0 0 1 0 1 0 1 0 0 0 1 0 0 0 1 0 1 0 1 0 1 0 2 1-4 0-2 0-1 0-2 0 0 0 0 0 0 0-1 0 0 0 0 0 0 0-1 0-1 0-2 0 0 0 0 0 0 0-1 0 0 0 0 0 0 0 0 0-1 0 0 0-1 0 0 0 0 0 0 0 0 0-1 0-1 0 0 0 0 0 0 0 0 0 0 0 0 0-1 0 0 0 0 0 0 0-1 0 0 0-1 0-1 0 0 0 0 0-1 0 0 0-1 0-1 0 0 0-1 0 0 0-1 0 0 0-2 1 3 0 1 0 0 0 0 0 1 0 1 0 0 0 2 0 0 0 0 0 0 0 0 0 0 0 1 0 0 0 0 0 0 0 0 0 0 0 1 0 0 0 0 0 0 0 0 0 0 0 0 0 1 0 0 0 0 0 0 0 1 0 0 0 0 0 0 0 0 0 0 0 0 0 1 0 0 0 0 0 0 0 0 0 1 0 0 0 0 0 0 0 0 0 1 0 0 0 0 0 1 0 0 0 0 0 0 0 0 0 0 0 1 0 0 0 0 0 0 0 0 0 0 0 0 0 0 0 1 0 0 0 1 0 1 0 0 0 0 0 1 0 0 0 1 0 0 0 1 0 3 0 10 0-5 1-7 0-2 0-1 0 0 0-1 0 0 0-1 0 0 0 0 0 0 0-1 0-1 0 0 0-1 0 0 0 0 0 0 0 0 0 0 0-1 0 0 0 0 0 0 0 0 0-1 0 0 0 0 0-1 0-1 0 0 0 0 0 0 0 0 0 0 0 0 0 0 0-1 0 0 0 0 0-1 0 0 0 0 0 0 0 0 0 0 0-1 0 0 0-1 0 0 0 0 0 0 0-1 0 0 0 0 0 0 0-1 0-1 0 0 0 0 0-1 0 0 0 0 0 0 0-2 0-1 0-2 0 3 1 0 0 1 0 0 0 0 0 0 0 1 0 0 0 1 0 0 0 0 0 1 0 0 0 0 0 0 0 0 0 1 0 0 0 0 0 0 0 1 0 0 0 0 0 0 0 1 0 0 0 0 0 0 0 0 0 0 0 1 0 0 0 1 0 0 0 0 0 0 0 1 0 0 0 0 0 0 0 0 0 1 0 0 0 0 0 1 0 0 0 0 0 0 0 0 0 1 0 0 0 0 0 0 0 0 0 0 0 1 0 0 0 2 0 0 0 1 0 0 0 0 0 1 0 0 0 0 0 2 0 0 0 1 0 13 0-13 1-1 0-2 0-1 0 0 0-1 0 0 0-1 0-1 0 0 0-1 0 0 0 0 0-1 0 0 0 0 0 0 0-1 0 0 0 0 0 0 0-1 0 0 0 0 0-1 0 0 0 0 0 0 0-1 0 0 0 0 0 0 0 0 0-1 0 0 0 0 0 0 0 0 0-1 0 0 0 0 0 0 0 0 0-1 0 0 0 0 0 0 0-1 0 0 0 0 0 0 0 0 0 0 0 0 0-1 0 0 0 0 0 0 0-1 0 0 0 0 0 0 0-1 0-2 0 1 1 0 0 1 0 0 0 0 0 0 0 0 0 1 0 0 0 0 0 0 0 1 0 0 0 0 0 1 0 0 0 0 0 1 0 0 0 0 0 0 0 1 0 0 0 0 0 0 0 0 0 1 0 0 0 0 0 1 0 0 0 0 0 0 0 0 0 0 0 0 0 2 0 0 0 0 0 0 0 0 0 0 0 1 0 0 0 0 0 0 0 0 0 0 0 0 0 0 0 0 0 1 0 0 0 0 0 1 0 0 0 0 0 1 0 1 0 0 0 0 0 0 0 0 0 0 0 1 0 0 0 0 0 2 0 0 0 1 0 1 0 1 0 0 1-1 0 0 0-3 0-1 0 0 0-1 0-1 0-1 0 0 0-1 0 0 0 0 0 0 0 0 0-1 0 0 0-1 0 0 0 0 0-1 0 0 0 0 0-1 0 0 0 0 0 0 0 0 0 0 0-1 0 0 0 0 0 0 0 0 0 0 0-1 0 0 0 0 0 0 0 0 0 0 0-1 0 0 0 0 0 0 0 0 0 0 0 0 0-1 0 0 0-2 0 0 0-1 0 0 0 0 0-1 1 0 0 1 0 0 0 1 0 0 0 0 0 1 0 0 0 0 0 0 0 1 0 0 0 0 0 0 0 0 0 0 0 0 0 0 0 1 0 1 0 0 0 0 0 1 0 0 0 0 0 0 0 0 0 0 0 1 0 0 0 0 0 0 0 0 0 0 0 1 0 0 0 0 0 0 0 0 0 0 0 0 0 0 0 0 0 1 0 0 0 0 0 0 0 0 0 0 0 1 0 0 0 0 0 0 0 1 0 0 0 0 0 1 0 0 0 1 0 0 0 3 0 0 0 1 0 6 1-1 0-5 0-4 0 0 0-1 0 0 0-1 0-1 0 0 0 0 0 0 0-1 0 0 0 0 0 0 0 0 0-1 0 0 0 0 0 0 0 0 0-1 0 0 0 0 0 0 0 0 0 0 0-1 0 0 0 0 0 0 0-1 0 0 0 0 0-1 0 0 0 0 0 0 0 0 0-1 0 0 0 0 0 0 0 0 0 0 0 0 0 0 0 0 0 0 0-1 0 0 0 0 0 0 0 0 0-1 0 0 0 0 0-1 0 0 0 0 0-1 0 0 0 0 0 0 0 0 0-1 0 0 0 0 0 0 0-2 0 1 1 0 0 1 0 1 0 1 0 0 0 0 0 0 0 1 0 0 0 0 0 1 0 0 0 0 0 0 0 0 0 0 0 1 0 0 0 0 0 0 0 1 0 0 0 0 0 0 0 1 0 0 0 1 0 0 0 0 0 0 0 0 0 0 0 0 0 0 0 1 0 0 0 0 0 0 0 0 0 0 0 0 0 0 0 0 0 1 0 0 0 0 0 3 0 0 0 0 0 0 0 0 0 0 0 1 0 0 0 0 0 0 0 3 0 6 0-3 1-1 0-1 0-3 0-1 0-3 0-1 0 0 0 0 0-1 0 0 0-1 0 0 0 0 0-1 0 0 0 0 0 0 0 0 0-1 0 0 0 0 0-1 0 0 0-1 0 0 0 0 0 0 0 0 0 0 0 0 0 0 0 0 0-1 0 0 0 0 0-1 0 0 0 0 0 0 0-1 0 0 0-1 0 0 0-3 0 2 1 0 0 1 0 0 0 0 0 2 0 0 0 0 0 0 0 0 0 1 0 0 0 0 0 0 0 0 0 0 0 0 0 0 0 1 0 0 0 0 0 0 0 0 0 0 0 0 0 1 0 0 0 0 0 1 0 0 0 1 0 0 0 0 0 0 0 1 0 0 0 0 0 1 0 0 0 1 0 0 0 0 0 1 0 0 0 1 0 1 0 0 0 0 0 0 0 0 0 2 0 3 0 1 0-5 1-3 0-1 0 0 0 0 0 0 0-1 0 0 0 0 0-1 0 0 0 0 0 0 0 0 0 0 0 0 0-1 0 0 0 0 0 0 0 0 0 0 0-1 0 0 0 0 0 0 0 0 0 0 0 0 0 0 0-1 0-2 0 0 0 0 0 0 0-1 0 0 0 0 0 0 0-1 0 0 0 0 0 0 0 0 0 0 0-1 0 0 0 0 0 0 0-1 0 0 0-2 0 2 1 1 0 0 0 1 0 1 0 0 0 0 0 0 0 0 0 0 0 1 0 0 0 0 0 0 0 0 0 0 0 0 0 0 0 0 0 1 0 0 0 0 0 0 0 0 0 0 0 0 0 1 0 0 0 0 0 0 0 1 0 0 0 0 0 0 0 0 0 1 0 0 0 1 0 0 0 1 0 0 0 0 0 1 0 0 0 2 0 1 0-1 1-3 0 0 0-1 0 0 0 0 0 0 0 0 0-1 0 0 0 0 0-1 0 0 0 0 0 0 0 0 0 0 0-1 0 0 0 0 0 0 0 0 0-1 0 0 0 0 0-1 0 0 0 0 0 0 0 0 0 0 0-1 0 0 0 0 0-1 0 0 0 0 0 0 0 0 0 0 0 0 0-1 0 0 0 0 0 0 0-2 0 0 1 1 0 0 0 0 0 2 0 0 0 1 0 0 0 0 0 0 0 0 0 0 0 1 0 1 0 0 0 0 0 0 0 0 0 1 0 0 0 0 0 0 0 0 0 0 0 1 0 0 0 0 0 0 0 0 0 0 0 0 0 0 0 2 0 2 0-2 1 0 0-1 0-1 0 0 0 0 0 0 0 0 0-1 0 0 0-1 0 0 0 0 0-1 0 0 0 0 0 0 0-1 0 0 0 0 0-1 0 0 0 0 0-1 0 0 0-1 0 0 0 0 1 1 0 0 0 1 0 0 0 1 0 0 0 1 0 1 0 0 0 0 0 0 0 0 0 0 0 0 0 0 0 1 0 0 0 0 0 0 0 0 0 1 0 0 0 1 0 0 0 0 0 1 0 2 0 1 0-4 1-2 0-1 0-1 0 0 0-1 0-1 0 0 0 0 0 0 0-1 0 1 1 1 0 1 0 6 0"/>
<path class="k4" d="M508 79l-15 7-8 2-4 2 13 0 12 0 3 0-11 1-20 0 13 3 16 1-22 0-4 1 9 0 12 0 7 0-5 1-3 0-30 1 18 0 6 0 10 0-5 1-35 0 17 1 12 0 8 1-5 0-4 0-4 0-5 0-24 0 8 1 1 0 4 0 12 0 0 0 1 0 0 0 12 0 12 1-11 0-7 0-8 0 0 0-4 0-16 0-4 1 14 0 6 0 6 0 11 0 10 0 1 0-13 1-8 0-8 0-1 0-2 0-3 0-7 0-12 1 0 0 5 0 3 0 0 0 1 0 2 0 6 0 0 0 3 0 4 0 3 0 18 0 5 0 2 0-23 1-3 0-15 0-1 0-8 0-16 0 12 1 7 0 7 0 1 0 0 0 10 0 3 0 24 0 5 0-13 1-11 0 0 0-2 0-2 0-1 0-9 0-2 0 0 0-5 0-4 0-1 0-7 0-2 0-7 0-5 0 7 1 1 0 2 0 2 0 4 0 5 0 1 0 3 0 3 0 6 0 2 0 5 0 3 0 9 0 3 0 1 1-14 0-5 0-15 0-2 0-2 0-1 0-4 0-6 0 0 1 0 0 2 0 3 0 1 0 2 0 2 0 1 0 2 0 0 0 1 0 1 0 2 0 3 0 13 0 1 0 3 1-3 0 0 0-4 0-2 0-3 0-4 0-8 0-6 0 0 0-1 0-1 0-7 0-11 1 4 0 1 0 1 0 9 0 4 0 0 0 1 0 1 0 3 0 0 0 2 0 1 0 10 0 1 0 3 0 9 0 14 0-26 1-3 0-2 0-10 0-1 0-2 0-3 0-13 0-3 0-4 1 2 0 1 0 5 0 1 0 2 0 5 0 1 0 3 0 2 0 4 0 1 0 0 0 5 1-2 0-1 0-2 0-11 0 0 0 0 0-3 0-2 0-5 0-2 0-4 0-1 0 1 1 1 0 9 0 1 0 1 0 1 0 6 0 1 0 6 0 3 0 7 0-1 1-15 0-1 0-1 0-2 0-15 0 8 1 10 0 4 0 5 0 1 0-4 1-11 0-4 0-3 0 0 0-4 0-2 0-6 0 1 1 12 0 3 1-3 0-9 0 11 1 3 0-4 5"/>
<path class="k5" d="M503 82l-26 8 4 2 17 0-17 1 1 1 17 1-11 1 15 0-11 1-8 0-13 1 30 0-7 1-15 0-18 1 1 0 11 0 17 1-8 0-2 0-9 0-4 0 2 1 3 0 2 0 2 0 2 0 0 0 11 0 2 0 7 0 5 0 4 0-3 1-9 0-1 0-18 0-10 0-1 0-4 0-17 0 24 1 8 0 16 0 1 1-11 0 0 0-1 0 0 0-4 0-10 0-3 0-2 0-21 1 16 0 2 0 2 0 3 0 23 0 1 0 0 0 8 0 2 0 9 1-25 0-1 0-6 0-4 0-6 0-4 0-4 0-2 0-3 0-1 1 3 0 2 0 2 0 1 0 5 0 3 0 7 0 1 0 5 0 4 0 7 0 17 0-20 1 0 0-3 0-4 0-1 0-4 0-4 0-2 0-22 0 2 1 8 0 0 0 3 0 10 0 3 0 8 0 14 0 10 1-4 0-7 0-10 0-8 0-11 0-1 0-7 0-1 0-1 0-1 0-1 0-4 0-16 1 6 0 6 0 1 0 4 0 2 0 7 0 1 0 3 0 2 0 2 0 13 0 4 0 2 0-1 1-4 0-8 0-4 0-1 0-4 0-1 0-1 0-1 0-3 0-4 0-7 0-3 0-1 0-5 0-3 1 0 0 1 0 4 0 0 0 1 0 2 0 4 0 12 0 4 0 8 0 2 0 9 0 1 0 3 0 2 0 9 0-18 1-3 0-5 0-1 0-8 0-10 0 0 0-1 0-2 0-2 0-4 0-7 0-3 0-2 1 8 0 11 0 2 0 1 0 4 0 15 0 15 0 8 0-16 1-15 0 0 0-13 0-3 0 0 0-5 0-4 0-7 1 6 0 2 0 1 0 1 0 7 0 7 0 6 0 3 0 11 0 12 1-16 0-8 0-17 0-3 0-3 0 0 0-1 0-2 0-3 0 0 0-7 0-2 0 1 1 2 0 2 0 13 0 1 0 0 0 19 0 5 1-21 0-3 0-2 0-1 0-11 0-1 1 4 0 2 0 6 0 2 0 22 0-27 1 0 0-6 0-2 1 12 0 1 0 7 0-15 3-2 0 0 1"/>
<path class="k8" d="M508 88l-3 5 2 1 1 1-8 0 6 1 3 1-28 0 2 1 7 0 7 0 0 0 10 1-8 0-1 0-9 0-2 0-9 0-5 0-3 0 18 1 1 0 4 0 8 0 8 1-8 0-1 0-20 0-1 0 0 0-2 0-7 0-19 0 24 1 1 0 5 0 5 0 5 0 2 0 4 0 1 0 0 0 1 0 2 0 7 0 1 1-3 0-1 0-1 0-7 0-1 0-3 0 0 0-2 0-2 0-3 0-1 0 0 0-4 0 0 0-2 0-2 0-13 0-9 0 4 1 6 0 4 0 4 0 4 0 1 0 0 0 0 0 3 0 0 0 1 0 3 0 10 0 1 0 4 0 9 0-6 1-2 0-2 0-4 0-1 0 0 0-1 0-1 0-1 0 0 0-2 0-1 0-1 0-3 0 0 0-2 0-1 0-1 0-2 0-1 0-2 0-1 0-2 0-3 0-2 0 0 0-3 0-1 0-1 0-1 0-2 0-18 1 11 0 3 0 3 0 0 0 2 0 4 0 3 0 4 0 2 0 1 0 1 0 1 0 1 0 0 0 1 0 0 0 1 0 2 0 2 0 0 0 1 0 0 0 2 0 0 0 2 0 1 0 3 0 1 0 0 0 7 0 6 0 2 1-2 0-3 0 0 0-5 0-5 0-4 0-5 0 0 0 0 0-1 0-1 0-1 0-2 0 0 0-1 0-2 0-5 0-1 0 0 0 0 0-1 0 0 0 0 0-1 0-1 0-1 0 0 0 0 0-2 0 0 0 0 0-1 0-2 0-1 0-2 0 0 0-2 0-1 0-3 0-9 0-2 1 1 0 3 0 0 0 1 0 2 0 1 0 6 0 1 0 0 0 3 0 0 0 0 0 1 0 1 0 0 0 0 0 0 0 2 0 1 0 1 0 1 0 0 0 2 0 1 0 1 0 0 0 0 0 2 0 0 0 2 0 1 0 1 0 2 0 0 0 2 0 2 0 0 0 2 0 2 0 0 0 1 0 1 0 0 0 2 0 1 0 1 0 1 0 1 0 8 0 5 0 1 1-1 0-8 0-5 0-5 0 0 0-3 0 0 0-3 0-1 0-2 0 0 0-1 0-2 0 0 0 0 0 0 0-1 0-3 0 0 0-1 0 0 0-1 0-4 0-1 0 0 0 0 0-1 0-1 0 0 0-1 0-1 0-1 0-1 0 0 0-2 0 0 0 0 0-2 0 0 0-1 0-1 0-1 0-7 0 0 0-1 0-1 0-12 1 8 0 4 0 1 0 2 0 0 0 4 0 0 0 1 0 1 0 0 0 0 0 1 0 2 0 1 0 0 0 0 0 0 0 0 0 2 0 0 0 0 0 1 0 1 0 0 0 1 0 0 0 0 0 1 0 1 0 0 0 0 0 1 0 0 0 0 0 0 0 1 0 0 0 0 0 1 0 0 0 1 0 1 0 0 0 0 0 0 0 1 0 1 0 0 0 1 0 1 0 0 0 0 0 1 0 0 0 1 0 0 0 1 0 0 0 0 0 1 0 0 0 0 0 1 0 3 0 0 0 1 0 1 0 0 0 3 0 1 0 4 0 3 0 0 0 6 0 4 0-3 1-4 0-1 0-1 0-3 0 0 0-1 0-1 0 0 0 0 0-2 0-1 0-2 0-1 0-2 0 0 0 0 0-1 0 0 0-1 0 0 0-1 0 0 0-1 0 0 0 0 0-1 0 0 0 0 0-1 0 0 0-1 0-2 0 0 0-1 0-1 0-1 0 0 0 0 0 0 0-1 0 0 0-1 0 0 0-1 0 0 0 0 0 0 0-1 0 0 0-1 0-1 0-1 0 0 0 0 0 0 0 0 0 0 0-1 0-1 0-1 0-1 0 0 0 0 0 0 0-4 0 0 0 0 0 0 0-1 0 0 0-1 0-1 0 0 0-2 0-1 0 0 0-1 0-1 0 0 0 0 0-1 0-1 0 0 0 0 0 0 0 0 0 0 0-1 0-2 0 0 0-4 0 0 0 0 0-1 0-16 1 14 0 1 0 3 0 1 0 0 0 0 0 1 0 2 0 1 0 0 0 0 0 1 0 0 0 0 0 0 0 1 0 0 0 0 0 0 0 0 0 0 0 1 0 0 0 1 0 0 0 0 0 1 0 1 0 1 0 0 0 0 0 1 0 0 0 0 0 0 0 0 0 0 0 0 0 1 0 0 0 2 0 0 0 0 0 1 0 0 0 0 0 0 0 1 0 0 0 0 0 0 0 1 0 0 0 1 0 1 0 0 0 1 0 0 0 0 0 0 0 0 0 0 0 0 0 0 0 1 0 0 0 0 0 1 0 1 0 0 0 0 0 0 0 1 0 0 0 1 0 2 0 0 0 1 0 0 0 0 0 0 0 0 0 1 0 0 0 0 0 1 0 0 0 0 0 1 0 1 0 0 0 1 0 0 0 0 0 1 0 0 0 0 0 1 0 1 0 0 0 0 0 0 0 1 0 0 0 0 0 1 0 0 0 0 0 1 0 3 0 3 0 1 0 0 0 1 0 0 0 1 0 1 0 1 0 0 0 13 1-1 0-8 0-8 0-1 0-1 0-3 0-1 0-1 0-3 0 0 0 0 0 0 0 0 0 0 0 0 0 0 0-1 0 0 0-1 0-1 0-1 0-1 0 0 0-1 0 0 0 0 0 0 0-1 0 0 0-1 0-1 0-1 0 0 0 0 0 0 0-1 0 0 0 0 0-1 0 0 0-1 0 0 0-1 0-1 0 0 0 0 0-1 0 0 0 0 0-1 0 0 0-1 0-2 0 0 0-1 0-1 0 0 0-1 0-1 0 0 0 0 0-1 0 0 0 0 0 0 0 0 0-1 0 0 0-1 0 0 0 0 0-1 0 0 0 0 0-1 0-1 0-1 0 0 0-1 0 0 0 0 0-1 0 0 0 0 0-1 0 0 0 0 0 0 0-1 0 0 0 0 0-1 0-1 0 0 0-2 0-2 0-1 0-1 0-2 0-8 0 0 1 3 0 2 0 5 0 0 0 1 0 1 0 0 0 0 0 0 0 0 0 1 0 0 0 0 0 1 0 1 0 0 0 0 0 0 0 1 0 0 0 0 0 1 0 0 0 0 0 1 0 0 0 2 0 0 0 1 0 1 0 1 0 1 0 0 0 0 0 0 0 0 0 0 0 1 0 0 0 0 0 1 0 0 0 0 0 1 0 0 0 0 0 1 0 0 0 0 0 0 0 0 0 0 0 1 0 0 0 0 0 0 0 1 0 0 0 2 0 0 0 0 0 0 0 1 0 0 0 1 0 0 0 0 0 0 0 0 0 0 0 1 0 0 0 0 0 1 0 0 0 0 0 0 0 0 0 1 0 0 0 1 0 0 0 1 0 0 0 1 0 1 0 1 0 0 0 1 0 0 0 0 0 1 0 0 0 0 0 0 0 1 0 0 0 1 0 0 0 1 0 0 0 1 0 0 0 1 0 0 0 1 0 1 0 0 0 0 0 0 0 1 0 1 0 1 0 4 0 2 0 1 0 2 0 2 0 4 0 8 0 1 0 2 1-3 0 0 0-7 0-1 0-1 0-2 0-2 0-1 0-3 0 0 0-2 0 0 0 0 0-2 0-2 0 0 0-2 0 0 0-1 0 0 0-1 0 0 0-1 0 0 0-1 0-1 0-1 0 0 0 0 0-1 0-2 0 0 0 0 0 0 0 0 0-1 0 0 0 0 0 0 0 0 0-1 0 0 0 0 0-1 0 0 0 0 0 0 0-1 0 0 0 0 0-1 0 0 0 0 0 0 0-1 0 0 0 0 0 0 0 0 0 0 0-1 0 0 0 0 0-1 0-1 0 0 0 0 0 0 0 0 0 0 0-1 0 0 0 0 0-1 0 0 0 0 0 0 0 0 0 0 0-1 0 0 0 0 0 0 0 0 0 0 0 0 0 0 0-1 0 0 0-1 0 0 0 0 0 0 0 0 0 0 0 0 0-1 0 0 0 0 0-1 0 0 0 0 0 0 0-1 0 0 0 0 0 0 0 0 0 0 0-1 0-1 0 0 0 0 0 0 0-1 0-1 0 0 0-2 0 0 0 0 0 0 0-1 0-1 0 0 0 0 0-1 0 0 0-1 0 0 0 0 0-3 0 0 0 0 0 0 0-1 0 0 0 0 0 0 0 0 0-3 0 0 0 0 0-3 0-4 0-5 1 5 0 0 0 6 0 0 0 0 0 0 0 1 0 0 0 1 0 2 0 1 0 0 0 0 0 1 0 1 0 0 0 0 0 1 0 1 0 1 0 0 0 0 0 0 0 0 0 1 0 0 0 0 0 0 0 1 0 0 0 0 0 1 0 0 0 0 0 1 0 0 0 0 0 1 0 0 0 1 0 0 0 0 0 0 0 0 0 0 0 1 0 0 0 0 0 1 0 0 0 0 0 0 0 1 0 0 0 0 0 0 0 0 0 1 0 0 0 0 0 0 0 2 0 0 0 0 0 0 0 1 0 0 0 0 0 0 0 0 0 1 0 0 0 0 0 1 0 0 0 0 0 0 0 0 0 0 0 0 0 1 0 0 0 1 0 0 0 0 0 0 0 0 0 2 0 0 0 0 0 0 0 2 0 0 0 0 0 0 0 1 0 0 0 0 0 0 0 1 0 0 0 0 0 0 0 1 0 0 0 0 0 0 0 1 0 0 0 0 0 0 0 1 0 0 0 3 0 1 0 0 0 1 0 1 0 2 0 1 0 0 0 4 0 2 0 1 0 5 0 2 0 11 0-8 1-6 0-5 0-2 0-1 0-2 0-2 0-1 0 0 0-4 0-1 0 0 0 0 0 0 0-1 0 0 0 0 0 0 0 0 0-1 0 0 0-2 0-1 0 0 0 0 0-1 0-1 0 0 0-1 0 0 0-1 0 0 0-1 0 0 0-1 0 0 0 0 0 0 0-1 0-1 0 0 0-1 0 0 0 0 0-1 0 0 0 0 0 0 0 0 0-1 0 0 0-1 0 0 0 0 0-1 0 0 0 0 0 0 0 0 0 0 0-1 0 0 0 0 0-1 0 0 0 0 0 0 0 0 0 0 0-1 0 0 0 0 0 0 0 0 0 0 0-1 0 0 0 0 0 0 0 0 0 0 0 0 0 0 0 0 0-1 0 0 0-1 0 0 0-1 0 0 0 0 0 0 0-1 0 0 0 0 0 0 0 0 0-1 0 0 0 0 0 0 0 0 0 0 0-1 0 0 0 0 0 0 0-1 0 0 0 0 0 0 0-1 0 0 0-1 0 0 0 0 0-1 0 0 0 0 0 0 0-1 0-1 0 0 0 0 0 0 0-1 0 0 0-1 0 0 0-1 0 0 0-1 0 0 0-1 0 0 0 0 0 0 0-1 0 0 0 0 0 0 0 0 0-3 0-2 0-6 0 0 1 4 0 2 0 1 0 0 0 3 0 0 0 0 0 0 0 1 0 0 0 0 0 1 0 0 0 0 0 0 0 1 0 0 0 0 0 1 0 0 0 0 0 0 0 1 0 0 0 0 0 1 0 1 0 0 0 0 0 0 0 0 0 0 0 0 0 0 0 1 0 0 0 0 0 1 0 0 0 0 0 0 0 0 0 0 0 0 0 1 0 0 0 0 0 0 0 0 0 1 0 0 0 0 0 0 0 1 0 0 0 0 0 0 0 0 0 1 0 0 0 1 0 0 0 0 0 0 0 0 0 1 0 0 0 0 0 0 0 0 0 0 0 0 0 0 0 1 0 0 0 0 0 0 0 0 0 1 0 0 0 1 0 0 0 0 0 0 0 0 0 0 0 0 0 0 0 0 0 1 0 0 0 0 0 0 0 0 0 0 0 0 0 1 0 0 0 1 0 0 0 0 0 0 0 0 0 1 0 0 0 0 0 0 0 0 0 0 0 1 0 2 0 0 0 0 0 0 0 0 0 0 0 0 0 1 0 0 0 0 0 1 0 0 0 0 0 0 0 1 0 0 0 0 0 0 0 1 0 0 0 0 0 0 0 0 0 1 0 1 0 0 0 0 0 2 0 0 0 1 0 0 0 1 0 1 0 0 0 1 0 1 0 0 0 0 0 0 0 1 0 0 0 0 0 1 0 0 0 2 0 0 0 0 0 0 0 1 0 0 0 2 0 4 0 5 0 2 0 3 0 1 0-5 1-2 0-1 0 0 0-3 0-1 0 0 0-2 0 0 0-2 0-2 0 0 0-4 0-3 0 0 0-1 0-1 0 0 0-1 0-1 0 0 0-1 0 0 0-1 0 0 0 0 0 0 0-1 0 0 0 0 0 0 0 0 0-2 0 0 0 0 0-1 0 0 0-1 0 0 0 0 0 0 0 0 0 0 0-1 0 0 0 0 0 0 0-1 0 0 0 0 0-1 0 0 0 0 0 0 0-1 0 0 0 0 0 0 0 0 0 0 0 0 0-1 0 0 0-1 0 0 0 0 0-1 0 0 0 0 0 0 0 0 0-1 0 0 0 0 0 0 0 0 0 0 0 0 0 0 0-1 0 0 0 0 0-1 0 0 0 0 0 0 0 0 0 0 0 0 0 0 0-1 0 0 0 0 0 0 0 0 0 0 0 0 0-1 0 0 0 0 0-1 0 0 0 0 0 0 0-1 0 0 0 0 0 0 0 0 0 0 0-1 0 0 0-1 0 0 0 0 0 0 0-1 0 0 0 0 0 0 0-1 0 0 0 0 0 0 0 0 0 0 0 0 0 0 0-1 0 0 0 0 0 0 0 0 0 0 0-1 0 0 0 0 0-1 0 0 0 0 0 0 0 0 0-1 0 0 0 0 0-2 0-1 0 0 0 0 0 0 0 0 0-1 0-1 0 0 0-1 0 0 0-1 0-2 0 0 0-1 1 4 0 0 0 1 0 0 0 0 0 0 0 1 0 1 0 0 0 0 0 0 0 0 0 1 0 0 0 0 0 0 0 0 0 0 0 0 0 1 0 0 0 1 0 0 0 0 0 1 0 1 0 0 0 0 0 0 0 0 0 1 0 0 0 1 0 0 0 1 0 0 0 0 0 0 0 1 0 0 0 0 0 0 0 1 0 0 0 1 0 0 0 0 0 0 0 0 0 1 0 0 0 0 0 0 0 0 0 0 0 1 0 0 0 0 0 0 0 0 0 0 0 0 0 1 0 0 0 1 0 0 0 0 0 0 0 1 0 0 0 0 0 0 0 0 0 0 0 0 0 0 0 1 0 0 0 0 0 1 0 0 0 0 0 0 0 0 0 0 0 0 0 1 0 0 0 0 0 0 0 0 0 0 0 1 0 0 0 1 0 0 0 0 0 1 0 0 0 0 0 0 0 0 0 0 0 0 0 1 0 1 0 0 0 0 0 1 0 1 0 0 0 0 0 1 0 0 0 1 0 0 0 1 0 0 0 1 0 0 0 0 0 0 0 0 0 1 0 0 0 1 0 0 0 1 0 1 0 0 0 0 0 2 0 0 0 2 0 1 0 0 0 2 0 3 0 3 0 4 0 6 0 4 0 9 0-28 1-2 0-4 0 0 0 0 0 0 0-2 0-1 0-1 0-2 0 0 0-1 0 0 0-1 0-1 0 0 0-1 0-1 0 0 0-1 0 0 0-1 0 0 0-1 0 0 0 0 0 0 0 0 0-1 0-1 0 0 0 0 0 0 0-1 0 0 0 0 0 0 0-1 0-1 0 0 0-1 0 0 0 0 0 0 0 0 0-1 0 0 0 0 0 0 0 0 0-1 0 0 0 0 0 0 0-1 0 0 0 0 0 0 0-1 0 0 0 0 0 0 0 0 0-1 0 0 0 0 0-1 0 0 0 0 0 0 0 0 0 0 0 0 0-1 0 0 0 0 0 0 0-1 0 0 0 0 0 0 0-1 0 0 0 0 0 0 0 0 0 0 0-1 0 0 0 0 0-1 0 0 0 0 0 0 0-1 0 0 0 0 0 0 0-1 0 0 0 0 0 0 0-1 0 0 0-1 0 0 0 0 0-1 0 0 0-1 0 0 0-2 0 0 0 0 0 0 0-1 0 0 0-1 0-1 0-2 0 1 1 0 0 0 0 1 0 4 0 1 0 1 0 1 0 0 0 0 0 1 0 0 0 1 0 0 0 0 0 0 0 0 0 0 0 0 0 1 0 0 0 0 0 0 0 0 0 1 0 0 0 0 0 1 0 0 0 0 0 0 0 0 0 0 0 1 0 0 0 1 0 0 0 0 0 0 0 0 0 0 0 1 0 0 0 0 0 0 0 0 0 1 0 0 0 0 0 0 0 0 0 0 0 1 0 0 0 0 0 0 0 0 0 1 0 1 0 0 0 0 0 1 0 0 0 0 0 0 0 0 0 0 0 0 0 1 0 0 0 1 0 0 0 1 0 1 0 1 0 0 0 1 0 0 0 1 0 0 0 0 0 0 0 1 0 0 0 0 0 0 0 1 0 0 0 2 0 1 0 1 0 1 0 1 0 0 0 1 0 0 0 4 0 2 0 5 1-6 0-1 0-4 0-1 0 0 0 0 0 0 0-1 0-1 0 0 0-1 0-1 0-1 0-1 0 0 0-1 0-2 0 0 0 0 0 0 0-1 0-2 0 0 0 0 0-1 0 0 0-1 0 0 0 0 0-1 0 0 0 0 0 0 0 0 0-1 0 0 0-1 0 0 0 0 0 0 0-1 0 0 0 0 0-1 0 0 0 0 0 0 0-1 0 0 0 0 0 0 0-1 0 0 0 0 0 0 0-2 0 0 0 0 0 0 0 0 0-1 0 0 0-1 0 0 0-1 0 0 0 0 0-1 0 0 0 0 0 0 0 0 0 0 0 0 0 0 0-1 0-1 0 0 0 0 0 0 0-1 0 0 0 0 0-1 0 0 0 0 0-1 0 0 0 0 0-2 0 0 0-1 0-3 0 1 1 1 0 1 0 0 0 1 0 1 0 0 0 2 0 1 0 0 0 1 0 0 0 0 0 1 0 0 0 1 0 1 0 0 0 1 0 0 0 0 0 0 0 2 0 0 0 1 0 0 0 0 0 0 0 1 0 0 0 0 0 0 0 0 0 0 0 0 0 1 0 0 0 0 0 0 0 0 0 1 0 1 0 0 0 1 0 2 0 0 0 0 0 1 0 0 0 0 0 0 0 0 0 1 0 0 0 0 0 1 0 0 0 1 0 0 0 1 0 1 0 0 0 1 0 1 0 3 0 0 0 0 0 1 0 0 0 1 0 1 0 0 0 3 0 1 0 0 0 5 0 11 0 1 0-19 1-2 0 0 0-3 0-3 0-1 0-1 0-1 0 0 0-3 0 0 0 0 0 0 0-1 0 0 0 0 0 0 0 0 0-1 0-1 0 0 0-3 0 0 0 0 0-1 0-1 0 0 0 0 0 0 0-1 0 0 0-1 0 0 0 0 0 0 0 0 0-1 0 0 0-1 0 0 0-1 0-1 0-1 0 0 0-1 0 0 0-1 0 0 0-1 0 0 0-1 0-3 0-1 0 0 0 0 1 1 0 0 0 0 0 1 0 1 0 0 0 1 0 1 0 0 0 1 0 1 0 0 0 1 0 0 0 1 0 1 0 0 0 1 0 0 0 0 0 1 0 0 0 1 0 2 0 0 0 2 0 3 0 1 0 2 0 1 0 1 0 0 0 0 0 2 0 0 0 5 0 1 0 2 0 9 1-1 0-7 0-2 0-2 0-6 0 0 0-1 0 0 0-2 0-4 0 0 0-2 0-1 0-1 0 0 0-2 0-2 0-1 0 0 0 0 0 0 0-1 0 0 0 0 0-1 0-1 0 0 0-1 0-1 0-1 1 0 0 2 0 0 0 1 0 1 0 0 0 1 0 0 0 1 0 1 0 3 0 4 0 1 0 2 0 18 0-17 1 0 0-2 0-4 0-1 0-1 0-2 0-7 0-1 0-1 0-1 0 4 1 1 0 1 0 1 0 5 0 0 0 10 0-9 1-8 0"/>
<path class="k7" d="M497 98l6 0-5 1 4 1 6 1-1 0-9 0-7 1 3 0 4 0 12 0-1 1-1 0-1 0 0 0-1 0-20 0-6 0-1 1 7 0 2 0 3 0 2 0 1 0 4 0 1 0 4 0 2 0 4 0-2 1-10 0-3 0 0 0 0 0-1 0-4 0-1 0-1 0-3 0-1 0-2 0-1 0-2 0-14 0-2 1 11 0 5 0 1 0 1 0 0 0 2 0 3 0 1 0 6 0 3 0 0 0 4 0 5 0 3 0 1 0 0 0-3 1-2 0-3 0-1 0-1 0-2 0-1 0 0 0-2 0-3 0-1 0 0 0 0 0-1 0-2 0 0 0 0 0-1 0 0 0-1 0 0 0 0 0-4 0-6 0 0 0-1 0-1 0 0 0-5 0-5 0-4 0 1 1 5 0 1 0 2 0 1 0 1 0 1 0 0 0 1 0 2 0 1 0 0 0 3 0 1 0 2 0 2 0 1 0 0 0 0 0 0 0 1 0 2 0 2 0 0 0 8 0 3 0 5 0 2 0 3 1-5 0-6 0-3 0-1 0-3 0-2 0 0 0-1 0-1 0-1 0-1 0-1 0-1 0 0 0-2 0-1 0 0 0-1 0-1 0-1 0 0 0-2 0 0 0 0 0-2 0-1 0 0 0 0 0-2 0 0 0 0 0-1 0-1 0-1 0-2 0 0 0-9 1 0 0 2 0 1 0 4 0 2 0 1 0 1 0 1 0 1 0 0 0 0 0 0 0 1 0 1 0 0 0 0 0 1 0 1 0 0 0 1 0 2 0 0 0 0 0 0 0 1 0 0 0 1 0 2 0 1 0 2 0 0 0 1 0 1 0 5 0 1 0 5 0 2 0 5 0-2 1-6 0-5 0 0 0 0 0-5 0-1 0-1 0-2 0 0 0-1 0-2 0-1 0 0 0-1 0 0 0 0 0-1 0-2 0 0 0-1 0 0 0 0 0-1 0-1 0 0 0 0 0 0 0-1 0 0 0-1 0-2 0 0 0-1 0 0 0-1 0-2 0 0 0-2 0-3 0-1 0-1 0-2 0-1 0-2 0 0 0 0 0-1 0-5 0 0 1 1 0 1 0 2 0 0 0 3 0 2 0 3 0 0 0 1 0 0 0 1 0 0 0 1 0 1 0 1 0 1 0 0 0 0 0 1 0 0 0 2 0 0 0 1 0 0 0 1 0 1 0 1 0 1 0 0 0 1 0 0 0 0 0 1 0 0 0 1 0 0 0 0 0 2 0 0 0 4 0 0 0 0 0 9 0 6 0-2 1-5 0-5 0-2 0 0 0-4 0-1 0 0 0 0 0-1 0-1 0-1 0 0 0-3 0 0 0 0 0 0 0-1 0-1 0-1 0 0 0 0 0 0 0-1 0 0 0-1 0-1 0 0 0 0 0 0 0-1 0 0 0-1 0 0 0 0 0 0 0-1 0-1 0 0 0-1 0 0 0-1 0 0 0-1 0 0 0-2 0-1 0-1 0-1 0 0 0-1 0-2 0-3 0-1 0-3 0-2 1 1 0 1 0 0 0 2 0 1 0 3 0 0 0 1 0 1 0 0 0 2 0 0 0 1 0 1 0 0 0 2 0 0 0 1 0 1 0 1 0 0 0 1 0 0 0 0 0 1 0 1 0 0 0 1 0 1 0 0 0 0 0 0 0 1 0 2 0 0 0 1 0 0 0 0 0 1 0 0 0 1 0 0 0 0 0 0 0 1 0 0 0 1 0 1 0 7 0 0 0 1 0 1 0 0 0 1 0 0 0 2 0 0 0 10 0 1 1-12 0-1 0-3 0-1 0-1 0-4 0-1 0-1 0-1 0-1 0-1 0 0 0 0 0-1 0 0 0-1 0-1 0 0 0 0 0-1 0 0 0-1 0-1 0-1 0 0 0-1 0 0 0 0 0 0 0 0 0-1 0-1 0 0 0-1 0 0 0 0 0 0 0-1 0-1 0 0 0 0 0 0 0 0 0 0 0 0 0-1 0 0 0 0 0-1 0-1 0 0 0-1 0 0 0 0 0 0 0 0 0 0 0-1 0-1 0-1 0 0 0-1 0 0 0-1 0-1 0 0 0 0 0-1 0-11 1 2 0 1 0 2 0 3 0 2 0 1 0 0 0 1 0 0 0 1 0 0 0 1 0 0 0 0 0 1 0 1 0 0 0 0 0 1 0 0 0 0 0 1 0 0 0 0 0 1 0 0 0 0 0 0 0 1 0 0 0 1 0 0 0 2 0 1 0 0 0 0 0 1 0 0 0 1 0 0 0 1 0 0 0 0 0 0 0 0 0 1 0 0 0 1 0 1 0 1 0 2 0 0 0 0 0 0 0 1 0 1 0 2 0 0 0 0 0 1 0 4 0 0 0 1 1-3 0-1 0-4 0-1 0-2 0-1 0-1 0-1 0-1 0 0 0 0 0-1 0 0 0-1 0-2 0 0 0 0 0-1 0 0 0 0 0 0 0 0 0-1 0 0 0-1 0 0 0-2 0 0 0-2 0-1 0 0 0 0 0 0 0-1 0 0 0 0 0-1 0 0 0 0 0-1 0 0 0-1 0 0 0 0 0 0 0-2 0 0 0-2 0-1 0-1 0 0 0-1 0 0 0 0 0-1 0 0 0 0 0-3 0 0 0-1 0-2 0-1 1 1 0 1 0 3 0 0 0 1 0 1 0 1 0 1 0 0 0 1 0 0 0 0 0 1 0 0 0 0 0 0 0 0 0 2 0 0 0 2 0 1 0 0 0 0 0 1 0 0 0 1 0 0 0 1 0 0 0 1 0 1 0 0 0 0 0 1 0 0 0 1 0 0 0 0 0 0 0 0 0 1 0 0 0 0 0 0 0 0 0 0 0 1 0 1 0 0 0 1 0 0 0 1 0 0 0 0 0 1 0 0 0 1 0 1 0 0 0 4 0 0 0 0 0 1 0 0 0 5 0 4 0 15 1-13 0-1 0-13 0-1 0-1 0-1 0 0 0 0 0-1 0 0 0 0 0-1 0-1 0 0 0-3 0 0 0-1 0 0 0-1 0-1 0-1 0-1 0-1 0 0 0 0 0-1 0 0 0-1 0 0 0 0 0 0 0 0 0-1 0-1 0 0 0 0 0 0 0 0 0-1 0 0 0-1 0 0 0-1 0 0 0 0 0 0 0-1 0 0 0 0 0-1 0-1 0-1 0 0 0-1 0 0 0 0 0 0 0 0 0-1 0-2 0 0 0-6 0 1 1 1 0 0 0 2 0 1 0 1 0 0 0 1 0 2 0 2 0 1 0 1 0 0 0 0 0 0 0 2 0 0 0 0 0 0 0 1 0 0 0 0 0 0 0 0 0 1 0 0 0 0 0 1 0 0 0 1 0 0 0 0 0 0 0 0 0 1 0 0 0 0 0 1 0 0 0 1 0 4 0 0 0 0 0 0 0 1 0 0 0 1 0 1 0 1 0 1 0 1 0 5 0 6 0 18 1-27 0 0 0-1 0-1 0-2 0-2 0 0 0-1 0 0 0-2 0 0 0-1 0-1 0 0 0-2 0 0 0-2 0 0 0-2 0-1 0 0 0-1 0-1 0 0 0 0 0-2 0-1 0 0 0-1 0 0 0 0 0 0 0-1 0 0 0-1 0 0 0 0 0 0 0-2 0-1 0-1 0 0 0-1 0 0 0 0 0-1 0 1 1 1 0 2 0 2 0 1 0 1 0 2 0 1 0 1 0 0 0 1 0 1 0 0 0 0 0 1 0 0 0 1 0 1 0 0 0 3 0 1 0 6 0 3 0 0 0 3 0 9 1-16 0 0 0-2 0-2 0 0 0 0 0-1 0-5 0-1 0-5 0-1 0 0 0-1 0 0 0 0 0-1 0-1 0-1 0 0 0-2 0-2 0 0 0-3 0 7 1 0 0 2 0 3 0 2 0 0 0 4 0 4 0 7 0-8 1-3 0-3 0-2 0-3 0-1 0-2 0-5 0-1 0-2 0 6 1 3 0 13 1-9 0-8 0-1 0 2 1 1 0"/>
</g>
<rect x="383.2" y="6.2" width="127.8" height="129.2" fill="none" stroke="#222" stroke-width="1.1"/>
<path d="M383.2 130.4h-1.2M388.2 135.4v1.2M383.2 125.3h-1.2M393.2 135.4v1.2M383.2 120.3h-1.2M398.2 135.4v1.2M383.2 115.2h-1.2M403.2 135.4v1.2M383.2 110.2h-1.2M408.2 135.4v1.2M383.2 105.1h-1.2M413.2 135.4v1.2M383.2 100.1h-1.2M418.1 135.4v1.2M383.2 95.0h-1.2M423.1 135.4v1.2M383.2 90.0h-1.2M428.1 135.4v1.2M383.2 84.9h-1.2M433.1 135.4v1.2M383.2 79.9h-1.2M438.1 135.4v1.2M383.2 74.8h-1.2M443.1 135.4v1.2M383.2 69.8h-1.2M448.1 135.4v1.2M383.2 64.7h-1.2M453.1 135.4v1.2M383.2 59.7h-1.2M458.1 135.4v1.2M383.2 54.7h-1.2M463.1 135.4v1.2M383.2 49.6h-1.2M468.1 135.4v1.2M383.2 44.6h-1.2M473.1 135.4v1.2M383.2 39.5h-1.2M478.1 135.4v1.2M383.2 34.5h-1.2M483.0 135.4v1.2M383.2 29.4h-1.2M488.0 135.4v1.2M383.2 24.4h-1.2M493.0 135.4v1.2M383.2 19.3h-1.2M498.0 135.4v1.2M383.2 14.3h-1.2M503.0 135.4v1.2M383.2 9.2h-1.2M508.0 135.4v1.2" stroke="#222" stroke-width="1.1"/>
<text transform="translate(381.0 20.8) rotate(-90)" font-family="Liberation Sans" font-weight="bold" font-size="5.6" fill="#333">1023</text>
<text transform="translate(374.4 74.6) rotate(-90)" font-family="Liberation Sans" font-weight="bold" font-size="5.6" fill="#444">SS</text>
<text x="376.8" y="137.4" font-family="Liberation Sans" font-weight="bold" font-size="5.6" fill="#333">0</text>
<text x="381.7" y="141.6" font-family="Liberation Sans" font-weight="bold" font-size="5.6" fill="#333">0</text>
<text x="443.3" y="148.4" font-family="Liberation Sans" font-weight="bold" font-size="5.6" fill="#444">FS</text>
<text x="511.2" y="142.6" font-family="Liberation Sans" font-weight="bold" font-size="5.6" fill="#333" text-anchor="end">1023</text>
<text x="505.4" y="25.2" font-family="Liberation Serif" stroke="#000" stroke-width="0.32" font-size="17.5" text-anchor="end">57%</text>
<text x="405.0" y="172.2" font-family="Liberation Serif" stroke="#000" stroke-width="0.32" font-size="17" textLength="83.2" lengthAdjust="spacingAndGlyphs">25μM 5-HT</text>
<g filter="url(#bl)">
<path class="k0" d="M154 197l37 4-100 3 60 4 39 2-34 3-73 10 31 1-43 2 32 0 7 1-19 1 74 0 6 1-98 2 105 3-73 18 12 2 25 1 25 1-64 8 76 2-3 2-5 3 2 6-36 2-17 0 30 9-30 2-41 1 95 4 9 8-30 3-12 1-53 0-18 0 105 2-1 1-43 1 9 1"/>
<path class="k1" d="M156 194l-37 17 33 1 25 3-11 0-5 7 16 0-63 2 52 3-45 0-3 2 30 1-23 2 36 0 3 0-2 1-67 0 31 1 16 0 1 1-5 0 24 1-15 1 39 1-52 1-2 2-3 0 18 1-9 1-25 0-19 0 23 1 7 0 63 0-60 1 24 1 9 1-30 0-15 1 15 0 46 1-35 0-10 0-8 0-15 0-13 1 36 0 2 0-10 1-6 1 13 0 20 0 12 0 15 1-30 0-31 0-1 0-9 1 17 0 4 0 13 0 22 1-35 0-12 0-13 0-9 0-1 1 43 0 3 0 27 0-34 1-7 0-9 0-3 0-1 0-1 0 0 0 10 1 6 0 27 0 2 0 17 1-19 0-18 0-2 0-9 0-10 0-1 0-13 0-1 1 25 0 5 0 22 0 26 0-53 1-11 0-1 0-1 0 0 0-1 0-3 0-1 1 4 0 0 0 1 0 40 0-19 1-6 0-7 0-2 0-3 0-2 0-11 0 3 1 12 0 2 0 12 0 20 0-11 1-10 0-8 0-19 0-11 0 6 1 2 0 21 0 2 0 8 0 7 0 10 0 13 0 4 1-28 0-13 0-3 0 0 0-1 0-1 0-15 0-15 0 6 1 3 0 3 0 2 0 0 0 24 0 11 0 0 0 2 0-3 1-16 0-6 0-4 0-4 0-5 0-3 0-2 0-12 0 17 1 12 0 4 0 16 0 1 0 5 0 16 0 29 0-29 1-13 0-17 0-2 0-4 0-6 0-23 1 7 0 4 0 7 0 5 0 1 0 1 0 3 0 9 0 11 0-2 1-10 0-1 0 0 0-10 0-3 0-10 0-1 0-6 0 11 1 5 0 56 1-45 0-9 0-2 0-6 0-6 0-1 0-17 0 11 1 1 0 4 0 10 0 4 0 5 0 3 0 1 0 4 0 7 0 1 0 2 0 7 1-22 0-6 0-7 0-4 0 0 0-1 0-2 0-1 0-1 1 10 0 2 0 2 0 1 0 9 0 25 0 4 0 29 0-24 1-35 0-13 0-2 0-3 0-12 1 5 0 15 0 2 0 4 0 3 0 2 0 1 0 1 0 5 0 4 0 2 0 27 1-14 0-23 0-5 0-4 0-6 0-1 0-4 0-1 0-2 0-4 0-1 0-13 1 5 0 0 0 5 0 4 0 9 0 2 0 1 0 3 0 11 0 4 0 8 0 2 0 5 0 0 0 15 0 16 0-61 1-7 0-1 0-1 0-5 0-2 0-2 0-4 1 1 0 17 0 12 0 0 0 1 0 1 0 20 0 33 1-47 0-2 0-7 0-2 0 0 0-1 0-2 0-4 0-2 0-3 0-2 0-1 0-1 0-8 0-4 0-6 1 7 0 2 0 1 0 5 0 2 0 0 0 2 0 3 0 1 0 5 0 2 0 1 0 6 0 11 0 4 0 4 0 16 0-16 1-24 0-1 0-6 0-3 0-4 0-1 0-1 0-2 0-1 0-4 0-2 0 0 0-1 0-3 0-1 1 3 0 3 0 1 0 9 0 2 0 2 0 0 0 2 0 4 0 1 0 1 0 2 0 2 0 1 0 1 0 1 0 1 0 1 0 1 0 2 0 3 0 25 0-29 1-14 0-4 0-5 0-3 0-4 0-3 0-1 0-2 0 0 0-8 0 16 1 4 0 0 0 2 0 5 0 5 0 12 0 23 1-13 0-12 0-5 0-3 0-6 0-2 0-4 0-2 0-3 0-2 0-1 0-6 0 5 1 0 0 1 0 1 0 0 0 1 0 3 0 1 0 0 0 6 0 1 0 1 0 4 0 3 0 1 0 2 0 9 0 13 0 17 1-38 0-5 0 0 0-1 0-7 0 0 0-1 0 0 0-3 0-1 0-3 0-2 0-1 0 0 0-2 0-2 0-1 0-12 0 14 1 2 0 2 0 0 0 5 0 0 0 1 0 0 0 8 0 8 0 4 0 24 0 7 0-32 1-7 0-10 0 0 0-1 0-6 0-2 0-2 0 0 0-1 0-1 0-1 0-5 1 4 0 0 0 2 0 5 0 4 0 9 0 0 0 1 0 6 0 7 0 4 1-2 0-5 0-4 0-3 0-8 0-1 0-4 0-1 0-3 0 0 0-3 0-1 0-5 0-3 0-1 0-1 0-2 1 1 0 2 0 5 0 1 0 2 0 5 0 4 0 0 0 1 0 0 0 1 0 0 0 1 0 1 0 3 0 0 0 4 0 3 0 2 0 4 0 3 0 21 1-14 0-15 0-5 0-1 0-1 0-2 0 0 0-1 0-1 0 0 0-4 0 0 0-2 0-1 0-1 0-2 0-2 0-4 0-6 0-1 0 3 1 7 0 4 0 1 0 1 0 1 0 1 0 2 0 13 0 6 0 6 0 5 1-16 0-5 0-4 0-2 0-7 0-1 0-3 0-1 0 0 0-2 0-3 0-4 0 2 1 0 0 5 0 1 0 6 0 0 0 1 0 2 0 1 0 0 0 2 0 3 0 2 0 3 0 6 1-6 0-5 0-2 0-1 0-1 0-2 0-3 0-1 0-2 0-1 0-3 0-6 0-2 0 0 1 6 0 0 0 1 0 3 0 0 0 2 0 0 0 1 0 3 0 1 0 3 0 2 0 1 0 1 0 0 0 1 0 2 0 4 0 7 0 1 0 1 0 5 0 4 0 7 0-4 1-12 0-3 0-2 0-3 0-8 0 0 0-2 0-2 0-1 0-1 0 0 0-2 0-1 0-2 0-1 0 0 0-1 0-2 0 0 0-1 0-2 0-1 0-4 0-2 0-1 1 5 0 3 0 1 0 0 0 0 0 2 0 1 0 1 0 0 0 1 0 0 0 2 0 1 0 1 0 5 0 0 0 17 0 4 0-14 1-5 0-1 0-7 0-1 0 0 0-1 0-2 0 0 0 0 0-1 0-1 0-2 0-6 0-1 0 1 1 1 0 4 0 7 0 1 0 2 0 1 0 1 0 17 1-3 0-1 0-2 0-11 0-3 0-2 0-3 0-1 0-1 0-5 0-2 0-3 0 2 1 1 0 1 0 0 0 11 0 2 0 0 0 6 0 18 0 5 1-10 0-11 0-1 0-11 0-1 0-3 0-1 0-2 0-1 0-7 1 1 0 2 0 0 0 4 0 7 0 4 0 0 0 1 0 1 0 0 0 10 1-1 0-8 0-8 0-1 0-3 0 0 0-6 0 0 0-2 0-3 0 3 1 5 0 0 0 2 0 5 0 4 0 2 0 6 1-1 0-7 0-3 0-5 0-5 0-1 0-3 0 1 1 3 0 1 0 3 0 1 0 3 0 1 0 8 0 0 0-3 1-7 0 0 0-2 0-2 0-2 0-2 0 0 1 1 0 4 0 1 0 6 0 1 1"/>
<path class="k2" d="M121 198l56 0-34 9 43 1-45 3-34 0-4 5 41 0 7 0-6 2-36 2 6 3 26 2-5 0-12 2 8 2-22 1 12 0 17 1-3 0-18 0-6 0 62 1 4 2-81 2 59 0-24 1-8 0-16 0 34 2-27 1 3 0 13 0 60 1-75 0 15 1-14 2 51 1-35 0-35 0 19 1 4 0 6 0 49 1-35 0-31 1 15 0 10 0 8 1-6 0-29 0 9 1 74 0-75 2 3 0 9 0 4 0 17 1-11 0-14 0-3 0-21 0-10 0 30 1 10 0 4 0 1 0 27 1-3 0-34 0-13 0-15 0 14 1 6 0 1 0 18 0 7 0 10 0 10 0 14 0-19 1-23 0-3 0-4 0-31 0-4 0 12 1 24 0 18 1-17 0-2 0-9 0-21 0 19 1 39 1-8 0-2 0-22 0-36 1 13 0 15 0 2 0 27 0 1 0 24 1-17 0-14 0-1 0-40 0-2 0-2 1 8 0 21 0 1 0 2 0 15 0-29 1-9 0-7 0 1 1 6 0 1 0 4 0 51 0 13 0-31 1-14 0-17 0-6 0-8 0-2 0-2 0 21 1 1 0 3 0 1 0 42 1-28 0-7 0-2 0-17 0-6 0 5 1 3 0 1 0 3 0 5 0 26 0 1 0 4 0 6 1-9 0-5 0-12 0-3 0-12 0 0 0-4 0-1 0-11 1 0 0 0 0 13 0 0 0 0 0 15 0 5 0 1 0 17 0 1 0-12 1-10 0-18 0-3 0-9 0-7 1 3 0 2 0 2 0 5 0 1 0 3 0 2 0 7 0 3 0 28 0-6 1-12 0-8 0-10 0 0 0-7 0 0 0-7 0-1 1 4 0 5 0 0 0 2 0 4 0 5 0 1 0 1 0 0 0 2 0 8 0 32 0 2 1-23 0-11 0-1 0-3 0-8 0-5 0-5 0 0 0-2 0 0 0-5 0-2 0-1 0 0 0-3 0-6 1 11 0 2 0 18 0 0 0 5 0 3 0 8 0 10 0 7 1-11 0-10 0-9 0-3 0-6 0-27 1 5 0 10 0 1 0 10 0 1 0 3 0 3 0 1 0 0 0 2 0 8 0 2 0 5 0 33 0-33 1-2 0-5 0-10 0-3 0-2 0-6 0-6 0-3 0-1 0-1 0-2 0 1 1 6 0 3 0 0 0 1 0 11 0 2 0 43 0 7 0-15 1-23 0-11 0-1 0-1 0-3 0-6 0 0 0-17 0 0 0-2 0 10 1 1 0 2 0 1 0 0 0 7 0 5 0 12 0 11 1-8 0-7 0-24 0-3 0-1 0-4 0-2 0 0 0-12 0 10 1 3 0 4 0 6 0 1 0 8 0 0 0 5 0 2 0 1 0 2 0 13 0 15 0 1 1-11 0-1 0-3 0-12 0-2 0-1 0-7 0-3 0-3 0-5 0-2 0-4 0-2 0-8 1 0 0 1 0 2 0 4 0 5 0 7 0 1 0 7 0 2 0 1 0 1 0 2 0 11 1-12 0 0 0 0 0-4 0-6 0-2 0-1 0-1 0-2 0-3 0-3 0-3 0 0 0-1 0-1 0-1 0-4 0 2 1 1 0 8 0 2 0 0 0 0 0 1 0 3 0 0 0 2 0 2 0 2 0 0 0 8 0 1 0 19 0 2 0-8 1-3 0-2 0 0 0-12 0-1 0-3 0-1 0-1 0 0 0-4 0 0 0-6 0-2 0 0 0-3 0-1 0-4 0-4 0 8 1 1 0 1 0 2 0 1 0 0 0 2 0 0 0 2 0 3 0 1 0 2 0 2 0 1 0 2 0 3 0 2 0 1 0 2 0 2 0 0 0 3 0 45 1-43 0-5 0-3 0-6 0 0 0-2 0-2 0-1 0-4 0-1 0-1 0-1 0 0 0-1 0-1 0-1 0 0 0-1 0 0 0-1 0-1 0-4 0-7 1 5 0 2 0 2 0 3 0 2 0 0 0 2 0 3 0 1 0 2 0 0 0 1 0 1 0 15 1-2 0-5 0-1 0-4 0-5 0-1 0-1 0-1 0 0 0-2 0-3 0 0 0-4 0 0 0 0 0-3 0-6 0 6 1 1 0 1 0 1 0 4 0 2 0 0 0 1 0 1 0 2 0 1 0 1 0 4 0 5 0 4 0 3 0 10 0 7 0-7 1-9 0-3 0-1 0-4 0-1 0-1 0-2 0-1 0-2 0-3 0-2 0-2 0 0 0-1 0-1 0-2 0-1 0-1 0-2 0-6 0-2 0-1 1 9 0 0 0 4 0 2 0 2 0 1 0 0 0 1 0 1 0 1 0 3 0 0 0 1 0 5 0 2 0 15 0-6 1-2 0-8 0-2 0-6 0 0 0-1 0-5 0-2 0 0 0-1 0-2 0 0 0-1 0 0 0-5 0-1 0 0 0 3 1 0 0 1 0 0 0 0 0 0 0 2 0 0 0 2 0 2 0 0 0 0 0 6 0 1 0 1 0 2 0 0 0 2 0 1 0 6 0 7 0-13 1 0 0-4 0-4 0-1 0 0 0 0 0 0 0 0 0-1 0-2 0-1 0-1 0-1 0-2 0-2 0-3 0-3 0-1 0-2 0-3 0 3 1 2 0 0 0 1 0 1 0 1 0 1 0 4 0 1 0 1 0 1 0 1 0 2 0 4 0 1 0 3 0 0 0 3 0 10 0 1 0 2 0-11 1-2 0-3 0-6 0-4 0 0 0-1 0-2 0-1 0 0 0-1 0-5 0-1 0-1 0-3 1 5 0 1 0 0 0 3 0 0 0 0 0 1 0 0 0 0 0 1 0 0 0 3 0 3 0 1 0 2 0 0 0 2 0 1 0 5 0 4 0 2 0 50 1-62 0-1 0-2 0-2 0-3 0 0 0-1 0 0 0-2 0-1 0 0 0 0 0 0 0-4 0 0 0 0 0-1 0 0 0-3 0-4 0 3 1 1 0 1 0 2 0 1 0 0 0 1 0 1 0 6 0 0 0 0 0 0 0 1 0 0 0 0 0 3 0 0 0 7 0 1 1 0 0-6 0-3 0-2 0 0 0 0 0 0 0-1 0 0 0-1 0-2 0-1 0 0 0-1 0 0 0-1 0 0 0 0 0-1 0-4 0-1 0 0 0-3 0-1 1 2 0 5 0 1 0 0 0 1 0 1 0 1 0 2 0 6 0 1 0 15 0 1 0 13 0 0 1-23 0-2 0-5 0-3 0-2 0-2 0 0 0-1 0 0 0-1 0-3 0-1 0-1 0-3 0-1 0 1 1 1 0 1 0 0 0 2 0 4 0 0 0 1 0 2 0 1 0 0 0 1 0 0 0 4 0 2 0 2 0 1 0 6 0 4 0-4 1-3 0-4 0 0 0-6 0-4 0-1 0 0 0-2 0-2 0-1 0 0 0-1 0 0 0-1 0 0 0-2 0-5 0 5 1 1 0 0 0 1 0 0 0 1 0 0 0 0 0 2 0 1 0 3 0 6 0-2 1-1 0 0 0 0 0-1 0 0 0-5 0-1 0 0 0-1 0 0 0-1 0-2 0-2 0-1 0-2 0 1 1 2 0 0 0 1 0 2 0 1 0 2 0 4 0-6 1-1 0 0 0-3 0 0 1 23 1-10 0-7 0-1 0-6 1 2 0"/>
<path class="k3" d="M116 218l-6 22-12 3-1 6 7 1 10 0 7 3-18 0 25 2-11 0-24 1 11 0 4 0 14 1-6 0-20 0-2 1 9 0 8 0 17 1-1 0-3 0-13 0-25 1 7 0 5 0 32 0-20 1-9 1-3 1-8 0-6 0 18 1 6 0 3 0 5 0-27 2 33 1-18 0-21 0 18 1 4 0 6 0 7 0 15 0-24 1-15 1 3 0 9 0 1 0 20 1 0 0-13 0-10 0-13 0-3 0 2 1 16 0 6 0 4 0 6 0 4 0 5 0-12 1-14 0-2 0-3 0-1 0-8 0-5 1 5 0 1 0 2 0 0 0 6 0 5 0 2 0 2 0 4 0 12 1-13 0-1 0-8 0-5 0-9 0-5 1 1 0 2 0 6 0 6 0 1 0 2 0 0 0 2 0 0 0 0 0 1 0 0 0 1 0 3 0 1 0 5 0 7 1-1 0-10 0-2 0 0 0 0 0-5 0-14 0-11 0 10 1 4 0 2 0 2 0 4 0 3 0 0 0 3 0 0 0 0 0 7 1-3 0 0 0-1 0-4 0 0 0-1 0-4 0-4 0-1 0-2 0-1 0-6 0 0 1 2 0 3 0 1 0 1 0 1 0 2 0 2 0 1 0 0 0 0 0 1 0 2 0 6 0 15 0 16 0-19 1-9 0-3 0-3 0-1 0-1 0 0 0 0 0-3 0 0 0-6 0 0 0-2 0-4 0 0 0-3 0 0 0-2 0 1 1 1 0 6 0 0 0 1 0 4 0 2 0 0 0 1 0 2 0 0 0 4 0 3 0 1 0 18 1-8 0-15 0 0 0-1 0-4 0 0 0-2 0-1 0-4 0-1 0-4 0-6 1 5 0 2 0 1 0 2 0 1 0 1 0 0 0 0 0 1 0 1 0 0 0 0 0 1 0 0 0 1 0 0 0 3 0 1 0 1 0 0 0 1 0 3 0 1 0 1 0 2 0 0 0 0 0 3 0 10 1-16 0-4 0-1 0 0 0-1 0 0 0 0 0-1 0-2 0 0 0-2 0 0 0 0 0-1 0 0 0-1 0 0 0-2 0-1 0-7 0 0 0 0 0-3 1 1 0 0 0 2 0 2 0 2 0 1 0 1 0 1 0 1 0 3 0 0 0 0 0 5 0 0 0 2 0 0 0 0 0 3 0 1 0 1 0 1 0 0 0 2 0 0 0 16 0 6 1-17 0-2 0-2 0-1 0-4 0-3 0-2 0 0 0-1 0 0 0-1 0 0 0 0 0-1 0-1 0 0 0-1 0-1 0 0 0-1 0 0 0 0 0-1 0 0 0-1 0-1 0-1 0 0 0 0 0-4 0-4 0-2 1 2 0 2 0 3 0 2 0 0 0 1 0 1 0 1 0 0 0 1 0 0 0 0 0 0 0 3 0 0 0 0 0 1 0 2 0 1 0 0 0 12 0 1 0 3 1-2 0-1 0-4 0-2 0-2 0-1 0-1 0-1 0-3 0-1 0-2 0-1 0-1 0-1 0 0 0-1 0 0 0 0 0 0 0-1 0 0 0-2 0-1 0 0 0-1 0 0 0 0 0-2 0 0 0-3 0-1 0 1 1 1 0 2 0 0 0 1 0 1 0 1 0 0 0 0 0 0 0 1 0 0 0 1 0 1 0 1 0 0 0 0 0 1 0 0 0 0 0 2 0 0 0 1 0 0 0 1 0 0 0 3 0 1 0 3 0 0 0 1 0 0 0 1 0 0 0 0 0 1 0 0 0 1 0 1 0 5 1-1 0-5 0 0 0-1 0-3 0-3 0-2 0 0 0-1 0-1 0 0 0 0 0 0 0 0 0-1 0-1 0-1 0 0 0 0 0 0 0-2 0-1 0 0 0-1 0 0 0-1 0 0 0-1 0 0 0 0 0 0 0-4 0 0 0 0 0-1 0-3 1 1 0 1 0 1 0 1 0 0 0 1 0 0 0 1 0 1 0 0 0 0 0 1 0 0 0 1 0 0 0 1 0 1 0 0 0 0 0 0 0 1 0 0 0 0 0 0 0 1 0 1 0 1 0 0 0 1 0 1 0 0 0 2 0 0 0 2 0 2 0 2 0 1 0 11 0-5 1-2 0-9 0 0 0-1 0-1 0-1 0 0 0-1 0 0 0 0 0-2 0 0 0-1 0 0 0 0 0 0 0-1 0 0 0-1 0 0 0-1 0-1 0-1 0 0 0-2 0-2 0-2 0 0 0 0 0-1 0-4 0 0 0 1 1 1 0 3 0 1 0 2 0 0 0 1 0 0 0 0 0 0 0 0 0 0 0 0 0 1 0 1 0 1 0 1 0 0 0 0 0 1 0 0 0 0 0 1 0 1 0 1 0 0 0 0 0 1 0 0 0 0 0 0 0 1 0 0 0 1 0 0 0 0 0 2 0 0 0 4 0 2 0 10 0 2 0-2 1-11 0-3 0-1 0 0 0 0 0 0 0-1 0 0 0-1 0-1 0-1 0 0 0 0 0-1 0 0 0 0 0 0 0-1 0 0 0-1 0 0 0-1 0-1 0-1 0 0 0-1 0 0 0 0 0 0 0 0 0-1 0 0 0 0 0-1 0 0 0-1 0 0 0 0 0-1 0 0 0-3 0-1 0-1 0-3 1 1 0 2 0 1 0 0 0 0 0 1 0 0 0 2 0 0 0 1 0 0 0 0 0 0 0 1 0 0 0 1 0 0 0 1 0 1 0 1 0 0 0 0 0 1 0 0 0 0 0 0 0 0 0 0 0 0 0 0 0 1 0 1 0 0 0 1 0 0 0 0 0 1 0 0 0 2 0 0 0 0 0 2 0 2 0 0 0 4 0 6 1-7 0 0 0-1 0-2 0 0 0-1 0-1 0-1 0-1 0 0 0-2 0 0 0 0 0-1 0 0 0 0 0-1 0-1 0 0 0 0 0-1 0 0 0 0 0 0 0 0 0-1 0-1 0 0 0 0 0 0 0 0 0-1 0-1 0-1 0 0 0-1 0-1 0 0 0 0 0 0 0-2 0 0 0-1 0 0 0-2 0-4 1 4 0 1 0 0 0 1 0 1 0 0 0 0 0 1 0 0 0 0 0 0 0 0 0 1 0 0 0 0 0 0 0 0 0 0 0 0 0 1 0 0 0 1 0 0 0 0 0 0 0 1 0 0 0 0 0 1 0 0 0 1 0 0 0 0 0 1 0 1 0 0 0 0 0 0 0 0 0 1 0 0 0 0 0 0 0 1 0 0 0 1 0 0 0 0 0 1 0 1 0 1 0 0 0 0 0 0 0 1 0 3 0 1 0 2 0 1 0 1 0 0 0 5 1 0 0-5 0-1 0-2 0 0 0-2 0 0 0-4 0 0 0-1 0 0 0 0 0-1 0 0 0-1 0 0 0 0 0-1 0-1 0 0 0 0 0-1 0 0 0 0 0 0 0-1 0 0 0 0 0 0 0 0 0 0 0 0 0 0 0 0 0-1 0 0 0 0 0-1 0 0 0 0 0 0 0 0 0 0 0-1 0 0 0 0 0 0 0 0 0-1 0 0 0 0 0 0 0 0 0-1 0 0 0 0 0-1 0 0 0 0 0 0 0 0 0-1 0-1 0-1 0 0 0-2 0-1 0 0 0-1 0-2 1 3 0 1 0 0 0 0 0 1 0 2 0 1 0 0 0 1 0 0 0 0 0 0 0 1 0 0 0 0 0 0 0 0 0 0 0 0 0 0 0 1 0 0 0 0 0 0 0 0 0 0 0 0 0 0 0 1 0 0 0 0 0 0 0 0 0 0 0 0 0 1 0 0 0 0 0 0 0 0 0 0 0 1 0 0 0 0 0 1 0 0 0 0 0 0 0 0 0 0 0 0 0 0 0 1 0 0 0 0 0 0 0 0 0 0 0 1 0 0 0 0 0 0 0 1 0 0 0 0 0 0 0 2 0 3 0 4 0 0 0 7 0 1 1-7 0-2 0-1 0-3 0-1 0-2 0 0 0-1 0 0 0 0 0 0 0-1 0 0 0 0 0 0 0-1 0 0 0 0 0-1 0 0 0-1 0 0 0 0 0-1 0-1 0 0 0 0 0 0 0-1 0 0 0 0 0 0 0-1 0 0 0 0 0 0 0 0 0 0 0 0 0 0 0-1 0 0 0 0 0 0 0-1 0 0 0 0 0-1 0 0 0 0 0-2 0-1 0 0 0-1 0-1 0-1 0 0 0 0 0 2 1 0 0 1 0 0 0 0 0 0 0 0 0 0 0 2 0 0 0 0 0 0 0 1 0 0 0 0 0 1 0 0 0 1 0 0 0 0 0 0 0 0 0 0 0 0 0 0 0 0 0 1 0 1 0 0 0 0 0 0 0 1 0 0 0 0 0 0 0 0 0 1 0 0 0 0 0 0 0 0 0 1 0 0 0 1 0 0 0 0 0 0 0 0 0 1 0 0 0 1 0 0 0 1 0 1 0 0 0 0 0 0 0 1 0 2 0 1 0 1 0 2 1 0 0-2 0 0 0-1 0-1 0-1 0-2 0-1 0 0 0-1 0 0 0 0 0-1 0-1 0 0 0 0 0-1 0 0 0 0 0 0 0-2 0 0 0 0 0 0 0-1 0 0 0 0 0 0 0 0 0 0 0 0 0-1 0 0 0 0 0 0 0-1 0 0 0-1 0 0 0 0 0-2 0 0 0 0 0 0 0 0 0-1 0 0 0 0 0 0 0 0 0 0 0-1 0 0 0-1 0 0 0-1 0 0 0 0 0-2 0 3 1 0 0 1 0 0 0 0 0 0 0 1 0 0 0 0 0 0 0 0 0 1 0 0 0 0 0 0 0 1 0 0 0 0 0 0 0 1 0 0 0 0 0 0 0 0 0 0 0 0 0 1 0 0 0 0 0 1 0 0 0 0 0 0 0 1 0 0 0 0 0 0 0 0 0 0 0 1 0 0 0 0 0 0 0 0 0 0 0 0 0 0 0 1 0 1 0 0 0 1 0 0 0 0 0 0 0 0 0 1 0 0 0 0 0 1 0 0 0 0 0 0 0 0 0 0 0 1 0 0 0 0 0 1 0 2 0 0 0 0 0 4 0-1 1 0 0-2 0 0 0-1 0-1 0 0 0-1 0 0 0-2 0 0 0 0 0 0 0 0 0-1 0 0 0 0 0 0 0-1 0 0 0 0 0 0 0-1 0 0 0 0 0-1 0 0 0 0 0 0 0-1 0 0 0 0 0 0 0 0 0-1 0 0 0-1 0 0 0 0 0 0 0 0 0 0 0 0 0-1 0 0 0 0 0 0 0 0 0 0 0 0 0-1 0 0 0 0 0 0 0 0 0 0 0 0 0-1 0 0 0 0 0-1 0 0 0 0 0 0 0-1 0 0 0 0 0 0 0-1 0-1 0-2 0-1 0 0 0 1 1 1 0 1 0 0 0 0 0 1 0 0 0 1 0 0 0 1 0 0 0 0 0 1 0 1 0 0 0 0 0 0 0 0 0 0 0 0 0 1 0 0 0 0 0 0 0 0 0 1 0 0 0 0 0 0 0 0 0 0 0 1 0 0 0 1 0 0 0 0 0 0 0 0 0 0 0 1 0 0 0 0 0 0 0 0 0 1 0 0 0 0 0 0 0 0 0 0 0 1 0 0 0 1 0 0 0 0 0 0 0 0 0 0 0 0 0 1 0 0 0 0 0 1 0 1 0 1 0 0 0 0 0 0 0 1 0 0 0 1 0 1 0 2 0 2 0 1 0-7 1-4 0 0 0 0 0-1 0 0 0 0 0-2 0 0 0-1 0 0 0 0 0 0 0-1 0 0 0 0 0 0 0 0 0 0 0-1 0 0 0 0 0 0 0 0 0-1 0 0 0 0 0 0 0 0 0-1 0 0 0 0 0 0 0 0 0 0 0 0 0 0 0-1 0 0 0 0 0 0 0 0 0 0 0-1 0 0 0 0 0 0 0-1 0 0 0-1 0 0 0 0 0-1 0 0 0 0 0-1 0 0 0 0 0-1 0-1 0 0 0-1 0 1 1 1 0 1 0 0 0 0 0 1 0 0 0 0 0 0 0 1 0 0 0 0 0 0 0 0 0 1 0 0 0 0 0 0 0 0 0 0 0 1 0 0 0 0 0 0 0 0 0 0 0 0 0 0 0 1 0 0 0 1 0 0 0 0 0 0 0 0 0 0 0 0 0 1 0 0 0 1 0 0 0 0 0 1 0 0 0 0 0 0 0 1 0 0 0 0 0 1 0 0 0 0 0 1 0 1 0 1 0 0 0 2 0 0 0 2 0 3 0 1 1-8 0-2 0 0 0-1 0 0 0 0 0-1 0 0 0 0 0-1 0-1 0 0 0 0 0-1 0 0 0 0 0 0 0 0 0 0 0 0 0 0 0-1 0 0 0 0 0 0 0 0 0-1 0 0 0 0 0 0 0 0 0 0 0 0 0 0 0 0 0-1 0 0 0 0 0 0 0 0 0 0 0 0 0-1 0 0 0 0 0 0 0 0 0 0 0 0 0 0 0 0 0-1 0 0 0-1 0 0 0-3 0 0 0-1 0 0 0 0 0-1 1 2 0 1 0 1 0 0 0 0 0 1 0 1 0 0 0 0 0 0 0 1 0 0 0 0 0 1 0 0 0 0 0 0 0 1 0 0 0 0 0 0 0 0 0 0 0 0 0 0 0 1 0 0 0 0 0 0 0 1 0 0 0 0 0 0 0 0 0 0 0 1 0 0 0 1 0 0 0 1 0 0 0 1 0 0 0 1 0 0 0 2 0-1 1-1 0 0 0-1 0 0 0-1 0 0 0-1 0 0 0-1 0 0 0 0 0 0 0-1 0 0 0-1 0 0 0 0 0 0 0 0 0 0 0 0 0 0 0 0 0 0 0 0 0-1 0 0 0 0 0 0 0 0 0 0 0 0 0-1 0 0 0 0 0 0 0-1 0 0 0 0 0 0 0 0 0 0 0 0 0 0 0 0 0-1 0 0 0 0 0 0 0 0 0 0 0-1 0 0 0 0 0-1 0 0 0 0 0-1 0 0 0-1 0 0 0-1 0 0 0 0 1 1 0 0 0 1 0 0 0 0 0 1 0 0 0 0 0 1 0 0 0 0 0 1 0 0 0 0 0 0 0 0 0 0 0 0 0 0 0 0 0 1 0 0 0 0 0 0 0 0 0 0 0 1 0 0 0 0 0 0 0 1 0 1 0 0 0 0 0 0 0 0 0 0 0 1 0 0 0 0 0 1 0 0 0 1 0 0 0 0 0 1 0 1 0 1 0 0 0 3 0 0 0-4 1 0 0-3 0-1 0 0 0 0 0-1 0-1 0 0 0-1 0 0 0 0 0 0 0 0 0 0 0 0 0 0 0-1 0 0 0 0 0 0 0 0 0-1 0 0 0 0 0 0 0-1 0 0 0 0 0-1 0 0 0 0 0 0 0 0 0-1 0 0 0-2 0-1 0 1 1 1 0 1 0 0 0 0 0 0 0 1 0 0 0 0 0 0 0 1 0 0 0 0 0 1 0 0 0 0 0 0 0 0 0 0 0 0 0 1 0 0 0 0 0 0 0 0 0 1 0 0 0 0 0 0 0 0 0 0 0 0 0 0 0 1 0 0 0 0 0 0 0 1 0 0 0 0 0 1 0 0 0 2 0 2 0 1 0-4 1-2 0-1 0 0 0 0 0-1 0 0 0 0 0-1 0 0 0 0 0-1 0 0 0 0 0-1 0 0 0 0 0-1 0 0 0 0 0 0 0 0 0 0 0 0 0 0 0-1 0 0 0-1 0-2 1 1 0 0 0 1 0 0 0 1 0 0 0 1 0 0 0 0 0 1 0 0 0 0 0 1 0 0 0 0 0 0 0 0 0 0 0 1 0 0 0 0 0 1 0 1 0 0 0 0 0 0 0 1 0 0 0 1 0 0 1-2 0-1 0 0 0-1 0-1 0-1 0-1 0-1 0 0 0 0 0-1 0 0 0-2 0 2 1 0 0 2 0 0 0 1 0 1 0 2 0"/>
<path class="k4" d="M191 265l-7 5 10 2-17 1-7 0-9 0 15 1 12 2-22 2 18 0 10 1-17 0-13 0-18 1 28 0 5 0 6 0 5 0-12 1-8 0-1 0-9 0-1 0 5 1 3 0 24 0 1 1-1 0-1 0-6 0-2 0-9 0 0 0-6 0-13 0 13 1 7 0 17 1-20 0-5 0-12 1 9 0 5 0 1 0 14 0 3 0 6 0-22 1-2 0-7 0-1 0-5 0-4 0-2 0-4 0-6 1 6 0 3 0 4 0 5 0 1 0 2 0 4 0 22 0-22 1-6 0-1 0-1 0-1 0-3 0-1 0 0 0-13 0-6 1 8 0 2 0 6 0 2 0 2 0 0 0 4 0 3 0 2 0 8 0 7 1-5 0-3 0-6 0-3 0 0 0-5 0-7 0-7 0-9 1 1 0 3 0 2 0 2 0 16 0 4 0 3 0 1 0 1 0 5 0 8 1-6 0-6 0-10 0-1 0-4 0-2 0-5 0-4 0-4 0-1 0-4 0-3 0-5 1 10 0 14 0 1 0 1 0 2 0 0 0 0 0 1 0 0 0 0 0 3 0 1 0 7 0 2 0 5 0 2 0 1 0 0 0-7 1-12 0-2 0 0 0-4 0-2 0-18 0-5 1 3 0 1 0 5 0 2 0 4 0 1 0 0 0 5 0 11 0 1 0 5 0 8 0 1 0 5 0 5 0-17 1-2 0-1 0-4 0-1 0-3 0-6 0-1 0-3 0-1 0 0 0-2 0-3 0-2 0-1 0-2 0-6 1 5 0 4 0 5 0 2 0 1 0 4 0 7 0 1 0 24 1-13 0-12 0-5 0-7 0-9 0-1 0-1 0-1 0-2 0-14 1 13 0 0 0 8 0 5 0 6 0 5 0 14 0-23 1-15 0-1 0-5 0-3 0 0 1 12 0 4 0 1 0 2 0 4 0 3 0 17 0 9 0-25 1-3 0 0 0-3 0-9 0-10 0-6 0-3 1 11 0 2 0 2 0 3 0 1 0 21 1-7 0-3 0-5 0-8 0-6 0-2 0-2 0-4 1 3 0 3 0 2 0 7 0 0 0 15 1-13 0-2 0-3 0-4 0-7 0 1 1 1 0 3 0 11 0-14 1 7 1 3 0-8 4"/>
<path class="k5" d="M174 263l5 3 4 1-23 1 18 2 8 1-1 2-1 0-16 1-7 2 9 0 6 0 15 1 0 1-1 1-8 0 9 1-7 1-5 0-14 0-9 0-21 1 55 0-14 1-10 0-15 0-15 1 22 0 3 0 7 0 10 0 16 0-23 1-8 0-9 0-3 0-2 0-10 0 2 1 14 0 22 0 3 0-17 1-15 0-11 0-1 1 11 0 1 0 0 0 3 0 7 0 8 0 2 0 6 0 6 0-6 1-8 0 0 0-14 0-3 0-6 0-5 0 21 1 1 0 7 0 7 0 14 0-6 1-6 0 0 0-2 0-11 0-3 0-5 0 0 0-6 0-3 0-7 0-1 0 2 1 0 0 12 0 3 0 1 0 2 0 3 0 9 0 0 0 1 0 7 0 1 0 4 0 5 1-16 0-2 0-8 0-6 0-2 0-2 0 0 0-3 0-12 0-8 0 0 1 2 0 1 0 3 0 1 0 4 0 5 0 2 0 0 0 1 0 0 0 1 0 1 0 1 0 11 0 3 0 4 0 12 1-17 0-1 0-1 0-5 0-2 0-4 0-1 0 0 0-13 0-1 0-10 0-2 0 0 0-8 0-3 1 11 0 7 0 4 0 12 0 4 0 10 0 9 1-6 0-2 0-5 0 0 0-6 0-3 0 0 0-7 0-2 0-8 0-3 0-7 0-11 0 22 1 0 0 29 0 10 0 4 0-15 1-13 0-6 0 0 0-1 0-1 0-3 0-4 0-1 0-9 0-5 0 7 1 3 0 0 0 3 0 5 0 0 0 2 0 1 0 7 0 9 0 6 0-5 1-2 0-2 0-1 0-4 0 0 0-12 0 0 0-1 0-1 0-8 0-2 0-6 0 12 1 1 0 1 0 4 0 2 0 4 0 4 0 3 0 0 0 3 0 3 0 13 0-16 1-12 0-1 0-4 0-1 0-6 0-1 0-4 0-1 0-3 0-1 0 2 1 3 0 3 0 3 0 2 0 1 0 1 0 4 0 2 0 6 0 2 0 16 0-15 1-12 0-14 0-7 0 1 1 11 0 4 0 2 0 12 0 3 0 9 0 32 0-58 1-3 0-1 0-13 1 8 0 3 0 24 1-17 0-11 0-2 1 10 0 10 0-13 1 4 1-5 1"/>
<path class="k8" d="M184 267l-1 3 1 1 6 4 0 0-5 0 1 2-3 0-10 0-2 1 17 0-1 1-9 0-22 0 10 1 13 0 2 0 8 0 3 0 0 0 1 0 1 0-11 1-1 0-2 0-2 0-2 0-1 0-1 0 0 0-25 1 5 0 14 0 1 0 9 0 0 0 0 0 4 0 2 0 2 0 2 0 3 0 2 0-6 1-1 0-4 0-6 0-8 0-17 0 2 1 1 0 16 0 1 0 1 0 3 0 1 0 9 0 1 0 2 0 4 1-3 0-1 0-1 0-4 0-1 0-4 0-3 0-2 0-12 0-1 0-4 0-12 0-10 1 4 0 9 0 1 0 1 0 1 0 3 0 2 0 1 0 1 0 0 0 7 0 2 0 1 0 3 0 0 0 0 0 4 0 3 0 2 0 0 0 3 0 2 0 2 0 3 0 3 1-3 0-1 0-4 0-1 0-2 0-2 0-1 0-2 0-3 0-3 0 0 0-1 0 0 0-3 0-1 0-2 0 0 0-1 0 0 0-1 0-1 0-3 0-4 0-4 0 0 0-9 0-1 0 7 1 1 0 2 0 2 0 7 0 1 0 0 0 1 0 0 0 3 0 1 0 0 0 0 0 1 0 0 0 2 0 1 0 0 0 1 0 2 0 2 0 0 0 2 0 0 0 0 0 0 0 2 0 0 0 2 0 1 0 0 0 1 0 0 0 1 0 0 0 5 0 2 0 3 0 2 1-3 0-8 0-1 0-5 0-2 0 0 0-1 0-3 0-2 0-1 0-1 0-2 0-3 0-2 0-3 0-1 0 0 0-1 0-1 0 0 0-2 0-5 0 0 0-3 0 0 0-3 0 0 0-10 0 2 1 2 0 4 0 4 0 4 0 1 0 1 0 1 0 0 0 0 0 1 0 2 0 1 0 0 0 0 0 1 0 1 0 0 0 4 0 0 0 2 0 0 0 2 0 0 0 2 0 1 0 1 0 0 0 4 0 1 0 2 0 1 0 1 0 3 0 2 0 1 0 2 0 0 0 5 1 0 0-2 0 0 0-1 0-3 0 0 0-1 0-2 0-1 0-2 0 0 0-2 0-1 0-2 0-1 0-1 0-1 0-1 0-1 0-2 0 0 0-2 0-1 0-1 0-1 0-1 0-1 0 0 0-1 0-1 0 0 0-1 0-1 0 0 0-2 0-1 0-1 0 0 0 0 0 0 0-1 0-1 0-1 0 0 0-1 0-3 0 0 0-1 0 0 0-5 0-3 0-5 1 6 0 0 0 3 0 0 0 1 0 1 0 1 0 0 0 0 0 1 0 1 0 3 0 0 0 0 0 2 0 0 0 3 0 2 0 0 0 0 0 1 0 0 0 1 0 0 0 0 0 1 0 0 0 0 0 1 0 1 0 0 0 0 0 0 0 2 0 0 0 0 0 1 0 0 0 1 0 0 0 2 0 1 0 1 0 0 0 0 0 1 0 0 0 1 0 1 0 0 0 1 0 1 0 1 0 1 0 3 0 1 0 2 0 5 0 6 0 1 0-7 1-1 0-1 0 0 0 0 0-1 0-5 0-3 0 0 0 0 0-4 0-1 0-3 0-1 0-1 0 0 0-1 0-2 0-1 0-1 0-2 0 0 0-1 0-1 0-2 0 0 0 0 0-1 0 0 0 0 0-1 0 0 0-1 0 0 0 0 0 0 0 0 0-1 0 0 0 0 0-1 0 0 0 0 0-1 0-1 0 0 0-1 0-1 0-2 0-1 0-1 0 0 0-1 0 0 0-2 0-1 0-1 0 0 0-2 0-1 0-3 0-3 0-3 0-12 0 12 1 5 0 2 0 5 0 0 0 0 0 2 0 1 0 0 0 0 0 0 0 0 0 1 0 0 0 0 0 2 0 0 0 0 0 0 0 0 0 1 0 1 0 0 0 0 0 2 0 0 0 1 0 1 0 0 0 0 0 0 0 0 0 1 0 0 0 0 0 0 0 1 0 0 0 0 0 1 0 0 0 1 0 0 0 1 0 1 0 0 0 0 0 0 0 2 0 0 0 1 0 1 0 1 0 0 0 0 0 0 0 1 0 1 0 0 0 2 0 1 0 0 0 3 0 0 0 1 0 1 0 1 0 0 0 2 0 1 0 4 0 0 0 1 0 1 0 1 0 0 0 0 0 2 0 1 0 4 0 4 0 1 0 0 0 0 1-4 0-1 0-3 0 0 0 0 0-5 0-1 0-1 0-2 0 0 0 0 0-3 0-2 0-3 0 0 0 0 0-1 0-1 0 0 0-1 0-1 0-1 0 0 0 0 0 0 0-1 0-1 0 0 0 0 0-1 0 0 0-1 0-1 0 0 0-1 0 0 0-1 0 0 0 0 0-1 0 0 0 0 0 0 0-1 0 0 0 0 0-1 0 0 0 0 0 0 0 0 0-1 0 0 0 0 0 0 0-1 0 0 0 0 0 0 0 0 0 0 0 0 0 0 0-1 0 0 0 0 0-1 0 0 0 0 0-1 0 0 0-1 0 0 0 0 0-1 0-2 0-1 0-1 0-3 0 0 0 0 0-1 0-1 0 0 0-1 0 0 0-1 0 0 0-1 0 0 0 0 0 0 0-2 0-2 0-2 0-3 0-1 0 0 0-2 0-2 0-2 0 0 1 1 0 0 0 6 0 4 0 0 0 2 0 1 0 1 0 1 0 1 0 1 0 0 0 0 0 0 0 2 0 0 0 1 0 1 0 0 0 1 0 0 0 0 0 2 0 0 0 0 0 1 0 0 0 0 0 0 0 1 0 0 0 0 0 0 0 0 0 0 0 1 0 0 0 0 0 0 0 1 0 1 0 0 0 0 0 1 0 0 0 1 0 0 0 0 0 0 0 0 0 1 0 0 0 0 0 1 0 0 0 0 0 1 0 0 0 0 0 0 0 0 0 0 0 1 0 0 0 1 0 0 0 1 0 0 0 0 0 1 0 0 0 0 0 1 0 1 0 1 0 0 0 1 0 0 0 0 0 0 0 1 0 0 0 4 0 3 0 1 0 1 0 2 0 2 0 2 0 15 0-1 1 0 0-10 0-3 0-1 0-6 0-5 0-1 0 0 0-1 0 0 0 0 0-1 0-2 0 0 0-1 0-1 0-1 0 0 0 0 0-1 0 0 0-2 0 0 0-1 0 0 0-1 0 0 0-1 0 0 0 0 0 0 0 0 0-1 0 0 0 0 0-1 0 0 0 0 0 0 0 0 0-1 0-1 0-1 0-1 0 0 0 0 0 0 0-1 0 0 0 0 0-1 0 0 0 0 0 0 0-1 0 0 0 0 0-1 0 0 0 0 0-1 0 0 0 0 0 0 0 0 0-1 0 0 0-1 0-1 0-1 0 0 0 0 0 0 0 0 0-2 0 0 0 0 0 0 0-1 0 0 0-1 0-2 0 0 0 0 0 0 0 0 0-1 0-2 0 0 0 0 0-1 0-1 0-1 0 0 0-1 0 0 0-1 0 0 0-2 0 0 0-1 0 0 0-4 0 3 1 2 0 0 0 1 0 2 0 1 0 0 0 0 0 0 0 1 0 0 0 0 0 1 0 1 0 1 0 0 0 0 0 1 0 0 0 0 0 1 0 0 0 0 0 1 0 0 0 0 0 0 0 1 0 1 0 1 0 0 0 0 0 1 0 0 0 0 0 0 0 1 0 0 0 1 0 0 0 0 0 0 0 1 0 1 0 1 0 1 0 0 0 0 0 0 0 0 0 1 0 0 0 0 0 0 0 0 0 0 0 1 0 1 0 0 0 0 0 0 0 1 0 0 0 0 0 0 0 1 0 0 0 1 0 0 0 1 0 0 0 0 0 1 0 0 0 2 0 0 0 0 0 1 0 0 0 0 0 1 0 0 0 0 0 1 0 0 0 1 0 0 0 1 0 0 0 0 0 1 0 1 0 0 0 0 0 0 0 0 0 1 0 0 0 1 0 0 0 0 0 1 0 0 0 1 0 0 0 0 0 1 0 0 0 1 0 1 0 1 0 1 0 1 0 3 0 4 0 3 0 8 0 4 0-1 1-5 0-6 0-1 0-2 0-3 0-3 0-3 0-1 0-2 0 0 0-1 0 0 0 0 0-4 0 0 0 0 0 0 0-1 0 0 0-1 0 0 0 0 0 0 0 0 0 0 0 0 0-1 0-2 0 0 0-1 0 0 0-1 0 0 0 0 0-1 0 0 0-1 0 0 0 0 0 0 0-1 0 0 0 0 0 0 0-1 0 0 0-1 0 0 0 0 0-1 0 0 0 0 0-1 0 0 0 0 0 0 0 0 0-1 0 0 0-1 0 0 0 0 0 0 0-1 0 0 0 0 0 0 0 0 0 0 0-1 0 0 0 0 0 0 0-1 0-1 0 0 0 0 0-1 0 0 0 0 0 0 0 0 0 0 0-1 0 0 0 0 0 0 0-1 0 0 0 0 0 0 0 0 0-1 0 0 0 0 0 0 0 0 0-1 0 0 0 0 0 0 0-1 0-1 0-1 0 0 0 0 0 0 0 0 0-1 0 0 0 0 0-1 0 0 0 0 0-1 0 0 0 0 0-1 0 0 0 0 0 0 0-1 0 0 0 0 0-1 0-1 0 0 0 0 0-1 0 0 0-1 0-1 0 0 0 0 0-5 0-1 0-1 0-1 0-8 1 6 0 5 0 1 0 1 0 0 0 1 0 0 0 0 0 1 0 0 0 1 0 0 0 1 0 0 0 0 0 1 0 0 0 0 0 0 0 2 0 0 0 1 0 0 0 0 0 0 0 1 0 0 0 0 0 1 0 0 0 0 0 0 0 1 0 0 0 1 0 0 0 0 0 0 0 1 0 0 0 1 0 1 0 0 0 0 0 1 0 0 0 0 0 1 0 0 0 1 0 2 0 0 0 1 0 0 0 0 0 0 0 1 0 0 0 0 0 0 0 0 0 1 0 0 0 0 0 1 0 0 0 1 0 0 0 0 0 0 0 0 0 1 0 0 0 0 0 1 0 0 0 0 0 0 0 1 0 0 0 0 0 0 0 0 0 1 0 0 0 1 0 0 0 0 0 0 0 1 0 0 0 1 0 0 0 1 0 0 0 1 0 1 0 1 0 0 0 1 0 0 0 0 0 0 0 1 0 1 0 0 0 1 0 1 0 0 0 0 0 0 0 0 0 2 0 1 0 1 0 0 0 2 0 0 0 1 0 8 0 1 0 5 0 1 0 14 0 1 0-14 1-4 0-1 0-2 0 0 0-3 0-2 0-4 0-4 0-1 0 0 0-2 0 0 0-1 0-1 0 0 0 0 0-1 0-1 0-1 0 0 0-1 0-1 0 0 0-1 0-1 0 0 0 0 0 0 0-1 0 0 0-1 0 0 0-1 0 0 0 0 0 0 0 0 0-1 0 0 0-1 0-1 0-1 0 0 0-1 0 0 0 0 0-1 0 0 0 0 0-1 0 0 0-2 0 0 0 0 0 0 0-1 0 0 0 0 0 0 0-1 0 0 0 0 0-1 0 0 0 0 0 0 0 0 0 0 0 0 0-1 0 0 0 0 0 0 0 0 0 0 0-1 0 0 0 0 0 0 0-1 0 0 0 0 0 0 0-1 0 0 0 0 0 0 0 0 0-1 0 0 0 0 0 0 0-1 0-1 0 0 0 0 0 0 0 0 0-1 0 0 0 0 0 0 0 0 0-1 0 0 0 0 0 0 0-1 0 0 0 0 0 0 0 0 0-1 0 0 0-1 0 0 0-1 0 0 0 0 0 0 0-1 0 0 0-1 0 0 0-2 0 0 0 0 0-1 0-2 0-2 0-1 0-2 0-1 1 0 0 3 0 0 0 1 0 0 0 1 0 0 0 1 0 1 0 0 0 0 0 0 0 2 0 0 0 1 0 0 0 1 0 0 0 0 0 1 0 0 0 0 0 0 0 2 0 0 0 0 0 0 0 0 0 1 0 0 0 0 0 1 0 0 0 0 0 1 0 0 0 0 0 0 0 0 0 1 0 0 0 1 0 0 0 0 0 0 0 1 0 0 0 0 0 0 0 0 0 0 0 0 0 0 0 1 0 1 0 0 0 0 0 0 0 0 0 1 0 0 0 0 0 0 0 1 0 0 0 0 0 0 0 0 0 0 0 0 0 0 0 0 0 0 0 0 0 1 0 1 0 0 0 0 0 1 0 0 0 0 0 0 0 0 0 0 0 1 0 0 0 0 0 0 0 0 0 1 0 0 0 0 0 0 0 0 0 1 0 0 0 0 0 1 0 1 0 1 0 0 0 1 0 0 0 0 0 0 0 0 0 0 0 1 0 0 0 0 0 2 0 0 0 1 0 1 0 0 0 0 0 0 0 0 0 1 0 0 0 0 0 1 0 1 0 0 0 1 0 0 0 0 0 0 0 1 0 0 0 1 0 0 0 0 0 1 0 1 0 1 0 1 0 0 0 0 0 0 0 1 0 1 0 7 0 0 0 1 0 5 0 5 0 6 1-8 0-10 0-6 0 0 0-1 0-2 0-3 0 0 0-4 0 0 0 0 0-1 0-1 0-1 0 0 0 0 0-1 0 0 0-2 0 0 0-1 0 0 0-1 0 0 0 0 0 0 0-1 0 0 0 0 0-1 0 0 0-1 0 0 0 0 0 0 0-1 0 0 0 0 0 0 0 0 0-1 0 0 0 0 0 0 0 0 0-1 0 0 0 0 0 0 0 0 0-1 0 0 0-1 0 0 0-1 0 0 0 0 0-1 0 0 0 0 0 0 0 0 0 0 0-1 0 0 0 0 0 0 0 0 0-1 0 0 0 0 0 0 0-1 0 0 0 0 0 0 0 0 0 0 0-1 0 0 0 0 0 0 0-1 0 0 0 0 0-1 0 0 0 0 0 0 0 0 0 0 0-1 0 0 0 0 0-1 0 0 0 0 0-1 0-1 0 0 0 0 0 0 0 0 0 0 0-1 0 0 0 0 0 0 0-1 0-1 0-1 0 0 0 0 0 0 0-1 0 0 0 0 0 0 0-1 0 0 0 0 0-1 0-1 0-1 0 0 0 0 0-1 0-1 0-2 1 3 0 1 0 1 0 0 0 0 0 0 0 1 0 0 0 1 0 0 0 0 0 0 0 1 0 0 0 0 0 0 0 0 0 0 0 1 0 0 0 1 0 0 0 0 0 0 0 0 0 1 0 0 0 0 0 1 0 0 0 0 0 0 0 0 0 0 0 0 0 1 0 0 0 1 0 0 0 0 0 1 0 0 0 0 0 0 0 1 0 0 0 0 0 0 0 1 0 0 0 0 0 1 0 0 0 0 0 0 0 1 0 0 0 0 0 0 0 0 0 0 0 0 0 1 0 0 0 0 0 0 0 0 0 1 0 0 0 0 0 0 0 0 0 0 0 1 0 0 0 0 0 0 0 0 0 0 0 0 0 1 0 0 0 0 0 0 0 1 0 1 0 0 0 0 0 0 0 1 0 0 0 0 0 0 0 0 0 1 0 0 0 0 0 0 0 1 0 0 0 0 0 0 0 0 0 0 0 0 0 1 0 1 0 1 0 0 0 0 0 0 0 1 0 0 0 1 0 0 0 0 0 0 0 1 0 0 0 0 0 1 0 0 0 1 0 0 0 1 0 0 0 1 0 1 0 2 0 0 0 2 0 0 0 3 0 0 0 1 0 0 0 3 0 9 0 0 0 2 0 2 0-2 1-4 0-14 0-1 0-2 0 0 0-1 0 0 0-1 0-1 0 0 0-1 0-1 0-2 0 0 0-1 0-1 0 0 0 0 0-1 0 0 0 0 0-1 0 0 0 0 0-1 0-1 0 0 0 0 0 0 0 0 0 0 0-1 0 0 0 0 0 0 0 0 0-1 0 0 0 0 0 0 0-1 0 0 0 0 0 0 0 0 0 0 0-2 0 0 0 0 0-1 0 0 0 0 0 0 0-1 0 0 0 0 0 0 0 0 0-1 0 0 0 0 0 0 0 0 0-1 0 0 0 0 0 0 0 0 0-1 0 0 0 0 0 0 0 0 0-1 0 0 0 0 0-1 0 0 0 0 0 0 0-1 0 0 0 0 0 0 0 0 0 0 0 0 0-1 0 0 0 0 0-1 0 0 0-1 0 0 0 0 0 0 0-1 0 0 0-1 0 0 0 0 0-1 0 0 0-1 0 0 0-1 0-1 0 0 0-2 0 0 0 0 0 0 0-1 0 0 0-1 0 0 0-2 0-2 0 0 1 3 0 2 0 1 0 0 0 1 0 0 0 0 0 0 0 1 0 0 0 0 0 1 0 0 0 0 0 1 0 0 0 0 0 0 0 1 0 0 0 1 0 0 0 1 0 0 0 0 0 0 0 1 0 0 0 1 0 0 0 0 0 0 0 1 0 0 0 0 0 1 0 0 0 0 0 1 0 1 0 0 0 0 0 0 0 0 0 0 0 1 0 0 0 0 0 0 0 1 0 0 0 1 0 0 0 0 0 1 0 0 0 0 0 1 0 1 0 0 0 0 0 0 0 1 0 0 0 0 0 0 0 0 0 1 0 0 0 1 0 0 0 1 0 0 0 0 0 1 0 0 0 0 0 0 0 1 0 1 0 0 0 0 0 1 0 0 0 0 0 0 0 1 0 0 0 0 0 2 0 1 0 1 0 0 0 2 0 0 0 1 0 2 0 2 0 0 0 2 0 2 0 4 0 6 0 6 0 1 0-6 1-8 0-8 0-1 0-2 0 0 0 0 0-3 0 0 0 0 0-3 0 0 0-1 0-1 0 0 0-2 0 0 0-1 0 0 0 0 0-2 0 0 0-1 0 0 0-1 0 0 0-2 0 0 0 0 0 0 0 0 0-1 0 0 0 0 0 0 0-1 0 0 0-1 0 0 0 0 0 0 0 0 0 0 0-1 0 0 0 0 0 0 0-1 0 0 0 0 0 0 0-1 0 0 0 0 0 0 0-1 0 0 0 0 0 0 0-1 0 0 0 0 0 0 0-1 0 0 0 0 0-1 0 0 0 0 0 0 0-1 0 0 0 0 0-1 0 0 0 0 0 0 0 0 0 0 0-1 0-1 0 0 0 0 0 0 0-2 0 0 0 0 0 0 0-1 0 0 0 0 0 0 0-1 0 0 0 0 0-1 0 0 0-1 0-1 0-2 0-1 1 2 0 1 0 1 0 0 0 1 0 1 0 1 0 1 0 1 0 1 0 0 0 0 0 0 0 1 0 0 0 1 0 0 0 1 0 0 0 0 0 0 0 0 0 0 0 1 0 0 0 0 0 0 0 0 0 1 0 0 0 1 0 0 0 1 0 1 0 0 0 0 0 0 0 1 0 0 0 0 0 0 0 1 0 0 0 1 0 0 0 0 0 0 0 1 0 2 0 0 0 0 0 1 0 0 0 1 0 0 0 1 0 0 0 3 0 0 0 0 0 0 0 1 0 0 0 1 0 2 0 5 0 3 0 9 0 0 0 11 0-4 1-4 0-5 0-6 0-2 0-1 0-1 0-3 0 0 0-3 0 0 0-1 0-2 0 0 0-2 0-1 0 0 0-1 0 0 0 0 0-1 0 0 0-1 0 0 0-1 0-2 0 0 0 0 0 0 0-1 0-1 0 0 0-1 0 0 0 0 0 0 0-1 0 0 0 0 0-1 0 0 0 0 0 0 0-1 0-1 0 0 0-1 0-1 0 0 0 0 0-2 0 0 0 0 0 0 0-1 0-1 0 0 0-1 0-1 0 0 0-1 0 0 0-1 0 0 0 0 0-2 0-3 1 5 0 2 0 0 0 1 0 0 0 2 0 0 0 1 0 0 0 1 0 1 0 1 0 0 0 1 0 0 0 0 0 2 0 1 0 0 0 3 0 0 0 1 0 2 0 1 0 1 0 0 0 0 0 1 0 6 0 0 0 4 0 2 0 9 1-4 0-1 0-1 0 0 0-2 0-4 0-7 0-3 0-2 0-1 0-1 0-1 0 0 0-1 0-1 0 0 0 0 0-1 0-4 0-1 0 0 0 0 0-1 0 0 0 0 0-1 0-1 0 0 0-1 0 0 0 0 0-1 0-1 0 0 0 0 0 0 0-2 0 0 0-2 0 4 1 0 0 0 0 1 0 1 0 0 0 0 0 0 0 2 0 0 0 0 0 2 0 0 0 0 0 1 0 0 0 0 0 1 0 2 0 0 0 1 0 0 0 0 0 2 0 0 0 0 0 1 0 0 0 1 0 0 0 1 0 2 0 2 0 1 0 0 0 1 0 6 1-4 0-4 0-5 0-2 0-4 0-1 0-1 0-2 0-1 0 0 0-5 0-2 1 0 0 3 0 0 0 0 0 3 0 0 0 1 0 1 0 8 0 4 0 6 0 1 0 1 0-3 1-9 0-6 0-6 0-1 0-3 0 8 1 3 0 12 1-10 0 9 1"/>
<path class="k7" d="M178 282l14 0 1 1-20 0-3 1 12 0 4 0 1 0 2 1-9 0-1 0-3 0-5 0 1 1 3 0 10 0 6 0 3 0-9 1-2 0-3 0-2 0-5 0-1 0-1 0-7 0-2 0-3 0-7 1 3 0 4 0 3 0 0 0 1 0 2 0 3 0 0 0 1 0 2 0 1 0 1 0 0 0 1 0 0 0 1 0 1 0 3 0 2 0 3 0 2 0 1 0 1 0 4 1-10 0-4 0 0 0-1 0-3 0-2 0-1 0-1 0-7 0 0 0-2 0-1 0-3 0-5 1 1 0 0 0 2 0 3 0 0 0 4 0 1 0 1 0 0 0 1 0 1 0 1 0 2 0 1 0 1 0 0 0 3 0 1 0 2 0 4 0 1 0 3 0 0 0 9 1-9 0-11 0-1 0 0 0-2 0 0 0-2 0-1 0 0 0 0 0 0 0-2 0-2 0 0 0-5 0-1 0-1 0-4 0-2 0 0 0-3 0-9 1 7 0 4 0 1 0 3 0 2 0 0 0 1 0 0 0 2 0 0 0 0 0 1 0 0 0 4 0 0 0 1 0 1 0 0 0 1 0 1 0 1 0 0 0 2 0 0 0 0 0 1 0 1 0 0 0 0 0 2 0 1 0 0 0 1 0 7 0 1 0 4 0-1 1-6 0-3 0 0 0-2 0-2 0-2 0-1 0 0 0-1 0 0 0-1 0-1 0-1 0-3 0-1 0 0 0 0 0 0 0-1 0-1 0 0 0-1 0 0 0-3 0 0 0-2 0 0 0-2 0 0 0-1 0-1 0-3 0-2 0-1 0 0 0-10 0 0 1 3 0 3 0 0 0 2 0 0 0 1 0 2 0 1 0 1 0 1 0 0 0 1 0 0 0 1 0 0 0 0 0 2 0 2 0 1 0 2 0 0 0 0 0 1 0 0 0 0 0 1 0 0 0 1 0 0 0 1 0 0 0 1 0 1 0 2 0 2 0 3 0 8 0 2 0 10 1-10 0-1 0-2 0-4 0-2 0 0 0-4 0-4 0-1 0-1 0 0 0-1 0-2 0 0 0-1 0 0 0 0 0-1 0 0 0-1 0-1 0-3 0-1 0-1 0 0 0-1 0 0 0-1 0 0 0 0 0-1 0 0 0-2 0-1 0-1 0-1 0-1 0-6 0-5 0-1 0 3 1 5 0 0 0 1 0 0 0 1 0 1 0 0 0 1 0 1 0 1 0 0 0 1 0 1 0 1 0 0 0 1 0 0 0 1 0 0 0 1 0 1 0 0 0 0 0 0 0 1 0 0 0 0 0 1 0 0 0 1 0 1 0 0 0 1 0 3 0 0 0 1 0 1 0 0 0 0 0 2 0 0 0 0 0 0 0 1 0 1 0 1 0 0 0 2 0 1 0 2 0 0 0 18 0-10 1-1 0-1 0 0 0-1 0-2 0-5 0-2 0-4 0 0 0-1 0-1 0-2 0 0 0-1 0-1 0-1 0 0 0 0 0-1 0 0 0-1 0-1 0 0 0 0 0-1 0 0 0-1 0 0 0-1 0-1 0 0 0-1 0 0 0-1 0 0 0 0 0 0 0-1 0 0 0 0 0 0 0-1 0 0 0-1 0 0 0-1 0-1 0 0 0 0 0-1 0 0 0-2 0-1 0-5 0-2 0-3 0-1 0 1 1 0 0 5 0 1 0 1 0 0 0 1 0 0 0 1 0 0 0 1 0 0 0 0 0 4 0 1 0 1 0 0 0 0 0 0 0 0 0 2 0 0 0 0 0 0 0 1 0 2 0 0 0 0 0 0 0 1 0 0 0 1 0 0 0 1 0 1 0 0 0 0 0 0 0 1 0 0 0 1 0 0 0 0 0 1 0 0 0 0 0 0 0 1 0 0 0 0 0 1 0 0 0 1 0 0 0 0 0 1 0 1 0 7 0 1 0 8 0-1 1-11 0 0 0-3 0-2 0 0 0-3 0-1 0 0 0 0 0-1 0-2 0 0 0-2 0 0 0 0 0 0 0-2 0 0 0 0 0-2 0 0 0-2 0 0 0-1 0 0 0 0 0 0 0 0 0-1 0 0 0 0 0 0 0-1 0-1 0-2 0 0 0 0 0 0 0-1 0 0 0-1 0 0 0 0 0-1 0 0 0-1 0-1 0-1 0-1 0-1 0 0 0-1 0 0 0-1 0-1 0-6 0 0 0-1 1 4 0 1 0 0 0 2 0 0 0 0 0 1 0 1 0 0 0 1 0 1 0 0 0 0 0 0 0 1 0 0 0 0 0 0 0 1 0 1 0 0 0 1 0 1 0 0 0 0 0 1 0 0 0 0 0 0 0 1 0 0 0 0 0 0 0 1 0 2 0 0 0 0 0 1 0 0 0 1 0 1 0 0 0 0 0 0 0 1 0 0 0 1 0 0 0 0 0 1 0 0 0 0 0 0 0 1 0 0 0 0 0 1 0 1 0 1 0 1 0 0 0 0 0 0 0 1 0 0 0 1 0 0 0 1 0 1 0 5 0 0 0 1 0 6 0 1 1-4 0-7 0-4 0-1 0-2 0 0 0-1 0 0 0 0 0-1 0-1 0-2 0-1 0-1 0-1 0-1 0 0 0 0 0 0 0 0 0-1 0 0 0 0 0 0 0-1 0 0 0-1 0 0 0 0 0 0 0-1 0-1 0-1 0-1 0 0 0 0 0 0 0 0 0 0 0 0 0-1 0 0 0 0 0-1 0-1 0 0 0-1 0 0 0 0 0 0 0 0 0-1 0-2 0 0 0 0 0-1 0-2 0-9 1 1 0 1 0 1 0 2 0 1 0 0 0 1 0 1 0 0 0 1 0 0 0 0 0 0 0 1 0 0 0 0 0 0 0 1 0 0 0 2 0 0 0 1 0 0 0 1 0 0 0 0 0 1 0 0 0 1 0 0 0 0 0 0 0 0 0 1 0 0 0 0 0 0 0 1 0 0 0 0 0 0 0 2 0 0 0 0 0 0 0 0 0 0 0 1 0 0 0 0 0 1 0 0 0 2 0 1 0 1 0 0 0 3 0 0 0 1 0 0 0 2 0 1 0 1 0 6 0 9 0-12 1-7 0-2 0 0 0-1 0-1 0 0 0-3 0-1 0 0 0 0 0-1 0 0 0 0 0-1 0 0 0 0 0-2 0-1 0-1 0 0 0-1 0-1 0 0 0-1 0-1 0 0 0-1 0 0 0-1 0-1 0 0 0 0 0-1 0 0 0-1 0 0 0-1 0 0 0-1 0 0 0 0 0-1 0 0 0-2 0 0 0-3 0-2 1 1 0 0 0 2 0 0 0 2 0 1 0 0 0 1 0 0 0 1 0 1 0 0 0 2 0 0 0 2 0 0 0 1 0 0 0 0 0 1 0 0 0 0 0 0 0 1 0 0 0 1 0 0 0 0 0 1 0 0 0 0 0 1 0 3 0 1 0 0 0 0 0 0 0 1 0 0 0 1 0 3 0 0 0 0 0 0 0 2 0 2 0 1 0 2 1-14 0 0 0-1 0 0 0-1 0 0 0 0 0-2 0-1 0 0 0 0 0-1 0 0 0-1 0 0 0-1 0 0 0-1 0 0 0 0 0 0 0 0 0 0 0 0 0-1 0 0 0-1 0 0 0-1 0 0 0-1 0-1 0 0 0-1 0 0 0 0 0 0 0-1 0-5 0-8 0 3 1 1 0 3 0 2 0 1 0 0 0 3 0 0 0 1 0 0 0 3 0 0 0 0 0 0 0 1 0 0 0 0 0 1 0 0 0 1 0 0 0 1 0 1 0 0 0 2 0 0 0 1 0 0 0 0 0 2 0 1 0 3 0 1 0 2 0 2 0 7 0-6 1-5 0-1 0 0 0-1 0-1 0-1 0-1 0-1 0-2 0 0 0-1 0 0 0 0 0-1 0 0 0-1 0-4 0 0 0 0 0 0 0-1 0-1 0-2 0 0 0-4 0 0 0-2 0-1 0-1 1 1 0 2 0 1 0 2 0 0 0 2 0 0 0 1 0 0 0 3 0 1 0 1 0 2 0 0 0 6 0 2 0-12 1 0 0-8 0-3 0-2 0 0 1 3 0 0 0 2 0 4 0 0 0 1 0 4 0 0 0 5 0-7 1-3 0-1 0-6 1 8 4"/>
</g>
<rect x="67.6" y="191.5" width="127.6" height="128.1" fill="none" stroke="#222" stroke-width="1.1"/>
<path d="M67.6 314.6h-1.2M72.6 319.6v1.2M67.6 309.6h-1.2M77.6 319.6v1.2M67.6 304.6h-1.2M82.6 319.6v1.2M67.6 299.6h-1.2M87.5 319.6v1.2M67.6 294.6h-1.2M92.5 319.6v1.2M67.6 289.6h-1.2M97.5 319.6v1.2M67.6 284.6h-1.2M102.5 319.6v1.2M67.6 279.6h-1.2M107.5 319.6v1.2M67.6 274.6h-1.2M112.5 319.6v1.2M67.6 269.6h-1.2M117.4 319.6v1.2M67.6 264.6h-1.2M122.4 319.6v1.2M67.6 259.6h-1.2M127.4 319.6v1.2M67.6 254.5h-1.2M132.4 319.6v1.2M67.6 249.5h-1.2M137.4 319.6v1.2M67.6 244.5h-1.2M142.4 319.6v1.2M67.6 239.5h-1.2M147.3 319.6v1.2M67.6 234.5h-1.2M152.3 319.6v1.2M67.6 229.5h-1.2M157.3 319.6v1.2M67.6 224.5h-1.2M162.3 319.6v1.2M67.6 219.5h-1.2M167.3 319.6v1.2M67.6 214.5h-1.2M172.3 319.6v1.2M67.6 209.5h-1.2M177.3 319.6v1.2M67.6 204.5h-1.2M182.2 319.6v1.2M67.6 199.5h-1.2M187.2 319.6v1.2M67.6 194.5h-1.2M192.2 319.6v1.2" stroke="#222" stroke-width="1.1"/>
<text transform="translate(65.4 206.1) rotate(-90)" font-family="Liberation Sans" font-weight="bold" font-size="5.6" fill="#333">1023</text>
<text transform="translate(58.8 259.4) rotate(-90)" font-family="Liberation Sans" font-weight="bold" font-size="5.6" fill="#444">SS</text>
<text x="61.2" y="321.6" font-family="Liberation Sans" font-weight="bold" font-size="5.6" fill="#333">0</text>
<text x="66.1" y="325.8" font-family="Liberation Sans" font-weight="bold" font-size="5.6" fill="#333">0</text>
<text x="127.6" y="332.6" font-family="Liberation Sans" font-weight="bold" font-size="5.6" fill="#444">FS</text>
<text x="195.4" y="326.8" font-family="Liberation Sans" font-weight="bold" font-size="5.6" fill="#333" text-anchor="end">1023</text>
<text x="191.4" y="211.0" font-family="Liberation Serif" stroke="#000" stroke-width="0.32" font-size="17.5" text-anchor="end">56%</text>
<text x="86.7" y="356.2" font-family="Liberation Serif" stroke="#000" stroke-width="0.32" font-size="17" textLength="83.7" lengthAdjust="spacingAndGlyphs">50μM 5-HT</text>
<g filter="url(#bl)">
<path class="k0" d="M244 194l98 0-58 5-15 1 23 2 47 1-70 9 44 1-8 10 16 6-57 3-30 2 117 3-17 4 6 2-11 1-74 2 8 0 86 3-114 2 72 2-52 16 58 1 17 1-56 0 69 2-49 1-5 6 23 3-41 10-33 1 54 4-46 1 76 3-76 1 40 2 58 2-113 3-3 1 104 5"/>
<path class="k9" d="M297 197l-15 14 34 2-36 2 20 2-68 1 54 6-6 1-1 0 1 1 22 1-34 1 3 0 27 0-5 1-18 0-17 0 2 1 14 0 35 0-13 1 0 1 12 0-41 1 2 1 6 0 18 1-8 0-11 0-4 0-4 0-18 0 46 1 28 1-24 0-41 0-2 1 42 0 0 0 25 0-28 1-16 0-46 0 53 1 21 1-18 0-3 0-15 0-7 0-14 1 10 0 13 0 1 0 8 0 4 0 26 0 2 0-3 1-38 0 0 0-4 0-14 1 14 0 11 0 3 0 2 0 15 1-23 0-5 0-19 0-8 1 21 0 8 0 32 0 6 1-26 0-8 0-20 0-5 1 47 0 28 0-22 1-28 0 0 0-15 1 11 0 3 0 35 0 4 0 2 1-20 0-1 0-9 0-3 0-19 1 13 0 8 0 4 0 1 0 0 0-11 1-1 0-30 1 0 0 8 0 7 0 17 0 1 0 10 0 8 0 2 0 23 0-69 1 1 1 5 0 5 0 2 0 34 0 2 0 5 0-18 1 0 0-7 0-1 0-18 0-2 0-3 0-6 0-2 0-12 1 5 0 1 0 30 0 9 0 4 0 28 0-26 1-4 0-4 0-50 1 38 0 6 0 18 0 8 0-7 1-5 0-1 0-7 0-9 0-24 0-8 0 9 1 1 0 9 0 2 0 1 0 4 0 5 0 3 0 0 0 5 0 1 0 24 1-1 0-30 0-17 0-1 0-2 0-16 0-4 0 5 1 7 0 1 0 2 0 9 0 3 0 19 0 6 0 14 0-15 1-3 0-13 0-5 0-7 0 0 0-1 0-1 0-16 0 1 1 15 0 15 0 2 0 2 0 11 0 5 1-1 0-12 0-4 0-33 1 25 0 5 0 5 0 5 0 4 0 2 0 64 0-35 1-19 0-12 0-12 0-2 0-1 0 0 0-11 0-10 0-13 1 18 0 11 0 0 0 3 0 8 0 8 0 23 1-8 0-2 0-7 0 0 0-9 0-1 0 0 0-7 0-9 0-6 0-4 0-7 0-2 1 7 0 8 0 5 0 6 0 31 1-11 0-9 0-5 0-1 0-1 0-6 0-7 0-8 1 2 0 4 0 3 0 2 0 12 0 1 0 1 0 5 0 6 0 2 1-2 0-12 0 0 0-3 0-10 0-4 0-5 0-3 0-20 1 1 0 17 0 5 0 1 0 9 0 4 0 6 0 2 0 0 0 2 0 3 0 1 0 3 0 13 0-18 1-3 0-7 0-4 0-3 0-11 0 0 0-5 0-5 0-12 0 11 1 13 0 6 0 6 0 12 0 5 0 5 0 11 0 1 0-10 1-5 0-20 0-4 0-9 0 0 0-4 0-6 0-1 0-9 1 7 0 1 0 3 0 8 0 1 0 4 0 4 0 2 0 1 0 13 0 1 0 3 0 3 0 9 0 7 0 8 1-21 0-2 0-17 0-5 0-4 0-13 0-13 1 1 0 10 0 4 0 0 0 1 0 4 0 1 0 3 0 0 0 8 0 7 0 1 0 13 0 15 1-23 0-4 0-3 0-6 0-16 0-1 0-2 0-4 0-7 1 2 0 6 0 9 0 4 0 0 0 0 0 8 0 6 0 3 0 2 0 9 0 12 1-9 0-1 0 0 0-6 0-6 0-5 0-8 0-2 0-1 0-5 0-4 0-5 0-4 0-3 0-2 0 0 1 7 0 1 0 4 0 0 0 13 0 2 0 12 0 11 0 1 0 2 0 19 0-32 1-9 0-8 0-2 0-11 0-3 0-2 1 1 0 2 0 11 0 9 0 3 0 2 0 1 0 11 0 9 0 13 1-16 0-8 0-7 0-3 0-3 0-6 0-11 0 0 0-2 0-7 0-9 1 9 0 1 0 1 0 8 0 10 0 1 0 10 0 10 0 1 0 1 0 0 0-11 1-6 0-3 0-11 0-2 0-3 0-3 0-6 1 1 0 9 0 5 0 0 0 1 0 3 0 0 0 10 0 1 0 8 0 3 0 13 1-14 0-3 0-12 0-1 0-6 0-7 0-3 0-1 0-10 0 1 1 6 0 9 0 1 0 17 0 3 0 1 0 1 0 2 0 1 0 32 0-23 1-7 0-2 0-25 0-2 0-3 0-9 0 0 1 2 0 9 0 10 0 2 0 5 0 1 0 15 0-2 1-8 0-9 0-3 0-7 0-1 0-3 0-3 0-14 0 1 1 3 0 6 0 6 0 8 0 6 0 4 0 3 0 4 0 12 0 2 1-12 0-13 0-3 0-7 0-2 0-6 0-1 0-12 1 2 0 1 0 4 0 2 0 9 0 9 0 25 0 2 0-12 1-11 0-7 0-9 0-7 0 0 0-3 1 3 0 12 0 4 0 5 0 3 0 0 0 5 0 19 1-13 0-18 0-6 0-6 0-7 1 17 0 0 0 4 0 0 0 2 0 31 0 12 0-10 1-17 0-15 0-15 0-5 0-5 1 5 0 10 0 10 0 11 0-12 1-14 0-8 1 10 0 6 0 12 1-9 0-9 0-5 0-7 0 5 1 3 0 2 0 7 0 2 0 17 1-17 0-1 0-4 0-14 1 2 0 22 0 27 1-2 0-19 0-21 0-6 0-7 0 26 1 2 0 66 0-61 1-15 0-1 0-10 1 42 0-29 2 1 0 13 0"/>
<path class="k10" d="M268 237l9 3 3 0 22 1-34 2 20 1-18 2-1 4 8 1-10 1 17 1-12 1 4 0 15 1-15 1 0 0 6 0-1 1-4 1 13 0 8 1-11 0-13 0-4 0-29 0-4 0 22 1 18 0 0 0 4 0 4 0 3 0 8 0-7 1-10 0-27 0 9 1 2 0 9 0 5 0 4 0-6 1-9 0-21 1 19 0 11 0-3 1-6 0-9 0-9 0 17 1 25 1-10 0-6 0-19 0 7 1 16 0 3 0 1 0 8 0 3 1-22 0-6 0-2 0-9 0-2 0-17 1 19 0 2 0 10 0 16 0 23 0 2 1-23 0-10 0-1 0-3 0-2 0-5 0 0 0-3 0-2 1 1 0 1 0 0 0 8 0 15 0 19 1-24 0-14 0 0 0-3 0-3 0-3 0-9 0-9 0 9 1 7 0 2 0 2 0 4 0 2 0 6 0 2 0 1 0 1 0 4 0 4 0-2 1-1 0-2 0-5 0 0 0-15 0-12 0 0 0-1 0 5 1 8 0 10 0 3 0 4 0 1 0 13 0-1 1-6 0-13 0-5 0-1 0-1 0-11 0-11 0-1 0 2 1 4 0 3 0 17 0 1 0 7 0 15 0-3 1-16 0-1 0-4 0-1 0-1 0-6 0-4 0-12 0-1 0 6 1 2 0 10 0 2 0 7 0 0 0 0 0 6 0 3 0 5 0 0 1-2 0-2 0-4 0-8 0-1 0-6 0-5 0-8 1 2 0 4 0 2 0 2 0 4 0 4 0 1 0 6 0 5 0 4 0 20 1-15 0-4 0 0 0-3 0-4 0 0 0-4 0 0 0-2 0-4 0-3 0-6 0-14 1 14 0 5 0 7 0 2 0 1 0 6 0 4 0 4 1-8 0-4 0-4 0-1 0-2 0 0 0-11 0-2 0-5 0-1 0-1 0 17 1 45 0-25 1-3 0-7 0-3 0-2 0-3 0-6 0-12 0-1 1 5 0 2 0 14 0 2 0 5 0 0 0 5 0 2 0 0 0 13 0-3 1-14 0-11 0 0 0-4 0-5 0-1 0-1 0-1 0-1 0-2 0-12 1 11 0 2 0 5 0 2 0 7 0 2 0 2 1-2 0-5 0-3 0-4 0-5 0-8 1 3 0 13 0 0 0 1 0 3 0 3 0 1 0 1 0 3 0 5 0 3 0 5 0 6 1 0 0-17 0-1 0-4 0-2 0-2 0-4 0-3 0-3 0-1 0 0 0 0 0-7 0-1 0-2 0 8 1 0 0 2 0 8 0 2 0 2 0 0 0 2 0 3 0 2 0 2 0 1 0 17 0-19 1-7 0-6 0-1 0 0 0-2 0-4 0 0 0-1 0-1 0-12 1 9 0 12 0 4 0 11 0 8 0 7 0-24 1-4 0-2 0-1 0 0 0-5 0-4 0-2 0 0 0-2 0-1 0-3 0-3 1 1 0 10 0 2 0 9 0 4 0 24 0-17 1-1 0-2 0-6 0-14 0-4 0-1 0-3 1 11 0 3 0 0 0 10 0 5 0 5 0-9 1-6 0 0 0-2 0 0 0-15 0-2 0 6 1 7 0 3 0 2 0 12 0 1 0-9 1-1 0-7 0-1 0-4 0-2 0 0 0 0 0-5 0 4 1 3 0 0 0 1 0 1 0 0 0 3 0 0 0 6 0 3 0 14 0-4 1-1 0-4 0-2 0-4 0-6 0-12 0-6 0 3 1 2 0 3 0 0 0 2 0 2 0 11 0 9 0 4 0 2 0-17 1-8 0-4 0-4 0-6 0-1 1 2 0 5 0 1 0 8 0 11 0 7 0-11 1-10 1 0 0 10 0 13 0 2 0-11 1-3 0-14 0 0 0-1 0-6 0 8 1 3 0 2 0 2 0 5 0 5 0 4 1-20 0-3 0-4 0-2 0 22 1 0 0 1 0 21 0-35 1-10 0 12 1 15 1-18 0-2 0 0 0-5 1 0 0 2 0"/>
<path class="k11" d="M256 258l8 2 10 2-3 1 2 1 10 1-7 0-1 0-4 0-2 0-10 0 0 1 3 0 17 1-9 0 0 0-8 0 3 1 1 0 1 0 5 0 11 0-10 1-1 0-6 0-11 0 6 1 3 0 1 0 0 0 3 0 3 0 8 1-1 0-14 0-4 0-4 0-4 0 1 1 9 0 1 0 4 0 4 0 1 0 3 0-2 1-4 0-1 0-1 0-2 0-5 0-3 0-9 0-4 0-5 1 17 0 0 0 3 0 1 0 0 0 4 0 0 0 4 0 0 0 3 0 1 0 10 1-8 0-1 0-2 0 0 0-1 0 0 0-2 0-1 0 0 0-3 0 0 0-1 0-4 0-2 0-1 0 0 0-1 0-5 0-1 1 5 0 2 0 1 0 2 0 4 0 3 0 1 0 1 0 5 0 2 0 1 0 15 1-16 0-2 0-1 0-1 0-1 0 0 0-2 0-1 0-1 0 0 0-2 0 0 0-2 0-1 0-2 0 0 0 0 0-1 0 0 0 0 0-1 0-4 0-5 0-4 0 2 1 0 0 2 0 1 0 2 0 2 0 0 0 1 0 1 0 1 0 1 0 0 0 0 0 0 0 0 0 0 0 1 0 1 0 0 0 1 0 0 0 1 0 1 0 0 0 2 0 0 0 1 0 0 0 1 0 0 0 0 0 1 0 1 0 0 0 2 0 2 0 1 0 5 0 5 1-4 0-1 0-5 0-2 0 0 0-2 0 0 0 0 0-1 0 0 0-1 0 0 0 0 0-1 0-1 0 0 0-1 0-2 0 0 0 0 0 0 0 0 0-1 0 0 0 0 0-2 0-2 0 0 0-1 0 0 0-1 0-2 0 0 0 0 0-4 0-4 0 5 1 1 0 1 0 1 0 0 0 1 0 0 0 2 0 0 0 1 0 0 0 1 0 0 0 0 0 0 0 1 0 1 0 2 0 0 0 1 0 4 0 1 0 1 0 0 0 0 0 1 0 0 0 1 0 3 0 7 1-1 0-4 0-3 0-1 0-1 0 0 0-1 0-3 0 0 0 0 0-1 0-4 0 0 0 0 0 0 0-1 0 0 0-1 0 0 0-1 0 0 0 0 0 0 0 0 0-1 0 0 0-1 0 0 0-2 0-1 0 0 0 0 0-15 0 7 1 3 0 1 0 0 0 1 0 0 0 0 0 1 0 1 0 1 0 0 0 0 0 1 0 0 0 2 0 0 0 2 0 0 0 0 0 1 0 0 0 0 0 0 0 0 0 1 0 0 0 1 0 1 0 1 0 0 0 1 0 0 0 1 0 0 0 1 0 1 0 1 0 1 0 0 0 3 0 2 0 2 0 2 1-6 0-2 0 0 0 0 0-2 0 0 0-2 0 0 0 0 0-1 0 0 0 0 0 0 0-1 0 0 0-1 0 0 0 0 0 0 0-1 0 0 0 0 0 0 0 0 0 0 0-1 0 0 0 0 0-1 0 0 0 0 0-1 0 0 0 0 0 0 0 0 0-1 0 0 0-1 0 0 0 0 0-1 0-1 0 0 0 0 0-2 0 0 0-2 0 0 0-2 0-2 0-7 1 2 0 3 0 3 0 1 0 1 0 1 0 1 0 1 0 1 0 0 0 0 0 1 0 0 0 0 0 0 0 0 0 1 0 0 0 0 0 1 0 0 0 0 0 0 0 0 0 1 0 0 0 0 0 0 0 0 0 1 0 1 0 0 0 0 0 1 0 0 0 1 0 0 0 1 0 0 0 0 0 1 0 1 0 0 0 1 0 0 0 0 0 1 0 2 0 1 0 2 0 2 0 2 1-4 0-2 0-2 0-1 0-1 0-1 0 0 0-2 0-1 0 0 0-1 0 0 0 0 0 0 0 0 0 0 0-1 0-1 0 0 0-1 0 0 0-1 0 0 0-1 0 0 0-1 0-1 0 0 0 0 0-3 0-1 0 0 0 0 0 0 0-1 0 0 0-1 0-1 0-3 0-3 0 5 1 0 0 0 0 1 0 1 0 1 0 0 0 0 0 1 0 0 0 1 0 0 0 1 0 1 0 1 0 0 0 0 0 0 0 1 0 0 0 0 0 0 0 1 0 0 0 1 0 1 0 0 0 1 0 0 0 0 0 0 0 0 0 1 0 0 0 0 0 0 0 0 0 1 0 0 0 1 0 0 0 1 0 0 0 1 0 0 0 1 0 0 0 1 0 1 0 1 0 1 0 0 0 5 0 2 0 4 1-5 0-2 0-1 0-1 0 0 0-1 0 0 0-2 0-3 0 0 0-1 0 0 0 0 0-1 0-1 0 0 0-1 0 0 0-2 0-1 0 0 0 0 0 0 0-1 0 0 0-1 0 0 0 0 0-1 0 0 0 0 0 0 0-1 0 0 0-1 0 0 0-1 0 0 0-1 0 0 0-1 0 0 0-1 0 0 0 0 0-1 0 0 0 0 0 0 0-1 0-1 0 0 0-2 0 0 0-3 0 0 0-3 0 1 1 1 0 1 0 0 0 1 0 1 0 0 0 3 0 0 0 1 0 1 0 1 0 0 0 1 0 0 0 0 0 1 0 0 0 0 0 0 0 0 0 0 0 1 0 0 0 1 0 0 0 0 0 0 0 0 0 0 0 0 0 0 0 1 0 0 0 0 0 1 0 0 0 0 0 0 0 0 0 1 0 0 0 0 0 1 0 0 0 1 0 0 0 0 0 0 0 0 0 0 0 0 0 0 0 0 0 1 0 0 0 1 0 0 0 1 0 0 0 1 0 1 0 0 0 1 0 0 0 1 0 0 0 1 0 0 0 2 0 0 0 1 0 3 0 2 0 1 0-3 1-4 0 0 0 0 0 0 0-1 0 0 0-1 0 0 0-1 0 0 0 0 0 0 0-1 0 0 0-1 0-1 0 0 0 0 0-1 0 0 0 0 0 0 0-1 0 0 0 0 0-1 0 0 0 0 0-1 0 0 0-1 0 0 0 0 0 0 0-1 0 0 0 0 0 0 0-1 0 0 0 0 0 0 0-1 0 0 0 0 0 0 0 0 0-1 0 0 0 0 0-1 0 0 0-1 0 0 0 0 0 0 0-1 0-1 0 0 0 0 0 0 0-1 0 0 0 0 0-1 0 0 0 0 0-1 0 0 0-1 0 0 0-1 0 0 0 0 0-1 0-1 0 0 0 0 0-2 0-1 0-1 0-2 1 0 0 2 0 0 0 2 0 2 0 1 0 1 0 1 0 0 0 0 0 0 0 0 0 1 0 0 0 1 0 1 0 0 0 0 0 1 0 0 0 0 0 0 0 1 0 0 0 1 0 0 0 1 0 0 0 1 0 0 0 0 0 1 0 0 0 0 0 0 0 0 0 1 0 0 0 0 0 0 0 0 0 1 0 0 0 0 0 0 0 0 0 0 0 1 0 0 0 1 0 1 0 0 0 0 0 1 0 0 0 0 0 0 0 0 0 0 0 1 0 0 0 0 0 0 0 0 0 0 0 0 0 1 0 0 0 0 0 0 0 2 0 1 0 0 0 0 0 1 0 0 0 1 0 2 0 1 0 2 0 3 0 1 0-1 1-5 0 0 0-3 0-1 0-1 0 0 0-1 0 0 0 0 0-1 0 0 0 0 0-1 0 0 0-1 0 0 0 0 0 0 0 0 0-1 0-1 0-1 0 0 0 0 0 0 0 0 0-1 0 0 0 0 0 0 0-1 0 0 0 0 0 0 0 0 0-1 0 0 0 0 0 0 0 0 0 0 0 0 0-1 0 0 0 0 0 0 0 0 0 0 0 0 0-1 0-1 0-1 0 0 0 0 0 0 0-1 0 0 0 0 0 0 0-1 0 0 0-1 0 0 0 0 0 0 0 0 0-1 0 0 0 0 0 0 0-1 0 0 0-1 0 0 0-1 0 0 0 0 0-1 0 0 0 0 0 0 0 0 0-1 0-2 0 0 0-1 0-6 0 1 1 1 0 0 0 0 0 0 0 1 0 2 0 2 0 1 0 1 0 0 0 1 0 2 0 0 0 0 0 0 0 0 0 0 0 1 0 0 0 1 0 0 0 1 0 0 0 1 0 1 0 0 0 0 0 1 0 0 0 0 0 0 0 0 0 0 0 1 0 0 0 0 0 0 0 1 0 0 0 0 0 0 0 0 0 1 0 1 0 0 0 0 0 0 0 0 0 0 0 1 0 0 0 0 0 0 0 0 0 0 0 1 0 0 0 0 0 1 0 0 0 0 0 0 0 1 0 0 0 0 0 0 0 0 0 2 0 0 0 0 0 0 0 1 0 0 0 0 0 1 0 0 0 0 0 1 0 0 0 1 0 1 0 1 0 1 0 0 0 1 1 0 0-1 0-1 0 0 0-2 0-2 0 0 0-1 0 0 0 0 0 0 0 0 0-1 0 0 0 0 0 0 0 0 0 0 0-1 0 0 0 0 0-1 0 0 0-1 0 0 0 0 0 0 0-1 0 0 0 0 0-1 0 0 0 0 0 0 0 0 0 0 0-1 0 0 0 0 0 0 0 0 0 0 0 0 0 0 0-1 0-1 0 0 0 0 0 0 0-1 0 0 0 0 0 0 0-1 0 0 0 0 0 0 0 0 0-1 0 0 0 0 0 0 0 0 0-1 0 0 0 0 0 0 0 0 0 0 0-1 0 0 0-1 0 0 0 0 0 0 0-1 0 0 0 0 0 0 0-1 0 0 0 0 0-1 0 0 0 0 0-1 0 0 0 0 0 0 0-1 0 0 0 0 0 0 0-1 0-1 0 0 0 0 0-1 0-1 0-3 0 0 0 0 0-1 0 5 1 0 0 2 0 1 0 1 0 0 0 0 0 0 0 0 0 1 0 0 0 1 0 1 0 0 0 0 0 0 0 1 0 0 0 0 0 1 0 0 0 0 0 0 0 0 0 0 0 0 0 0 0 1 0 0 0 0 0 0 0 0 0 1 0 0 0 0 0 0 0 0 0 0 0 1 0 0 0 0 0 0 0 1 0 1 0 0 0 0 0 0 0 0 0 0 0 0 0 0 0 0 0 1 0 0 0 0 0 0 0 0 0 0 0 0 0 0 0 0 0 1 0 0 0 0 0 1 0 0 0 0 0 0 0 1 0 0 0 0 0 0 0 0 0 1 0 0 0 0 0 0 0 1 0 0 0 1 0 0 0 0 0 1 0 1 0 0 0 0 0 1 0 0 0 1 0 0 0 0 0 1 0 1 0 2 0 1 0 0 0 1 0 4 1-2 0 0 0-1 0-2 0-2 0-1 0 0 0-1 0-2 0 0 0-1 0 0 0-2 0 0 0 0 0 0 0-1 0 0 0-1 0 0 0 0 0 0 0-1 0 0 0 0 0-1 0 0 0 0 0-1 0 0 0 0 0-1 0 0 0 0 0-1 0 0 0 0 0 0 0-1 0 0 0-1 0 0 0 0 0 0 0-1 0 0 0-1 0 0 0 0 0 0 0 0 0-1 0 0 0 0 0-1 0 0 0 0 0 0 0 0 0-1 0 0 0 0 0 0 0 0 0-1 0 0 0-1 0 0 0 0 0 0 0 0 0 0 0-1 0 0 0 0 0 0 0 0 0 0 0-1 0-1 0 0 0-1 0-1 0 0 0-1 0-4 0 0 1 3 0 0 0 0 0 2 0 0 0 1 0 2 0 0 0 1 0 0 0 1 0 1 0 0 0 0 0 0 0 0 0 1 0 1 0 0 0 0 0 0 0 0 0 0 0 0 0 0 0 0 0 1 0 0 0 1 0 1 0 0 0 0 0 0 0 0 0 0 0 1 0 0 0 0 0 1 0 0 0 0 0 0 0 0 0 1 0 0 0 0 0 0 0 0 0 0 0 1 0 0 0 0 0 1 0 0 0 1 0 0 0 0 0 0 0 1 0 0 0 0 0 0 0 1 0 0 0 1 0 0 0 1 0 1 0 0 0 0 0 0 0 1 0 0 0 0 0 0 0 1 0 0 0 2 0 0 0 0 0 3 1-4 0-1 0-1 0 0 0 0 0 0 0-2 0 0 0-1 0 0 0-1 0 0 0 0 0-1 0 0 0 0 0 0 0 0 0 0 0-1 0-1 0-1 0 0 0 0 0 0 0 0 0 0 0-1 0 0 0 0 0 0 0 0 0 0 0-1 0 0 0 0 0-1 0 0 0-1 0 0 0 0 0 0 0-1 0 0 0 0 0 0 0 0 0 0 0-1 0 0 0 0 0 0 0-1 0 0 0 0 0-1 0 0 0 0 0 0 0 0 0 0 0 0 0-1 0 0 0-3 0 0 0 0 0 0 0 0 0-1 0 0 0-1 0 0 0-1 0 0 0 0 0-3 0-1 0 0 0-2 1 2 0 1 0 0 0 2 0 1 0 1 0 1 0 0 0 0 0 0 0 1 0 1 0 0 0 1 0 0 0 0 0 0 0 1 0 0 0 1 0 0 0 0 0 0 0 0 0 1 0 0 0 0 0 0 0 0 0 1 0 0 0 0 0 1 0 0 0 0 0 1 0 0 0 1 0 0 0 0 0 0 0 0 0 0 0 0 0 0 0 1 0 0 0 0 0 0 0 0 0 0 0 1 0 0 0 0 0 0 0 0 0 0 0 1 0 0 0 0 0 0 0 0 0 1 0 0 0 0 0 0 0 0 0 1 0 0 0 0 0 0 0 0 0 1 0 1 0 0 0 0 0 1 0 0 0 0 0 1 0 1 0 0 0 9 0-2 1 0 0-4 0-2 0-1 0 0 0 0 0-1 0 0 0 0 0 0 0-1 0-1 0 0 0-1 0 0 0 0 0-1 0-1 0-1 0 0 0-1 0 0 0 0 0 0 0 0 0-1 0 0 0 0 0 0 0 0 0-1 0 0 0 0 0 0 0-1 0-1 0 0 0 0 0 0 0 0 0 0 0 0 0 0 0-1 0 0 0-1 0 0 0-1 0 0 0 0 0-1 0 0 0 0 0 0 0 0 0 0 0 0 0 0 0 0 0 0 0-1 0 0 0 0 0-1 0 0 0 0 0 0 0-1 0 0 0-1 0 0 0 0 0 0 0-1 0 0 0-1 0 0 0 0 0-1 0 0 0-5 0-1 0 0 0-1 0 1 1 2 0 1 0 1 0 0 0 0 0 2 0 0 0 0 0 0 0 1 0 0 0 1 0 1 0 0 0 1 0 0 0 0 0 0 0 0 0 1 0 0 0 0 0 0 0 1 0 0 0 0 0 0 0 1 0 0 0 0 0 1 0 0 0 0 0 0 0 0 0 0 0 1 0 1 0 0 0 0 0 0 0 0 0 0 0 0 0 0 0 0 0 0 0 1 0 0 0 0 0 0 0 0 0 1 0 0 0 0 0 1 0 0 0 1 0 0 0 0 0 0 0 1 0 0 0 0 0 0 0 0 0 1 0 0 0 1 0 1 0 0 0 1 0 0 0 0 0 0 0 1 0 0 0 1 0 0 0 0 0 0 0 1 0 1 0 1 0 2 0 1 0 1 0 0 1 0 0 0 0-3 0-1 0-2 0 0 0 0 0-2 0 0 0-1 0-1 0 0 0 0 0-1 0 0 0 0 0-1 0 0 0 0 0-2 0 0 0 0 0 0 0-1 0 0 0 0 0-1 0 0 0-1 0 0 0 0 0 0 0 0 0 0 0 0 0-1 0 0 0-1 0-1 0 0 0 0 0 0 0 0 0 0 0 0 0 0 0-1 0 0 0-1 0 0 0 0 0 0 0 0 0 0 0 0 0-1 0-1 0-1 0 0 0-2 0-1 0-1 0 0 0-2 0-3 0-1 0 1 1 0 0 0 0 1 0 0 0 1 0 1 0 1 0 1 0 1 0 0 0 1 0 1 0 0 0 1 0 1 0 0 0 0 0 1 0 0 0 0 0 0 0 0 0 1 0 1 0 0 0 0 0 0 0 1 0 0 0 0 0 1 0 0 0 0 0 0 0 2 0 0 0 0 0 1 0 0 0 0 0 0 0 0 0 1 0 0 0 0 0 0 0 0 0 1 0 0 0 0 0 0 0 0 0 0 0 0 0 0 0 0 0 1 0 0 0 1 0 0 0 1 0 1 0 1 0 0 0 1 0 0 0 0 0 1 0 1 0 0 0 2 0 1 0 2 0 1 0 5 0-1 1-8 0-1 0 0 0-2 0 0 0-1 0 0 0-2 0 0 0-1 0 0 0-1 0 0 0 0 0 0 0 0 0 0 0-1 0 0 0 0 0 0 0 0 0 0 0 0 0 0 0 0 0-1 0 0 0-1 0 0 0 0 0 0 0 0 0 0 0-1 0 0 0-1 0 0 0 0 0 0 0-2 0 0 0 0 0 0 0-1 0 0 0 0 0 0 0 0 0-1 0 0 0-1 0 0 0 0 0 0 0-1 0 0 0-1 0 0 0 0 0 0 0-1 0-1 0 0 0-1 0 0 0 0 0-1 0 0 0 0 0 0 0 0 0 0 0-1 0 0 0 0 0-2 0 0 0 0 0 0 0-1 0-2 0 0 0 0 0-1 1 4 0 1 0 0 0 1 0 0 0 1 0 0 0 0 0 1 0 0 0 0 0 0 0 2 0 0 0 0 0 0 0 0 0 1 0 0 0 1 0 0 0 1 0 1 0 0 0 0 0 0 0 1 0 0 0 0 0 0 0 0 0 0 0 1 0 0 0 0 0 1 0 0 0 0 0 1 0 0 0 0 0 0 0 0 0 0 0 0 0 0 0 1 0 0 0 0 0 1 0 0 0 0 0 0 0 0 0 0 0 1 0 1 0 0 0 0 0 0 0 1 0 0 0 1 0 1 0 0 0 2 0 0 0 1 0 1 0 1 0 4 0 5 0-7 1-3 0-2 0 0 0 0 0-2 0 0 0 0 0-1 0-1 0 0 0-1 0 0 0-1 0 0 0 0 0 0 0-1 0-1 0-1 0 0 0-1 0-1 0-1 0-1 0 0 0 0 0 0 0-1 0 0 0 0 0-1 0 0 0 0 0 0 0 0 0-1 0 0 0 0 0 0 0 0 0 0 0-1 0 0 0-1 0 0 0 0 0-1 0 0 0 0 0-1 0 0 0-1 0 0 0 0 0-1 0 0 0-1 0 0 0-2 0-1 0-1 0 2 1 0 0 2 0 0 0 0 0 1 0 0 0 0 0 0 0 0 0 1 0 0 0 0 0 1 0 0 0 1 0 0 0 0 0 0 0 1 0 0 0 0 0 0 0 0 0 0 0 0 0 1 0 0 0 1 0 0 0 0 0 0 0 1 0 1 0 0 0 0 0 0 0 0 0 1 0 0 0 0 0 1 0 0 0 1 0 0 0 0 0 0 0 1 0 0 0 0 0 1 0 0 0 0 0 0 0 2 0 1 0 0 0 1 0 1 0 1 0 0 0 1 0 2 0 1 0 1 0 0 0 1 1-2 0-1 0-2 0 0 0 0 0-2 0-1 0-1 0-1 0 0 0-1 0 0 0-1 0 0 0-1 0-1 0 0 0-1 0 0 0 0 0 0 0-1 0 0 0 0 0 0 0-1 0 0 0 0 0 0 0-1 0 0 0 0 0 0 0 0 0 0 0 0 0-1 0 0 0-1 0 0 0-1 0 0 0 0 0-1 0-1 0 0 0 0 0-1 0 0 0-1 0-1 0-3 0-1 0 1 1 1 0 0 0 0 0 1 0 0 0 3 0 1 0 0 0 1 0 1 0 1 0 0 0 0 0 0 0 0 0 0 0 0 0 1 0 0 0 0 0 0 0 0 0 2 0 0 0 0 0 0 0 0 0 1 0 0 0 0 0 1 0 0 0 1 0 0 0 0 0 2 0 0 0 0 0 1 0 0 0 1 0 0 0 1 0 1 0 0 0 1 0 1 0 1 0 2 0 2 0 4 0 3 1-4 0-1 0-3 0-2 0-2 0-1 0-1 0-1 0-1 0-1 0 0 0 0 0 0 0 0 0 0 0-1 0 0 0 0 0-1 0-1 0 0 0 0 0 0 0-1 0 0 0 0 0-1 0 0 0-1 0 0 0-1 0 0 0-1 0 0 0-2 0 0 0 0 0-1 0 0 0 0 0-1 0-1 0 0 0 0 0-1 0 0 0 0 0-1 0 0 0 0 0-2 0 0 0-1 0-1 1 0 0 6 0 1 0 0 0 2 0 1 0 1 0 0 0 1 0 0 0 1 0 1 0 0 0 0 0 1 0 1 0 0 0 0 0 0 0 1 0 0 0 0 0 0 0 0 0 0 0 1 0 1 0 1 0 2 0 2 0 2 0 4 1-3 0-2 0-1 0-2 0-2 0 0 0-3 0-1 0-1 0 0 0 0 0-1 0-1 0-1 0-1 0-1 0 0 0 0 0-1 0-1 0 0 0-1 0 0 0-1 0 0 0-1 0 0 0 0 0 0 0-2 0-1 0 0 0-1 0 3 1 1 0 1 0 0 0 1 0 0 0 0 0 0 0 1 0 0 0 2 0 1 0 0 0 0 0 2 0 0 0 1 0 0 0 1 0 1 0 0 0 0 0 1 0 2 0 0 0 1 0 0 0 1 0 1 0 2 0 5 1-1 0-5 0 0 0-2 0-3 0-1 0-1 0-1 0 0 0 0 0 0 0-1 0 0 0 0 0-2 0-1 0 0 0 0 0 0 0-1 0 0 0-1 0 0 0 0 0-1 0 0 0 0 0-1 0 0 0 0 0 0 0-1 0 0 0 0 0-1 0 0 0 0 0-1 0-1 0 0 0-3 0 0 0 2 1 0 0 2 0 0 0 1 0 1 0 1 0 1 0 2 0 0 0 1 0 0 0 0 0 1 0 0 0 1 0 0 0 0 0 0 0 1 0 6 0 3 0-3 1-6 0-1 0-1 0-1 0 0 0-1 0-1 0 0 0-1 0 0 0 0 0 0 0 0 0-2 0-5 0-1 0 0 1 2 0 0 0 1 0 0 0 0 0 2 0 3 0 2 0 2 0 0 0 0 0 2 0 1 0 3 0 1 0 6 1-14 0-1 0 0 0-2 0 0 0-2 0-1 0-1 0 0 0-3 1 5 0 1 0 0 0 2 0 1 0 0 0 1 0 0 0 1 0 4 0 0 0 2 0 4 0-13 1"/>
<path class="k4" d="M326 266l11 7-18 5 5 0 18 3-16 1-5 1-7 1 35 0-25 1-17 1 26 0-13 1 7 1 0 0 1 0-6 1-36 2-5 1 6 0 38 0-4 1-12 0-11 1 1 0 2 0 0 0 21 0-11 1-17 1 27 0-16 1-12 0 0 1 0 1-1 0-4 0-10 0 5 1 3 0 13 0 3 0 36 1-48 0-1 0-16 1 10 0 14 0 1 1-15 0-2 0-3 0-9 0 7 1 29 1-13 0-10 0 5 1"/>
<path class="k5" d="M348 270l-4 2 4 6-27 2 10 3-5 0-12 0 20 2-8 0-24 0 47 1-4 1-34 1 31 0-57 2 4 0 17 0 38 1-48 0 35 2-1 0-41 0-1 0 2 1 33 1-8 0-2 0-2 0-10 0-6 0-9 1 12 0 17 1-24 0-9 1 10 0 17 0 0 1-9 0-14 0-1 0 4 1 3 0 11 1-16 0 12 1 14 1-6 0-21 0 4 1-2 1 0 1-1 3-23 0 7 2"/>
<path class="k12" d="M351 279l-11 1 4 2-7 2 9 0-14 1-19 0-14 0 10 1 6 0 10 0 5 0 6 0 14 1-7 0-9 0-1 0-14 0-2 0-3 0 0 0-16 1 21 0 4 0 26 0-8 1-4 0-16 0 0 0-9 0-4 0-1 0-9 1 5 0 8 0 2 0 7 0 15 0 4 0 7 0 3 0-6 1-4 0-1 0-6 0-4 0-3 0-7 0-2 0-1 0 0 0-3 0-7 0-9 0-2 1 15 0 4 0 1 0 1 0 1 0 0 0 3 0 2 0 1 0 0 0 7 0 5 0 6 0-4 1-10 0-5 0-4 0-1 0-3 0-3 0-2 0-1 0-6 0-3 0-1 0-2 0-3 0-14 1 10 0 3 0 5 0 1 0 4 0 3 0 3 0 1 0 1 0 2 0 2 0 0 0 4 0 0 0 2 0 0 0 1 0 4 0 1 0 0 0 1 0 2 0 7 1-5 0-8 0-4 0 0 0-1 0-6 0-1 0-1 0-6 0-1 0 0 0-3 0-1 0-1 0-6 0-8 0-6 0-6 1 9 0 0 0 1 0 1 0 2 0 0 0 7 0 0 0 1 0 2 0 6 0 2 0 2 0 3 0 1 0 3 0 2 0 11 0 2 0 10 0-10 1-9 0 0 0-10 0-2 0-2 0 0 0-1 0 0 0-4 0 0 0-3 0 0 0-3 0-1 0 0 0-3 0-3 0-1 0-1 0-2 0-1 0-9 0 1 1 14 0 1 0 1 0 3 0 0 0 5 0 2 0 2 0 1 0 1 0 1 0 2 0 0 0 1 0 3 0 1 0 0 0 1 0 0 0 2 0 3 0 2 0 1 0 9 0 3 1-4 0-2 0-7 0 0 0-1 0-6 0-1 0-3 0-3 0-1 0 0 0-4 0-1 0-4 0 0 0-1 0-1 0 0 0-2 0-2 0-4 0-1 0-1 0-5 0-3 0-1 1 2 0 1 0 1 0 3 0 0 0 1 0 2 0 0 0 1 0 1 0 2 0 1 0 2 0 0 0 1 0 3 0 1 0 1 0 2 0 0 0 7 0 4 0 2 0 5 0 17 0-10 1-7 0-1 0-7 0-3 0 0 0-1 0 0 0-2 0-2 0 0 0 0 0-1 0 0 0-2 0-1 0-1 0 0 0-7 0-1 0-4 0 0 0-2 0-1 0-3 0-1 0-1 0 0 0-7 0-4 1 0 0 2 0 8 0 0 0 2 0 3 0 1 0 1 0 1 0 0 0 0 0 2 0 1 0 1 0 2 0 0 0 0 0 0 0 1 0 1 0 1 0 2 0 1 0 1 0 1 0 1 0 0 0 1 0 0 0 1 0 2 0 1 0 0 0 6 0 1 0 5 0 1 0 1 0-11 1-2 0 0 0-1 0-3 0-1 0-3 0-2 0-2 0 0 0 0 0-1 0 0 0-3 0-2 0-1 0-1 0 0 0-2 0-2 0-1 0 0 0-1 0-1 0-1 0-2 0-1 0-2 0 0 0 1 1 2 0 1 0 0 0 2 0 3 0 0 0 1 0 1 0 0 0 1 0 1 0 0 0 1 0 2 0 0 0 0 0 1 0 0 0 0 0 0 0 2 0 4 0 0 0 1 0 1 0 36 0 5 1-12 0-18 0-2 0-1 0-3 0-1 0-8 0-1 0 0 0-2 0-2 0 0 0-1 0-1 0 0 0 0 0-4 0-6 0 0 0-3 0-1 0-1 0-2 0 0 0-4 1 3 0 1 0 2 0 1 0 1 0 3 0 1 0 2 0 1 0 0 0 1 0 5 0 2 0 1 0 0 0 2 0 7 0 5 0 6 0 18 1-25 0-3 0-1 0-2 0-2 0-2 0-3 0-1 0-1 0 0 0-3 0-1 0-1 0-1 0 0 0 0 0-3 0-1 0-1 0-1 0-2 0-7 0 0 1 1 0 2 0 1 0 1 0 1 0 0 0 6 0 0 0 2 0 1 0 0 0 2 0 0 0 1 0 7 0 2 0 3 0 6 1-4 0-3 0-3 0-2 0 0 0-3 0-5 0-1 0-1 0-2 0-2 0 0 0-1 0 0 0-2 0-3 0-2 0-2 1 5 0 1 0 6 0 2 0 3 0 3 0 3 0 1 0 1 0 9 0 3 0 3 0-9 1-12 0-3 0-2 0-1 0-1 0 0 0-2 0-8 0-1 1 3 0 4 0 12 0 5 0 15 1-33 0-2 0-5 0 15 1 14 0-21 1-5 0 4 1 15 0"/>
<path class="k13" d="M339 282l-7 2 19 1-14 2-13 0 0 1 2 0 1 0 5 0 1 0 0 0 14 0-11 1-8 0 3 1 2 0 12 0-6 1-18 0-2 0-4 0-10 1 4 0 1 0 0 0 19 0 16 0-21 1 0 0 0 0-12 0-3 0-6 0-5 0-7 1 18 0 1 0 0 0 8 0 0 0 2 0 4 0 18 1-19 0 0 0-1 0-2 0-2 0-2 0 0 0-3 0-1 0-1 0-11 0 0 0-7 1 0 0 14 0 2 0 1 0 5 0 1 0 7 0 10 1-4 0-12 0-1 0-8 0-3 0-1 0-5 0-1 0-2 0-2 0-12 1 13 0 12 0 0 0 2 0 3 0 1 0 2 0-6 1-5 0 0 0-7 0 0 0-1 0-8 0-2 1 5 0 0 0 4 0 3 0 1 0 5 0 8 0 11 0-12 1-6 0-2 0 0 0-1 0 0 0-1 0 0 0-1 0-1 0-8 0-2 0 0 0 0 0-2 0-2 0-9 1 7 0 6 0 0 0 1 0 3 0 6 0 4 0 1 0 8 0 1 0-11 1-5 0-2 0 0 0-1 0-1 0-2 0 0 0-4 0-1 0-4 0-1 0-4 0-3 1 1 0 1 0 4 0 0 0 1 0 0 0 1 0 2 0 1 0 3 0 0 0 0 0 2 0 0 0 0 0 1 0 2 0 1 0 2 0 1 0 0 0 8 0-7 1-2 0-3 0-2 0-4 0-6 0-3 0-4 0 3 1 0 0 3 0 2 0 2 0 0 0 4 0 1 0 0 0 3 0 1 0 0 1-4 0-14 0-2 0 2 1 1 0 1 0 7 0 1 0 3 0 1 0-4 1 0 0-5 0-1 0-4 0-4 0-4 1 3 0 12 0 1 1-5 1 1 0"/>
</g>
<rect x="224.8" y="191.2" width="128.2" height="128.4" fill="none" stroke="#222" stroke-width="1.1"/>
<path d="M224.8 314.6h-1.2M229.8 319.6v1.2M224.8 309.6h-1.2M234.8 319.6v1.2M224.8 304.6h-1.2M239.8 319.6v1.2M224.8 299.5h-1.2M244.8 319.6v1.2M224.8 294.5h-1.2M249.8 319.6v1.2M224.8 289.5h-1.2M254.8 319.6v1.2M224.8 284.5h-1.2M259.9 319.6v1.2M224.8 279.5h-1.2M264.9 319.6v1.2M224.8 274.5h-1.2M269.9 319.6v1.2M224.8 269.4h-1.2M274.9 319.6v1.2M224.8 264.4h-1.2M279.9 319.6v1.2M224.8 259.4h-1.2M284.9 319.6v1.2M224.8 254.4h-1.2M289.9 319.6v1.2M224.8 249.4h-1.2M294.9 319.6v1.2M224.8 244.4h-1.2M299.9 319.6v1.2M224.8 239.4h-1.2M304.9 319.6v1.2M224.8 234.3h-1.2M309.9 319.6v1.2M224.8 229.3h-1.2M314.9 319.6v1.2M224.8 224.3h-1.2M319.9 319.6v1.2M224.8 219.3h-1.2M325.0 319.6v1.2M224.8 214.3h-1.2M330.0 319.6v1.2M224.8 209.3h-1.2M335.0 319.6v1.2M224.8 204.2h-1.2M340.0 319.6v1.2M224.8 199.2h-1.2M345.0 319.6v1.2M224.8 194.2h-1.2M350.0 319.6v1.2" stroke="#222" stroke-width="1.1"/>
<text transform="translate(222.6 205.8) rotate(-90)" font-family="Liberation Sans" font-weight="bold" font-size="5.6" fill="#333">1023</text>
<text transform="translate(216.0 259.2) rotate(-90)" font-family="Liberation Sans" font-weight="bold" font-size="5.6" fill="#444">SS</text>
<text x="218.4" y="321.6" font-family="Liberation Sans" font-weight="bold" font-size="5.6" fill="#333">0</text>
<text x="223.3" y="325.8" font-family="Liberation Sans" font-weight="bold" font-size="5.6" fill="#333">0</text>
<text x="285.1" y="332.6" font-family="Liberation Sans" font-weight="bold" font-size="5.6" fill="#444">FS</text>
<text x="353.2" y="326.8" font-family="Liberation Sans" font-weight="bold" font-size="5.6" fill="#333" text-anchor="end">1023</text>
<text x="349.7" y="213.4" font-family="Liberation Serif" stroke="#000" stroke-width="0.32" font-size="17.5" text-anchor="end">21%</text>
<text x="241.5" y="355.6" font-family="Liberation Serif" stroke="#000" stroke-width="0.32" font-size="17" textLength="90.0" lengthAdjust="spacingAndGlyphs">100μM 5-HT</text>
<g filter="url(#bl)">
<path class="k0" d="M506 196l-53 2 25 7-43 0-3 0-1 2 36 2 4 1-27 1 41 2-30 2 48 6-42 0 10 4-16 1 8 0-27 8 39 5-33 1 3 19-27 2-32 1 55 0 46 4-56 3 65 8-36 3-70 1 21 2 65 6-7 4 12 2-29 4-44 4 87 6-30 0-24 4-10 2-18 0 9 3"/>
<path class="k9" d="M431 207l7 14-9 5-3 7-28 0 56 1-40 1 6 1-7 2 35 1-29 0 15 1 28 0-34 2 1 0 1 0 2 0 11 1-23 0-13 2 17 1 7 0 8 0 20 0-45 2 24 0 3 0 3 0 11 0 6 0 10 1-9 0 0 0-10 0-10 0-12 1 17 0 3 1-23 0-8 0-11 0 29 1 1 0 1 0 1 0 8 0 6 1-9 0-23 0-11 0-7 0-2 1 38 0 9 0 26 0-10 1-18 0-14 0-4 0-4 0-7 0 0 0-3 0-3 0 0 1 3 0 0 0 3 0 4 0 19 0 1 1-3 0-1 0-7 0-18 0-1 0-9 1 10 0 10 0 15 0 1 0 2 0 21 0-15 1-5 0-11 0-13 0-1 0-1 0-6 0-8 1 17 0 2 0 17 0 8 1-2 0-7 0-1 0-5 0-11 0-5 0 0 0-4 0-2 1 3 0 27 0 12 0 14 0-19 1-32 0-12 0 0 0-13 1 9 0 19 0 5 0 1 0 9 0 13 0 2 0 12 1-9 0-3 0-5 0-7 0-2 0-37 0-2 0 11 1 1 0 7 0 1 0 16 0 13 0-13 1-6 0 0 0-24 0-6 0 7 1 3 0 6 0 0 0 0 0 19 0 0 0 1 0 1 0 5 0 4 0 5 0 24 1-36 0-3 0-8 0-1 0 0 0-23 0-6 1 6 0 0 0 0 0 3 0 3 0 9 0 1 0 6 0 1 0 1 0 18 0 8 0 9 1-5 0-3 0-33 0 0 0-22 0-1 1 11 0 1 0 8 0 1 0 3 0 10 0 7 0 3 0 7 0-9 1-8 0-4 0-4 0-2 0-5 0-9 0 3 1 6 0 10 0 9 0 7 0 25 1-18 0-13 0-1 0-5 0-11 0-13 0-6 1 14 0 0 0 12 0 3 0 2 0 7 0 3 0 2 0 16 1-8 0-24 0-2 0-2 0-1 0-5 0-5 0-4 0 0 0-5 0-1 1 1 0 6 0 7 0 6 0 2 0 2 0 5 0 2 0 7 0 6 0 6 0-34 1 0 0-3 0 0 0-2 0-11 0-2 0-3 1 6 0 10 0 2 0 1 0 2 0 4 0 1 0 10 0 4 0 7 0 0 0 10 0 9 1-30 0-4 0-5 0-1 0-3 0-1 0-3 0-20 1 6 0 0 0 11 0 8 0 7 0 4 0 12 0 3 0-5 1-8 0-4 0 0 0-9 0-22 0-2 1 25 0 14 0 2 0 9 0 0 1-21 0-3 0-1 0-2 0-16 0-1 0-7 0 2 1 1 0 5 0 1 0 13 0 7 0 4 0-1 1-2 0-7 0-3 0-1 0-3 0-4 0 0 0 0 0-1 0-2 0-3 0 0 1 13 0 1 0 20 0 29 0 3 1-16 0-30 0 0 0-3 0-1 0-6 0-8 0-2 0-1 0-1 1 7 0 3 0 9 0 1 0 1 0 6 0 3 0 1 0 4 0 3 0 1 0 0 0 2 0-3 1-7 0-2 0-9 0-3 0-1 0-9 0-4 0-5 0-4 0 3 1 4 0 4 0 2 0 2 0 4 0 5 0 4 0 0 0 8 0 0 0 1 0 20 1-10 0-4 0-8 0-4 0-4 0-4 0-11 0-2 0-3 0-6 0-1 0 12 1 4 0 13 0-8 1-5 0-1 0-1 0 0 0-1 0-5 0-4 0 2 1 3 0 0 0 8 0 11 0 1 0 4 0 12 1-10 0-13 0-9 0-3 0-3 0-4 1 3 0 2 0 8 0 4 0 5 0 3 0 1 0 2 0 2 0 3 0 10 0-1 1-19 0 0 0-3 0-14 0-6 1 6 0 15 0 4 0 6 0 7 0 2 0 9 0 2 0 16 1-27 0-21 0-4 0-12 0-3 0 29 1 43 0-7 1-32 0-3 0-5 0-1 0-18 0-9 1 6 0 3 0 10 0 2 0 17 0 27 0-21 1-10 0-11 0-5 0-1 0-7 0-2 0 5 1 4 0 2 0 3 0 27 1-19 0-3 0-2 0-10 0-6 0-6 0-2 0 2 1 2 0 3 0 0 0 1 0 25 0-10 1-12 0-5 1 2 0 20 0 14 1-9 0-7 0-18 0-8 0 22 1 2 0 12 0 2 0 3 0-7 1-26 1 2 0 2 0 1 0 22 0-26 2 10 0 4 0 15 1-27 0-6 1 1 0 5 0 0 0 1 0-8 1"/>
<path class="k10" d="M442 236l-21 1 4 7 36 0-22 2 4 4 11 0 1 1-13 2-8 0-4 0 5 1 18 1-10 0-4 0-7 0-8 0-3 0-3 1 7 0 16 0 0 0-8 1-7 0-12 0 19 1 14 1-27 0-1 1 6 0 0 0 8 0 8 0 5 0-2 1-4 0-3 0-19 0-7 1 6 0 2 0 2 0 2 0 15 0 6 0-3 1-8 0-12 0-9 0-5 0 7 1 9 0 5 0 4 0 15 0-7 1-8 0-3 0-2 0-33 0 11 1 4 0 1 0 38 1-9 0-11 0-1 0-4 0-1 0 0 0-18 1 6 0 5 0 0 0 1 0 13 0 1 0 13 1-21 0-1 0-2 0-10 0-6 0-7 1 4 0 7 0 11 0 5 0 19 0-15 1-7 0-11 0-11 0 18 1 0 0 10 0 1 0 3 0 22 0 0 1-6 0-16 0-3 0-2 0-1 0 0 0-2 0-3 0 0 0-2 0-15 0 4 1 8 0 5 0 1 0 10 0 2 0 1 1-11 0-7 0-5 0-15 1 14 0 18 0 22 0-24 1-2 0-5 0-2 0-3 0-7 0-1 0-9 1 12 0 9 0 2 0 0 0 4 0 4 0 8 1-11 0-9 0-1 0-3 0-22 1 19 0 3 0 5 0 2 0 5 0 1 0 2 0 12 1-6 0-6 0-2 0-3 0-2 0-5 0-11 0 0 1 1 0 1 0 2 0 1 0 2 0 0 0 1 0 6 0 3 0 8 0 11 0 3 1-1 0-9 0-4 0-4 0-2 0 0 0-4 0-4 0 0 0-6 0 0 0-2 0-8 0-2 0 2 1 2 0 5 0 3 0 3 0 0 0 3 0 5 0 4 0 1 0 11 0 6 1-15 0-9 0-6 0-1 0-2 0-3 0-3 0 0 0-6 0 2 1 4 0 18 0 4 0 0 0 1 1-5 0-1 0-1 0-1 0 0 0-3 0-4 0-2 0-3 0-2 0 0 0-1 0-1 0-9 0 8 1 2 0 1 0 1 0 4 0 6 0 2 0 3 0 2 0 3 0 20 1-10 0-8 0-7 0-3 0-2 0-4 0-8 0-8 1 1 0 2 0 3 0 8 0 0 0 1 0 4 0 6 0 11 0 0 0 1 0 5 1-20 0-1 0-6 0-6 0-2 0-3 0-1 0-7 1 10 0 2 0 4 0 4 0 9 0 11 0 0 1-1 0-3 0-12 0-2 0 0 0-2 0 0 0-8 0-6 0-4 0-1 0 7 1 3 0 4 0 1 0 2 0 3 0 1 0 0 0 2 0 1 0 2 0 12 0-5 1-3 0-1 0-2 0-1 0-3 0-1 0-1 0 0 0-1 0-3 0-1 0-3 0-1 0 0 0-3 0 0 0-1 0-9 0 0 1 5 0 2 0 5 0 3 0 1 0 8 0 0 0 3 0 11 1-10 0-2 0-3 0-6 0-2 0-2 0-2 0 0 0-8 0-2 1 12 0 3 0 2 0 9 0-8 1-2 0 0 0-1 0-1 0-2 0-3 0-1 0-2 0-3 0 3 1 1 0 4 0 2 0 1 0 4 0 8 0 7 0-17 1-3 0-3 0-1 0-10 1 4 0 0 0 6 0 2 0 6 0 1 0 3 0 8 0 2 0-21 1-2 0-6 0-1 0-2 1 0 0 1 0 7 0 3 0 0 0 12 0 6 0 3 0 5 1-12 0-2 0 0 0-3 0-3 0-6 0-8 0 8 1 3 0 3 0 3 0 7 0-10 1-3 0-3 0-11 0 0 1 0 0 10 0 1 0 6 0 13 0-13 1-6 0-11 0 1 1 1 0 10 0 4 0 4 0 16 0-1 1-4 0-21 0-5 0 6 1 14 0-3 1-9 0-7 0 4 1 2 0 18 0 6 0-32 1-1 0-2 0-2 1 8 0 5 0 2 0 9 1-4 0-19 0 13 1 0 0-2 1-1 0-2 0"/>
<path class="k11" d="M438 250l-24 8 6 0 6 0 13 0 8 1-7 1 1 1-16 0 17 1-9 1-14 1 0 0 8 1-3 0-1 0-27 0 25 1 2 0 0 0 7 0 11 0 0 0-6 1-14 0-1 1 1 0 20 0-9 1-8 0 0 0-9 0-1 1 2 0 2 0 1 0 7 0 2 0 3 0-2 1 0 0-4 0-2 0-3 0-4 0-4 1 8 0 2 0 3 0 0 0 1 0 17 0 0 1-13 0-5 0-8 0-1 0-9 1 6 0 2 0 0 0 0 0 1 0 2 0 7 0 3 0 0 0 6 0-9 1-1 0-3 0-2 0 0 0-1 0-2 0-2 0-4 0-1 0-1 0-1 0-5 0 8 1 0 0 1 0 3 0 2 0 2 0 1 0 3 0 4 0 2 0 1 0 0 0 2 0 3 0 3 0 1 1-2 0-5 0-2 0-3 0-5 0-1 0-1 0 0 0-1 0-2 0-4 0 0 0-6 0 0 0 0 1 4 0 0 0 1 0 4 0 0 0 3 0 1 0 1 0 2 0 0 0 3 0 3 0 3 0 0 0-4 1 0 0-3 0-2 0 0 0-2 0 0 0-3 0-4 0 0 0 0 0-5 0-1 0-1 0-3 0-4 0-7 0 20 1 0 0 1 0 1 0 1 0 1 0 0 0 0 0 1 0 1 0 1 0 0 0 3 0 0 0 1 0 1 0 2 0 0 0 1 0 1 0 1 0 1 0 0 0 2 1 0 0-5 0-2 0 0 0 0 0-2 0 0 0-1 0 0 0-1 0-2 0 0 0 0 0 0 0-4 0 0 0 0 0-3 0-1 0 0 0 0 0-1 0 0 0-3 0-1 0-3 0-3 0 9 1 1 0 1 0 0 0 2 0 0 0 0 0 0 0 1 0 1 0 1 0 1 0 0 0 1 0 0 0 0 0 0 0 4 0 2 0 1 0 6 0 3 1-1 0-6 0-1 0-5 0-1 0-4 0 0 0 0 0-1 0 0 0 0 0-1 0-2 0-1 0-1 0-2 0 0 0-1 0 0 0 0 0-5 0-5 0 6 1 3 0 1 0 0 0 3 0 0 0 1 0 0 0 2 0 2 0 0 0 1 0 0 0 1 0 0 0 0 0 0 0 1 0 1 0 2 0 0 0 1 0 0 0 1 0 2 0 0 0 1 0 2 0 2 0 0 0 3 0-5 1-2 0-4 0-1 0 0 0 0 0-1 0-1 0 0 0-1 0 0 0 0 0 0 0 0 0-1 0 0 0-1 0-1 0 0 0-1 0-1 0 0 0 0 0-1 0 0 0-1 0 0 0-1 0-1 0 0 0-1 0 0 0 0 0-3 0 0 0 0 0-4 0-2 0-1 0-2 1 1 0 3 0 1 0 1 0 2 0 0 0 0 0 1 0 0 0 1 0 0 0 0 0 1 0 0 0 2 0 0 0 0 0 1 0 0 0 0 0 1 0 0 0 3 0 1 0 0 0 1 0 1 0 0 0 1 0 1 0 1 0 2 0 0 0 1 0 0 0 1 0 1 0 1 0 0 0 3 0 2 0 1 1 0 0 0 0 0 0-3 0-1 0-2 0-1 0 0 0 0 0-2 0-1 0-2 0-1 0 0 0-1 0 0 0-1 0 0 0-1 0 0 0-2 0-1 0-1 0 0 0-1 0 0 0-1 0-1 0 0 0-1 0 0 0-1 0 0 0 0 0 0 0-1 0-1 0-1 0-2 0 0 0-2 0-2 0 3 1 1 0 0 0 2 0 0 0 1 0 0 0 1 0 0 0 0 0 1 0 1 0 1 0 0 0 0 0 1 0 1 0 0 0 0 0 0 0 1 0 0 0 0 0 0 0 1 0 0 0 1 0 0 0 1 0 0 0 1 0 1 0 1 0 0 0 0 0 1 0 0 0 0 0 2 0 1 0 0 0 0 0 1 0 3 0 2 0 1 0 0 1-1 0-1 0 0 0-1 0-1 0-2 0 0 0-1 0-1 0-1 0-1 0 0 0 0 0 0 0 0 0 0 0 0 0-1 0 0 0-1 0 0 0 0 0 0 0-1 0 0 0 0 0-1 0 0 0 0 0-2 0 0 0-1 0 0 0 0 0 0 0 0 0 0 0-1 0 0 0 0 0-1 0 0 0-1 0 0 0 0 0 0 0-1 0 0 0 0 0-1 0 0 0-1 0 0 0-1 0-1 0 0 0-1 0-1 0-1 0-2 0-1 0 0 0-3 0-4 1 8 0 0 0 0 0 3 0 0 0 0 0 1 0 0 0 1 0 0 0 1 0 0 0 1 0 0 0 0 0 0 0 1 0 1 0 0 0 1 0 1 0 0 0 0 0 0 0 0 0 1 0 0 0 1 0 0 0 0 0 1 0 0 0 1 0 1 0 1 0 0 0 0 0 0 0 1 0 0 0 0 0 1 0 0 0 0 0 1 0 0 0 0 0 0 0 0 0 0 0 2 0 1 0 4 0 0 0 0 0 1 0 3 0 1 1-5 0-4 0 0 0 0 0-1 0 0 0 0 0 0 0-1 0-1 0-1 0-1 0-1 0 0 0 0 0-2 0 0 0 0 0-1 0 0 0 0 0-1 0 0 0 0 0 0 0 0 0 0 0-1 0 0 0 0 0-1 0 0 0-1 0-1 0 0 0-1 0 0 0-1 0 0 0 0 0 0 0-1 0 0 0 0 0-1 0 0 0-1 0 0 0 0 0-5 0-3 0-2 1 3 0 0 0 3 0 0 0 0 0 0 0 3 0 0 0 1 0 0 0 0 0 1 0 0 0 0 0 1 0 0 0 0 0 1 0 0 0 0 0 1 0 1 0 1 0 0 0 0 0 1 0 0 0 0 0 0 0 0 0 1 0 1 0 0 0 0 0 1 0 0 0 0 0 1 0 0 0 0 0 0 0 1 0 0 0 1 0 1 0 0 0 0 0 0 0 0 0 1 0 0 0 0 0 1 0 0 0 0 0 0 0 1 0 0 0 0 0 1 0 1 0 1 0 0 0 1 0 4 0 3 0 0 1-7 0-1 0-1 0 0 0-3 0 0 0-1 0 0 0 0 0-3 0 0 0 0 0 0 0 0 0 0 0-1 0 0 0 0 0-1 0 0 0 0 0 0 0-1 0-1 0 0 0-1 0 0 0 0 0-1 0 0 0 0 0 0 0 0 0 0 0-1 0 0 0-2 0 0 0 0 0-1 0 0 0 0 0 0 0 0 0-1 0 0 0 0 0-1 0 0 0-2 0-1 0 0 0-1 0 0 0 0 0-1 0 0 0-2 0-2 0 0 0 0 1 1 0 1 0 1 0 0 0 1 0 2 0 0 0 0 0 0 0 1 0 0 0 0 0 1 0 0 0 0 0 1 0 1 0 0 0 0 0 1 0 0 0 0 0 0 0 0 0 0 0 1 0 0 0 0 0 1 0 0 0 0 0 0 0 0 0 0 0 0 0 1 0 0 0 0 0 1 0 0 0 0 0 0 0 0 0 1 0 0 0 0 0 0 0 0 0 0 0 0 0 2 0 0 0 1 0 0 0 0 0 1 0 0 0 0 0 0 0 1 0 0 0 0 0 0 0 0 0 1 0 0 0 0 0 1 0 0 0 0 0 0 0 1 0 0 0 0 0 2 0 0 0 0 0 1 0 0 0 1 0 1 0 0 0 1 0 9 1-10 0-1 0 0 0-1 0-1 0 0 0 0 0-1 0-1 0 0 0-2 0 0 0 0 0 0 0-1 0 0 0 0 0-1 0-1 0 0 0-1 0 0 0 0 0 0 0 0 0 0 0-1 0 0 0 0 0 0 0 0 0-1 0 0 0 0 0-1 0 0 0-1 0 0 0-2 0 0 0-3 0 0 0 0 0-1 0 0 0-1 0 0 0-1 0 0 0 0 0 0 0-1 0-1 0 0 0-3 0-1 0-3 0 0 0-1 1 2 0 1 0 2 0 1 0 2 0 0 0 0 0 1 0 0 0 1 0 1 0 0 0 0 0 0 0 1 0 0 0 0 0 0 0 1 0 0 0 0 0 1 0 0 0 0 0 1 0 0 0 0 0 0 0 1 0 0 0 1 0 0 0 0 0 0 0 0 0 0 0 1 0 0 0 0 0 0 0 0 0 0 0 0 0 1 0 0 0 0 0 0 0 1 0 0 0 1 0 0 0 0 0 0 0 1 0 0 0 0 0 0 0 1 0 0 0 1 0 0 0 0 0 1 0 0 0 0 0 1 0 0 0 0 0 1 0 5 0 2 0 2 0 3 1-5 0-1 0 0 0-4 0 0 0 0 0-1 0-1 0 0 0 0 0-1 0 0 0-1 0 0 0 0 0 0 0 0 0-1 0 0 0-1 0 0 0 0 0 0 0-1 0 0 0 0 0-1 0 0 0 0 0-1 0 0 0 0 0 0 0 0 0-1 0 0 0 0 0 0 0 0 0 0 0 0 0-1 0 0 0-1 0 0 0 0 0 0 0 0 0-1 0 0 0 0 0 0 0-1 0 0 0 0 0 0 0 0 0-1 0 0 0 0 0 0 0-1 0 0 0 0 0-1 0 0 0 0 0 0 0 0 0 0 0-1 0 0 0 0 0 0 0-1 0 0 0 0 0-1 0 0 0-1 0 0 0-1 0-1 0 0 0-1 0-3 0-2 0 0 0 4 1 1 0 0 0 2 0 1 0 0 0 1 0 0 0 0 0 0 0 1 0 0 0 1 0 0 0 0 0 0 0 1 0 0 0 1 0 0 0 0 0 0 0 1 0 0 0 1 0 0 0 0 0 1 0 0 0 0 0 0 0 1 0 0 0 0 0 0 0 0 0 1 0 0 0 0 0 0 0 0 0 0 0 1 0 0 0 0 0 0 0 0 0 1 0 0 0 0 0 1 0 0 0 0 0 0 0 0 0 1 0 0 0 0 0 0 0 0 0 1 0 0 0 0 0 0 0 1 0 1 0 0 0 0 0 1 0 0 0 0 0 2 0 0 0 0 0 1 0 1 0 3 0 0 0 0 0 0 1-3 0 0 0-1 0-1 0 0 0 0 0 0 0-1 0-1 0 0 0 0 0-1 0 0 0-1 0 0 0-1 0 0 0 0 0-1 0 0 0 0 0 0 0 0 0 0 0-1 0 0 0-1 0-1 0-1 0 0 0 0 0 0 0-1 0 0 0 0 0 0 0 0 0 0 0 0 0 0 0-1 0 0 0 0 0 0 0 0 0-1 0 0 0 0 0 0 0 0 0 0 0-1 0 0 0 0 0 0 0 0 0-1 0-1 0 0 0-1 0 0 0 0 0 0 0 0 0 0 0-1 0 0 0 0 0-1 0 0 0 0 0-1 0-1 0 0 0 0 0-2 0 0 0-1 0 0 0-1 0 0 0-1 0-1 0-1 0 0 0 0 1 0 0 1 0 0 0 2 0 0 0 0 0 1 0 0 0 1 0 1 0 2 0 0 0 1 0 0 0 1 0 0 0 0 0 0 0 0 0 2 0 1 0 0 0 1 0 0 0 0 0 0 0 0 0 2 0 0 0 0 0 1 0 0 0 0 0 1 0 0 0 1 0 0 0 0 0 0 0 0 0 0 0 1 0 0 0 0 0 1 0 0 0 0 0 2 0 1 0 1 0 0 0 1 0 3 0 1 0-2 1 0 0-2 0-1 0 0 0-1 0 0 0-1 0 0 0 0 0 0 0 0 0-1 0 0 0-1 0-1 0 0 0 0 0-2 0 0 0 0 0-1 0-1 0 0 0 0 0 0 0 0 0 0 0 0 0-1 0 0 0 0 0 0 0-1 0-2 0 0 0 0 0 0 0-1 0 0 0-1 0-1 0 0 0-1 0-1 0 0 0-1 0 0 0 0 0 0 0 0 0 0 0 0 0-2 0-1 0-2 0 0 0 1 1 2 0 0 0 0 0 1 0 0 0 0 0 0 0 0 0 1 0 0 0 0 0 0 0 2 0 0 0 1 0 0 0 1 0 0 0 1 0 1 0 0 0 1 0 0 0 1 0 0 0 0 0 1 0 0 0 0 0 1 0 0 0 1 0 0 0 1 0 0 0 1 0 0 0 1 0 1 0 0 0 1 0 1 0 1 0 1 0 5 0 2 0 5 0-7 1 0 0-3 0-1 0 0 0-1 0-1 0 0 0-2 0-1 0 0 0-1 0 0 0-2 0 0 0 0 0 0 0-1 0 0 0 0 0 0 0 0 0 0 0 0 0 0 0-1 0 0 0 0 0 0 0 0 0 0 0 0 0 0 0-1 0 0 0-1 0-1 0 0 0 0 0-1 0 0 0 0 0 0 0-1 0 0 0 0 0-1 0 0 0 0 0-1 0 0 0-1 0-1 0 0 0-1 0-2 0 0 0-1 0-2 0-1 0 1 1 1 0 0 0 0 0 0 0 0 0 2 0 2 0 0 0 1 0 1 0 0 0 0 0 1 0 0 0 2 0 0 0 0 0 0 0 1 0 0 0 1 0 0 0 0 0 1 0 0 0 1 0 1 0 0 0 0 0 0 0 1 0 0 0 2 0 0 0 1 0 0 0 2 0 0 0 0 0 1 0 0 0 1 0 0 0 1 0 4 0 3 1-1 0-6 0-1 0-1 0-1 0 0 0 0 0-1 0 0 0 0 0 0 0 0 0 0 0-2 0 0 0-1 0 0 0-1 0 0 0-1 0 0 0 0 0 0 0 0 0-1 0 0 0 0 0-1 0 0 0 0 0-1 0-1 0 0 0 0 0 0 0 0 0 0 0 0 0-1 0 0 0 0 0 0 0 0 0 0 0 0 0 0 0-1 0 0 0 0 0 0 0-1 0 0 0 0 0 0 0 0 0 0 0 0 0-1 0 0 0 0 0 0 0-1 0 0 0-1 0-1 0 0 0-1 0-1 0 0 0-1 0-1 0 0 0-1 0 0 0 3 1 0 0 2 0 0 0 0 0 0 0 1 0 1 0 0 0 1 0 0 0 1 0 0 0 0 0 0 0 0 0 1 0 0 0 0 0 0 0 1 0 1 0 0 0 0 0 0 0 1 0 0 0 0 0 1 0 0 0 1 0 0 0 0 0 1 0 0 0 1 0 0 0 0 0 1 0 2 0 0 0 1 0 1 0 1 0 1 0 2 0 1 0 2 0 0 0 6 0 7 1-7 0-8 0 0 0-1 0-1 0-1 0-1 0-1 0-1 0-1 0-1 0 0 0-1 0 0 0 0 0-1 0 0 0-1 0-1 0 0 0 0 0 0 0-1 0-1 0 0 0 0 0-1 0 0 0 0 0 0 0-1 0 0 0 0 0-1 0 0 0-1 0-1 0 0 0-1 0 0 0-1 0 0 0 0 0 0 0-1 0 0 0 0 0-2 0-1 0 0 0-1 0-1 0 0 0 0 1 0 0 1 0 1 0 0 0 1 0 0 0 0 0 0 0 0 0 0 0 2 0 0 0 1 0 1 0 0 0 0 0 0 0 0 0 1 0 0 0 1 0 1 0 0 0 0 0 0 0 1 0 0 0 0 0 0 0 0 0 1 0 0 0 0 0 0 0 1 0 0 0 0 0 0 0 0 0 0 0 0 0 0 0 0 0 1 0 0 0 1 0 0 0 0 0 1 0 0 0 0 0 0 0 0 0 1 0 0 0 0 0 1 0 0 0 0 0 2 0 0 0 2 0 1 0 1 0 2 0 7 0-7 1-5 0-1 0-2 0-1 0 0 0 0 0 0 0 0 0-1 0-2 0 0 0-1 0-1 0 0 0 0 0 0 0 0 0-1 0-1 0 0 0 0 0-1 0 0 0 0 0-1 0 0 0-1 0 0 0-1 0 0 0 0 0 0 0 0 0-1 0 0 0 0 0 0 0-1 0 0 0-1 0 0 0 0 0-1 0 0 0-1 0 0 0-1 0 0 0 2 1 0 0 1 0 0 0 0 0 0 0 3 0 0 0 1 0 0 0 0 0 1 0 0 0 1 0 0 0 0 0 0 0 0 0 1 0 0 0 0 0 0 0 0 0 0 0 0 0 1 0 1 0 0 0 1 0 0 0 0 0 0 0 1 0 0 0 1 0 0 0 0 0 0 0 0 0 0 0 1 0 0 0 0 0 2 0 0 0 1 0 2 0 1 0 0 1-2 0-1 0 0 0-1 0 0 0 0 0 0 0-1 0-1 0-1 0-1 0-1 0-1 0 0 0-1 0 0 0 0 0 0 0-1 0 0 0-1 0 0 0 0 0 0 0 0 0-2 0 0 0-1 0-3 0 0 0 0 0-1 0-1 0 0 0 0 0-1 0 0 1 0 0 2 0 1 0 0 0 2 0 0 0 0 0 0 0 1 0 0 0 0 0 0 0 1 0 1 0 1 0 0 0 0 0 0 0 0 0 1 0 0 0 0 0 0 0 1 0 0 0 1 0 0 0 1 0 1 0 0 0 0 0 0 0 1 0 0 0 0 0 2 0 1 0 1 0 2 0 3 0 1 1-4 0-2 0-2 0-1 0-1 0 0 0-1 0 0 0-1 0 0 0-1 0-1 0 0 0 0 0-1 0 0 0 0 0-1 0-1 0 0 0 0 0 0 0 0 0-1 0 0 0-2 0 0 0 0 0-1 0 0 0-1 0 0 0-1 0 0 0-1 0-1 0 0 1 2 0 0 0 2 0 1 0 1 0 0 0 0 0 1 0 1 0 0 0 0 0 0 0 1 0 2 0 3 0 1 0 1 0 1 0 5 1-1 0-5 0 0 0-3 0 0 0 0 0-2 0-1 0-1 0 0 0-1 0 0 0-1 0-1 0 0 0 0 0 0 0 0 0 0 0-2 0 0 0-1 0-1 0 0 0 0 0-2 0 0 0 0 0 1 1 0 0 0 0 1 0 3 0 1 0 0 0 0 0 1 0 0 0 0 0 0 0 1 0 1 0 0 0 1 0 0 0 2 0 0 0 0 0 0 0 1 0 5 0-4 1-1 0-2 0-1 0 0 0-1 0-2 0-1 0-1 0 0 0-1 0-1 0-1 0-1 0 0 0-1 0 0 0-1 0 0 1 2 0 0 0 0 0 0 0 0 0 1 0 1 0 0 0 0 0 0 0 1 0 0 0 0 0 0 0 1 0 1 0 0 0 1 0 1 0 2 0 2 0 1 0 1 0 1 0 3 0 2 1-3 0-2 0-2 0-3 0-3 0-4 0-2 0"/>
<path class="k4" d="M465 263l7 1-14 2-7 5 19 5-27 1 19 1-11 2 3 1-9 0-15 1 12 1-4 0-6 0-5 1 7 0 24 1-15 0-1 0-11 0-8 1 10 0 3 0 39 0-29 1-11 0 0 1 6 0 16 1-4 0-15 0-1 0-6 0-1 0 2 1 5 0 2 0 6 1-3 0-10 0-8 0 1 1 4 0 1 0 10 0 2 0 6 0-10 1-12 0-6 1 7 0 15 0 7 0-9 1-4 0 0 0-6 0-6 0 8 1 1 0 1 0 14 0 2 1-1 0-8 0-3 0-3 0-8 0-3 0-1 0-4 1 2 0 2 0 2 0 2 0 0 0 9 1-4 0-3 0-5 0-2 1 2 0 3 0 5 0 0 0 4 0 0 0 5 0 1 1-8 0-4 0-2 0-1 0-5 0-1 0 0 1 3 0 0 0 14 1-1 0-8 0-3 0-5 0-3 1 0 0 1 0 2 0 4 0 3 0 4 0 7 1-13 0-8 0-3 1 0 0 2 0 1 0 4 0-2 1 0 3"/>
<path class="k14" d="M500 249l-43 14 4 7 28 1-32 1 24 0-28 3-1 2-9 1 6 0 6 0-7 1-6 0 27 1-10 1-5 0-17 1 12 0 5 1-10 0-3 1 9 0-8 1-6 1 3 0 2 0 3 0 6 0 2 0 2 0-5 1-6 0-3 0-2 0-3 1 2 0 2 0 3 0 2 0 1 0 6 0-20 1 1 1 1 0 8 0 8 0 4 0 10 1-16 0-2 0-8 0-11 0 4 1 3 0 1 0 1 0 2 0 1 0 5 0 9 0 1 1-8 0-1 0 0 0-3 0-3 0-3 0-5 1 4 0 11 0 1 0-2 1-9 0-1 0-2 0 0 0-1 0 0 0-5 0-2 0-8 1 8 0 3 0 0 0 0 0 1 0 4 0 2 0 0 0 0 0 9 0 1 0 3 0 5 1-5 0-6 0 0 0-5 0 0 0-1 0-1 0 0 0-1 0-2 0 0 0-2 0 0 0-4 0-4 1 1 0 3 0 2 0 5 0 0 0 0 0 2 0 2 1-2 0-2 0-5 0-2 0 0 0-1 0-3 0-1 0 0 1 1 0 2 0 2 0 0 0 2 0 1 0 1 0 3 0 3 0-2 1-1 0-2 0 0 0-2 0-1 0 0 0-1 0-1 0 0 0-1 0-3 0 0 0 0 0-5 1 1 0 4 0 1 0 1 0 3 0 1 0 1 0 1 0 2 0 1 0 0 0 2 0 1 1-1 0-1 0-3 0-3 0 0 0 0 0-1 0 0 0-1 0 0 0-6 0-2 0-1 1 2 0 1 0 1 0 2 0 1 0 2 0 1 0 0 0 0 0 2 0 6 0 2 0 5 1-13 0-1 0-3 0-1 0-2 0-1 0-7 0 0 1 2 0 2 0 1 0 1 0 0 0 0 0 1 0 3 0 1 0 0 0 1 0 1 0-2 1-1 0-5 1 3 0 11 0-14 1 0 0-1 0-1 0-1 0-1 1"/>
<path class="k15" d="M405 209l-4 2-4 1 3 0-3 1 5 1 7 0-4 2 7 0-5 1 5 4-13 0-6 0 18 1-15 2 11 1-14 1 5 0-1 1 3 1 5 1-1 1-9 2 4 0 9 1-1 0-5 0 3 2 13 2-15 0-3 0-10 0-1 0 20 1-3 1-4 0-8 1 2 2 3 0 11 0 1 1-3 0-4 0-2 2-2 1 6 3 2 1 11 0 0 1-9 1-14 2 26 2-9 5-15 2 6 1 2 6-7 4 9 1 1 3-1 40"/>
</g>
<rect x="382.2" y="191.4" width="128.0" height="128.8" fill="none" stroke="#222" stroke-width="1.1"/>
<path d="M382.2 315.2h-1.2M387.2 320.2v1.2M382.2 310.1h-1.2M392.2 320.2v1.2M382.2 305.1h-1.2M397.2 320.2v1.2M382.2 300.1h-1.2M402.2 320.2v1.2M382.2 295.0h-1.2M407.2 320.2v1.2M382.2 290.0h-1.2M412.2 320.2v1.2M382.2 285.0h-1.2M417.2 320.2v1.2M382.2 279.9h-1.2M422.2 320.2v1.2M382.2 274.9h-1.2M427.2 320.2v1.2M382.2 269.9h-1.2M432.2 320.2v1.2M382.2 264.9h-1.2M437.2 320.2v1.2M382.2 259.8h-1.2M442.2 320.2v1.2M382.2 254.8h-1.2M447.2 320.2v1.2M382.2 249.8h-1.2M452.2 320.2v1.2M382.2 244.7h-1.2M457.2 320.2v1.2M382.2 239.7h-1.2M462.2 320.2v1.2M382.2 234.7h-1.2M467.2 320.2v1.2M382.2 229.6h-1.2M472.2 320.2v1.2M382.2 224.6h-1.2M477.2 320.2v1.2M382.2 219.6h-1.2M482.2 320.2v1.2M382.2 214.5h-1.2M487.2 320.2v1.2M382.2 209.5h-1.2M492.2 320.2v1.2M382.2 204.5h-1.2M497.2 320.2v1.2M382.2 199.4h-1.2M502.2 320.2v1.2M382.2 194.4h-1.2M507.2 320.2v1.2" stroke="#222" stroke-width="1.1"/>
<text transform="translate(380.0 206.0) rotate(-90)" font-family="Liberation Sans" font-weight="bold" font-size="5.6" fill="#333">1023</text>
<text transform="translate(373.4 259.6) rotate(-90)" font-family="Liberation Sans" font-weight="bold" font-size="5.6" fill="#444">SS</text>
<text x="375.8" y="322.2" font-family="Liberation Sans" font-weight="bold" font-size="5.6" fill="#333">0</text>
<text x="380.7" y="326.4" font-family="Liberation Sans" font-weight="bold" font-size="5.6" fill="#333">0</text>
<text x="442.4" y="333.2" font-family="Liberation Sans" font-weight="bold" font-size="5.6" fill="#444">FS</text>
<text x="510.4" y="327.4" font-family="Liberation Sans" font-weight="bold" font-size="5.6" fill="#333" text-anchor="end">1023</text>
<text x="504.9" y="214.0" font-family="Liberation Serif" stroke="#000" stroke-width="0.32" font-size="17.5" text-anchor="end">17%</text>
<text x="401.1" y="356.2" font-family="Liberation Serif" stroke="#000" stroke-width="0.32" font-size="17" textLength="90.0" lengthAdjust="spacingAndGlyphs">150μM 5-HT</text>
<g filter="url(#bl)">
<path class="k16" d="M110 463l-11 0-3 1 20 0-21 1-10 0 18 1 1 0 11 0-39 2 6 0 13 1-1 0-7 0-1 0-5 0-5 0-6 2 11 1 2 0 33 1-31 1 16 0-4 1-13 0 32 1-5 1-1 0-10 1 13 1-25 1-10 1 3 1 10 0 7 0 7 0 3 1-26 0-2 0 19 1 7 0 7 1-20 1 5 0 0 0-1 1-1 0-6 1 18 0 3 0-27 1-2 0 21 2 0 0-26 0-6 1 2 0 12 0-7 1 5 1 16 0 13 1-21 0-13 1 9 0-6 2 24 1-2 0-4 1 17 0-4 1-13 0-13 0-13 1 7 0 22 0-20 2 16 0 2 0 7 0-23 1-13 1 16 0 11 0-21 1-3 0 18 1 5 0 8 1-33 1 25 0-1 1-8 0-16 0 15 1 8 0 5 0 17 0-38 1 26 2-5 0-6 0-16 0-10 0 3 1 44 0-11 1-14 0-10 0-9 0"/>
<path class="k17" d="M84 520l3 0 27 1-18 0-27 0 46 2-10 0-10 0 9 1-1 1-5 0-1 0-7 0-16 0 3 1 29 0 0 0 8 0 2 1-25 1 12 0 4 0 11 1-2 0-10 0-2 0-12 0-18 1 34 0-31 2 12 0 4 0 1 0 12 1-9 0 0 0-5 0-12 0 32 1-22 1-12 0 8 1 13 0 5 1-28 0 2 1 10 0 7 0 10 0-16 1-11 1 8 0-8 1-1 1 31 0-8 1-21 1 17 0 22 1-15 0-28 1 7 0 17 1-5 0-2 0-15 0-2 0-3 0 7 1 30 1-21 2 4 1 21 3-34 1 9 0 9 0 4 1-27 0 36 1-32 1-9 0 49 1-41 1 11 2-18 0 35 2-28 0-6 1 6 0 36 0 0 1-22 0-18 0 0 0 36 2-17 0-18 1 6 0 21 0 5 0 6 0 3 0-32 2 4 0 16 0-32 2 12 0 12 0 13 0 2 1-13 0-5 0-14 1 34 0-11 1-15 0 0 1 21 0-20 1-14 1 13 0 3 0 27 0-9 1-31 0-7 1 47 1-19 0-23 1 37 0 1 0-31 2 25 0-16 1-17 1 8 0 7 0 3 0 0 1-7 0"/>
<path class="k18" d="M135 486l-11 8 9 2-11 1 5 1 3 0-3 1-4 3 8 0-6 1 8 2-12 3 6 0 3 3-2 0-6 1 9 0-7 2 1 0 2 0 3 1-1 0 0 1"/>
<path class="k19" d="M74 520l38 1-20 1 18 1-3 0-27 0-2 0 18 1-3 1-16 0 34 1-42 1 4 1 5 0 14 0 8 0-11 1-19 0 25 2-21 0 22 1 6 0-9 1-16 0 7 1 6 0 7 0 6 1-11 0-18 0 0 1 22 0 5 0 2 0 0 0 11 1-17 0-14 0-11 1 12 1-14 0 17 1 3 0 7 0 21 1-6 0-7 0-7 0-22 0 2 1 4 0 2 0 21 0 12 1-15 0-5 0-3 0-3 0 0 0-1 0-1 0-1 0-19 0 33 1-6 1-12 0-3 0-1 0-5 0 17 1 12 0 6 0 7 0 1 1-7 0-2 0-2 0-4 0-8 0-4 0-5 0-17 0 2 1 1 0 6 0 15 0 15 0 3 0 5 1-8 0-13 0-14 0-2 0 0 0-4 0 0 0-5 1 0 0 5 0 12 0 6 0 17 0-1 1-2 0-9 0-3 0-2 0-21 0 2 1 9 0 1 0 2 0 1 0 4 0 3 0 8 0 5 0 0 0 0 0 5 0 3 0 1 0 0 0-6 1-1 0-2 0-7 0 0 0-5 0-9 0-2 0-10 0-5 0 8 1 7 0 1 0 29 0-19 1-9 0-8 0-5 0 0 1 2 0 1 0 18 0 12 0 8 0-6 1-5 0-10 0 0 0-2 0-3 0-5 0 0 1 12 0 2 0 5 0 14 0-19 1 0 0-6 0-5 0-16 1 2 0 5 0 11 0 8 0 1 0 0 0 2 0 18 1-6 0-5 0-2 0-6 0-2 0-8 0-2 0-14 1 11 0 6 0 9 0 2 0 1 0 3 0 13 1-3 0-6 0-7 0-18 0-6 0-5 0-3 0 0 0 13 1 2 0 2 0 4 0 9 0 14 1-9 0-5 0-11 0 0 0-1 0-8 0-7 1 16 0 2 0 23 0 0 0-1 1-19 0-1 0-7 0-15 1 3 0 8 0 18 0 10 1-5 0-6 0 0 0-3 0-11 0-5 1 5 0 1 0 21 0 7 0 0 0 0 0 2 0-20 1-9 0-1 0-7 1 17 0 11 0 2 1-3 0-2 0-8 0-9 0-10 0 1 1 0 0 1 0 4 0 8 0 8 0 13 0-21 1-2 0 10 1 5 0-35 1 31 2-4 0-20 0-7 1 10 0 12 0 3 0 9 0-19 1-8 0 13 1 18 0-3 1-25 1 10 0 14 0 3 0-36 2 46 0-21 1-22 1 8 0 28 1"/>
<path class="k20" d="M99 537l-5 4 5 1-17 1 10 1 11 0 4 1-6 0-9 0 0 0-5 0-1 2-2 1 11 0 17 0 2 0-2 1-14 0-24 0-3 1 0 0 14 0 2 0 0 0 3 0 5 0 0 0 1 0 0 0 2 0 5 0 4 0 8 0-4 1 0 0-17 0-5 0-10 0 0 0-4 0-5 1 9 0 16 0 4 0 5 0 1 0 11 0-13 1-10 0-3 0 0 0-2 0-2 0-2 0-1 0-4 0 0 0-3 0-6 1 12 0 2 0 1 0 4 0 1 0 1 0 3 0 8 0 2 0 2 0 10 0-6 1-6 0-2 0-1 0-2 0-2 0-11 0-1 0 0 0-9 0-1 0-1 0-3 0 1 1 6 0 0 0 2 0 7 0 5 0 0 0 2 0 0 0 4 0 3 0 4 0 2 0 1 0 6 0 0 0 2 1 0 0-7 0-9 0 0 0-3 0-8 0-2 0-1 0-2 0-1 0 0 0-7 0 0 0-2 1 2 0 3 0 2 0 4 0 3 0 11 0 1 0 0 0 1 0 1 0 1 0 12 0 1 1-5 0-1 0-4 0 0 0-1 0-4 0-3 0-4 0 0 0-2 0 0 0-4 0-1 0-4 0-7 0-2 0-3 0 0 0-1 0 0 1 0 0 0 0 2 0 2 0 4 0 1 0 3 0 0 0 2 0 3 0 1 0 0 0 3 0 1 0 0 0 2 0 1 0 1 0 0 0 2 0 7 0 10 0 0 1-2 0-5 0-3 0-2 0-1 0-2 0-3 0-2 0 0 0-6 0-1 0-7 0-1 0 0 0 0 0-3 0-3 0-5 0 1 1 0 0 2 0 1 0 1 0 4 0 2 0 1 0 4 0 1 0 0 0 2 0 0 0 3 0 0 0 0 0 0 0 1 0 0 0 6 0 1 0 0 0 3 0 2 0 4 0 0 0 2 0 1 0 5 0-11 1-1 0-1 0 0 0-1 0-1 0-1 0-1 0-2 0-1 0-1 0-1 0-5 0 0 0 0 0 0 0-1 0-4 0 0 0-9 0-1 0 0 0-2 0-1 1 4 0 5 0 6 0 1 0 2 0 1 0 3 0 0 0 0 0 2 0 1 0 1 0 1 0 4 0 0 0 2 0 9 0-3 1-3 0-1 0-1 0-5 0-2 0-3 0-1 0 0 0-1 0-3 0-3 0-2 0-1 0-3 0-1 0-9 0 0 0-1 0 5 1 0 0 2 0 0 0 3 0 1 0 0 0 0 0 1 0 1 0 2 0 0 0 1 0 0 0 3 0 1 0 2 0 3 0 1 0 3 0 1 0 0 0 7 0 6 0 3 0-6 1-1 0-4 0-3 0-5 0-1 0-1 0 0 0-5 0 0 0-1 0 0 0-1 0 0 0-3 0 0 0-2 0 0 0-2 0-4 0 0 0-1 0-1 0-1 0-6 1 10 0 3 0 2 0 2 0 5 0 4 0 1 0 1 0 2 0 10 1 0 0-1 0-8 0-1 0-12 0-1 0-4 0-1 0-1 0-10 0 0 0-1 1 8 0 4 0 2 0 2 0 2 0 8 0 0 0 13 0 3 0 6 0 0 0 0 1-2 0-2 0-9 0-4 0-2 0-2 0 0 0-3 0-3 0 0 0-3 0 0 0-1 0 0 0-17 1 3 0 2 0 1 0 1 0 4 0 5 0 3 0 7 0 6 0 6 0 3 0 5 0-6 1-4 0-1 0-4 0-4 0-1 0-3 0-3 0-1 0-3 0-5 0-1 0-9 0 1 1 11 0 1 0 4 0 1 0 1 0 6 0 9 0-2 1-5 0-1 0-9 0-3 0-1 0-1 0-3 0-8 0 5 1 3 0 2 0 1 0 5 0 3 0 18 1-29 0-1 0-3 0 6 1 10 0 3 0 4 0 9 0-11 1-4 0-4 0-2 0-5 0-6 0 9 1 20 1-12 0-10 0 13 1-8 2-1 2"/>
<path class="k21" d="M120 520l7 4 21 1-9 0-14 0 2 1 2 1 1 1 1 0 6 0 7 1-16 0-8 2 24 1 3 3-21 0 6 1 3 0-4 1 16 1-7 1-19 0 1 1 20 1 12 2-14 0-1 0-7 0-4 0-5 0 0 1 15 0 6 0 0 0 2 0 1 0-15 2 3 0 5 0 5 0 7 0-22 1-6 0 12 1 3 0 6 1-20 0 22 1 3 0 5 1-26 1 15 0-11 1-5 0-5 0 8 1 18 0-5 1-2 0-7 0-6 0-6 1 27 0-3 1-8 0 0 0 0 0-10 1 5 0 14 0-1 1-6 0-1 0-15 1 17 0 12 3-19 0-3 1 16 1-2 0-14 0-7 0 18 2-18 0-4 1 5 0 10 0 11 1-26 1 3 0 2 0 1 0 20 1-25 1 7 0 11 0 7 1-16 2-7 0-1 0-1 0 25 1-9 1-15 1 1 0 27 1-29 0 4 2 9 2-14 1 17 0 2 3-4 0-12 0 3 1 17 1"/>
<path class="k22" d="M126 523l-2 0 5 4-4 0 3 1 8 1-12 0 0 0-1 1 15 0-15 2 7 0 0 1-2 0 0 0-2 0-4 0 3 1 1 0 6 0 6 1-5 0-1 0-1 0-4 1-1 2 1 0 11 0 2 0-4 1 0 0-2 0 0 0-7 0-1 0-2 0 3 1 13 0-1 1-7 0-2 0-3 0-2 0 0 0-2 1 5 0 17 1-12 0-1 0-3 0-1 0-4 0 0 0 1 1 0 0 4 0 4 0 10 0-9 1-5 0-7 0 8 1 2 0 8 0-1 1-2 0-4 0-1 0-2 0-1 0-4 0-2 0-2 1 8 0 1 0 0 0 0 0 1 0 2 0 2 0-2 1-3 0-1 0-2 0 0 0-6 0 0 0 0 1 4 0 1 0 1 0 1 0 1 0 1 0 0 0 6 0 2 0 2 0-4 1-6 0-3 0 0 0 0 0-1 0-2 0-1 0 2 1 5 0 1 0 1 0 1 0 1 0 0 0 3 1-1 0-3 0-1 0-1 0 0 0 0 0-5 0-6 1 2 0 1 0 1 0 2 0 0 0 1 0 1 0 0 0 1 0 0 0 0 0 3 0 1 0 1 0 1 0 4 1-2 0-7 0-1 0-1 0 0 0 0 0-3 0-3 1 2 0 2 0 1 0 3 0 2 0 1 0 0 0 0 0 2 0 2 0 3 0 4 1-15 0-3 0-1 0-2 1 2 0 0 0 1 0 1 0 0 0 1 0 1 0 1 0 2 0 1 0 0 0 1 0 0 0 2 0 0 0 7 0-6 1-4 0-2 0 0 0-1 0 0 0-1 0-1 0-1 0 0 0 0 0-2 0 0 0 0 0-2 0-1 0-1 0 1 1 1 0 2 0 0 0 2 0 0 0 2 0 1 0 3 0 1 0 2 0-2 1-2 0-1 0 0 0-1 0-2 0-3 0-1 0-1 0 0 0-2 0 1 1 1 0 1 0 6 0 0 0 2 0 9 1-8 0-2 0 0 0-1 0-1 0-2 0-1 0-1 0-2 0-3 1 5 0 0 0 1 0 2 0 3 0 0 0 1 0 2 0-1 1-1 0-1 0-1 0-3 0-1 0-4 0-1 1 2 0 1 0 1 0 0 0 1 0 6 0 12 1-1 0-10 0-2 0 0 0-1 0-5 1 0 0 2 0 0 0 0 0 1 0 2 0 0 0 1 0 0 0 12 0-12 1-1 0 0 0 0 0-9 0-1 1 4 0 4 0 0 0 8 1-3 0-3 0 0 0-1 0 0 0-1 0 0 0-1 0-1 0-2 0 0 0-3 1 2 0 2 0 0 0 1 0 1 0 2 0 2 0 1 0-2 1-1 0 0 0-3 0-3 0 1 1 1 0 1 0 1 0 1 0 2 0 0 0 3 0 0 0 6 0-4 1-5 0-1 0-1 0-5 0 2 1 2 0 2 0 2 0 0 0 1 0 1 0 3 0 0 0 1 0 0 0-3 1-4 0-2 0-7 0 5 1 4 0 3 0 3 1-3 0-2 0-1 0-4 0-3 0 0 1 3 0 1 0 3 0 2 0 0 1-1 0-3 0-2 0-1 0-5 0 3 1 1 0 5 0 5 0-4 1-3 0-3 1 0 0 2 0 4 1 0 2-3 0-1 0-1 0-5 0 4 1 8 0-2 1"/>
<path class="k23" d="M88 457l11 1 10 2 6 1-25 1 4 0 16 1-4 0-1 2-4 2-3 1 6 0-1 1-29 0-5 0 17 1 12 0-19 1-9 1 21 0 1 0 4 0 7 0 1 0 4 0-13 1-1 0-6 0 10 1 2 1-31 0 36 1-28 2 16 0 0 0 12 0 5 0-8 1 0 0-25 0-9 0 1 1 0 0 30 0 14 0-5 1-15 0-23 0 17 1 3 0 6 0 6 0 2 1-19 0-1 0-4 0-9 1 6 0 14 0 13 1-3 0-9 0-15 0-8 0 0 0 0 1 1 0 13 0 7 0 10 0 12 0-11 1-10 0-9 0-8 1 4 0 5 0 0 0 27 0 4 1-11 0-25 0 5 1 1 0 4 0 4 0 10 0 0 0 3 0-11 1-4 0-3 0-4 0-5 0-9 0 0 0 18 1 14 0 3 0-13 1-11 0-11 1 1 0 0 0 2 0 6 0 1 0 10 0 8 0 10 0-10 1-13 0-14 0-1 0-1 0 1 1 0 0 17 0 0 0 6 0 3 0 13 0-19 1-3 0-4 0-1 0-3 0-9 0 0 1 5 0 2 0 15 0-3 1-17 0-2 0 0 0 0 0 0 1 2 0 1 0 20 1-8 0-12 0-3 0-1 0 1 1 24 0 19 1-30 0-13 0-1 0 1 1 20 0-20 1 0 0 0 1 0 0 5 0 8 0 15 0-10 1-8 0-1 0-4 0-3 0-2 1 5 0 15 0 5 0 3 0 7 1-35 0-1 0 29 2-28 0 0 2 19 1-7 1"/>
<path class="k24" d="M93 477l-4 0-10 1 7 0 3 1-1 0-1 0-2 0 9 1 6 0 3 1-8 0-2 0-5 0-1 0-1 0-1 0-2 0-5 0-2 1 1 0 4 0 0 0 0 0 2 0 0 0 1 0 2 0 6 0 3 1-1 0-3 0 0 0-2 0-4 0 0 0 0 0-4 0 0 0 0 0-1 0-6 0 0 0-6 1 6 0 0 0 0 0 2 0 1 0 3 0 0 0 0 0 1 0 0 0 1 0 1 0 0 0 0 0 0 0 0 0 1 0 0 0 0 0 1 0 0 0 2 0 0 0 7 0 0 0 2 0 0 1 0 0-3 0 0 0-1 0 0 0-3 0 0 0-1 0-5 0-1 0 0 0-1 0 0 0 0 0 0 0-1 0 0 0-1 0 0 0-1 0-1 0-6 0-2 0 0 1 1 0 2 0 0 0 2 0 1 0 1 0 0 0 0 0 0 0 0 0 1 0 0 0 0 0 0 0 1 0 1 0 0 0 2 0 0 0 0 0 0 0 1 0 2 0 0 0 0 0 0 0 0 0 0 0 0 0 0 0 1 0 0 0 0 0 0 0 0 0 1 0 1 0 0 0 0 0 1 0 0 0 0 0 0 0 1 0 0 0 0 0 2 0 0 0 6 0 1 0 1 0-5 1-2 0-2 0-1 0 0 0 0 0-1 0 0 0 0 0 0 0-1 0-1 0-1 0 0 0 0 0 0 0-1 0 0 0 0 0-1 0 0 0 0 0-1 0-1 0 0 0 0 0-1 0 0 0 0 0 0 0-1 0 0 0 0 0 0 0 0 0 0 0 0 0-1 0 0 0 0 0-1 0 0 0 0 0 0 0 0 0-1 0-1 0-1 0 0 0 0 0-1 0 0 0-1 0-1 0 0 0-1 0-1 0 0 0-1 1 0 0 1 0 0 0 0 0 0 0 2 0 1 0 0 0 1 0 0 0 0 0 0 0 0 0 2 0 0 0 0 0 1 0 0 0 0 0 0 0 0 0 0 0 1 0 0 0 2 0 0 0 0 0 0 0 0 0 1 0 0 0 0 0 0 0 0 0 0 0 0 0 1 0 0 0 0 0 0 0 2 0 1 0 0 0 0 0 0 0 1 0 0 0 0 0 1 0 0 0 0 0 0 0 0 0 0 0 1 0 0 0 0 0 1 0 0 0 0 0 2 0 1 0 0 0 2 0 2 0 0 1-3 0 0 0 0 0-1 0-1 0-1 0-1 0 0 0 0 0 0 0-1 0-1 0 0 0 0 0 0 0-1 0 0 0 0 0 0 0-1 0 0 0 0 0-1 0-1 0 0 0 0 0 0 0 0 0 0 0-1 0 0 0 0 0 0 0 0 0 0 0-1 0 0 0 0 0 0 0 0 0-1 0 0 0 0 0 0 0 0 0 0 0-1 0 0 0 0 0 0 0-1 0 0 0 0 0 0 0 0 0-1 0 0 0-1 0 0 0 0 0 0 0 0 0-1 0 0 0-1 0 0 0 0 0 0 0-1 0 0 0 0 0-1 0 0 0 0 0-2 0 0 0 0 0-1 0 0 1 0 0 0 0 0 0 1 0 0 0 0 0 1 0 0 0 0 0 0 0 1 0 1 0 0 0 0 0 0 0 0 0 1 0 0 0 0 0 1 0 0 0 0 0 0 0 1 0 0 0 0 0 0 0 1 0 0 0 0 0 0 0 0 0 0 0 0 0 0 0 1 0 0 0 0 0 0 0 0 0 0 0 0 0 0 0 1 0 0 0 0 0 0 0 1 0 0 0 1 0 0 0 0 0 0 0 0 0 1 0 0 0 0 0 0 0 0 0 1 0 0 0 0 0 1 0 0 0 0 0 0 0 0 0 0 0 0 0 0 0 0 0 0 0 1 0 0 0 1 0 0 0 0 0 1 0 0 0 0 0 0 0 1 0 1 0 0 0 1 0 0 0 1 0 1 0 2 0 0 0 0 0 0 0 3 0-7 1-1 0 0 0 0 0 0 0-1 0 0 0-1 0 0 0 0 0-1 0 0 0 0 0 0 0 0 0 0 0-1 0 0 0 0 0 0 0-1 0 0 0 0 0 0 0 0 0 0 0 0 0-1 0 0 0 0 0 0 0 0 0 0 0-1 0 0 0 0 0 0 0 0 0-1 0 0 0 0 0 0 0 0 0 0 0-1 0 0 0 0 0 0 0 0 0 0 0 0 0 0 0-1 0 0 0 0 0 0 0 0 0 0 0-1 0 0 0 0 0 0 0 0 0 0 0 0 0-1 0 0 0 0 0 0 0 0 0-1 0 0 0 0 0 0 0 0 0 0 0-1 0 0 0 0 0 0 0 0 0 0 0-1 0 0 0 0 0 0 0 0 0-1 0 0 0 0 0 0 0 0 0-1 0-1 0 0 0-1 0 0 0 0 0 0 0 0 0-1 0 0 0 0 1 0 0 0 0 1 0 0 0 0 0 0 0 0 0 0 0 1 0 0 0 0 0 0 0 0 0 0 0 0 0 0 0 1 0 0 0 0 0 0 0 1 0 0 0 0 0 0 0 1 0 0 0 0 0 0 0 0 0 0 0 0 0 0 0 1 0 0 0 0 0 1 0 0 0 0 0 0 0 0 0 0 0 0 0 1 0 0 0 0 0 1 0 0 0 0 0 0 0 1 0 0 0 0 0 0 0 0 0 0 0 0 0 1 0 0 0 0 0 0 0 0 0 0 0 1 0 0 0 0 0 0 0 0 0 0 0 1 0 0 0 0 0 0 0 0 0 1 0 0 0 0 0 0 0 0 0 0 0 0 0 1 0 0 0 0 0 0 0 0 0 0 0 0 0 0 0 0 0 1 0 0 0 0 0 0 0 0 0 0 0 1 0 0 0 0 0 0 0 0 0 2 0 0 0 0 0 0 0 0 0 1 0 0 0 0 0 1 0 1 0 2 0 1 0 1 0-4 1 0 0 0 0-3 0 0 0-1 0-1 0 0 0 0 0-1 0 0 0-1 0 0 0 0 0 0 0 0 0-1 0 0 0 0 0 0 0 0 0 0 0 0 0-1 0 0 0 0 0 0 0 0 0-1 0 0 0 0 0 0 0 0 0 0 0 0 0 0 0 0 0 0 0-1 0 0 0 0 0 0 0 0 0 0 0-1 0 0 0 0 0 0 0 0 0 0 0-1 0 0 0 0 0 0 0 0 0 0 0 0 0 0 0 0 0-1 0 0 0 0 0 0 0 0 0 0 0 0 0 0 0 0 0-1 0 0 0 0 0 0 0 0 0 0 0 0 0 0 0-1 0 0 0 0 0 0 0-1 0 0 0 0 0 0 0 0 0 0 0 0 0-1 0 0 0 0 0-1 0 0 0-1 0 0 0 0 0 0 0 0 0-1 0 0 0 0 0 0 0 0 0 0 0 0 0 0 0 0 0 0 0-1 0 0 0 0 1 0 0 1 0 0 0 0 0 0 0 0 0 0 0 0 0 0 0 1 0 0 0 0 0 0 0 0 0 1 0 0 0 0 0 1 0 0 0 0 0 0 0 0 0 0 0 0 0 0 0 0 0 0 0 0 0 0 0 1 0 0 0 0 0 0 0 0 0 0 0 0 0 1 0 0 0 0 0 0 0 0 0 1 0 0 0 0 0 0 0 0 0 0 0 1 0 0 0 0 0 0 0 0 0 0 0 0 0 0 0 1 0 0 0 0 0 1 0 0 0 0 0 0 0 0 0 0 0 1 0 0 0 0 0 1 0 0 0 0 0 0 0 1 0 0 0 0 0 0 0 0 0 1 0 0 0 0 0 0 0 1 0 0 0 0 0 1 0 1 0 0 0 0 0 1 0 1 0 0 0 0 0 0 0 1 0 1 0 0 0 1 0 1 0-3 1-1 0 0 0 0 0-1 0 0 0-1 0 0 0-1 0 0 0 0 0-1 0 0 0 0 0 0 0-1 0 0 0 0 0 0 0-1 0 0 0 0 0 0 0 0 0-1 0 0 0 0 0 0 0-1 0 0 0 0 0 0 0 0 0 0 0-1 0 0 0 0 0 0 0 0 0 0 0-1 0 0 0 0 0 0 0 0 0-1 0 0 0 0 0 0 0-1 0 0 0 0 0 0 0 0 0 0 0 0 0 0 0-1 0 0 0 0 0 0 0 0 0-1 0 0 0 0 0 0 0 0 0 0 0-1 0 0 0 0 0 0 0 0 0 0 0-1 0 0 0 0 0 0 0 0 0 0 0 0 0-1 0 0 0 0 0 0 0 0 0 0 0-1 0 0 0 0 0 0 0 0 0 0 0 0 0 0 0 0 0 0 0 0 0 0 0 0 0 0 0-1 0 0 0 0 0 0 1 0 0 0 0 0 0 0 0 1 0 0 0 0 0 0 0 0 0 0 0 0 0 0 0 0 0 0 0 0 0 0 0 0 0 1 0 0 0 0 0 0 0 0 0 0 0 1 0 0 0 1 0 0 0 0 0 0 0 0 0 0 0 0 0 0 0 1 0 0 0 0 0 0 0 0 0 0 0 1 0 0 0 1 0 0 0 0 0 0 0 1 0 0 0 0 0 1 0 0 0 0 0 0 0 0 0 0 0 1 0 0 0 0 0 0 0 0 0 1 0 0 0 1 0 0 0 0 0 1 0 0 0 1 0 1 0 0 0 0 0 0 0 1 0 0 0 1 0 1 0 1 0 0 0 1 0 2 0 1 1 0 0-3 0-1 0-2 0 0 0-2 0 0 0-1 0-1 0 0 0 0 0 0 0 0 0 0 0-1 0 0 0 0 0 0 0-1 0 0 0 0 0 0 0-1 0 0 0 0 0 0 0-1 0 0 0 0 0 0 0 0 0 0 0 0 0-1 0 0 0 0 0-1 0 0 0 0 0 0 0 0 0-1 0 0 0 0 0 0 0 0 0-1 0 0 0 0 0 0 0 0 0-1 0 0 0 0 0 0 0 0 0 0 0 0 0-1 0 0 0 0 0 0 0 0 0 0 0-1 0 0 0 0 0 0 0 0 0 0 0-1 0 0 0 0 0 0 0 0 0 0 0 0 0 0 0 0 0 0 0 0 0 0 0 0 0 0 0 0 0-1 0 0 0 0 0 0 0 0 0 0 0 0 0 0 1 0 0 1 0 0 0 0 0 0 0 0 0 0 0 0 0 0 0 1 0 0 0 0 0 0 0 0 0 0 0 0 0 1 0 0 0 1 0 0 0 0 0 0 0 0 0 0 0 1 0 1 0 0 0 0 0 1 0 0 0 0 0 0 0 0 0 1 0 0 0 0 0 0 0 0 0 1 0 0 0 0 0 0 0 0 0 0 0 1 0 0 0 0 0 0 0 1 0 1 0 2 0 0 0 0 0 0 0 1 0 0 0 0 0 0 0 0 0 2 0 0 1 0 0-1 0 0 0-2 0-1 0 0 0-2 0 0 0 0 0 0 0-1 0 0 0 0 0 0 0 0 0-1 0 0 0-1 0 0 0 0 0 0 0-1 0 0 0-1 0 0 0 0 0-1 0 0 0 0 0-1 0-1 0 0 0 0 0-1 0 0 0 0 0 0 0-1 0 0 0 0 0 0 0 0 0 0 0 0 0 0 0 0 0 0 0 0 0-1 0 0 0 0 0 0 0 0 1 1 0 0 0 0 0 0 0 0 0 0 0 0 0 0 0 0 0 0 0 0 0 0 0 1 0 0 0 1 0 0 0 0 0 0 0 0 0 1 0 0 0 0 0 0 0 0 0 1 0 0 0 0 0 0 0 0 0 0 0 1 0 1 0 0 0 1 0 0 0 1 0 1 0 1 0 0 0 2 0 3 0 0 0 6 0-7 1-1 0-1 0 0 0-1 0 0 0 0 0 0 0-2 0-1 0-2 0 0 0-1 0 0 0 0 0 0 0-1 0 0 0 0 0-2 0 0 0 0 0-1 0 0 0 0 0-1 0 0 0 0 0 0 0 0 0 0 0 0 0 0 0 0 0 0 0 0 0 0 0 0 0 0 0 0 0 0 0-1 0 1 1 0 0 0 0 1 0 0 0 1 0 1 0 0 0 2 0 0 0 1 0 0 0 3 0 2 0 2 1-2 0-1 0-3 0-3 0-2 0 0 0 0 0-2 0 0 0 0 0 0 0 0 0-1 1 0 0 1 0 3 0 2 0 3 0 1 0 5 0-8 1-1 0-2 0 0 0-1 0 0 0-1 0-1 0 0 0 0 0 0 1 0 0 0 0 1 0 0 0 1 0 1 0 7 0-5 1-5 0 0 1 0 1"/>
</g>
<rect x="67.2" y="447.5" width="125.3" height="143.0" fill="none" stroke="#1a1a1a" stroke-width="1.5"/>
<path d="M119.0 445.0V588.5M67.2 518.6H192.5" stroke="#111" stroke-width="1.7"/>
<path d="M67.2 483.2h-1.5M98.5 590.5v1.5M67.2 519.0h-1.5M129.8 590.5v1.5M67.2 554.8h-1.5M161.2 590.5v1.5" stroke="#222" stroke-width="1"/>
<text transform="translate(65.4 585.5) rotate(-90)" font-family="Liberation Sans" font-weight="bold" font-size="6" fill="#222">10<tspan font-size="4" dy="-2">0</tspan></text>
<text transform="translate(65.4 554.8) rotate(-90)" font-family="Liberation Sans" font-weight="bold" font-size="6" fill="#222">10<tspan font-size="4" dy="-2">1</tspan></text>
<text transform="translate(65.4 519.0) rotate(-90)" font-family="Liberation Sans" font-weight="bold" font-size="6" fill="#222">10<tspan font-size="4" dy="-2">2</tspan></text>
<text transform="translate(65.4 483.2) rotate(-90)" font-family="Liberation Sans" font-weight="bold" font-size="6" fill="#222">10<tspan font-size="4" dy="-2">3</tspan></text>
<text transform="translate(65.4 447.5) rotate(-90)" font-family="Liberation Sans" font-weight="bold" font-size="6" fill="#222">10<tspan font-size="4" dy="-2">4</tspan></text>
<text x="67.2" y="597.3" font-family="Liberation Sans" font-weight="bold" font-size="6" fill="#222">10<tspan font-size="4" dy="-2">0</tspan></text>
<text x="98.5" y="597.3" font-family="Liberation Sans" font-weight="bold" font-size="6" fill="#222">10<tspan font-size="4" dy="-2">1</tspan></text>
<text x="129.8" y="597.3" font-family="Liberation Sans" font-weight="bold" font-size="6" fill="#222">10<tspan font-size="4" dy="-2">2</tspan></text>
<text x="161.2" y="597.3" font-family="Liberation Sans" font-weight="bold" font-size="6" fill="#222">10<tspan font-size="4" dy="-2">3</tspan></text>
<text x="192.5" y="597.3" font-family="Liberation Sans" font-weight="bold" font-size="6" fill="#222">10<tspan font-size="4" dy="-2">4</tspan></text>
<text transform="translate(59.0 519.0) rotate(-90)" font-family="Liberation Sans" font-weight="bold" font-size="5.4" fill="#222" text-anchor="middle" textLength="23" lengthAdjust="spacingAndGlyphs">FL1 LOG</text>
<text x="129.8" y="602.5" font-family="Liberation Sans" font-weight="bold" font-size="4.8" fill="#222" text-anchor="middle" textLength="20" lengthAdjust="spacingAndGlyphs">FL3 LOG</text>
<text x="117.9" y="465.8" font-family="Liberation Serif" stroke="#000" stroke-width="0.32" font-size="17.5" text-anchor="end">76%</text>
<text x="110.5" y="539.2" font-family="Liberation Serif" stroke="#000" stroke-width="0.32" font-size="17.5" text-anchor="end">15%</text>
<text x="187.5" y="539.4" font-family="Liberation Serif" stroke="#000" stroke-width="0.32" font-size="17.5" text-anchor="end">9%</text>
<text x="103.1" y="626.5" font-family="Liberation Serif" stroke="#000" stroke-width="0.32" font-size="17" textLength="51.1" lengthAdjust="spacingAndGlyphs">Control</text>
<g filter="url(#bl)">
<path class="k16" d="M231 463l3 1 10 0 9 1 4 1 18 0-41 1-5 0 10 2 29 2-14 0-17 0 1 1 19 0 3 0 14 1-26 0-12 0-12 0 20 1 22 1-12 0-29 0 37 1-10 1-3 0-2 0 0 0-2 0-9 0 12 1 26 0-10 1-8 0-17 1-8 1 3 1 24 0 15 0-22 1-17 0-1 1 7 0 6 0-3 1-6 0-8 0 9 2-5 1 19 0-18 1 22 1 3 0 1 1-10 0-17 0-9 0 32 1 6 0-20 1 9 1 8 0-3 1-31 0 0 1 33 0 6 1-5 0-17 0 19 1 1 0 12 1-18 0-6 0-2 0-3 0-4 0-4 0 20 1 1 0 14 0-38 2 11 0 20 1-38 1 6 0 38 0-29 2 16 0 2 0 11 0-31 1 14 1 8 0-34 1 28 1 4 0-13 1-6 0-5 0-12 0 26 2-10 0 32 2-47 1 13 0 30 0-17 1-12 0-12 0"/>
<path class="k17" d="M250 521l-1 0-19 0 42 2-6 0-2 0-24 0-4 1 31 1-28 0 8 1 17 0-35 2 15 0 9 1-12 1 18 0 2 0-10 1-2 0-14 0 5 1 9 0 5 1-26 1 5 0 7 0 7 0 11 0 12 0-3 1-19 0-13 0 18 1 6 0 8 0-13 2-14 1-7 0-2 0-6 1 3 0 15 0 14 1-31 1 4 0 22 0 16 0 0 0 6 0-2 1-33 0 11 1 5 0 0 1-20 1 10 0 25 1-18 0 6 1-14 1-9 0-6 0 19 1-13 2 31 0-20 1-16 0 28 1 12 1-1 0-3 0-41 0 39 3-29 1-7 0 4 1 3 0-7 1 0 1 8 0 31 0 2 0-7 3-32 1 29 0 6 1-13 0-4 0-8 0-2 0 16 1 18 0-12 1-5 0-16 0 7 1 22 0-39 1 6 1 3 0 26 0 7 0-26 1-17 0 35 2-24 0 24 1 1 0 0 0 2 0-25 1-3 0-4 0 15 2-7 0 26 1-37 2 4 0 17 0 14 0 1 0 5 0-43 1 10 1 3 0 9 0 24 1-7 0-28 1 11 0 10 0 6 1-5 0-21 0 29 1 2 0-19 1-1 0 3 1"/>
<path class="k18" d="M305 467l-21 2 10 7 20 6-16 1-3 0-7 0-8 0 20 1-14 3 11 2-14 2-1 0-4 0 27 1-16 2 0 2 13 0-9 1-2 1 8 0-12 1 4 1-3 1-8 3 2 2 12 1-16 6 2 1 13 3"/>
<path class="k19" d="M255 521l-4 0 8 3-32 3 35 1 12 0-24 1-19 0 21 1 18 0-7 1-11 0-21 1 17 1-7 0-9 1 6 0-6 1 2 1 40 1-16 0-9 0-21 1 8 2 11 0 14 1-23 0-11 0-3 1 47 1-8 0-11 0-3 0-12 0-10 0 9 1 4 0 2 0 4 0 16 0 0 1-10 0-1 0-14 0-2 1 39 0 0 0-22 1-1 0-5 0-2 0 8 1 21 1-7 0-2 0 0 0-27 0-12 0 3 1 4 0 7 0 0 0 3 0 8 0 10 0 3 0 11 1-8 0-10 0-7 0-24 1 1 0 0 0 11 0 0 0 2 0 4 0 9 0 16 0 1 1-8 0-22 0-13 1 8 0 20 0 5 0 4 0 1 0 9 0 1 0-38 1-9 0 11 1 2 0 3 0 7 0 0 0 1 0 3 0 20 0-6 1-3 0-5 0 0 0-4 0-4 0-5 0-2 0-14 1 14 0 16 0 2 0 5 0 0 0 1 0-4 1 0 0-8 0-18 0-3 0-4 0 14 1 2 0 14 1-1 0-1 0-4 0-5 0-9 0-6 0 0 1 3 0 20 0 5 0 5 0-36 1 0 0-5 0-2 1 12 0 3 0 1 0 3 0 4 0 13 0 5 0-12 1-5 1 3 0 7 0 3 0 6 1-18 1 12 0 8 0 1 1-7 0-2 0-32 0-4 0 34 1-18 2 2 0 8 0 8 0-10 1-1 1 18 0-9 1-12 0-13 0-4 0 7 1 3 0 19 0 1 0-1 1-23 1 7 0 17 1 0 0-8 0-13 0-13 0 9 1 7 0 3 0 2 0 18 1-3 0-18 1 3 0 13 0 8 1-19 1 13 0 6 0 4 0-1 1-21 1-21 1 8 1 1 0 0 1 1 1 0 0 22 0"/>
<path class="k25" d="M229 534l10 6 35 2-9 1-12 0-11 0-7 0-7 1 31 0-18 1-3 0-13 0 26 1 17 0-11 1-7 0-1 0-6 0-8 1 1 0 1 0 18 0 1 0 9 0 0 0 0 0 4 0 1 0 2 0-2 1-8 0-4 0-1 0-4 0-8 0-7 0 0 0-7 0-7 0 15 1 3 0 3 0 6 0 0 0 1 0 3 0 0 0 2 0 10 0 1 0 5 0 2 1-3 0-2 0-11 0-6 0 0 0-4 0-8 0-1 0-2 0-3 1 14 0 1 0 2 0 1 0 0 0 1 0 0 0 5 0 13 0 1 0 1 1-3 0 0 0-3 0-1 0 0 0-4 0-8 0-1 0-2 0-1 0 0 0-9 0 0 0-6 0-2 0-1 0-2 0-3 1 6 0 2 0 12 0 1 0 2 0 2 0 1 0 3 0 9 0 7 0 1 1-3 0-2 0-1 0-1 0-4 0-1 0-2 0 0 0-1 0 0 0-3 0-1 0-1 0-3 0 0 0-3 0-1 0-2 0-1 0-3 0-1 0-1 0-3 0-1 0 0 0 0 0-2 0-7 1 3 0 9 0 1 0 0 0 1 0 1 0 0 0 2 0 3 0 0 0 2 0 1 0 1 0 3 0 1 0 4 0 1 0 1 0 2 0 1 0 1 0 6 0 2 0 1 0-2 1-2 0-2 0-2 0-2 0-1 0-1 0-1 0-3 0 0 0 0 0 0 0-1 0 0 0-3 0-1 0-1 0-1 0-3 0-2 0-2 0-2 0-2 0-12 0-2 0 2 1 4 0 5 0 3 0 1 0 2 0 3 0 1 0 1 0 0 0 2 0 1 0 1 0 0 0 0 0 1 0 3 0 1 0 1 0 0 0 0 0 1 0 1 0 0 0 0 0 1 0 2 0 1 0 1 0 1 0 1 0 1 0 2 0 2 1-2 0-1 0-2 0-1 0-4 0-3 0-2 0-1 0-1 0-1 0-2 0-2 0 0 0-1 0-1 0-1 0-2 0-1 0 0 0-1 0-1 0-1 0-1 0-6 0-2 0-6 0 0 1 3 0 1 0 9 0 1 0 2 0 2 0 1 0 0 0 4 0 1 0 1 0 1 0 0 0 1 0 1 0 1 0 3 0 2 0 2 0 1 0 3 0 8 0 0 1-2 0-6 0 0 0-3 0-1 0-1 0-1 0 0 0-1 0 0 0 0 0-1 0-3 0-1 0 0 0 0 0-1 0 0 0-2 0-1 0-1 0 0 0-2 0-1 0-1 0-4 0-1 0-1 0 0 0-1 0-1 0-6 0-4 0-1 0 1 1 3 0 0 0 2 0 4 0 0 0 0 0 1 0 0 0 2 0 1 0 1 0 1 0 3 0 1 0 4 0 6 0 0 0 0 0 0 0 4 0 11 0 0 0 0 0 3 0 1 0-2 1-1 0-1 0-3 0-5 0-1 0 0 0-1 0 0 0-2 0 0 0-1 0-9 0 0 0-1 0-2 0-2 0-4 0-2 0-1 0-1 0 0 0-1 0 0 0-3 0 0 0-1 0-1 0 0 0-1 0 0 0-1 0 0 0-2 0 0 1 5 0 2 0 1 0 1 0 1 0 1 0 2 0 0 0 4 0 2 0 1 0 0 0 0 0 2 0 4 0 1 0 2 0 1 0 1 0 3 0 5 0 4 0 2 0 1 0 2 0-2 1-1 0-1 0-1 0-1 0-1 0-4 0 0 0 0 0-1 0-4 0-2 0 0 0-2 0-1 0-1 0-2 0-4 0-2 0-1 0 0 0-1 0-6 0 0 0-2 0-1 0 0 0-1 0-6 0 5 1 1 0 0 0 2 0 1 0 1 0 2 0 2 0 5 0 3 0 1 0 2 0 0 0 1 0 2 0 4 0 0 0 1 0 2 0 3 0 2 0 0 0 4 0 0 0 3 0 3 1-3 0-1 0-5 0-1 0-1 0-2 0-3 0-2 0 0 0 0 0-1 0-3 0 0 0-5 0-2 0-1 0 0 0 0 0-1 0-1 0 0 0-2 0 0 0 0 0-1 0-2 0 0 0 0 0-6 0-2 0-5 1 4 0 4 0 1 0 1 0 0 0 2 0 4 0 1 0 0 0 0 0 1 0 0 0 0 0 1 0 1 0 0 0 1 0 1 0 2 0 0 0 2 0 0 0 2 0 1 0 1 0 6 0 1 0 1 0 1 0 0 0 5 0 0 0-2 1-3 0-1 0-1 0 0 0-2 0 0 0-1 0-1 0 0 0-1 0-1 0 0 0-1 0-1 0-2 0 0 0-4 0-1 0 0 0-1 0-2 0-3 0-1 0-1 0-1 0-4 0-1 0-1 0-3 0-1 0 0 0-1 1 1 0 9 0 1 0 5 0 1 0 0 0 1 0 0 0 6 0 2 0 2 0 2 0 2 0 0 0 2 0 1 0 4 0 1 0 1 0 2 0 1 0 1 0-11 1-2 0 0 0-1 0-5 0-2 0-1 0 0 0-1 0-2 0-1 0-1 0-2 0-4 0-1 0-2 0-3 0 0 0 0 0-2 0 0 0-1 0-6 1 7 0 3 0 3 0 1 0 1 0 1 0 3 0 3 0 1 0 2 0 1 0 1 0 0 0 0 0 2 0 1 0 1 0 0 0 2 0 8 0 2 0 7 0-8 1-1 0-2 0-1 0-2 0-1 0-5 0-2 0 0 0-1 0-1 0-2 0-2 0-1 0-1 0 0 0-2 0 2 1 1 0 6 0 2 0 1 0 1 0 1 0 3 0 0 0 0 0 3 0 7 0-3 1-8 0-5 0-1 0 0 0-1 0-4 0-5 0-1 0-5 0-6 0 1 1 0 0 11 0 0 0 0 0 0 0 7 0 0 0 0 0 2 0 1 0 14 0 2 0 2 0 0 0 2 1-12 0-4 0-4 0-3 0-6 0-3 0-6 0-2 0 0 1 9 0 4 0 3 0 7 0 6 0 13 1-21 0-9 0-6 1 11 0 7 0 14 0-6 1-22 0-4 0-13 0 23 1 22 0 0 0-3 1-30 1 27 0-20 2 20 0 5 0-35 2 27 1"/>
<path class="k26" d="M244 551l6 1 16 0-13 1-4 2-5 0-2 0-1 0 1 1 0 0 5 0 1 0 6 0 0 0 2 0 1 0 4 1-6 0-2 0-1 0-4 0-1 0-1 0-9 1 4 0 7 0 2 0 0 0 2 0 1 0 2 0 7 0 6 0-3 1-6 0-3 0-12 0 0 0 0 0-2 0-2 0-1 0 0 0-8 0 6 1 1 0 8 0 3 0 2 0 2 0 0 0 1 0 0 0 0 0 2 0 0 0 1 0 0 0 3 0 2 0 1 0-1 1-3 0-1 0-1 0-1 0-1 0-1 0-1 0-2 0-1 0-1 0 0 0-2 0-1 0-1 0-1 0 0 0 0 0-2 0-3 0 0 0-1 0-1 1 3 0 2 0 0 0 1 0 0 0 0 0 8 0 1 0 0 0 1 0 0 0 1 0 2 0 4 0 2 0 5 0 3 0-7 1-6 0-3 0-2 0 0 0-1 0-1 0-2 0 0 0-2 0-2 0-2 0 0 0-5 0 0 1 2 0 1 0 0 0 2 0 2 0 1 0 1 0 0 0 4 0 0 0 1 0 0 0 2 0 1 0 1 0 0 0 1 0 2 0 1 0 4 0 1 0 0 0 9 1-5 0-6 0-3 0-1 0-1 0-4 0 0 0-1 0 0 0-1 0 0 0-1 0 0 0-3 0 0 0-1 0-1 0-10 0-1 0 1 1 1 0 1 0 2 0 3 0 1 0 1 0 3 0 1 0 1 0 2 0 2 0 0 0 0 0 1 0 1 0 3 0 2 0 0 0 5 0-4 1 0 0-2 0-2 0-1 0 0 0-1 0-1 0-1 0-2 0 0 0-1 0-1 0 0 0-1 0 0 0 0 0-2 0-3 0-1 0 0 0-8 0-4 0 1 1 2 0 1 0 0 0 1 0 10 0 0 0 2 0 1 0 0 0 1 0 1 0 1 0 0 0 1 0 1 0 0 0 1 0 1 0 3 0 0 0 2 0 2 0 2 0 2 1-3 0-2 0-2 0-1 0-1 0 0 0-2 0-1 0 0 0-4 0-2 0-1 0-1 0-2 0-1 0-1 0-7 0 0 0-5 0-4 0 2 1 10 0 2 0 3 0 1 0 1 0 3 0 1 0 2 0 3 0 2 0 1 0 1 0 2 1-1 0-7 0-1 0 0 0-3 0 0 0-1 0 0 0-7 0-1 0-7 1 9 0 4 0 0 0 1 0 2 0 0 0 1 0 1 0 4 0 0 0 1 0 7 0 2 1-3 0-7 0-6 0-3 0-5 0-1 0 26 1-13 1-5 0-2 1 9 0 1 1-20 0-2 0 13 3"/>
<path class="k27" d="M290 523l-8 0-1 1 21 4 4 1-13 2-10 0 23 4-20 0 16 1 10 3-22 0-2 1 10 0-3 1-6 1 8 0 7 1-23 1 1 0 7 0 19 0 0 1-18 0-4 0-3 0 8 1 2 0 9 0 1 0 1 0 9 1-7 0 0 0-2 0-8 0-12 0 6 1 15 0 9 0-18 1-16 0 2 1 21 0 4 0 30 1-37 0-4 0-1 0-10 0 2 1 11 0 14 0-17 1-3 0-7 1 9 0 2 0 1 0 1 0 2 0 15 0-7 1-6 0-7 0-5 0-12 1 10 0 0 0 17 0 10 0-14 1-9 0-2 0-9 0-1 1 18 0 7 0 24 1-25 0-5 0-3 0-2 0-11 1 6 0 2 0 19 0-1 1-12 0-1 0-3 0-1 0 6 1 2 0 8 0 15 0-26 1-11 1 14 0 8 0 1 1 0 0-5 0-8 0 0 0-1 0-10 0 13 1 13 1-31 0 10 1 4 0 1 0 23 0-5 1-15 0-1 0 0 0-1 0-6 0-6 1 9 0 1 0 16 0 1 0 3 1-1 0-24 1 3 0 14 1-2 0-8 0-14 0-3 1 1 0 11 0 5 0 26 1-30 0-10 0 6 1 22 1-13 0-19 0 27 1 4 0-28 1 1 1 4 0 14 0 3 1-3 0-9 0-4 0-8 0 11 1 4 0 5 0-2 1-18 0 16 1 0 1-18 1 14 0-12 2 25 2"/>
<path class="k28" d="M287 543l-5 1 3 0-3 2 6 2 8 0-1 1-9 0-9 0 7 1 1 0 8 1-2 0-5 0 0 0-2 0-3 0 9 1 0 0 0 0 3 0 4 0-3 1-1 0-5 0-3 0-4 0-4 1 5 0 5 0 1 0 1 0 1 0 2 0 1 0 9 1-4 0-4 0-2 0-3 0-2 0 0 0-1 0 0 0-2 0 0 0 0 0 0 0-2 1 1 0 0 0 2 0 3 0 2 0 0 0 1 0 0 0 1 0 1 0 0 0 0 0 1 0 4 0 1 0 5 0-5 1-1 0-3 0-1 0-1 0-1 0-2 0 0 0-4 0 0 0-2 0 0 0 0 0-1 0-5 1 1 0 2 0 3 0 0 0 1 0 2 0 0 0 1 0 0 0 1 0 1 0 0 0 2 0 10 0-2 1-2 0-2 0-1 0 0 0-1 0 0 0 0 0-2 0-1 0-1 0 0 0-1 0 0 0 0 0-1 0 0 0-1 0 0 0-1 0 0 0-2 0 0 0-2 0-1 0 0 0 0 0-2 0 0 1 2 0 1 0 1 0 0 0 2 0 1 0 1 0 1 0 0 0 1 0 3 0 0 0 1 0 0 0 0 0 0 0 1 0 0 0 2 0 0 0 2 0 0 0 4 0 3 0 4 0 1 0-5 1-2 0 0 0-4 0-1 0 0 0-1 0 0 0-1 0-2 0-1 0 0 0 0 0-1 0-1 0 0 0-1 0-1 0-2 0-2 0-1 0-1 0 0 0-1 0 0 0-1 0-2 0 0 0 0 0 0 1 1 0 0 0 0 0 1 0 0 0 1 0 0 0 1 0 0 0 1 0 1 0 0 0 0 0 1 0 1 0 0 0 1 0 0 0 2 0 0 0 0 0 1 0 0 0 0 0 1 0 0 0 1 0 0 0 0 0 2 0 1 0 1 0 2 0 1 0 1 1-2 0-2 0-1 0-2 0-2 0 0 0-1 0 0 0 0 0-1 0-1 0 0 0 0 0-1 0 0 0-1 0 0 0 0 0-1 0-1 0 0 0-1 0 0 0-1 0-1 0-1 0-2 0-1 1 2 0 0 0 0 0 1 0 1 0 0 0 1 0 1 0 0 0 0 0 1 0 1 0 0 0 3 0 0 0 0 0 0 0 1 0 0 0 1 0 0 0 1 0 3 0 0 0 0 0 0 0 1 0 4 0 4 0-8 1-2 0 0 0 0 0-2 0 0 0 0 0-1 0 0 0 0 0-1 0 0 0-1 0 0 0-1 0 0 0-1 0 0 0-1 0 0 0-2 0-2 0 0 0-1 0-1 0-1 0-2 0 2 1 0 0 1 0 0 0 1 0 0 0 0 0 0 0 1 0 1 0 1 0 1 0 0 0 0 0 0 0 1 0 0 0 0 0 0 0 1 0 0 0 0 0 2 0 0 0 0 0 0 0 1 0 0 0 0 0 0 0 0 0 2 0 3 0 3 0 5 0 9 0-15 1 0 0-1 0 0 0-1 0-2 0 0 0-2 0 0 0-1 0-1 0-1 0 0 0 0 0-1 0 0 0-2 0 0 0-2 0-1 0-1 0 0 0 0 0-1 0-1 0 0 0 0 0-2 0 1 1 0 0 0 0 1 0 2 0 0 0 1 0 0 0 3 0 0 0 0 0 1 0 1 0 0 0 1 0 0 0 1 0 0 0 0 0 1 0 0 0 1 0 0 0 2 0 0 0 0 0 0 0 1 0 3 0 1 0 0 0 0 0 0 0 6 0 1 0 2 1-6 0-2 0 0 0-1 0-1 0-1 0-1 0-1 0 0 0-2 0 0 0 0 0-2 0 0 0-1 0 0 0-1 0-1 0 0 0-1 0 0 0 0 0 0 0-1 0 0 0 0 0 0 0 0 0-1 0 0 0-1 0 0 0 0 0 0 0-1 0 0 0-3 0 0 0-1 0 3 1 0 0 0 0 1 0 2 0 1 0 1 0 0 0 0 0 0 0 1 0 1 0 1 0 0 0 0 0 1 0 0 0 1 0 1 0 0 0 0 0 5 0 0 0 0 0 0 0 1 0 1 0 1 0-1 1-1 0-1 0 0 0 0 0-1 0-1 0 0 0 0 0-1 0-1 0-1 0-1 0 0 0 0 0-1 0 0 0 0 0-1 0 0 0-1 0 0 0 0 0 0 0 0 0 0 0-1 0 0 0 0 0-1 0-1 0-3 0 0 0-1 0-1 0-1 0-2 1 2 0 0 0 2 0 0 0 1 0 1 0 0 0 1 0 1 0 0 0 1 0 3 0 0 0 1 0 1 0 0 0 0 0 1 0 0 0 1 0 1 0 1 0 2 0 6 0 1 0-3 1-5 0-1 0 0 0-1 0-1 0 0 0-1 0 0 0-1 0-1 0-2 0 0 0-1 0 0 0 0 0 0 0 0 0-2 0-1 0 0 0-1 0 0 0 0 0 0 0 0 0-1 0-1 0-2 0 0 0-1 0 0 0-1 0 2 1 1 0 2 0 1 0 0 0 0 0 1 0 1 0 0 0 1 0 1 0 1 0 0 0 2 0 0 0 1 0 1 0 1 0 0 0 0 0 1 0 1 0 0 0 5 0 0 0 0 0 8 0-4 1-8 0-1 0 0 0-2 0-2 0-1 0-1 0-1 0 0 0-2 0-2 0-1 0-2 0-1 0-1 0-1 1 2 0 0 0 0 0 5 0 0 0 0 0 1 0 1 0 0 0 0 0 0 0 0 0 1 0 1 0 0 0 0 0 1 0 0 0 3 0 1 0 0 0 1 0 0 0 1 0 1 0 10 1-6 0-1 0-3 0-1 0-2 0-1 0-3 0 0 0-1 0 0 0-2 0-1 0-4 0 0 1 3 0 4 0 3 0 1 0 2 0 4 0 2 1-4 0-4 0-4 0-1 0-1 0-1 0-2 0-6 0 8 1 1 0 3 0 0 0 2 0 0 0 3 0 5 1-7 0-1 0-2 0-1 0-7 0-2 1 8 0 1 0 0 0 4 0 10 0-3 1-8 0-2 0-3 0-1 0-3 0-1 0 2 1 2 0 6 0 2 0-1 1-7 0-5 0-3 1 0 0 14 0 2 0 3 0 3 1-5 0 0 0-17 0 8 2"/>
<path class="k23" d="M272 450l-13 4-4 3 16 1 3 0-13 2 9 3-2 2-8 2-2 0 16 4-6 0-30 0 16 1 1 0 3 0 10 0 4 0-8 1-21 0-2 0-10 0 10 1 25 0 5 1-37 1 2 0 24 0 4 1-11 0-8 0 1 1 10 0 3 0 3 0 5 0 3 1-24 0-21 0-1 1 29 0 1 0 2 0 1 0 0 0 1 0 6 1-16 0-8 0 0 1 4 0 10 0-3 1-2 0-12 1 9 0 3 0 5 0 3 0 1 0-5 1 0 0-6 0-15 0 2 1 16 0 8 0 3 0 13 0 1 0-15 1-4 0-2 0-4 0 0 0-3 0-6 0-15 0 10 1 37 0-24 1-25 0 11 1 3 0 4 0 3 0 23 1-17 0-6 0-3 0-1 0-13 0 0 1 1 0 2 0 17 0 4 0 9 0-4 1 0 0-11 0-5 0-10 0 0 0-1 0 5 1 12 0 4 0 5 0 2 0-16 1-4 0-14 0 1 1 11 1-7 0-1 0-1 0-3 0 0 0 0 1 1 0 16 0 4 0 9 1-4 0-1 0-13 0-11 1 10 0 4 0 1 0 0 0 12 0 1 1-15 0-2 0-3 0 0 0-9 1 0 0 1 0 5 0 3 0 2 0 6 0 1 0 13 0 17 0-48 1 32 2-13 0-4 0-10 0-4 0 7 1 25 0-32 1-1 0 20 2-19 0 0 0-1 0 9 1-8 1-1 1 14 0-13 1-1 0 0 1 1 0 1 0 3 0 4 0 1 0 16 1-20 0-5 0-1 2 12 1"/>
<path class="k24" d="M273 465l-13 1 2 1-8 1 11 0 3 0-6 1-3 0 2 1 7 1-5 0-5 0-1 0-1 0-5 0-1 0 4 1 1 0 2 0 0 0 1 0 0 0 1 0 2 0 3 1-4 0 0 0-2 0 0 0 0 0-2 0-2 0 0 0-7 1 1 0 5 0 3 0 4 0 0 0 2 1-1 0-2 0-1 0 0 0-2 0 0 0-8 0-2 1 3 0 3 0 0 0 1 0 0 0 3 0 1 0 0 0 1 0 0 0 1 0 0 0 1 0 0 0 5 0-4 1-2 0-1 0 0 0 0 0-2 0 0 0-1 0 0 0-1 0-2 0-1 0 0 0-1 0-1 0 0 0-2 0 0 0-2 0 2 1 2 0 0 0 0 0 1 0 0 0 1 0 1 0 0 0 0 0 1 0 0 0 0 0 1 0 0 0 0 0 1 0 0 0 0 0 0 0 1 0 0 0 0 0 1 0 3 0 1 0 1 0-3 1 0 0-1 0 0 0-1 0-1 0 0 0 0 0-1 0-1 0 0 0 0 0-1 0-1 0 0 0-1 0-1 0 0 0-1 0-1 0-1 0 0 0-1 0 0 0-2 0-1 0-3 0 5 1 1 0 2 0 1 0 0 0 0 0 2 0 1 0 0 0 0 0 1 0 0 0 0 0 1 0 0 0 0 0 2 0 1 0 2 0 2 0 4 1-4 0-1 0 0 0-2 0 0 0-3 0-1 0 0 0 0 0 0 0-1 0 0 0 0 0-1 0 0 0 0 0 0 0-1 0 0 0 0 0 0 0-1 0-1 0 0 0-1 0-1 0-1 0-1 0-1 0-2 0-1 0 0 0-3 1 2 0 1 0 1 0 0 0 1 0 1 0 0 0 0 0 1 0 0 0 0 0 0 0 1 0 0 0 0 0 0 0 1 0 0 0 1 0 0 0 0 0 1 0 0 0 0 0 1 0 0 0 0 0 0 0 0 0 0 0 0 0 1 0 0 0 0 0 1 0 0 0 0 0 1 0 0 0 0 0 1 0 1 0 0 0 1 0 0 0 0 0 1 0 0 0 1 0 2 1-4 0-1 0-1 0 0 0 0 0-1 0 0 0 0 0-2 0 0 0-1 0 0 0 0 0-1 0 0 0 0 0 0 0 0 0 0 0-1 0 0 0 0 0 0 0 0 0-1 0 0 0 0 0-1 0-2 0 0 0-1 0 0 0 0 0 0 0-2 0 0 0-5 0 5 1 0 0 0 0 1 0 0 0 1 0 0 0 0 0 1 0 1 0 0 0 0 0 1 0 0 0 0 0 1 0 0 0 0 0 0 0 1 0 0 0 0 0 0 0 1 0 0 0 0 0 0 0 0 0 1 0 0 0 1 0 0 0 0 0 0 0 0 0 0 0 1 0 0 0 0 0 0 0 1 0 1 0 0 0 1 0 0 0 4 0 3 0-1 1-1 0 0 0-1 0-2 0-2 0 0 0-1 0 0 0 0 0-1 0 0 0-1 0 0 0 0 0-1 0 0 0 0 0-1 0 0 0-1 0-1 0 0 0 0 0-1 0 0 0 0 0 0 0-1 0 0 0 0 0 0 0 0 0 0 0 0 0-1 0 0 0 0 0 0 0 0 0 0 0-1 0 0 0 0 0 0 0 0 0-1 0 0 0 0 0-1 0 0 0-1 0 0 0 0 0 0 0 0 0-1 0 0 0 0 0 0 0-1 0-2 0-3 1 3 0 0 0 0 0 2 0 1 0 0 0 1 0 0 0 1 0 0 0 0 0 1 0 0 0 1 0 0 0 1 0 0 0 0 0 1 0 0 0 0 0 0 0 0 0 0 0 0 0 0 0 0 0 1 0 0 0 0 0 0 0 1 0 0 0 0 0 1 0 0 0 0 0 0 0 0 0 1 0 1 0 0 0 0 0 1 0 0 0 0 0 1 0 0 0 2 0 1 0 1 0 0 0 0 0-1 1-2 0 0 0 0 0 0 0-1 0-1 0 0 0 0 0-1 0-1 0 0 0 0 0-1 0 0 0-1 0 0 0 0 0-1 0 0 0 0 0 0 0 0 0 0 0-2 0 0 0 0 0 0 0 0 0 0 0 0 0 0 0 0 0-1 0 0 0 0 0 0 0 0 0-1 0 0 0 0 0 0 0 0 0 0 0 0 0-1 0 0 0 0 0 0 0-1 0 0 0 0 0-1 0 0 0 0 0-1 0-2 0 0 0-1 0-2 0-1 1 1 0 1 0 0 0 1 0 1 0 1 0 0 0 0 0 0 0 0 0 0 0 0 0 1 0 0 0 0 0 0 0 1 0 0 0 1 0 0 0 1 0 0 0 1 0 0 0 0 0 0 0 0 0 0 0 1 0 0 0 0 0 0 0 0 0 0 0 0 0 0 0 0 0 0 0 0 0 1 0 0 0 1 0 1 0 0 0 0 0 1 0 0 0 1 0 0 0 2 0 0 0 0 0 0 0 2 0 4 0 1 1-3 0-1 0 0 0-2 0 0 0-1 0 0 0 0 0 0 0-1 0 0 0 0 0-1 0 0 0 0 0 0 0 0 0-1 0 0 0 0 0-1 0 0 0 0 0 0 0-1 0 0 0 0 0 0 0 0 0-1 0-1 0 0 0 0 0 0 0 0 0 0 0 0 0-1 0 0 0 0 0-1 0 0 0 0 0 0 0-1 0 0 0 0 0 0 0 0 0-1 0 0 0 0 0 0 0-1 0 0 0 0 0-1 0 0 0-1 0 0 0-2 0-1 0 0 0-1 0-3 0-3 1 4 0 1 0 2 0 1 0 2 0 0 0 0 0 1 0 0 0 1 0 0 0 0 0 0 0 1 0 0 0 0 0 0 0 1 0 0 0 0 0 0 0 1 0 0 0 0 0 0 0 0 0 0 0 1 0 0 0 1 0 0 0 0 0 0 0 0 0 1 0 1 0 0 0 0 0 0 0 0 0 0 0 0 0 0 0 1 0 0 0 0 0 0 0 0 0 0 0 1 0 0 0 1 0 0 0 0 0 0 0 1 0 1 0 0 0 0 0 1 0 1 0 6 0-8 1-1 0-1 0-1 0 0 0 0 0-1 0 0 0 0 0-1 0-1 0 0 0 0 0 0 0 0 0 0 0 0 0 0 0 0 0-1 0 0 0-1 0 0 0 0 0 0 0 0 0 0 0 0 0-1 0 0 0 0 0 0 0 0 0 0 0 0 0 0 0 0 0-1 0 0 0 0 0 0 0 0 0 0 0 0 0 0 0 0 0 0 0 0 0 0 0 0 0-1 0 0 0 0 0 0 0 0 0 0 0 0 0 0 0-1 0-1 0 0 0 0 0 0 0 0 0 0 0-1 0 0 0-1 0 0 0 0 0 0 0 0 0 0 0-1 0 0 0-2 0-1 0-1 0 0 1 1 0 1 0 0 0 1 0 1 0 0 0 1 0 1 0 0 0 0 0 0 0 0 0 1 0 0 0 0 0 0 0 0 0 1 0 0 0 0 0 1 0 0 0 0 0 0 0 0 0 0 0 1 0 0 0 0 0 0 0 1 0 0 0 0 0 0 0 0 0 1 0 0 0 0 0 1 0 0 0 0 0 0 0 1 0 0 0 0 0 1 0 0 0 0 0 0 0 0 0 1 0 0 0 1 0 0 0 0 0 0 0 1 0 1 0 1 0 0 0-3 1-1 0-1 0 0 0-1 0 0 0 0 0-1 0 0 0-1 0 0 0-1 0 0 0 0 0 0 0-1 0 0 0 0 0 0 0 0 0 0 0-1 0 0 0 0 0 0 0 0 0 0 0-1 0 0 0 0 0 0 0 0 0 0 0 0 0 0 0 0 0-1 0 0 0 0 0 0 0 0 0 0 0 0 0-1 0 0 0 0 0 0 0 0 0 0 0-1 0 0 0 0 0 0 0 0 0 0 0 0 0 0 0-1 0 0 0 0 0-1 0 0 0 0 0 0 0-1 0-1 0 0 0-1 0-1 0-3 0 5 1 0 0 1 0 0 0 1 0 0 0 0 0 0 0 0 0 1 0 0 0 0 0 0 0 1 0 0 0 0 0 0 0 0 0 1 0 0 0 0 0 0 0 0 0 1 0 0 0 1 0 0 0 1 0 0 0 0 0 0 0 0 0 1 0 0 0 0 0 0 0 1 0 0 0 0 0 1 0 0 0 0 0 0 0 1 0 0 0 1 0 0 0 1 0 0 0 0 0 1 0 2 0 0 0 2 0 0 0-3 1-1 0-1 0 0 0 0 0-1 0 0 0 0 0-2 0 0 0 0 0-1 0-1 0 0 0 0 0 0 0 0 0 0 0-1 0 0 0 0 0 0 0 0 0-1 0 0 0 0 0 0 0 0 0 0 0 0 0-1 0 0 0 0 0 0 0-1 0 0 0 0 0 0 0 0 0-1 0 0 0 0 0 0 0 0 0-1 0-1 0 0 0-1 0 0 0 0 0-1 0 0 0-2 0-1 0-1 0-1 0-1 0-1 0 4 1 1 0 0 0 0 0 1 0 1 0 0 0 1 0 0 0 0 0 0 0 0 0 1 0 1 0 0 0 0 0 0 0 1 0 0 0 0 0 0 0 1 0 0 0 0 0 0 0 0 0 0 0 0 0 0 0 1 0 0 0 1 0 0 0 0 0 0 0 0 0 0 0 0 0 1 0 0 0 0 0 1 0 0 0 0 0 1 0 0 0 0 0 0 0 1 0 1 0 1 0 0 0 0 0 1 0 1 0 1 1-3 0-1 0 0 0-1 0 0 0 0 0 0 0-1 0-1 0 0 0 0 0 0 0 0 0-1 0 0 0 0 0 0 0 0 0 0 0-1 0 0 0 0 0-1 0 0 0 0 0-1 0 0 0-1 0 0 0 0 0 0 0 0 0 0 0 0 0 0 0-1 0 0 0 0 0-1 0-1 0 0 0 0 0 0 0-1 0 0 0-1 0 0 0-1 0 0 0 0 0 0 0 0 0-1 0-1 0 0 0-4 0 0 1 2 0 2 0 0 0 1 0 0 0 0 0 2 0 0 0 0 0 1 0 0 0 1 0 0 0 1 0 0 0 1 0 0 0 0 0 0 0 0 0 1 0 0 0 0 0 1 0 0 0 1 0 0 0 0 0 1 0 0 0 0 0 0 0 0 0 0 0 1 0 0 0 0 0 1 0 0 0 0 0 0 0 0 0 0 0 1 0 0 0 1 0 0 0 0 0 2 0 4 1-6 0 0 0-1 0-2 0-1 0 0 0-1 0-4 0 0 0 0 0 0 0-2 0 0 0 0 0-1 0-1 0 0 0 0 0-1 0 0 0-2 0-3 0 1 1 2 0 0 0 0 0 1 0 0 0 1 0 1 0 0 0 1 0 1 0 0 0 0 0 0 0 1 0 0 0 0 0 0 0 0 0 0 0 0 0 1 0 1 0 0 0 0 0 1 0 0 0 0 0 1 0 0 0 0 0 0 0 1 0 0 0 1 0 1 0 1 0 1 0 4 1 0 0 0 0-4 0 0 0 0 0-2 0-1 0 0 0-1 0 0 0-1 0-1 0 0 0-1 0 0 0-1 0-1 0 0 0 0 0 0 0-1 0 0 0 0 0-1 0 0 0-1 0 0 0 0 0 0 0-1 0 0 0-1 0-1 0-2 0-1 1 1 0 0 0 1 0 0 0 1 0 0 0 0 0 0 0 1 0 0 0 1 0 1 0 0 0 1 0 1 0 1 0 0 0 0 0 0 0 0 0 0 0 2 0 0 0 0 0 0 0 0 0 1 0 0 0 0 0 1 0 11 1-8 0-5 0 0 0-1 0-1 0 0 0-1 0 0 0 0 0 0 0-1 0 0 0-1 0-1 0-1 0 0 0-1 0-2 0 0 0-1 0 0 0 0 1 0 0 1 0 1 0 2 0 1 0 4 0 0 0 4 0 4 0-2 1-2 0-3 0 0 0-2 0-1 0-1 0 0 0-1 0-1 0 0 0-1 0 0 0-1 0-1 0 0 0-1 0 0 0 0 1 1 0 0 0 1 0 1 0 0 0 2 0 1 0 1 0 7 0-1 1-10 0-1 0-1 0 0 0 0 0-1 1 0 0 2 0 1 0 6 0 1 0 2 0-5 1 0 0 0 0-1 0-2 0-2 0-1 0-1 0 11 1-10 1 0 0-1 1 0 0 1 0 3 0 0 0 4 1-4 0-1 0-1 0-1 0-1 0 0 1 1 0 0 1 0 1 3 1-3 0"/>
</g>
<rect x="222.8" y="448.0" width="131.1" height="143.0" fill="none" stroke="#1a1a1a" stroke-width="1.5"/>
<path d="M275.9 445.5V589.0M222.8 518.8H353.9" stroke="#111" stroke-width="1.7"/>
<path d="M222.8 483.8h-1.5M255.6 591.0v1.5M222.8 519.5h-1.5M288.4 591.0v1.5M222.8 555.2h-1.5M321.1 591.0v1.5" stroke="#222" stroke-width="1"/>
<text transform="translate(221.0 586.0) rotate(-90)" font-family="Liberation Sans" font-weight="bold" font-size="6" fill="#222">10<tspan font-size="4" dy="-2">0</tspan></text>
<text transform="translate(221.0 555.2) rotate(-90)" font-family="Liberation Sans" font-weight="bold" font-size="6" fill="#222">10<tspan font-size="4" dy="-2">1</tspan></text>
<text transform="translate(221.0 519.5) rotate(-90)" font-family="Liberation Sans" font-weight="bold" font-size="6" fill="#222">10<tspan font-size="4" dy="-2">2</tspan></text>
<text transform="translate(221.0 483.8) rotate(-90)" font-family="Liberation Sans" font-weight="bold" font-size="6" fill="#222">10<tspan font-size="4" dy="-2">3</tspan></text>
<text transform="translate(221.0 448.0) rotate(-90)" font-family="Liberation Sans" font-weight="bold" font-size="6" fill="#222">10<tspan font-size="4" dy="-2">4</tspan></text>
<text x="222.8" y="597.8" font-family="Liberation Sans" font-weight="bold" font-size="6" fill="#222">10<tspan font-size="4" dy="-2">0</tspan></text>
<text x="255.6" y="597.8" font-family="Liberation Sans" font-weight="bold" font-size="6" fill="#222">10<tspan font-size="4" dy="-2">1</tspan></text>
<text x="288.4" y="597.8" font-family="Liberation Sans" font-weight="bold" font-size="6" fill="#222">10<tspan font-size="4" dy="-2">2</tspan></text>
<text x="321.1" y="597.8" font-family="Liberation Sans" font-weight="bold" font-size="6" fill="#222">10<tspan font-size="4" dy="-2">3</tspan></text>
<text x="353.9" y="597.8" font-family="Liberation Sans" font-weight="bold" font-size="6" fill="#222">10<tspan font-size="4" dy="-2">4</tspan></text>
<text transform="translate(214.6 519.5) rotate(-90)" font-family="Liberation Sans" font-weight="bold" font-size="5.4" fill="#222" text-anchor="middle" textLength="23" lengthAdjust="spacingAndGlyphs">FL1 LOG</text>
<text x="288.4" y="603.0" font-family="Liberation Sans" font-weight="bold" font-size="4.8" fill="#222" text-anchor="middle" textLength="20" lengthAdjust="spacingAndGlyphs">FL3 LOG</text>
<text x="270.5" y="466.5" font-family="Liberation Serif" stroke="#000" stroke-width="0.32" font-size="17.5" text-anchor="end">58%</text>
<text x="271.9" y="537.9" font-family="Liberation Serif" stroke="#000" stroke-width="0.32" font-size="17.5" text-anchor="end">22%</text>
<text x="347.7" y="538.6" font-family="Liberation Serif" stroke="#000" stroke-width="0.32" font-size="17.5" text-anchor="end">19%</text>
<text x="254.4" y="627.5" font-family="Liberation Serif" stroke="#000" stroke-width="0.32" font-size="17" textLength="72.9" lengthAdjust="spacingAndGlyphs">1μM 5-HT</text>
<g filter="url(#bl)">
<path class="k16" d="M398 464l0 0 14 0 5 0 14 1-35 0-2 0-6 0 15 1 25 0-1 1-30 0 2 1 18 0 13 0 2 0-2 1-32 0 11 1 2 1-13 2-1 1 35 0-17 2 7 0 3 1-11 0-6 0-15 1 9 2-2 1-14 0 12 1 19 0 6 0-25 1-2 0-7 1 1 0 0 0 0 0 37 1-24 0-10 1 6 0 10 0 4 1 13 2-4 0-32 0-3 1 26 0 16 0 1 0-39 1-1 2-1 0 40 1-1 1-6 0-24 0-11 0-1 1 18 0 13 0 4 0-16 1-16 0 30 1 14 0-24 1-11 0-4 0 6 1 32 1-10 0-16 0-5 1 13 0 9 1-21 0-1 0-4 0-4 0 9 1 9 0 6 0 14 0-14 1-26 0 7 3 27 0 3 0-16 1-7 0-18 0 26 1-4 2 18 0 1 3-1 0-31 0-3 0-4 0-4 1 17 0 24 1-2 0 0 0-14 0"/>
<path class="k17" d="M429 519l-9 0-30 1 11 0 14 0 14 0 0 1-13 0-27 1 10 0 11 0 22 1-2 0-17 0-8 0-9 1 4 1-14 0 1 1 45 0-46 2 38 2 4 0-19 1-2 0-7 1 2 0 2 0 3 0-10 1-3 0-3 1 30 0 1 1-29 0 24 1 12 1-2 0 0 0-24 0 22 1-25 1 10 1-2 1-8 0-13 0 24 1 14 1-18 0-3 0-2 0 18 1 9 1-21 0-8 0-8 0 5 1 9 0 24 0 1 0-1 1-26 0-7 1 1 0 27 0-5 1-24 0-4 0 6 1 8 0 14 0 0 0-4 1-29 1 5 0 35 2 3 0-16 1 0 0-14 0 21 1 1 0-2 1-23 1 10 0-5 1-11 1 7 0 7 0 15 0 0 0 10 0-5 3-31 1 6 1 31 1-21 1-17 0 13 2 2 1 5 0-10 1-1 0-6 0-2 0-3 1 36 0 2 1-26 0-4 0 4 1 8 0 2 0 2 0 4 0-2 1-22 0 1 1 36 0-34 1-9 0 19 1 6 0 11 0-37 2 44 1-13 0-19 1 7 0-4 1 16 1-7 1-21 1 34 0-6 1-24 0 37 1-5 1-20 0-9 0"/>
<path class="k18" d="M462 476l-20 4 2 2 7 0-5 3 1 2-3 2 6 1-11 1-1 1 12 0 1 0 5 1-11 0 1 1 7 0-13 2 22 0-12 4 7 0-10 3 15 1-10 1-15 0 11 1 13 0-17 1-5 7"/>
<path class="k19" d="M434 519l-20 3 1 0 8 1-12 1-24 2 16 0 5 1-7 1 22 0-6 1-8 0-1 0-5 0-10 0 19 1 10 1-4 0-5 0-13 0-2 0-4 0 15 1 1 0 13 0 8 0-17 1-2 0-3 0-6 0-14 1 2 0 3 0 3 0 0 0 14 1-18 1 28 1-5 0-2 0-7 0-14 0-1 1 30 0 9 0-6 1-2 0-11 0-9 0-4 0-9 1 5 0 16 0 0 0 0 0 8 0 0 0 5 0-4 1-7 0-26 0 0 0 5 1 2 0 19 0 8 0 2 0 8 1-2 0-2 0-1 0-8 0-1 0-13 0-6 0-5 0-5 1 4 0 5 0 8 0 24 1-5 0-7 0-3 0-7 0-18 0 9 1 11 0 4 0 3 0 0 0 15 1-11 0-8 0-3 0-1 0-6 0-5 0-12 0 12 1 4 0 11 0 13 0 2 0 7 1-13 0-1 0-11 0-4 0-8 0-6 0-4 1 6 0 17 0 2 0 4 0 12 0-2 1-20 0-6 0-12 0 15 1 17 0-5 1-5 0-14 0-7 0 19 1 11 0 1 0 14 1-7 0-1 0-10 0-3 0-3 0-16 0 0 0-3 1 17 0 3 0 6 0 3 0 0 1-4 0-4 0-22 0-5 0 11 1 14 0 2 0 2 0 3 0 0 0 1 0 5 1-1 0-20 0-13 1 2 0 4 0 2 0 2 0 3 0 6 0 1 0 10 0 2 0 6 0 4 1-2 0-11 0-5 0-6 0-5 0-3 0-5 0-7 0 1 1 10 0 3 0 1 0 9 0 15 0 3 0-6 1-8 0-4 0-4 0-6 0 16 1 3 0-11 1-13 0 7 1 9 0 3 0 1 1-13 0-3 0-1 0-2 0-6 0 4 1 6 0 25 0 2 0-10 1-3 0-9 0-4 0-6 0-10 0 2 1 9 0 1 0 19 0 2 0 12 0-1 1-10 0-7 0-21 0-5 1 15 0 17 1-1 0-1 0-2 0-14 0-6 1 2 0 8 0 9 0 9 0 2 0 8 1-9 0-18 0-5 1 9 0 6 0 12 0 2 1-19 0-1 0-2 0-21 0 8 1 16 0 4 0 10 0 6 0 3 0-10 1-7 0-11 0-8 0-7 1 6 0 22 0 7 1-36 1 13 0 17 1-7 0-13 0 13 2 1 1 12 0 3 0-22 1-1 1-1 1-18 0 37 1"/>
<path class="k29" d="M413 528l-8 3-18 1 21 0 17 1-22 1-2 1-2 0-2 0-12 2 24 1 2 0 6 0-11 1-9 0-8 0 11 1 23 0-1 1-15 0-3 0-14 0 9 1 19 0 0 0 0 0 4 0 7 0-12 1 0 0-6 0-2 0-9 0-1 0-1 0-1 0-7 0-1 1 8 0 4 0 3 0 1 0 3 0 0 0 21 0 0 1-9 0-10 0-4 0-8 0-1 0-7 0-1 1 1 0 9 0 3 0 6 0 8 0 4 0 1 0 0 0 10 0 0 1-7 0-6 0-3 0-4 0-3 0-3 0 0 0-5 0 0 0-1 0-1 0-1 0-8 0 1 1 3 0 2 0 5 0 3 0 2 0 1 0 0 0 2 0 0 0 2 0 1 0 1 0 3 0 3 0 3 0 6 0 3 0 1 1 0 0-4 0-9 0-1 0-3 0 0 0-6 0-2 0-10 0 0 1 1 0 1 0 0 0 4 0 1 0 0 0 3 0 4 0 0 0 11 0 4 0 3 0 0 0 3 0 2 0 0 1-2 0-2 0-5 0-3 0-1 0-2 0-9 0 0 0-10 0-3 0-5 0-2 0-2 0 0 0-2 0 2 1 4 0 2 0 1 0 1 0 1 0 2 0 3 0 1 0 2 0 3 0 0 0 4 0 1 0 5 0 2 0 0 0 2 0 3 0 2 0 1 0 6 0-9 1-3 0-2 0-5 0-2 0-2 0 0 0-3 0-1 0 0 0 0 0-1 0-2 0-2 0-3 0-1 0-8 0 0 0-3 0 0 0 4 1 0 0 2 0 1 0 1 0 3 0 3 0 1 0 2 0 1 0 0 0 0 0 1 0 6 0 3 0 0 0 0 0 2 0 0 0 0 0 3 0 3 0 1 0 2 0 2 0 2 0 0 0 3 0 1 1-2 0-1 0 0 0-3 0-1 0-1 0-1 0 0 0-5 0-4 0 0 0-1 0 0 0-1 0-2 0-1 0-2 0-3 0 0 0-2 0-1 0-2 0-2 0-2 0 0 0-9 0 5 1 1 0 3 0 1 0 1 0 1 0 1 0 0 0 6 0 1 0 2 0 0 0 1 0 1 0 2 0 1 0 1 0 0 0 0 0 2 0 0 0 0 0 1 0 4 0 1 0 2 0 6 0 1 0-3 1-1 0-1 0-1 0-2 0-2 0-1 0-11 0-1 0-1 0 0 0-1 0-4 0-3 0-1 0-1 0-2 0-2 0-6 0 0 0-2 1 1 0 3 0 2 0 0 0 3 0 1 0 0 0 0 0 3 0 0 0 3 0 0 0 3 0 1 0 4 0 1 0 0 0 4 0 2 0 0 0 3 0 4 0 2 0 1 0 1 0 2 1-5 0-2 0-1 0-2 0-6 0-2 0-4 0 0 0-1 0-2 0-1 0-7 0 0 0-1 0-3 0-1 0-2 0 0 0-5 1 0 0 5 0 1 0 3 0 1 0 0 0 3 0 2 0 3 0 0 0 0 0 3 0 0 0 4 0 1 0 1 0 1 0 0 0 1 0 1 0 0 0 0 0 3 0 0 0 2 0 2 0 0 0 1 0 1 0 2 0 5 0 1 1-3 0-6 0-2 0-3 0-1 0-4 0-2 0-1 0 0 0-1 0-2 0-2 0-1 0 0 0-1 0 0 0-3 0-7 0 0 0-4 1 0 0 2 0 6 0 0 0 6 0 3 0 2 0 1 0 1 0 2 0 5 0 1 0 1 0 2 0 1 0 0 0 2 0 5 1-1 0-2 0-1 0 0 0-1 0 0 0 0 0-2 0-1 0-1 0-4 0-2 0 0 0-1 0-1 0-1 0 0 0-2 0 0 0 0 0-3 0-2 0-2 0-3 0-1 0-1 0-2 0-1 0-1 0-2 0 0 0-3 0-3 1 6 0 1 0 1 0 1 0 1 0 0 0 0 0 1 0 4 0 1 0 0 0 1 0 0 0 5 0 1 0 0 0 1 0 0 0 1 0 3 0 0 0 1 0 1 0 1 0 1 0 2 0 0 0 2 0 3 0 4 0 3 0 1 0-5 1 0 0-1 0-1 0-3 0-6 0-2 0 0 0-2 0-2 0-2 0-2 0-3 0-1 0-1 0-2 0-1 0-1 0-7 0-3 0-1 0 5 1 2 0 5 0 2 0 1 0 2 0 3 0 1 0 1 0 2 0 1 0 1 0 6 0 2 0 1 0 4 0 1 0 1 0 4 1-2 0-1 0-1 0-5 0-1 0-3 0 0 0-1 0-1 0-1 0-1 0-2 0-2 0-2 0-3 0-1 0-4 0 0 0 0 0-1 0-2 0-1 0-2 0-9 0 3 1 4 0 1 0 0 0 3 0 2 0 0 0 1 0 2 0 1 0 2 0 2 0 0 0 1 0 1 0 2 0 3 0 1 0 2 0 1 0 1 0 0 0 3 0 0 0 1 0 4 0 2 0 2 1-4 0-3 0-4 0-3 0-9 0-6 0-1 0 0 0-7 0-6 0-2 0 6 1 1 0 1 0 0 0 1 0 0 0 4 0 1 0 0 0 6 0 2 0 2 0 1 0 10 0 2 0 0 0 2 0 6 1-2 0-3 0-4 0-5 0-1 0 0 0-4 0-1 0-1 0-6 0-5 0 0 0-6 0-1 0-1 0 0 0-2 0-2 1 14 0 4 0 3 0 1 0 3 0 2 0 0 0 1 0 2 0 3 0 1 0 1 0 0 0 3 0 1 0 6 1-14 0-2 0-4 0-4 0-5 0-2 1 1 0 1 0 4 0 8 0 1 0 0 0 2 0 5 0 6 1-4 0-4 0-1 0-4 0-2 0 0 0-3 0-1 0-2 0-1 0-5 0-2 0-10 1 12 0 3 0 2 0 9 0 6 0 1 0 2 0 1 0-14 1-1 0-22 0-3 1 19 0 9 0 1 0 3 0 6 0 3 0 7 1-3 0-13 0-11 0-4 0-11 0-2 1 14 0 3 0 4 0 4 0 13 1-18 0-22 0 17 2-6 1 3 0 1 1-11 1 1 2 6 0"/>
<path class="k30" d="M423 549l-20 1 5 1-8 1 2 0 23 0-19 2 1 0 6 0 0 0 0 0 6 0 3 1-1 0-11 0-25 0 16 1 0 0 5 0 8 0 1 0 7 0 5 1-9 0-3 0 0 0-1 0-4 0-2 0-1 0-2 0-13 0-6 1 11 0 7 0 1 0 1 0 5 0 1 0 0 0 1 0 1 0 2 0 3 0 4 0 5 1-9 0-2 0-1 0-6 0-3 0-4 0-1 0-1 0-5 0 0 1 1 0 1 0 2 0 1 0 1 0 1 0 2 0 1 0 1 0 0 0 1 0 2 0 1 0 2 0 2 0 2 0 0 0 1 1-3 0-1 0-2 0 0 0-3 0 0 0 0 0-1 0 0 0-1 0 0 0-2 0-1 0-1 0-1 0-1 0-1 0-5 0 0 0-4 1 5 0 4 0 1 0 2 0 1 0 1 0 1 0 0 0 1 0 1 0 3 0 6 0 2 0 1 0 5 0-6 1-1 0 0 0-2 0 0 0-2 0-1 0-4 0 0 0-1 0-1 0 0 0-1 0-1 0 0 0 0 0-1 0-1 0-2 0-1 0-1 0-5 0 8 1 4 0 1 0 1 0 2 0 0 0 1 0 3 0 0 0 2 0 4 0 5 1-5 0-2 0-3 0-1 0-1 0-2 0-1 0-1 0-1 0-1 0-1 0-1 0-1 0-1 0-1 0-4 0-5 1 5 0 0 0 8 0 0 0 7 0 2 0 3 0 1 1-5 0-1 0-1 0-1 0 0 0-5 0-17 1 1 0 8 0 0 0 0 0 2 0 2 0 8 0-1 1-3 0-3 0-2 0-3 0 0 1 6 0 7 0 4 0 2 0 6 1-24 0 18 1 1 0 0 1-19 0-6 1 21 3"/>
<path class="k21" d="M438 521l2 2 5 1 4 1 6 1-13 1 19 1 5 1-14 1-2 1-6 1 6 0 2 0 10 0-7 1-10 0-5 1 2 0 3 0 4 0 12 0-8 1 0 0-10 1 10 0 11 0-19 2 4 0-5 1 14 2 2 1 5 0-21 1 4 1 7 0 3 0 2 0 14 1-19 0-2 0-8 0-7 1 13 0 5 0 2 0 2 0 11 1-4 0-15 2-1 0-12 0-1 1 5 0 11 0 4 0 0 0-1 1 0 0-6 0-1 0 0 0-1 0-6 1 1 0 12 0 0 0 8 1-3 0-9 0-1 0-4 0-3 0 4 1 5 0 2 0-3 1-7 0-8 0 3 1 3 0 2 0 11 0 11 1-17 0-1 0-5 0 0 1 7 0 25 0-5 1-8 0-2 0-6 0-9 1 2 1-11 1 4 0 1 0 19 0-1 1-3 2-6 1 16 1-7 0-16 0 0 0-3 0 0 0 12 1 8 0 0 1-16 0-7 0 8 1 8 0 3 0 4 0 2 0-14 1-4 0-1 0-4 0 3 1 3 0 2 0 1 0-8 2 16 0 7 0-12 1 9 1-3 1 4 1-24 2 28 0-19 1 5 1 0 0-7 2 7 0 21 0 4 0-28 1 11 3-1 1-7 0-6 0"/>
<path class="k31" d="M443 520l8 0 8 1-17 2 10 2-14 0 4 1 14 0 4 0-17 2 5 0 10 1-2 0-11 0-8 1 9 0 21 1-10 0-5 0-5 0-9 0 2 1 4 0 3 0 3 0 4 0-6 1-9 0 5 1 2 0 0 1-1 0-6 1 3 0 3 0 0 0 12 1-4 0-1 0-6 0 0 0-1 0-4 0-3 0 2 1 1 0 2 0 0 0 2 0 2 0 1 0 4 0 1 0 2 1-2 0-2 0-1 0-6 0-1 0-5 0 0 0 3 1 1 0 1 0 4 0 0 0 2 0 2 0 2 0 10 1-4 0 0 0-10 0-2 0-3 0-1 0-6 0 9 1 3 0 2 0 1 0 9 0-7 1-9 0-2 0-2 0 0 0-2 1 9 0 3 0 3 0 4 0-1 1-5 0-1 0-3 0-2 0-3 0-3 0-1 1 1 0 8 0 1 0 0 0 6 0 0 1-2 0 0 0-1 0-1 0-3 0 0 0-2 0-5 0 0 0 0 0-4 0 0 1 1 0 3 0 1 0 1 0 1 0 0 0 1 0 6 0 6 0 3 0-4 1-5 0-3 0-1 0-2 0-5 0-4 0 0 1 1 0 2 0 2 0 1 0 0 0 0 0 3 0 8 0 9 1-7 0-1 0-1 0-1 0-4 0-1 0 0 0 0 0-3 0 0 0-1 0-2 0 0 0-1 0 0 0-4 1 2 0 5 0 0 0 1 0 0 0 2 0 3 0 1 0 1 1-1 0 0 0 0 0 0 0-2 0-1 0 0 0-1 0-4 0-1 0-1 0 0 0 0 0-1 0 0 0-2 1 2 0 0 0 0 0 3 0 1 0 2 0 1 0 0 0 0 0 2 0 0 0 0 0 11 1-1 0-6 0 0 0 0 0-3 0 0 0-3 0-1 0 0 0 0 0-1 0-4 0 0 0-2 0 0 0-1 1 4 0 0 0 0 0 1 0 0 0 0 0 1 0 0 0 2 0 2 0 1 0 2 0 1 0 1 0 8 0 0 1-8 0-1 0-2 0 0 0-1 0-2 0-2 0-4 0-2 0-1 1 1 0 1 0 2 0 4 0 1 0 0 0 1 0 0 0 2 0 4 0-3 1-1 0 0 0-2 0-1 0-4 0 0 0-1 0 0 0-1 0-1 0-2 0-1 0 0 1 5 0 0 0 1 0 1 0 0 0 2 0 1 0 1 0 0 0 1 0 1 0 0 0 1 0 1 0 2 0 0 0 0 0 3 1-1 0-4 0 0 0-2 0-1 0 0 0-2 0-1 0-1 0-2 0 0 0-2 0 0 0 0 0-2 0 0 1 0 0 0 0 1 0 1 0 2 0 0 0 4 0 1 0 3 0 3 0 2 0-2 1-2 0-1 0-4 0 0 0-1 0 0 0-1 0-1 0-2 0-4 1 0 0 2 0 0 0 2 0 2 0 1 0 1 0 0 0 1 0 1 0 2 0 0 0 3 0 4 0 4 0-6 1-1 0-1 0 0 0-3 0-4 0 0 0-1 0 0 0-6 0 0 1 1 0 1 0 0 0 0 0 1 0 0 0 3 0 0 0 0 0 0 0 6 0 0 0 8 0 2 0-9 1-3 0 0 0-1 0 0 0-1 0-1 0 0 0 0 0-2 0-1 0-2 0-2 0-1 0 2 1 1 0 1 0 0 0 1 0 2 0 0 0 5 0 3 0 4 0-1 1-7 0-1 0-1 0 0 0-1 0 0 0 0 0-1 0-1 0-2 0 0 0-2 0 0 0-1 0 0 0-2 1 0 0 2 0 2 0 1 0 0 0 1 0 1 0 0 0 0 0 3 0 1 0 1 0 0 0 0 0 3 0 1 0 0 0 3 0 8 0-11 1 0 0 0 0-2 0-3 0-1 0 0 0-1 0-3 0-1 0-3 0 0 1 0 0 4 0 3 0 1 0 0 0 1 0 3 0 4 1-2 0-3 0 0 0-3 0 0 0-2 0 0 0-2 0 0 0 0 0 0 0-1 0 0 0-3 0 0 0-1 1 3 0 1 0 0 0 1 0 1 0 0 0 3 0 1 0 1 0 0 0 3 0 2 0 0 0 5 0-7 1 0 0 0 0-1 0-1 0-1 0 0 0 0 0-2 0-1 0 0 0-2 0-4 0-1 0 0 1 2 0 4 0 2 0 0 0 7 0 0 0 0 0 2 1-1 0-1 0-7 0-1 0 0 0-1 0-2 0-5 1 0 0 1 0 1 0 2 0 0 0 6 0 4 0-1 1-6 0 0 0-1 0 0 0-2 0-3 0-1 0 0 0 0 1 1 0 5 0 1 0 1 0 1 0 0 0 1 0 1 0 1 0 3 0 0 0 6 1-10 0-4 0-2 0-3 0-2 1 4 0 1 0 5 0 5 0 3 1-5 0-13 0 0 0 2 1 2 0 2 0 8 0 1 0 3 0 5 1-13 0-1 0 0 0-1 0-3 0-5 0 4 1 1 0 3 0 2 0 6 0 10 1-19 0-4 0-1 1 5 0 2 0 6 0-6 1-2 0-1 0 0 0-4 0 2 1 3 0"/>
<path class="k23" d="M411 454l23 1-48 1 43 7-11 0-6 0-16 0 0 1 33 0 1 0-19 2 12 0-2 2-20 1 4 1 2 0-10 2 1 0 29 0 4 0-14 1-27 1 31 0 2 0-4 1-23 0 11 1 20 1-13 0-24 0 0 0-5 0 43 1-24 1-18 1 4 0 27 0 6 0 9 0-18 1-4 0-6 0-17 0 8 1 9 0 2 0 12 0 1 0 7 1-8 0-4 0-7 0-21 0 34 1 6 1-11 0-1 0-12 0-17 0 6 1 26 0 9 1-19 0-15 1 6 0 6 0 4 0 7 0-7 1-6 0-17 1 2 0 1 0 4 0 0 0 2 0 18 0 4 0 3 0 1 0 3 0-4 1-6 0-4 0-23 0 0 1 13 0 25 0 4 1-4 0-4 0-4 0-3 0-28 0 9 1 7 0 1 0 0 0 1 0 2 0 3 0 0 0 16 0-1 1-15 0-10 0-13 0 1 1 16 0 4 0 9 0 1 0 14 0-2 1-2 0-13 0-11 0-4 0-12 0 0 0 0 0 17 1-13 1-3 0 1 1 8 0 4 0 25 1-15 0-1 0-13 0-2 0-9 1 1 0 0 0 0 0 16 0 3 0-4 1-2 0-5 0-8 0 0 0 0 0 0 1 0 0 5 1-4 1 9 2 0 0 16 2-1 1-26 1 29 1-18 0-10 3 9 1"/>
<path class="k24" d="M408 463l11 2 5 1-13 1-2 0 1 1 1 0-3 1 0 0-5 0-1 0-3 1 3 0 6 0 1 0 0 0 1 0 5 1-1 0-2 0-1 0-2 0-1 0 0 0-4 0-2 0-9 1 4 0 1 0 1 0 4 0 4 0 3 0 5 0 1 1-4 0-2 0-2 0-1 0-3 0-2 0-2 0-1 0-7 0 4 1 6 0 1 0 0 0 2 0 0 0 0 0 2 0 1 0 0 0 2 0 0 0 0 0 2 0 2 0 1 0 8 1-4 0-2 0 0 0-2 0-1 0-3 0-1 0-1 0 0 0 0 0-1 0 0 0-4 0-2 0 0 0 0 0-1 0 0 0-3 0 0 0 0 0-4 0-3 0 5 1 0 0 0 0 2 0 1 0 2 0 0 0 1 0 3 0 1 0 2 0 0 0 1 0 1 0 1 0 0 0 2 0 0 0 3 0 1 1-2 0-2 0-1 0 0 0 0 0 0 0-1 0 0 0-1 0-1 0-1 0-1 0-1 0 0 0 0 0-1 0-1 0 0 0 0 0-1 0 0 0-1 0 0 0 0 0 0 0 0 0-1 0 0 0 0 0-1 0-1 0 0 0 0 0 0 0 0 0-1 0 0 0 0 0 0 0-1 0-5 0-6 1 2 0 1 0 1 0 0 0 1 0 0 0 2 0 5 0 0 0 0 0 1 0 0 0 0 0 1 0 0 0 0 0 0 0 1 0 1 0 1 0 0 0 0 0 0 0 1 0 0 0 0 0 1 0 0 0 1 0 0 0 0 0 0 0 1 0 0 0 1 0 0 0 0 0 1 0 0 0 0 0 0 0 0 0 1 0 0 0 1 0 0 0 0 0 4 0 4 0-1 1-1 0-2 0-1 0 0 0-1 0-2 0-1 0-1 0 0 0 0 0 0 0-1 0-1 0 0 0-1 0 0 0-1 0-1 0 0 0 0 0 0 0-1 0 0 0 0 0 0 0-1 0 0 0-1 0 0 0 0 0 0 0-1 0 0 0 0 0 0 0 0 0-1 0 0 0 0 0 0 0-1 0 0 0 0 0 0 0 0 0 0 0-1 0 0 0 0 0 0 0 0 0-1 0 0 0-1 0 0 0 0 0-1 0-1 0 0 0-1 0 0 0-2 0-5 1 1 0 1 0 4 0 0 0 0 0 4 0 1 0 1 0 0 0 0 0 0 0 1 0 0 0 0 0 1 0 0 0 0 0 0 0 0 0 0 0 1 0 0 0 0 0 0 0 0 0 1 0 1 0 0 0 0 0 0 0 1 0 0 0 0 0 1 0 0 0 0 0 0 0 0 0 0 0 0 0 0 0 1 0 0 0 0 0 0 0 1 0 0 0 0 0 1 0 1 0 0 0 0 0 1 0 0 0 1 0 1 0 1 0 4 0 2 0-2 1-2 0-2 0-2 0 0 0 0 0 0 0-1 0-1 0 0 0-1 0 0 0-1 0 0 0 0 0 0 0 0 0-1 0 0 0 0 0 0 0-1 0 0 0 0 0 0 0 0 0-1 0 0 0 0 0 0 0 0 0 0 0-1 0 0 0-1 0 0 0 0 0 0 0-1 0 0 0-1 0 0 0 0 0-1 0 0 0 0 0 0 0 0 0-1 0 0 0 0 0 0 0 0 0-1 0 0 0 0 0 0 0-2 0 0 0 0 0 0 0 0 0 0 0-1 0-2 0-1 0-4 0 0 1 1 0 3 0 0 0 1 0 1 0 1 0 0 0 1 0 0 0 0 0 1 0 0 0 1 0 0 0 0 0 0 0 1 0 0 0 0 0 1 0 0 0 0 0 0 0 1 0 0 0 0 0 1 0 0 0 0 0 0 0 0 0 0 0 0 0 1 0 0 0 0 0 0 0 0 0 1 0 0 0 0 0 0 0 0 0 1 0 0 0 0 0 0 0 0 0 1 0 0 0 0 0 0 0 0 0 0 0 0 0 1 0 0 0 0 0 0 0 1 0 0 0 1 0 0 0 0 0 0 0 1 0 0 0 1 0 0 0 0 0 1 0 0 0 2 0 0 0 3 0 3 0-7 1-2 0 0 0-1 0 0 0 0 0 0 0-1 0 0 0 0 0 0 0 0 0 0 0-1 0-1 0 0 0-1 0 0 0 0 0 0 0-1 0 0 0 0 0 0 0 0 0-1 0 0 0 0 0 0 0 0 0 0 0 0 0 0 0 0 0-1 0 0 0 0 0 0 0-1 0 0 0 0 0-1 0 0 0 0 0 0 0 0 0 0 0 0 0 0 0-1 0 0 0 0 0 0 0-1 0 0 0 0 0 0 0 0 0 0 0 0 0-1 0 0 0 0 0 0 0 0 0 0 0 0 0-1 0 0 0 0 0-1 0 0 0-1 0 0 0 0 0-1 0-1 0 0 0-1 0 0 0 0 0-1 0-1 0 0 0-2 0 0 0 0 0-1 0 3 1 0 0 1 0 0 0 0 0 2 0 1 0 0 0 1 0 1 0 0 0 0 0 1 0 0 0 0 0 0 0 1 0 0 0 0 0 0 0 1 0 0 0 0 0 1 0 0 0 0 0 0 0 0 0 1 0 0 0 0 0 0 0 0 0 0 0 0 0 0 0 0 0 0 0 0 0 0 0 0 0 1 0 0 0 1 0 0 0 0 0 0 0 1 0 0 0 0 0 1 0 0 0 0 0 0 0 1 0 0 0 1 0 0 0 1 0 0 0 1 0 1 0 0 0 0 0 2 0 1 0 0 0 0 0 5 0 3 1-3 0-3 0 0 0-2 0 0 0-2 0 0 0 0 0 0 0-1 0 0 0 0 0-1 0-1 0-1 0 0 0 0 0-1 0 0 0 0 0 0 0 0 0-1 0 0 0 0 0-1 0 0 0 0 0 0 0 0 0 0 0 0 0-1 0 0 0 0 0 0 0 0 0 0 0 0 0 0 0-1 0 0 0-1 0 0 0 0 0 0 0 0 0 0 0-1 0 0 0 0 0-1 0 0 0-2 0 0 0 0 0-1 0 0 0 0 0 0 0 0 0 0 0 0 0-1 0 0 0 0 0 0 0 0 0 0 0-1 0 0 0-1 0 0 0-3 0-2 0-1 0 1 1 1 0 1 0 1 0 1 0 1 0 0 0 1 0 0 0 0 0 0 0 0 0 0 0 1 0 0 0 0 0 0 0 0 0 0 0 1 0 0 0 0 0 0 0 0 0 1 0 0 0 0 0 1 0 0 0 0 0 1 0 0 0 0 0 1 0 0 0 0 0 0 0 0 0 0 0 1 0 0 0 0 0 0 0 0 0 1 0 0 0 0 0 0 0 0 0 1 0 0 0 1 0 0 0 0 0 0 0 0 0 1 0 0 0 0 0 0 0 0 0 0 0 0 0 1 0 0 0 0 0 0 0 1 0 0 0 0 0 1 0 0 0 0 0 1 0 0 0 0 0 0 0 0 0 1 0 0 0 0 0 0 0 2 0 1 0 0 0 3 0-3 1 0 0-3 0 0 0-1 0 0 0 0 0-1 0 0 0 0 0 0 0 0 0-1 0 0 0 0 0 0 0 0 0-1 0 0 0 0 0 0 0 0 0-1 0 0 0-1 0 0 0 0 0 0 0-1 0 0 0 0 0 0 0-1 0 0 0 0 0 0 0 0 0-1 0 0 0 0 0 0 0 0 0 0 0-1 0 0 0 0 0 0 0 0 0 0 0-1 0 0 0 0 0 0 0 0 0-1 0 0 0 0 0 0 0-1 0-1 0-1 0 0 0 0 0 0 0-1 0 0 0 0 0 0 0-1 0 0 0 0 0-1 0 0 0 0 0-1 0 0 0 0 0-1 0-1 0-1 0 0 0-1 0 0 1 1 0 1 0 1 0 0 0 1 0 0 0 0 0 0 0 1 0 1 0 0 0 0 0 1 0 0 0 1 0 0 0 0 0 1 0 0 0 0 0 1 0 0 0 0 0 1 0 0 0 0 0 1 0 0 0 0 0 0 0 1 0 0 0 0 0 0 0 0 0 0 0 0 0 1 0 0 0 0 0 1 0 1 0 0 0 0 0 0 0 1 0 0 0 1 0 0 0 0 0 0 0 0 0 1 0 0 0 0 0 0 0 0 0 0 0 0 0 1 0 0 0 0 0 0 0 0 0 0 0 0 0 0 0 1 0 1 0 0 0 0 0 0 0 1 0 0 0 3 0 1 0 3 1-2 0-1 0-1 0-2 0 0 0-1 0 0 0-1 0 0 0-1 0 0 0 0 0-1 0 0 0 0 0 0 0-1 0-1 0 0 0 0 0 0 0-1 0 0 0 0 0 0 0-1 0 0 0 0 0 0 0 0 0-1 0 0 0 0 0-1 0 0 0 0 0 0 0 0 0-1 0 0 0 0 0 0 0 0 0 0 0-1 0 0 0 0 0 0 0 0 0 0 0-1 0 0 0 0 0-1 0 0 0 0 0 0 0-1 0 0 0 0 0 0 0 0 0 0 0 0 0-1 0 0 0 0 0 0 0-1 0 0 0 0 0 0 0 0 0 0 0-1 0 0 0 0 0 0 0 0 0-1 0-1 0-1 0 0 0 0 0-1 0-1 0 0 0-1 1 1 0 0 0 1 0 0 0 0 0 3 0 0 0 0 0 0 0 0 0 0 0 0 0 0 0 0 0 1 0 0 0 0 0 1 0 1 0 0 0 0 0 0 0 0 0 0 0 0 0 0 0 1 0 0 0 0 0 0 0 1 0 0 0 0 0 0 0 1 0 0 0 1 0 0 0 0 0 1 0 0 0 0 0 0 0 0 0 0 0 0 0 0 0 0 0 0 0 0 0 0 0 1 0 0 0 0 0 0 0 0 0 0 0 0 0 0 0 1 0 0 0 0 0 0 0 1 0 0 0 0 0 1 0 0 0 0 0 0 0 0 0 0 0 1 0 1 0 0 0 1 0 0 0 1 0 0 0 1 0 4 0 0 0 3 1-9 0 0 0-1 0 0 0-1 0 0 0 0 0-1 0 0 0 0 0-1 0 0 0 0 0-1 0 0 0-1 0 0 0 0 0 0 0 0 0 0 0 0 0-1 0 0 0 0 0-1 0 0 0 0 0-1 0 0 0 0 0 0 0 0 0 0 0 0 0 0 0 0 0-1 0 0 0 0 0 0 0 0 0-1 0-1 0-1 0 0 0-1 0 0 0 0 0-1 0 0 0-1 0 0 0 0 0-2 0 0 0 0 0 0 0-1 0 0 0 0 0 0 0 0 0-1 0 0 1 0 0 1 0 0 0 1 0 0 0 0 0 1 0 1 0 0 0 0 0 0 0 0 0 1 0 0 0 0 0 1 0 0 0 1 0 0 0 1 0 0 0 0 0 0 0 0 0 0 0 1 0 0 0 1 0 0 0 0 0 1 0 0 0 0 0 0 0 0 0 0 0 1 0 0 0 1 0 0 0 1 0 2 0 0 0 0 0 2 0 1 0 0 0 0 0 0 0 2 0 5 1-3 0-2 0-4 0 0 0-1 0-1 0 0 0 0 0-1 0 0 0-1 0 0 0-1 0 0 0-1 0 0 0 0 0 0 0-1 0 0 0 0 0 0 0 0 0 0 0 0 0-1 0 0 0 0 0-1 0 0 0-1 0 0 0 0 0-1 0 0 0 0 0 0 0-2 0 0 0-1 0-2 0 0 0-1 0 0 0 0 0 0 1 0 0 1 0 0 0 0 0 0 0 0 0 1 0 0 0 1 0 0 0 0 0 1 0 0 0 0 0 0 0 1 0 0 0 0 0 0 0 1 0 0 0 0 0 0 0 0 0 0 0 0 0 0 0 1 0 1 0 0 0 1 0 0 0 1 0 0 0 0 0 1 0 0 0 0 0 1 0 0 0 1 0 1 0 1 0 1 0 0 0 0 0 1 0 0 0 7 0 0 0 1 0 3 1-4 0-2 0-2 0-1 0-1 0 0 0-1 0 0 0-1 0 0 0 0 0-1 0 0 0-1 0 0 0 0 0-1 0 0 0 0 0 0 0 0 0 0 0-1 0-1 0 0 0 0 0 0 0 0 0-1 0 0 0 0 0-1 0 0 0 0 0-1 0-1 0 0 0-1 0-1 0 0 0-1 0 0 0 0 0-3 0 0 0 0 0 0 0 0 0 0 0-1 0 0 0 1 1 0 0 0 0 0 0 0 0 0 0 0 0 0 0 1 0 0 0 0 0 1 0 0 0 1 0 1 0 1 0 0 0 0 0 1 0 0 0 0 0 1 0 0 0 1 0 2 0 1 0 0 0 0 0 1 0 0 0 1 0 2 0 0 0 0 0 9 0-7 1-2 0 0 0-6 0 0 0-2 0 0 0 0 0-1 0-1 0 0 0-2 0-1 0 0 0 0 0-1 0-1 0-1 1 1 0 2 0 0 0 1 0 0 0 0 0 1 0 2 0 0 0 1 0 0 0 1 0 0 0 0 0 1 0 1 0 0 0 2 0 1 0 3 0 0 0 1 0 1 1-5 0-2 0 0 0-1 0-4 0 0 0-1 0-5 0 0 0-1 0 0 1 2 0 4 0 1 0 0 0 3 0 0 0 3 0 1 0 10 0-8 1-12 0 0 0-3 0 0 0 0 0-1 0 0 0 0 1 8 0 1 0 2 0 2 0-3 1-2 0-2 0-1 0-2 0-2 0 0 1 3 0-3 1-1 0 4 1 15 0-18 5"/>
</g>
<rect x="384.0" y="448.2" width="125.2" height="142.9" fill="none" stroke="#1a1a1a" stroke-width="1.5"/>
<path d="M435.0 445.7V589.1M384.0 518.0H509.2" stroke="#111" stroke-width="1.7"/>
<path d="M384.0 483.9h-1.5M415.3 591.1v1.5M384.0 519.6h-1.5M446.6 591.1v1.5M384.0 555.4h-1.5M477.9 591.1v1.5" stroke="#222" stroke-width="1"/>
<text transform="translate(382.2 586.1) rotate(-90)" font-family="Liberation Sans" font-weight="bold" font-size="6" fill="#222">10<tspan font-size="4" dy="-2">0</tspan></text>
<text transform="translate(382.2 555.4) rotate(-90)" font-family="Liberation Sans" font-weight="bold" font-size="6" fill="#222">10<tspan font-size="4" dy="-2">1</tspan></text>
<text transform="translate(382.2 519.6) rotate(-90)" font-family="Liberation Sans" font-weight="bold" font-size="6" fill="#222">10<tspan font-size="4" dy="-2">2</tspan></text>
<text transform="translate(382.2 483.9) rotate(-90)" font-family="Liberation Sans" font-weight="bold" font-size="6" fill="#222">10<tspan font-size="4" dy="-2">3</tspan></text>
<text transform="translate(382.2 448.2) rotate(-90)" font-family="Liberation Sans" font-weight="bold" font-size="6" fill="#222">10<tspan font-size="4" dy="-2">4</tspan></text>
<text x="384.0" y="597.9" font-family="Liberation Sans" font-weight="bold" font-size="6" fill="#222">10<tspan font-size="4" dy="-2">0</tspan></text>
<text x="415.3" y="597.9" font-family="Liberation Sans" font-weight="bold" font-size="6" fill="#222">10<tspan font-size="4" dy="-2">1</tspan></text>
<text x="446.6" y="597.9" font-family="Liberation Sans" font-weight="bold" font-size="6" fill="#222">10<tspan font-size="4" dy="-2">2</tspan></text>
<text x="477.9" y="597.9" font-family="Liberation Sans" font-weight="bold" font-size="6" fill="#222">10<tspan font-size="4" dy="-2">3</tspan></text>
<text x="509.2" y="597.9" font-family="Liberation Sans" font-weight="bold" font-size="6" fill="#222">10<tspan font-size="4" dy="-2">4</tspan></text>
<text transform="translate(375.8 519.6) rotate(-90)" font-family="Liberation Sans" font-weight="bold" font-size="5.4" fill="#222" text-anchor="middle" textLength="23" lengthAdjust="spacingAndGlyphs">FL1 LOG</text>
<text x="446.6" y="603.1" font-family="Liberation Sans" font-weight="bold" font-size="4.8" fill="#222" text-anchor="middle" textLength="20" lengthAdjust="spacingAndGlyphs">FL3 LOG</text>
<text x="430.5" y="466.9" font-family="Liberation Serif" stroke="#000" stroke-width="0.32" font-size="17.5" text-anchor="end">46%</text>
<text x="430.6" y="537.9" font-family="Liberation Serif" stroke="#000" stroke-width="0.32" font-size="17.5" text-anchor="end">28%</text>
<text x="505.4" y="538.5" font-family="Liberation Serif" stroke="#000" stroke-width="0.32" font-size="17.5" text-anchor="end">26%</text>
<text x="401.5" y="627.1" font-family="Liberation Serif" stroke="#000" stroke-width="0.32" font-size="17" textLength="83.1" lengthAdjust="spacingAndGlyphs">25μM 5-HT</text>
<g filter="url(#bl)">
<path class="k16" d="M114 661l-40 1 14 0 21 1-2 0-20 0-15 0 8 1 13 1-4 0-7 0 27 2-32 1 28 0 5 0-8 1-8 0 11 1-17 1-1 0-12 0 31 1 7 0 3 0-42 1-4 0 16 1 25 0 3 0-28 1 24 1-19 1 7 1 5 0-12 1-10 1 12 1 0 0-13 0 7 1 21 1-10 0-8 0 14 2-16 0 10 2-16 0-8 0 18 1-14 2-1 1-5 0 16 1 8 0 12 0 6 0-16 1-21 0 5 1 24 0 9 0-3 1-8 1 9 0-2 1-14 0-25 0 6 1 22 1-1 1-8 1-17 1 1 0 4 0 2 0 21 0 9 1-11 0-1 0-6 0-24 1 8 0 23 0 2 0-17 1-2 0 19 1 2 0 13 0-1 1-3 0-36 0-6 0 22 1 23 1-15 0-30 1 31 0 6 0 1 0-1 1-24 0-5 0-2 0-2 1 10 0 8 0 9 0-30 1 10 1"/>
<path class="k17" d="M70 717l3 1 3 0 30 0 7 1-36 0-2 0-2 0 37 2-36 0-2 1 32 0 0 1-24 1 26 0 0 0-17 1-1 0-5 0-4 1 2 0 28 1-14 0-18 0-8 0 5 1 32 1-15 0-14 0 35 1-6 1-11 1 16 0-8 1-23 0 3 1 32 1-4 0-8 0-7 0-26 0 5 1 0 0 19 0 1 0 6 0 6 0 2 0 4 0-39 2 32 0-36 2 39 0-2 1-24 0-11 0-3 1 3 0 41 1-4 0-20 0-2 1 7 0 15 0 8 1-10 0-15 0-22 1 12 0 6 1-3 1 3 0 29 0 0 0-23 1 8 2-18 1-1 2 24 0 6 1-10 0-32 0 33 1 11 0-14 1-10 0-1 0 0 1 17 0 3 1-41 1 12 0 8 1-20 0 0 0 8 1 23 1 6 1 10 0-21 1 0 0 3 1 16 1-31 0-8 1 2 0 19 0 3 0 14 1-18 0 7 1 4 2 7 0-26 1 20 1-10 1-13 1 6 0 19 1-23 1 8 0 17 1-18 0-20 0 5 1 11 0 12 0 8 0-33 1 9 1 12 0 4 0-10 1-17 0 2 1 6 0 6 1-17 2 0 1 13 0"/>
<path class="k18" d="M126 677l1 2 11 2-5 2-5 0 6 1 1 0 11 0-16 1 13 1-14 2 2 3 0 2 10 5-18 3 0 1 17 6-10 3-7 0"/>
<path class="k19" d="M113 718l3 1-31 1 26 0 1 1-31 1 13 0 19 1-42 0 46 2-26 0-18 1 13 0 2 0 2 0 4 0 15 0 1 0-32 1-3 1 20 0 17 0-1 1-20 0-13 1 25 0 6 0-7 1-20 0 12 1 22 1-38 1 2 0 20 0 1 0 6 1-8 0-7 0-8 0-8 0-5 0-3 0 26 1 20 0 1 0-19 1-4 0-6 0-5 0-1 0 4 1 2 0 14 0 8 0 7 0-23 1-13 0 19 1 1 0 4 0 7 0 4 1-10 0-8 0-2 0-13 0-7 0-2 1 10 0 17 0 9 0 7 0 2 1-5 0-2 0-5 0-16 0-13 0 0 0-5 0-2 0 11 1 9 0 1 0 5 0 6 0 5 0 6 1-20 0-20 1 21 0 9 0 14 0-11 1-29 0-1 0-6 0 1 1 30 0 0 0 15 1-19 0-2 0-11 0-13 0 3 1 29 0 8 1-8 0-7 0-2 0 0 0-9 0-12 1 4 0 0 0 4 0 7 0 9 0 1 0 16 0 2 0 1 0 0 1-22 0-6 0-1 0-2 0-5 0 7 1 3 0 7 0 10 0 5 0-15 1-10 0-1 0-1 0-2 0-3 0-7 1 17 0 0 0 7 0 8 0 8 0 4 0-11 1-2 0-23 0-2 0-10 1 8 0 4 0 6 0 15 0 2 2 8 0 0 0 2 1-6 0-2 0-29 0-2 0-3 0 2 1 11 0 2 0 5 0 3 0 7 0 4 0 5 1-1 0-10 0-12 1 3 0 0 0 6 0 8 0 5 0-8 1-9 0-1 0-3 0-2 0-7 0 0 1 12 0 12 0 9 0-40 1 27 2-1 0-9 0-3 0-7 0 11 1 0 0 6 0 5 0 11 0 1 0-4 1-13 0-11 0-3 0-5 0-1 1 39 1-6 0-24 0-5 0-7 0 0 0-2 0 0 1 38 1-3 0-26 0 1 1 3 0 26 0-28 2 11 0 10 0-5 1-22 2 13 1 9 0 9 0-20 3 28 1-20 1-12 1 13 0"/>
<path class="k25" d="M109 719l-33 2 10 1 9 2-25 2 29 0 4 0 5 0-17 1-9 0-4 0-6 1 10 0 20 1 0 0-1 0-8 0-14 0 3 1 10 0 1 0 14 0 1 0 9 1-11 0 0 0-2 0-7 0-10 0-2 0-2 0-1 0 0 0-1 0-5 0 2 1 7 0 0 0 6 0 11 0 0 0 1 0 11 0-2 1 0 0-3 0-8 0-1 0-14 0-2 0 0 0-4 0-1 0-4 0 4 1 4 0 11 0 3 0 9 0 2 0 9 0 0 1-1 0-4 0-1 0-7 0-17 0-15 1 5 0 3 0 1 0 3 0 1 0 2 0 0 0 2 0 8 0 6 0 11 0-21 1-13 0-4 0-2 0-6 0 0 1 12 0 2 0 3 0 0 0 3 0 5 0 0 0 14 0 1 0 5 0 0 0 1 0 2 1-8 0-1 0-2 0-1 0-1 0-7 0 0 0-1 0-2 0 0 0-1 0-1 0 0 0-1 0-4 0-1 0-7 1 1 0 1 0 1 0 2 0 1 0 5 0 0 0 2 0 1 0 3 0 1 0 5 0 0 0 3 0 7 1-1 0 0 0-5 0-5 0-1 0-1 0-1 0-1 0 0 0-2 0 0 0 0 0-4 0-1 0-1 0-2 0-3 0-1 0-3 0-6 0-4 0-1 0 0 0 3 1 0 0 5 0 0 0 2 0 2 0 3 0 2 0 0 0 2 0 1 0 0 0 2 0 0 0 0 0 7 0 2 0 5 0 1 0 0 0 7 0 5 0 0 0-4 1-6 0-1 0-2 0-1 0-6 0-1 0 0 0-1 0 0 0-4 0-1 0-1 0-2 0-3 0-1 0 0 0-1 0-3 0 0 0-3 0-1 0-1 0 0 0-2 0-2 0 1 1 0 0 1 0 3 0 4 0 1 0 3 0 3 0 1 0 0 0 2 0 0 0 1 0 1 0 1 0 5 0 1 0 0 0 3 0 0 0 3 0 3 0 6 0-6 1-2 0-1 0 0 0-1 0-1 0-2 0 0 0-1 0-4 0 0 0-2 0 0 0-2 0-4 0 0 0-2 0-1 0 0 0-2 0 0 0 0 0-2 0-2 0-1 0 0 0-1 0-4 0-2 1 5 0 1 0 1 0 0 0 0 0 1 0 1 0 1 0 4 0 0 0 1 0 0 0 1 0 1 0 1 0 4 0 0 0 3 0 0 0 2 0 0 0 0 0 1 0 1 0 1 0 0 0 1 0 1 0 1 0 0 0 1 0 0 0 2 0 5 0 2 0 2 1-2 0-3 0 0 0-1 0-1 0-2 0-1 0-4 0 0 0-1 0-1 0 0 0-3 0-1 0-2 0 0 0-1 0-3 0-1 0 0 0-2 0-2 0-1 0-3 0-1 0-1 0-3 0-1 0-2 0-1 0-2 1 4 0 2 0 2 0 0 0 3 0 2 0 1 0 1 0 3 0 1 0 3 0 2 0 0 0 1 0 0 0 0 0 1 0 1 0 3 0 0 0 1 0 0 0 1 0 2 0 2 0 9 1-2 0-1 0 0 0-2 0-8 0-2 0 0 0-3 0-2 0-1 0 0 0-2 0-1 0 0 0-1 0 0 0-1 0 0 0-1 0-1 0-1 0 0 0-1 0-1 0-3 0-2 0-1 0-1 0-1 0-1 0-2 0-1 0-3 0 1 1 0 0 2 0 2 0 2 0 1 0 0 0 1 0 1 0 0 0 4 0 1 0 0 0 1 0 1 0 1 0 2 0 1 0 5 0 3 0 0 0 2 0 0 0 0 0 2 0 3 0 0 0 2 0 2 0 1 0 0 0 1 0 2 0 2 0 0 0 2 1-1 0-1 0 0 0-5 0-3 0 0 0-1 0-1 0 0 0-2 0-1 0-1 0-2 0 0 0-1 0-2 0-2 0 0 0 0 0-1 0-1 0-1 0-1 0-1 0 0 0-1 0-1 0-1 0 0 0-1 0-1 0 0 0-1 0-1 0-1 0-2 0-1 0-3 0 0 0-2 0 0 0-3 0 1 1 2 0 4 0 0 0 1 0 0 0 2 0 0 0 1 0 2 0 2 0 1 0 0 0 0 0 2 0 1 0 1 0 2 0 0 0 1 0 0 0 0 0 2 0 0 0 1 0 1 0 2 0 0 0 2 0 1 0 2 0 0 0 0 0 1 0 3 0 1 0 1 0 0 0 5 1 0 0-3 0 0 0-3 0-3 0 0 0-3 0-1 0-1 0-1 0-3 0 0 0-1 0-1 0 0 0 0 0-1 0 0 0-1 0 0 0-2 0 0 0-1 0 0 0 0 0 0 0 0 0-1 0 0 0-3 0 0 0 0 0 0 0-1 0-1 0 0 0 0 0-2 0 0 0-1 0-2 0 0 0-1 0 0 0-2 0-1 0-2 0-3 0-1 0 0 1 5 0 1 0 6 0 1 0 2 0 2 0 4 0 1 0 0 0 1 0 0 0 0 0 1 0 0 0 5 0 5 0 0 0 1 0 4 0 6 0 4 1-4 0 0 0-1 0-2 0-2 0-2 0-2 0-5 0-1 0-5 0 0 0 0 0-2 0 0 0-1 0-1 0-1 0 0 0-6 0-2 0-1 0-5 0-6 1 4 0 1 0 0 0 7 0 2 0 1 0 0 0 2 0 0 0 2 0 2 0 2 0 3 0 4 0 0 0 1 0 1 0 1 0 4 0 0 0 0 0 5 0 1 0 1 0-3 1-1 0-2 0-2 0-1 0-1 0-1 0-2 0-2 0 0 0-2 0 0 0-4 0-4 0 0 0-1 0 0 0-1 0-2 0-2 0-1 0 0 0-1 0-1 0 0 0-2 0-3 0 0 0-1 0-3 1 1 0 1 0 3 0 0 0 1 0 4 0 1 0 1 0 4 0 1 0 2 0 1 0 2 0 1 0 2 0 1 0 0 0 0 0 1 0 0 0 1 0 0 0 1 0 0 0 5 0 1 0 1 0 0 0 0 0 2 0 5 0 5 0-2 1-4 0-1 0-2 0-3 0-2 0-2 0 0 0-2 0 0 0-2 0-1 0 0 0-1 0-2 0-2 0 0 0-1 0-3 0-1 0-1 0-1 0-2 0-1 0 0 0 0 0-1 0 0 0-1 0-3 0-2 0-1 0-1 1 0 0 5 0 1 0 0 0 1 0 1 0 1 0 2 0 3 0 0 0 3 0 0 0 0 0 4 0 4 0 1 0 2 0 2 0 3 0 1 0 1 0 3 0 3 0 1 0-9 1-1 0 0 0-3 0-1 0-3 0-2 0-1 0-1 0 0 0-2 0-2 0-2 0 0 0-1 0-3 0-9 0-1 0 0 0-2 1 1 0 3 0 4 0 5 0 0 0 2 0 1 0 0 0 2 0 0 0 0 0 0 0 0 0 1 0 4 0 0 0 0 0 1 0 0 0 1 0 2 0 4 0 9 0 6 0-1 1-3 0-5 0-3 0-1 0-3 0-1 0-1 0-3 0-2 0-1 0-1 0 0 0-2 0-2 0-4 0-1 0-2 0-2 0 0 0 0 0-1 0-6 0 2 1 4 0 8 0 1 0 1 0 1 0 3 0 3 0 5 0 6 0 3 0 7 0 0 0 1 0 0 0-7 1-2 0-5 0-1 0-1 0-1 0-3 0-2 0-1 0-1 0 0 0 0 0-1 0-1 0-1 0-3 0-3 0-1 0-11 0 0 0 0 0-1 0-2 1 5 0 1 0 10 0 2 0 3 0 3 0 1 0 4 0 0 0 2 0 9 0 1 0 1 0-1 1-7 0-13 0-3 0-5 0-3 0-4 0-3 1 15 0 17 0 7 0 1 0-10 1-9 0-3 0-2 0 0 0-4 0-3 0-11 0 5 1 9 0 4 0 16 0 0 0 0 0 6 0-8 1-9 0-7 0-8 0 6 1 0 0 8 0 8 1-28 0 9 2 13 1 21 1-36 0 5 2 3 7"/>
<path class="k26" d="M77 731l4 5 20 1-24 1 12 0 9 1-8 0-5 0-2 0-12 1 16 0 9 0 7 0-10 1-10 0-5 0-1 0-6 0 8 1 0 0 2 0 0 0 4 0 2 0 1 0 1 0 6 0 8 0 0 0 9 0-16 1-7 0-1 0-2 0 0 0-1 0-4 0-1 0 0 0-5 0 3 1 11 0 4 0 1 0 5 0 7 0 7 0-9 1-1 0-1 0-1 0-2 0-2 0-5 0-1 0-3 0-5 0 0 0-1 0-1 0-1 0-6 1 8 0 2 0 1 0 1 0 0 0 2 0 1 0 0 0 7 0 2 0 3 0 6 0-1 1-3 0-5 0-3 0-2 0-2 0 0 0-3 0-1 0 0 0-1 0-2 0-6 0-5 0-5 1 13 0 1 0 7 0 0 0 1 0 3 0 2 0 6 0 1 0 8 0 0 1-2 0-6 0-1 0-4 0-1 0-2 0 0 0-1 0-1 0-1 0-4 0 0 0-1 0 0 0-2 0 0 0-2 0-2 0-5 0-3 0-2 0-2 0 4 1 3 0 0 0 1 0 8 0 1 0 1 0 0 0 3 0 0 0 0 0 1 0 1 0 1 0 1 0 0 0 0 0 2 0 1 0 5 0 1 0 0 0 2 0 3 0-6 1-1 0-2 0-1 0 0 0-3 0-1 0 0 0-2 0 0 0-2 0-1 0 0 0-2 0 0 0 0 0-2 0-2 0 0 0-1 0-1 0 0 0 0 0-2 0 0 0-2 0 0 0 0 0-4 0-2 0 1 1 0 0 6 0 5 0 3 0 1 0 0 0 1 0 1 0 1 0 0 0 2 0 0 0 1 0 0 0 1 0 0 0 2 0 0 0 0 0 1 0 4 0 2 0 3 0 1 0 1 0-7 1-1 0 0 0 0 0-1 0 0 0-1 0-1 0-1 0 0 0-4 0-3 0-1 0-1 0 0 0-1 0 0 0 0 0-4 0-1 0-2 0 0 0-3 0-1 0-2 0-4 1 4 0 4 0 3 0 2 0 0 0 0 0 2 0 2 0 1 0 1 0 1 0 1 0 1 0 0 0 1 0 0 0 1 0 2 0 2 0 3 0 6 0 1 0 1 0 10 0-3 1-7 0-3 0 0 0-1 0-2 0-2 0-1 0-1 0 0 0-3 0-2 0-1 0-3 0 0 0-1 0-2 0 0 0 0 0 0 0-2 0-1 0-1 0-2 0-2 0-1 0-2 0-1 0-4 0 1 1 1 0 6 0 1 0 1 0 1 0 0 0 0 0 0 0 4 0 2 0 2 0 0 0 0 0 0 0 1 0 0 0 1 0 3 0 0 0 3 0 4 0 1 0 11 1-11 0-2 0-1 0-1 0-3 0 0 0-1 0-1 0-4 0 0 0-2 0 0 0 0 0-2 0-5 0 0 0-1 0 0 0-2 0-4 0 3 1 2 0 1 0 0 0 1 0 4 0 1 0 2 0 0 0 2 0 2 0 2 0 2 0 1 0 3 0 1 0 3 0 7 1-5 0-7 0-4 0 0 0-2 0-1 0 0 0-10 0-4 0-7 1 12 0 5 0 4 0 0 0 1 0 0 0 5 0 4 0 8 0-4 1-1 0-4 0-2 0 0 0-5 0-4 0-13 0-1 0 3 1 3 0 3 0 9 0 4 0 2 0 1 0 6 0 0 0-12 1-2 0-6 0 1 1 10 0 4 1-5 0-1 0-3 0-9 0-2 0-6 1 14 1-1 0 18 2-19 0"/>
<path class="k27" d="M133 717l-12 0 28 1-28 2 27 0 11 1-19 1-5 1 6 1 5 0 0 0 6 1-8 0-12 0-7 1 8 0 9 0 1 1-14 0-8 1 17 1-10 0-4 0 5 1 15 0 19 0-14 1-9 0-18 0-2 1 13 0 17 0-14 1-9 0-5 1 4 0 9 0 0 0 18 0-21 2 9 0 20 0-22 1-7 0-6 0-6 0 14 1 6 1-4 0-2 0-13 1 1 0 2 0 1 0 2 0 5 0 4 0 14 0 0 1-13 0-1 0-3 0-3 0-2 0-6 0 7 1 16 0-5 1-14 1 1 0 1 0 0 0 1 0 0 0 7 0 7 0 2 0 1 0 4 1-17 0-8 0-2 0 1 1 5 0 13 0 20 1-11 0-9 0-15 1 3 0 14 0-2 1-3 0-13 0 6 1 12 0 2 0 2 0-12 1-7 0-3 0 2 1 6 0 13 0-5 1-2 0-8 0 17 1 5 0-10 1-5 0-2 0-10 0 0 0 0 0-7 1 3 0 5 0 1 0 1 0 1 0 2 0 10 0 5 1-7 0-5 0-2 0-13 1 7 0 1 0 8 0 1 0 4 0 17 0-17 1-1 0-3 0-8 0-8 0-1 0-1 1 1 0 0 0 6 0 1 0 4 0 1 0 2 0 10 0 1 0 1 1-11 0-5 0-7 1 7 0 16 0 3 0-7 1-9 0-3 0-3 0-3 0-1 0-2 1 9 0 4 0 24 0-24 1-2 0 0 0-2 0-6 0-3 1 15 0 16 0 8 1-18 0-6 0-8 1 12 1-4 0-11 1 0 0 4 0 11 0 4 0 10 1-16 0-2 0-10 0-7 0 10 1 3 0 9 0-13 1-5 0 10 2-14 0 21 2-12 1 8 0-7 1 0 0-10 1 17 0 14 0-23 2 4 0 6 3 7 3"/>
<path class="k28" d="M123 717l1 1-4 1 11 1 3 1 6 3-5 4-2 1-11 1 1 0 2 0 2 0 6 0 7 0 1 1-9 0-3 0-9 1 3 0 8 1-1 0-9 1 5 0 4 0 8 1-4 0-4 0 0 0 0 0 0 0-3 0-6 0-1 0 4 1 2 0 6 0 0 0 8 1-9 0 0 0-4 0-2 0 0 0-2 0-1 0 3 1 1 0 1 0 1 0 0 0 1 0 4 0 2 0 0 0 2 0 5 0-5 1-1 0-1 0-2 0-5 0-2 0-3 0-3 1 2 0 0 0 1 0 1 0 3 0 1 0 3 0 1 0 0 0 2 0 4 0 5 0-5 1 0 0-3 0-3 0-5 0-3 0-1 0-2 0 1 1 0 0 2 0 2 0 8 0 2 0 15 0-7 1-8 0-1 0-1 0-2 0-3 0 0 0-1 0-4 0-4 0 1 1 4 0 1 0 0 0 2 0 0 0 1 0 1 0 2 0 1 0 0 0 1 0 0 0 1 0 0 0 0 0 2 0 10 0-10 1-1 0 0 0-1 0-1 0-2 0-1 0-2 0 0 0 0 0-1 0 0 0 0 0 0 0-1 0 0 0-1 0-1 0 0 0 0 0-3 0 0 0-1 0-1 0 0 1 1 0 1 0 0 0 4 0 1 0 0 0 1 0 2 0 1 0 3 0 1 0 1 0 0 0 6 0 6 0-6 1-6 0-3 0 0 0 0 0 0 0-1 0-1 0 0 0-1 0 0 0-2 0-1 0-4 0 0 0-2 0 0 0 1 1 1 0 3 0 1 0 2 0 0 0 1 0 0 0 2 0 1 0 2 0 5 1-5 0-1 0 0 0-2 0-1 0 0 0 0 0-2 0 0 0 0 0-1 0 0 0 0 0-2 0 0 0-1 0-1 0-1 0 0 0-1 0-1 0 1 1 1 0 1 0 0 0 0 0 1 0 1 0 0 0 4 0 1 0 0 0 1 0 1 0 1 0 0 0 5 0-1 1 0 0-1 0-1 0-2 0 0 0 0 0-1 0-1 0-1 0 0 0-1 0-2 0-1 0-1 0-1 0 0 0 0 0 0 0-1 0 0 0-1 0 0 0 0 0-1 0-1 0-1 0 0 1 0 0 1 0 4 0 1 0 0 0 0 0 0 0 0 0 0 0 0 0 1 0 0 0 1 0 1 0 0 0 5 0 3 0 1 0 1 0 10 1-13 0-1 0-2 0 0 0-1 0-1 0 0 0-1 0 0 0-1 0 0 0-5 0-1 0 0 0-1 0-2 0 2 1 2 0 1 0 4 0 0 0 1 0 1 0 1 0 2 0 2 0 0 0 3 0 1 0 1 1 0 0-2 0-4 0-1 0 0 0-2 0-1 0 0 0-2 0-1 0-1 0 0 0 0 0 0 0-1 0-1 0-2 0 0 0 0 0-1 0-1 0-1 0 0 0 0 1 0 0 1 0 1 0 0 0 1 0 2 0 2 0 1 0 1 0 0 0 1 0 2 0 0 0 2 0 1 0 0 0 1 0 4 1-3 0-3 0 0 0-1 0-2 0-1 0-1 0-1 0 0 0-1 0 0 0-1 0 0 0-1 0-1 0-1 0 0 0 0 0-1 0 0 0-1 0 0 0-1 1 1 0 0 0 1 0 0 0 1 0 0 0 0 0 1 0 1 0 2 0 0 0 1 0 3 0 1 0 1 0 0 0 3 0 0 0 3 0 3 0-2 1-4 0-2 0-1 0-1 0 0 0 0 0-1 0 0 0-1 0-2 0-2 0 0 0-1 0 0 0-1 0 0 0-1 0 0 0-1 0 0 0-1 0 0 0 0 0 0 0-1 1 1 0 1 0 0 0 1 0 1 0 3 0 0 0 2 0 1 0 1 0 1 0 1 0 0 0 0 0 0 0 1 0 1 0 1 0 0 0 3 0 1 0 5 0-11 1-1 0-1 0 0 0 0 0-2 0 0 0-1 0 0 0 0 0-1 0-1 0 0 0 0 0-1 0-1 0-1 0-1 0 0 0 0 0-2 0 0 0-1 1 0 0 2 0 0 0 2 0 0 0 1 0 1 0 1 0 0 0 1 0 0 0 0 0 1 0 0 0 1 0 0 0 0 0 2 0 2 0 1 0 1 0 1 0 1 0-2 1-3 0-2 0-1 0 0 0 0 0-1 0 0 0-1 0 0 0-1 0 0 0-1 0 0 0-1 0-3 0-2 0 0 1 1 0 0 0 0 0 0 0 1 0 0 0 0 0 1 0 0 0 1 0 0 0 0 0 1 0 1 0 1 0 2 0 0 0 1 0 1 0 0 0 1 0 0 0 1 0 1 0 3 0 3 0 1 1-4 0-1 0-1 0-1 0 0 0-2 0-1 0 0 0-1 0 0 0-1 0 0 0 0 0-1 0-2 0-1 0 0 0 0 0-2 0 0 0-2 0-1 0 0 0 0 1 0 0 1 0 0 0 1 0 0 0 0 0 1 0 0 0 2 0 0 0 0 0 0 0 0 0 0 0 1 0 1 0 1 0 1 0 0 0 2 0 2 0 9 0 0 1-2 0-2 0-2 0-2 0 0 0 0 0-1 0-3 0-1 0 0 0-2 0-3 0 0 0-1 0-1 0-1 0-1 1 2 0 1 0 1 0 1 0 0 0 1 0 0 0 0 0 1 0 1 0 1 0 2 0 1 0 2 0 1 0 3 0-4 1-1 0-2 0-1 0-1 0 0 0 0 0-2 0-1 0-2 0 0 0 0 0 0 0-2 0 0 0-2 0 4 1 0 0 1 0 0 0 1 0 2 0 1 0 3 0 1 0 1 0 4 1-5 0-1 0-1 0-2 0-1 0 0 0 0 0 0 0-1 0 0 0-2 0-1 0-1 0-1 0 0 0 0 0-2 0 2 1 2 0 2 0 1 0 2 0 1 0 0 0 1 0 2 0 0 0 3 0 0 0-6 1-2 0-1 0-1 0 0 0-1 0-1 0-4 0 0 0 0 0 4 1 0 0 2 0 0 0 2 0 0 0 1 0 2 0 4 0 0 0 3 1-4 0-2 0 0 0-3 0-2 0-1 0-3 0-1 0-2 1 1 0 3 0 0 0 4 0 1 0 1 0 2 0 2 0 4 0 2 0-10 1 0 0 0 0-5 0 6 2-3 0 0 0-2 0-2 0 7 1 0 0 1 0 3 1-5 0-7 0 9 1 4 0-15 1 16 1-13 1-4 1 15 0-4 1-8 0-1 0-1 1 2 0"/>
<path class="k23" d="M96 647l-4 3 15 1-26 0-1 0 13 1 6 0-19 2 18 0 13 0-7 1-17 0 2 1 14 0 5 0-16 1 2 1-1 1 0 0-1 0-6 1 30 1-11 0-2 0-7 0 0 0-7 0 0 0 2 1 8 0 0 1-11 1 4 0 25 1-13 0-13 0-1 0-8 0-12 1 13 0 6 0 9 0 12 1-9 0-8 0-5 0-19 0 14 1 11 0 5 0 13 0 5 0-14 1-18 0-2 0-1 0-10 0-3 0 15 1 5 0 9 0 8 0-8 1-29 0 0 1 7 0 9 0 0 0 21 0 11 0 0 1-12 0-20 0-17 0 23 1 4 0 13 1-1 0-5 0-2 0-2 0-11 0-10 0 18 1 1 0 11 1 0 0-4 0 0 0-31 0-1 0-2 0 0 0-1 0 2 1 3 0 7 0 29 0-4 1-2 0-7 0-10 0-3 0-6 0-8 0 0 0 0 1 0 0 4 0 2 0 1 0 6 0 1 0 15 0 2 1-3 0-3 0-11 0-13 1 6 0 11 0 3 0 13 0 1 0 4 0-13 1-2 0-6 0-1 0-2 0-14 0-1 0 0 0-1 0 13 1 7 0 6 0 21 1-22 0-3 0-1 0-2 0-16 1 3 0 3 0 25 0 5 0-11 1-12 0-2 0-12 1 19 0 3 0 8 0-4 1-4 0-6 0-10 0-2 0-4 0-2 0 1 1 1 0 46 0-3 1-18 0-3 0-12 0-6 0-5 0-1 0 5 1 14 0 4 0 3 0 4 0 16 1-14 0-21 0-10 0-1 0 0 0 1 1 30 0 7 0 6 0-17 1-12 0-13 0-1 0 3 1 2 0 8 0 1 0 17 0-7 1-10 0-15 0 2 1 4 0 14 0 11 1-22 0 11 1 1 1-14 1 19 0 1 0 2 0-3 1-16 1 2 0-5 1-6 0 0 0 0 1 0 0 5 2 4 0-7 1-1 0-1 0 0 1 0 1 13 2-1 0-12 0-1 1 1 0"/>
<path class="k32" d="M99 650l3 1 1 3-5 1-3 1 3 0 12 0-15 1-10 1 16 0 5 0-1 1-2 0-2 0-2 0-2 0-7 0-2 1 4 0 3 0 2 0 0 0 1 0 7 0 1 1-3 0-3 0-2 0-2 0-5 0-1 0-1 0 1 1 3 0 1 0 0 0 9 0 4 0 1 0-4 1-3 0-7 0 0 0-2 0 0 0-1 0-8 0-7 1 9 0 5 0 0 0 2 0 2 0 0 0 2 0 0 0 2 0 5 0-1 1-2 0-8 0-2 0-3 0-2 0-2 1 3 0 1 0 2 0 2 0 2 0 0 0 1 0 0 0 0 0 2 0 1 0 0 0 0 0 1 0 1 0 1 0 7 0-4 1 0 0-1 0-2 0 0 0-1 0 0 0-4 0-1 0-1 0-1 0-1 0 0 0-2 0-1 0 0 0-1 0-1 0-1 0-3 0-7 0 3 1 1 0 4 0 1 0 2 0 0 0 1 0 0 0 2 0 2 0 2 0 1 0 0 0 1 0 0 0 0 0 2 0 1 0 4 0 2 0 1 0-5 1-3 0-1 0-1 0-3 0-1 0-2 0 0 0-5 0 0 0 0 0-1 0 0 0-1 0-1 0 0 0-1 0-1 0-2 0-2 0-3 1 8 0 0 0 2 0 0 0 3 0 0 0 0 0 0 0 1 0 1 0 0 0 1 0 1 0 0 0 2 0 2 0 0 0 0 0 1 0 0 0 4 0 0 0 1 0 1 0 3 1-6 0 0 0-4 0 0 0-2 0 0 0-2 0-1 0 0 0-1 0 0 0 0 0 0 0 0 0-1 0 0 0-1 0 0 0-1 0-1 0-2 0-8 0 0 1 5 0 1 0 2 0 0 0 1 0 1 0 3 0 0 0 1 0 0 0 0 0 1 0 0 0 0 0 1 0 0 0 1 0 1 0 0 0 0 0 1 0 0 0 1 0 0 0 2 0 1 0 0 0 0 0 0 0 0 0 2 0 1 0 2 0 2 0 1 1-3 0 0 0-2 0-2 0-1 0-1 0-1 0-1 0 0 0 0 0-3 0 0 0 0 0-1 0-1 0 0 0 0 0 0 0-1 0 0 0 0 0 0 0 0 0 0 0-1 0-1 0 0 0 0 0-1 0 0 0-1 0-1 0 0 0-1 0-1 0-5 1 4 0 1 0 1 0 0 0 0 0 1 0 0 0 2 0 1 0 1 0 0 0 0 0 1 0 0 0 0 0 0 0 0 0 1 0 0 0 1 0 0 0 1 0 0 0 0 0 0 0 2 0 0 0 1 0 1 0 0 0 0 0 0 0 1 0 0 0 0 0 1 0 2 0 1 0 1 0-2 1 0 0-1 0-1 0 0 0-2 0 0 0 0 0-1 0-3 0 0 0-1 0-1 0 0 0-1 0 0 0-1 0-1 0 0 0 0 0 0 0 0 0-1 0 0 0-1 0-1 0 0 0 0 0 0 0-1 0 0 0 0 0-3 0 0 0-3 0-1 0-4 1 1 0 1 0 4 0 1 0 1 0 1 0 1 0 0 0 1 0 0 0 1 0 0 0 0 0 0 0 0 0 1 0 0 0 0 0 1 0 0 0 0 0 0 0 1 0 0 0 0 0 0 0 1 0 0 0 0 0 0 0 0 0 0 0 1 0 0 0 1 0 0 0 1 0 0 0 1 0 2 0 1 0 1 0 1 0 0 0 1 0 1 0 10 0-12 1-2 0-2 0 0 0-1 0 0 0 0 0 0 0 0 0-1 0 0 0 0 0 0 0-1 0-1 0 0 0-1 0 0 0 0 0 0 0-1 0 0 0 0 0 0 0 0 0 0 0 0 0-1 0 0 0 0 0-2 0 0 0-1 0 0 0 0 0 0 0 0 0-1 0 0 0 0 0 0 0 0 0-2 0 0 0 0 0-1 0-5 0-1 0 2 1 1 0 0 0 2 0 1 0 0 0 0 0 0 0 2 0 0 0 1 0 0 0 1 0 0 0 0 0 0 0 1 0 1 0 0 0 0 0 0 0 2 0 0 0 0 0 1 0 0 0 0 0 0 0 0 0 0 0 2 0 0 0 1 0 0 0 0 0 0 0 1 0 1 0 0 0 1 0 0 0 2 0 2 0 2 0 1 1-4 0-3 0 0 0 0 0-1 0-1 0 0 0-1 0-1 0-1 0 0 0 0 0 0 0-1 0 0 0-1 0 0 0 0 0-1 0-1 0 0 0 0 0 0 0 0 0-1 0 0 0 0 0-1 0 0 0 0 0 0 0-1 0 0 0-1 0-1 0 0 0-1 0 0 0 0 0 0 0-1 0 0 0-2 0 0 0-4 1 2 0 2 0 0 0 1 0 0 0 0 0 1 0 0 0 3 0 1 0 0 0 0 0 1 0 0 0 0 0 1 0 0 0 0 0 1 0 0 0 0 0 0 0 2 0 0 0 0 0 1 0 0 0 1 0 0 0 2 0 0 0 0 0 1 0 0 0 1 0 0 0 4 0 2 0 2 0-5 1-1 0 0 0-1 0 0 0 0 0-2 0-1 0-1 0 0 0 0 0 0 0 0 0-1 0-1 0-1 0 0 0-1 0-2 0 0 0-1 0-1 0 0 0 0 0 0 0 0 0 0 0 0 0-1 0 0 0-1 0 0 0-1 0-1 0 0 0-1 0-2 0-1 0-4 1 2 0 3 0 0 0 0 0 0 0 1 0 0 0 0 0 2 0 1 0 0 0 0 0 0 0 2 0 2 0 0 0 0 0 1 0 0 0 0 0 1 0 1 0 0 0 1 0 0 0 1 0 1 0 0 0 0 0 1 0 0 0 1 0 0 0 0 0 1 0 0 0 3 0 0 0 7 0-7 1 0 0-3 0-1 0 0 0 0 0-1 0-1 0 0 0-1 0 0 0 0 0-1 0-1 0-1 0 0 0 0 0 0 0-1 0 0 0-2 0 0 0-1 0 0 0-1 0 0 0-2 0 0 0-1 0 0 0 0 0 0 0 0 0-1 0 0 0-1 0-2 0-1 0 0 0-1 1 0 0 0 0 4 0 1 0 1 0 1 0 0 0 2 0 1 0 0 0 0 0 0 0 0 0 1 0 0 0 1 0 0 0 0 0 1 0 0 0 0 0 0 0 1 0 0 0 0 0 0 0 1 0 0 0 0 0 1 0 1 0 0 0 1 0 0 0 7 0-1 1-2 0 0 0-3 0-1 0-2 0-1 0 0 0 0 0-1 0 0 0 0 0 0 0-1 0-1 0-1 0 0 0-1 0 0 0 0 0 0 0-1 0 0 0-1 0-1 0 0 0 0 0-1 0 0 0 0 0 0 0 0 0-1 0 0 0-1 0-1 0-2 0 0 0-1 1 0 0 1 0 1 0 1 0 1 0 0 0 0 0 3 0 1 0 0 0 1 0 0 0 0 0 0 0 1 0 0 0 2 0 1 0 0 0 1 0 0 0 1 0 0 0 1 0 1 0 0 0 2 0 1 0 7 1-3 0-1 0-2 0-2 0-1 0-1 0 0 0-1 0-2 0-1 0 0 0 0 0-2 0 0 0-1 0-1 0 0 0 0 0 0 0-3 0 0 0-1 0 0 0-1 0 0 0 0 0-1 0-1 0-3 0 0 0 1 1 0 0 2 0 0 0 3 0 0 0 1 0 0 0 1 0 2 0 1 0 2 0 1 0 0 0 1 0 0 0 0 0 1 0 0 0 4 0 6 0-1 1-1 0-1 0-2 0-3 0 0 0-1 0-1 0-1 0 0 0-2 0 0 0-1 0-1 0 0 0 0 0-1 0 0 0 0 0 0 0 0 0-2 0 0 0-4 0-1 0 0 0 0 0-1 0 0 0-1 0-1 1 1 0 0 0 0 0 0 0 0 0 0 0 2 0 1 0 1 0 1 0 1 0 1 0 1 0 0 0 2 0 0 0 0 0 0 0 1 0 1 0 2 0 0 0 1 0 2 0 1 0 1 0 0 1-2 0-2 0-1 0 0 0-1 0-1 0 0 0-3 0-2 0 0 0 0 0 0 0 0 0-1 0 0 0-1 0-1 0-2 0-1 0 0 0 0 0-1 0 0 0 0 0-1 1 1 0 0 0 3 0 2 0 2 0 2 0 0 0 2 0 2 0 6 0 3 1-1 0-10 0-3 0 0 0-2 0 0 0-1 0-1 0-2 0-2 0 0 0 0 0-1 1 0 0 1 0 4 0 1 0 1 0 0 0 0 0 0 0 1 0 3 0 2 0 6 1-9 0-8 0-1 0-1 1 1 0 0 0 0 0 0 0 4 0 1 0 2 0 3 0 4 0-2 1-1 0-4 0 0 0-2 0-2 0-1 0-1 0 0 1 0 0 1 0-1 1-1 0 0 0 0 0-1 0 3 1 2 0-3 1-1 0 0 0 0 0 4 1-3 1-1 0 0 1 1 1-1 1 3 0-3 1-1 1 0 3"/>
</g>
<rect x="67.2" y="645.7" width="124.5" height="143.2" fill="none" stroke="#1a1a1a" stroke-width="1.5"/>
<path d="M118.5 643.2V786.9M67.2 715.5H191.7" stroke="#111" stroke-width="1.7"/>
<path d="M67.2 681.5h-1.5M98.3 788.9v1.5M67.2 717.3h-1.5M129.4 788.9v1.5M67.2 753.1h-1.5M160.6 788.9v1.5" stroke="#222" stroke-width="1"/>
<text transform="translate(65.4 783.9) rotate(-90)" font-family="Liberation Sans" font-weight="bold" font-size="6" fill="#222">10<tspan font-size="4" dy="-2">0</tspan></text>
<text transform="translate(65.4 753.1) rotate(-90)" font-family="Liberation Sans" font-weight="bold" font-size="6" fill="#222">10<tspan font-size="4" dy="-2">1</tspan></text>
<text transform="translate(65.4 717.3) rotate(-90)" font-family="Liberation Sans" font-weight="bold" font-size="6" fill="#222">10<tspan font-size="4" dy="-2">2</tspan></text>
<text transform="translate(65.4 681.5) rotate(-90)" font-family="Liberation Sans" font-weight="bold" font-size="6" fill="#222">10<tspan font-size="4" dy="-2">3</tspan></text>
<text transform="translate(65.4 645.7) rotate(-90)" font-family="Liberation Sans" font-weight="bold" font-size="6" fill="#222">10<tspan font-size="4" dy="-2">4</tspan></text>
<text x="67.2" y="795.7" font-family="Liberation Sans" font-weight="bold" font-size="6" fill="#222">10<tspan font-size="4" dy="-2">0</tspan></text>
<text x="98.3" y="795.7" font-family="Liberation Sans" font-weight="bold" font-size="6" fill="#222">10<tspan font-size="4" dy="-2">1</tspan></text>
<text x="129.4" y="795.7" font-family="Liberation Sans" font-weight="bold" font-size="6" fill="#222">10<tspan font-size="4" dy="-2">2</tspan></text>
<text x="160.6" y="795.7" font-family="Liberation Sans" font-weight="bold" font-size="6" fill="#222">10<tspan font-size="4" dy="-2">3</tspan></text>
<text x="191.7" y="795.7" font-family="Liberation Sans" font-weight="bold" font-size="6" fill="#222">10<tspan font-size="4" dy="-2">4</tspan></text>
<text transform="translate(59.0 717.3) rotate(-90)" font-family="Liberation Sans" font-weight="bold" font-size="5.4" fill="#222" text-anchor="middle" textLength="23" lengthAdjust="spacingAndGlyphs">FL1 LOG</text>
<text x="129.4" y="800.9" font-family="Liberation Sans" font-weight="bold" font-size="4.8" fill="#222" text-anchor="middle" textLength="20" lengthAdjust="spacingAndGlyphs">FL3 LOG</text>
<text x="115.1" y="664.6" font-family="Liberation Serif" stroke="#000" stroke-width="0.32" font-size="17.5" text-anchor="end">37%</text>
<text x="115.1" y="736.2" font-family="Liberation Serif" stroke="#000" stroke-width="0.32" font-size="17.5" text-anchor="end">31%</text>
<text x="181.5" y="736.3" font-family="Liberation Serif" stroke="#000" stroke-width="0.32" font-size="17.5" text-anchor="end">31%</text>
<text x="89.2" y="825.8" font-family="Liberation Serif" stroke="#000" stroke-width="0.32" font-size="17" textLength="81.2" lengthAdjust="spacingAndGlyphs">50μM 5-HT</text>
<g filter="url(#bl)">
<path class="k16" d="M231 662l18 0 1 0 15 1-3 0-25 0 0 0-10 0 25 1 15 1-40 1 38 0-9 2 14 1-35 0-8 1 11 0 13 0 14 0-10 1-19 0-4 1 34 0-17 1-3 0-15 1 12 0 22 1-39 0 46 1-8 1-8 0-1 2-18 0 32 1-14 1 3 1-32 2 30 0-19 1 0 0-7 1 21 0 15 1-1 0-2 0-12 0-8 0 17 2-18 0-4 1 4 0 2 0 20 1-11 0-26 0 0 0 37 1 2 1-24 2-11 0-8 1 30 0 17 1-39 0-5 1 14 0 10 0 11 0 8 0-28 1-10 1 6 0 9 0 6 0 18 0-28 1 29 2-10 0-22 0-3 1 1 0 0 0 1 0 20 1-24 0-5 0 1 1 14 0 4 0 1 0 13 1-7 0-1 0-23 1 7 0 22 0 8 1-6 0-19 0-17 0 0 1 2 0 36 0 5 0 1 0-13 1-3 0-21 1 31 0"/>
<path class="k17" d="M246 717l-12 1 26 0 11 1-47 1 24 0 1 0 23 1-36 0-12 1 47 0 0 0-2 1-43 1 4 0 25 0 8 1-12 0-14 0 25 1-19 1-16 1-4 1 24 2-1 0-9 0-7 1 19 1-5 0-6 0 3 1 14 0 6 1-17 0-13 0-6 0 3 1 3 0 5 0 10 0 10 0 9 0-30 1-8 1 34 1-17 0-3 0 1 3 9 0 12 0 5 0-3 1-10 0-7 1-11 1-5 1 36 0 2 0-6 1-40 0 1 1 30 0-14 1-14 1 1 0 35 0-21 1-8 1 24 0-12 2 3 0-7 1-9 0 25 2-15 0-9 1 18 0 16 0-1 1-6 0-25 0 21 2-15 0-17 0 41 1-42 2 17 0 5 0 13 0 9 0-40 1-1 1 11 0 2 0 4 1-1 0 5 1 23 1-7 0-40 1 39 0-36 1 30 1 7 0 6 1-21 0-2 0-16 0-3 1 2 0 7 0 8 0 9 0 17 0-19 1-1 0 8 1-12 1-14 0-2 0-5 1 11 1-1 0 33 1-1 1-13 0-8 0-10 0 28 1-9 1-15 0-3 0-2 0 18 1 13 0-5 1-32 1 13 0 15 1-7 1"/>
<path class="k18" d="M286 669l18 20-19 1 13 0-14 2 13 0 4 1-7 3 6 0 6 0-22 5 14 2-1 0-18 0-2 0 22 2-2 1 4 0-5 5 1 2-11 0"/>
<path class="k19" d="M264 719l2 1-9 1-27 2 11 1 4 0 25 0-26 2 6 0 6 0 9 1-27 2 29 1-39 2 1 0 0 0 11 1-8 1 2 0 12 0 1 0 2 0 16 0 5 1-1 0-2 1 5 0-21 1-8 0-9 0-4 0-3 0 44 1-4 1-4 0-9 0-14 0-7 0-2 0 36 2-5 0-5 0-30 0 31 1 2 0-4 1-1 0-20 0-6 1 6 0 3 0 29 0-9 1 0 0-1 0-16 0-8 0-1 0-6 0 4 1 10 0 13 0 6 0 11 1-10 0-19 0-2 0-8 0-3 0-2 0-1 0 16 1 2 0 2 0 1 0 2 0 5 0 8 0 4 0-7 1-9 0-4 0-17 1 16 0 5 0 2 0 5 1-7 0-11 0-6 0 6 1 6 0 0 0 7 0 10 0 9 1-16 0-11 0-11 0-4 0 2 1 13 0 4 0 6 0 3 0 13 0-7 1-13 0-3 0-9 0-11 0 12 1 1 0 3 0 6 0 0 0 5 0 12 0 1 0 0 0-19 1-11 0-11 0 7 1 18 0 7 0 14 0-4 1-30 0-13 0 14 1 5 0 7 0 4 0 17 0-44 1-3 0 11 1 13 0 13 0 2 0 1 0 1 0-20 1-1 0-4 0 18 1 5 0 1 0-2 1-17 0-15 0 3 1 2 0 6 0 14 0 15 1-22 0-8 0-6 1 3 0 24 1-20 0-11 1 15 0 14 0 9 1-6 0-11 0-16 1 13 0 10 0 10 0-1 1-4 0-20 0-6 0 31 1 1 0-5 1-4 0-14 0-15 0-6 0 0 1 23 0 3 0 19 0-25 1-11 0 33 1-25 1-15 3 34 0-13 1-9 0-5 2 36 2-23 1 7 0"/>
<path class="k25" d="M245 718l11 2 9 0-11 4-20 2 30 1-35 1 11 3-10 1 4 0 2 0 15 0 0 0 3 0-5 1 0 0-12 0-10 1 7 0 8 0 4 0 10 0 7 0 1 0 2 0 5 0-10 1-18 0-16 0 0 1 1 0 0 0 12 0 2 0 2 0 13 0 6 0 1 0-2 1-15 0-3 0-3 0-4 0-2 0-5 0-4 0-2 1 3 0 2 0 1 0 7 0 14 0 10 0 8 1-3 0-1 0-2 0-6 0 0 0-1 0-1 0-1 0-2 0-1 0-4 0 0 0-2 0-1 0-6 0-3 0-5 0-5 0-1 0 7 1 6 0 2 0 4 0 3 0 0 0 0 0 7 0 0 0 3 0 9 0 4 0 2 1-2 0-1 0-3 0-1 0-1 0-8 0-2 0 0 0-2 0-5 0-1 0 0 0 0 0-7 0-6 0-4 0-2 1 3 0 3 0 6 0 1 0 4 0 1 0 0 0 1 0 2 0 11 0 5 0 3 0 3 1-7 0-2 0-2 0-1 0-4 0 0 0-4 0-2 0-2 0-1 0-1 0-1 0 0 0-1 0-3 0 0 0-3 0-8 0-1 0 0 0 0 1 0 0 1 0 2 0 0 0 0 0 4 0 6 0 3 0 2 0 7 0 1 0 0 0 4 0 2 0 1 0 3 0 1 0 5 0 0 0 3 1-9 0-1 0-1 0 0 0-1 0-2 0 0 0-1 0-1 0-1 0-1 0 0 0-1 0-1 0-1 0-3 0-1 0-5 0-1 0-3 0-2 0-2 0 0 0-4 0-5 0 4 1 5 0 0 0 3 0 6 0 4 0 3 0 0 0 5 0 1 0 1 0 1 0 1 0 2 0 0 0 0 0 3 0 7 1-3 0 0 0-6 0-2 0 0 0-1 0-10 0-6 0-2 0 0 0-1 0 0 0-2 0 0 0 0 0-2 0 0 0-1 0-3 0-1 0-4 0 1 1 4 0 0 0 2 0 0 0 3 0 1 0 3 0 0 0 1 0 3 0 0 0 2 0 2 0 1 0 0 0 4 0 1 0 1 0 4 0 4 0 1 0 2 0 1 1-3 0-1 0 0 0 0 0-4 0 0 0-3 0-3 0-3 0-3 0-2 0-2 0-1 0-5 0-3 0-8 0 0 0-2 1 0 0 1 0 1 0 5 0 1 0 2 0 1 0 2 0 1 0 1 0 0 0 1 0 0 0 1 0 1 0 1 0 0 0 0 0 1 0 1 0 4 0 2 0 1 0 1 0 1 0 1 0 0 0 2 0 8 0 2 0 1 0 0 0 1 1-3 0-3 0-1 0 0 0-1 0-3 0 0 0-4 0-1 0 0 0 0 0-1 0-4 0 0 0 0 0-1 0-2 0-1 0 0 0-2 0-1 0-3 0-3 0-1 0 0 0-1 0 0 0-1 0-2 0-1 0-1 0-1 0-2 0-1 0 1 1 3 0 0 0 3 0 3 0 2 0 3 0 2 0 4 0 1 0 0 0 1 0 0 0 1 0 0 0 0 0 0 0 2 0 2 0 0 0 2 0 0 0 1 0 0 0 0 0 0 0 1 0 4 0 1 0 0 0 0 0 1 0 0 0 4 0 1 0 0 0 1 0 2 0 0 0-1 1-1 0-1 0 0 0-2 0 0 0-5 0 0 0-1 0-2 0-2 0-3 0-1 0-3 0 0 0-1 0-1 0-1 0-2 0-1 0-1 0-1 0-1 0 0 0-2 0-2 0 0 0-3 0-4 0 0 0-2 0-1 0-1 0 0 0-1 1 0 0 2 0 3 0 0 0 2 0 1 0 1 0 2 0 1 0 0 0 2 0 2 0 1 0 2 0 0 0 0 0 0 0 3 0 0 0 0 0 1 0 4 0 1 0 1 0 2 0 2 0 2 0 2 0 0 0 0 0 2 0 3 0 1 0 1 0 1 0 0 0 1 0 2 1-1 0 0 0 0 0-3 0-1 0-3 0-1 0-1 0-2 0-1 0 0 0 0 0-4 0-2 0-2 0 0 0-1 0 0 0-1 0-1 0-1 0 0 0-2 0 0 0-1 0-1 0-2 0-1 0 0 0-1 0-1 0-1 0-1 0-5 0-3 0-2 0-2 0 4 1 2 0 1 0 1 0 1 0 4 0 1 0 2 0 2 0 3 0 0 0 4 0 0 0 0 0 1 0 3 0 0 0 1 0 0 0 3 0 1 0 1 0 0 0 1 0 4 0 1 0 2 0 1 0 0 0 1 0 1 0 0 0 1 0 1 1 0 0-2 0-4 0-2 0-1 0-2 0-2 0 0 0-1 0-1 0-1 0-2 0 0 0-1 0-1 0-1 0 0 0-2 0-2 0-1 0-1 0-2 0-2 0-2 0 0 0-2 0-1 0-2 0-1 0-2 0-1 0 0 0-2 0 0 0-4 0 1 1 3 0 1 0 0 0 1 0 1 0 2 0 1 0 1 0 2 0 2 0 2 0 0 0 2 0 1 0 0 0 1 0 2 0 1 0 0 0 0 0 1 0 1 0 0 0 1 0 0 0 0 0 0 0 2 0 2 0 4 0 3 0 0 0 0 0 1 0 2 0 2 0 3 0 2 0 0 1-1 0-3 0-1 0-6 0 0 0 0 0 0 0-1 0-2 0-1 0-1 0-1 0-3 0-2 0-1 0-6 0 0 0-1 0 0 0-1 0-1 0 0 0-1 0-3 0 0 0-7 0 0 0-2 0-3 0 5 1 3 0 2 0 2 0 1 0 0 0 1 0 0 0 7 0 1 0 1 0 0 0 1 0 0 0 0 0 3 0 1 0 4 0 3 0 3 0 1 0 6 0 1 0 1 0-1 1 0 0-2 0-2 0-1 0-1 0-4 0 0 0-1 0 0 0 0 0-2 0-2 0-1 0-1 0-3 0-2 0-3 0 0 0-1 0-2 0-1 0-1 0 0 0-3 0-2 0-1 0 0 0-2 0-2 0-4 0 3 1 0 0 1 0 3 0 2 0 2 0 1 0 3 0 8 0 0 0 6 0 2 0 0 0 0 0 2 0 2 0 0 0 0 0 1 0 1 0 0 0 0 0 3 0 6 0-2 1-2 0-1 0-5 0 0 0-1 0-1 0-4 0-6 0 0 0 0 0-5 0-2 0-6 0-2 0-1 0 0 0-1 0-1 0-1 0-4 0-1 0-1 0 5 1 1 0 1 0 1 0 4 0 1 0 2 0 3 0 3 0 4 0 2 0 1 0 0 0 0 0 0 0 1 0 0 0 5 0 1 0 4 0 2 0 4 0 1 0 1 0 0 0 0 0 0 0 0 1-5 0-6 0-1 0-2 0 0 0-2 0 0 0-1 0-3 0 0 0-6 0 0 0-1 0-2 0-1 0-4 0 0 0-2 0-3 0-4 0-2 0-1 1 5 0 5 0 10 0 2 0 4 0 1 0 2 0 0 0 1 0 8 0 2 0 3 0 0 0 4 0 0 0-10 1-2 0 0 0-3 0-4 0-1 0-1 0-4 0 0 0-6 0-2 0-4 0-1 0 0 0-4 0-3 0-2 0-1 0 0 1 6 0 4 0 1 0 2 0 1 0 4 0 5 0 4 0 1 0 8 0 10 1-4 0-2 0-1 0 0 0-6 0-1 0-2 0-4 0-2 0-3 0-2 0 0 0-5 0 0 0 0 0-2 0 0 0-1 0 0 0-1 0-2 0-3 0 0 0-2 0-1 0-1 1 1 0 0 0 19 0 4 0 1 0 2 0 0 0 0 0 1 0 1 0 4 0 2 0 1 0 5 0 2 0 1 0 1 1-1 0-3 0-3 0-17 0 0 0-2 0-1 0-1 0 0 0-8 0-1 0-1 0-1 0 0 0-2 0-4 1 1 0 11 0 2 0 6 0 6 0 0 0 5 0 0 0 1 0 3 0 8 0 2 1-6 0-4 0-3 0-1 0-5 0-4 0-9 0-4 0-10 1 9 0 2 0 2 0 11 0 16 0 2 0 2 0 3 1-6 0-1 0-4 0-13 0-8 0-5 0-7 0-1 0 5 1 9 0 2 0 1 0 0 0 4 0 16 0 4 0-20 1-5 0-9 0-1 0-1 0-4 0 11 1 31 0-12 1-27 1 8 0 4 0 17 1-3 0-4 0-3 0-23 0 3 1 9 0 20 0-8 1 15 2-3 0-11 2-1 0 3 1"/>
<path class="k26" d="M224 740l42 0-23 2 1 0 18 0 1 1-27 1 11 0 3 0 8 0-29 2 21 0 4 0 1 0 4 0 2 0 4 1-7 0-18 0-2 0-3 0-1 0-4 1 7 0 1 0 4 0 3 0 1 0 9 0 2 0-1 1 0 0 0 0-2 0-3 0-1 0-1 0-3 0-3 0-1 0-1 0-3 0-1 0-5 0 2 1 2 0 3 0 0 0 3 0 1 0 1 0 4 0 3 0 1 0 1 0 3 0 1 0 11 1-2 0-6 0-3 0-1 0-10 0-1 0 0 0-3 0-2 0-1 0-1 0 0 0-2 0-2 0-7 0 4 1 1 0 0 0 0 0 3 0 1 0 1 0 1 0 2 0 0 0 2 0 1 0 3 0 1 0 1 0 6 0 1 0 1 0 14 1-1 0-5 0-3 0-10 0-3 0 0 0-2 0-1 0-1 0-1 0-2 0 0 0 0 0-3 0-2 0-1 0-1 0-1 0 0 0-4 0-5 0 0 1 3 0 2 0 3 0 0 0 2 0 1 0 0 0 3 0 0 0 4 0 3 0 1 0 0 0 0 0 1 0 1 0 0 0 0 0 0 0 1 0 2 0 2 0 1 0 1 0 5 0 9 0-5 1-1 0-5 0-1 0-1 0-1 0-1 0 0 0 0 0-2 0 0 0 0 0-1 0-1 0 0 0 0 0 0 0-1 0-1 0 0 0 0 0-2 0 0 0-2 0-1 0-1 0 0 0 0 0 0 0-1 0-2 0 0 0 0 0-1 0-1 0-1 0 0 0-1 0-1 0-1 0-1 0-1 0-6 1 4 0 1 0 1 0 2 0 1 0 0 0 3 0 2 0 0 0 2 0 1 0 1 0 2 0 2 0 0 0 2 0 1 0 2 0 1 0 0 0 0 0 0 0 1 0 0 0 7 0 2 0 3 0-1 1-2 0 0 0-3 0 0 0-1 0 0 0-1 0-1 0-2 0 0 0-1 0 0 0-1 0-1 0-3 0 0 0 0 0-1 0-1 0-1 0 0 0-1 0-1 0 0 0-1 0-1 0 0 0-1 0-1 0 0 0-1 0-1 0 0 0-2 0-1 0-6 0-5 0 1 1 0 0 7 0 1 0 4 0 2 0 3 0 2 0 1 0 1 0 1 0 1 0 2 0 2 0 2 0 2 0 0 0 1 0 2 0 1 0 3 0 1 0 6 0 1 1-5 0 0 0-4 0-2 0-1 0 0 0-1 0-3 0-1 0-1 0-3 0-3 0 0 0-1 0-1 0 0 0-1 0-1 0 0 0-1 0 0 0 0 0-1 0-1 0-3 0 0 0 0 0-1 0-1 0-5 0-1 0-3 0 7 1 3 0 0 0 1 0 3 0 2 0 0 0 0 0 1 0 4 0 1 0 2 0 0 0 1 0 0 0 3 0 3 0 0 0 1 0 7 0 0 0 2 0-5 1-4 0-3 0-3 0-1 0 0 0-2 0-4 0-2 0 0 0-1 0-1 0-1 0-1 0-2 0-7 0-6 0 3 1 8 0 4 0 1 0 2 0 4 0 0 0 1 0 1 0 0 0 1 0 2 0 0 0 0 0 2 0 4 0 5 0 3 0-4 1-1 0-1 0-6 0-3 0-1 0-1 0 0 0-2 0 0 0 0 0-2 0 0 0-6 0-7 0-6 1 7 0 1 0 6 0 1 0 0 0 6 0 1 0 1 0 0 0 1 0 0 0 0 0 3 0 3 0 4 0 3 0-8 1-5 0-4 0-1 0-1 0-1 0 0 0 0 0-3 0-1 0-2 0-6 0-6 1 4 0 1 0 1 0 10 0 3 0 7 0 2 0 7 0 1 0 6 0-9 1-2 0-5 0-1 0-21 0 4 1 2 0 2 0 10 0 1 0 9 0 2 1-7 0-1 0-21 0-5 0 10 1 20 1-1 0-13 0 2 1 2 0 2 1"/>
<path class="k27" d="M298 718l7 0-13 1 2 2-1 0 9 1 29 1-37 0-1 0-13 1 4 0 21 2-9 1 8 1 1 0 7 1-25 1 7 0 7 0 2 1-11 0-1 0-2 0-11 1 4 0 8 0 8 0 13 0-20 2 5 0 30 1-24 0-7 0-6 0-4 0-8 1 3 0 7 0 19 0 7 1-21 0-8 0-1 0-5 0 3 1 17 0 2 0 0 0-6 1-1 0-8 0-10 0 4 1 1 0 17 0 2 0-1 1-1 0-4 0 0 0-6 0-1 0-6 1 9 0 0 0 2 0 8 0 18 1-26 0-1 0-5 0-5 0-6 1 8 0 2 0 1 0 11 0 10 1-15 0-4 0-1 1 17 0 3 1-8 0-1 0-13 0-9 0 8 1 1 0 3 0 20 0 1 0 10 0 4 0-14 1-2 0-6 0-11 0-1 0-8 0-1 0-2 0 2 1 23 0 11 1-9 0-14 0-2 0-8 0 0 1 16 0 1 0 5 0-14 1-2 0-5 0-2 0 1 1 5 0 10 0 16 0-9 1-14 0-8 0 6 1 5 0 1 0 5 0 1 0 2 0 1 1-13 0-9 0-5 0 2 1 7 0 6 0 9 0 4 1-5 0-2 0-1 0-2 0-8 0-2 0-6 1 10 0 12 0 1 0 1 0 6 0 8 0-11 1 0 0-10 0-17 0 13 1 6 0 12 0 7 1-9 0-6 0-1 0-7 0-9 0-7 0 24 1 19 1-5 0-9 0-5 0 0 0-2 0-7 0 0 0-9 0-1 0-5 1 4 0 2 0 4 0 10 0 4 0 4 0 3 0 6 0-11 1-3 0-15 1 8 0 9 0 6 0-12 1-10 0-1 1 4 0 11 0-3 1 0 0-6 0-7 0 8 1 12 0 0 0 6 1-11 0-14 0-1 1 5 0 4 0 19 0-15 1-6 0-12 1 2 0 17 0 1 0 0 1-19 0 5 1 3 0 16 0 8 0-16 1-3 0-4 0-11 1 3 0 3 0 5 0 6 0 23 1-27 1 2 0 2 0 25 1-34 0-8 1 22 0-9 1-2 0-11 1 29 0-15 1"/>
<path class="k28" d="M285 721l7 1-9 3 4 3 2 3 6 2-11 0 5 1 1 0 11 0-13 1-2 0-1 0-2 0-4 0-1 1 5 0 7 0 6 1-1 0-4 0-4 1 5 0 0 0 7 0-11 1-1 0-3 0-3 0-2 1 7 0 3 0 5 0-4 1-11 0-1 1 2 0 4 0 4 0 5 0 0 0 1 0 2 0-2 1-3 0 0 0-3 0-1 0-1 0-1 0 0 0-4 0-6 1 4 0 2 0 0 0 0 0 1 0 0 0 1 0 1 0 0 0 1 0 3 0 1 0 1 0 0 0 6 0 6 1-8 0 0 0-7 0-3 0-7 0 0 0-2 0 1 1 0 0 2 0 3 0 0 0 1 0 2 0 0 0 2 0 2 0 1 0 3 0 4 1-1 0-3 0-3 0-1 0 0 0-4 0-2 0-1 0-1 0 0 0-2 0 3 1 1 0 2 0 3 0 2 0 2 0 1 0 7 0-2 1-2 0 0 0-2 0-1 0-1 0 0 0-3 0-1 0-3 0-2 0 0 0-1 0-4 0 0 1 2 0 1 0 1 0 3 0 0 0 3 0 0 0 1 0 0 0 1 0 1 0 0 0 4 0 2 0 3 0 1 1 0 0-5 0-5 0-1 0-1 0 0 0-4 0 0 0-3 0-1 0 0 0-2 0 1 1 0 0 3 0 0 0 1 0 2 0 0 0 1 0 0 0 1 0 3 0 2 0 1 0 4 0 3 1-1 0-4 0-7 0-3 0-1 0 0 0-2 0-1 0 0 0-3 0 0 0 0 0-2 0 0 0 0 0-1 0 0 1 1 0 1 0 0 0 2 0 1 0 2 0 2 0 3 0 0 0 1 0 0 0 1 0 1 0 0 0 1 0 0 0 0 0 2 0 1 0 1 0 0 0 1 0 2 0 2 0-1 1-3 0-2 0-1 0-1 0-4 0 0 0-1 0-1 0-1 0 0 0-2 0-1 0-2 0-1 0-1 0 0 0 0 0-2 0-1 0-1 0 1 1 3 0 1 0 1 0 0 0 1 0 0 0 1 0 1 0 0 0 2 0 0 0 0 0 0 0 0 0 1 0 0 0 2 0 0 0 0 0 1 0 0 0 1 0 0 0 1 0 0 0 2 0 0 0 2 0 1 0 2 1-5 0-3 0-1 0-1 0 0 0-2 0-3 0 0 0 0 0-1 0-1 0-2 0 0 0-1 0-1 0 0 0 0 0-1 0-2 1 1 0 1 0 2 0 2 0 1 0 1 0 0 0 0 0 0 0 1 0 0 0 1 0 1 0 0 0 0 0 3 0 1 0 1 0 0 0 0 0 1 0 1 0 0 0 0 0 2 0 1 0 0 0 8 1-14 0-1 0 0 0-1 0 0 0-1 0 0 0 0 0-1 0 0 0-1 0-1 0-2 0 0 0-2 0 0 0 0 0-2 0-3 0 1 1 2 0 0 0 0 0 0 0 1 0 0 0 0 0 1 0 0 0 0 0 0 0 1 0 0 0 1 0 2 0 2 0 0 0 0 0 1 0 0 0 1 0 1 0 2 0 1 0 1 0 0 0 0 0 4 0 0 0 10 0-5 1-1 0-5 0-4 0 0 0-1 0 0 0-2 0 0 0-1 0-1 0 0 0 0 0-1 0-1 0 0 0-1 0-1 0 0 0-1 0-1 0 0 0-2 0 0 0-3 0 0 0 0 1 2 0 0 0 2 0 0 0 0 0 2 0 2 0 1 0 0 0 0 0 1 0 0 0 0 0 0 0 2 0 0 0 0 0 1 0 1 0 1 0 4 0 1 0 4 0 1 0 2 0-6 1-2 0 0 0-2 0-1 0-1 0 0 0-1 0-1 0-1 0-1 0 0 0-2 0 0 0 0 0-1 0 0 0 0 0-2 0 0 0-1 0 0 0-1 0 0 0-4 0-1 0 0 1 1 0 0 0 2 0 2 0 0 0 2 0 0 0 1 0 0 0 0 0 0 0 0 0 1 0 0 0 1 0 0 0 0 0 0 0 0 0 1 0 0 0 2 0 0 0 0 0 1 0 2 0 0 0 2 0 1 0 0 0 1 0 3 0 1 0 1 0-2 1-3 0-3 0 0 0-1 0-1 0 0 0-2 0-1 0 0 0-2 0 0 0 0 0-4 0 0 0 0 0-1 0-1 0 0 0 0 0-2 0 0 0 0 0 0 0-1 1 2 0 0 0 1 0 1 0 0 0 0 0 1 0 1 0 0 0 1 0 1 0 1 0 1 0 1 0 0 0 0 0 1 0 1 0 0 0 0 0 0 0 1 0 0 0 1 0 2 0 0 0 5 0 0 0 4 1 0 0-5 0-2 0-1 0 0 0-1 0-1 0-3 0-1 0-1 0 0 0 0 0 0 0 0 0-1 0-1 0 0 0-1 0-1 0 0 0-1 0-1 0 0 0-1 0-1 0 0 0-1 0 0 0-2 1 0 0 0 0 1 0 1 0 0 0 2 0 0 0 2 0 0 0 0 0 1 0 0 0 2 0 1 0 1 0 0 0 1 0 0 0 2 0 1 0 0 0 1 0 1 0 2 0 3 1-2 0-1 0-3 0 0 0 0 0 0 0-1 0-3 0 0 0 0 0 0 0-1 0 0 0-1 0 0 0-1 0-1 0 0 0 0 0-1 0-2 0-1 0-2 0-3 0 1 1 1 0 1 0 1 0 2 0 0 0 0 0 0 0 0 0 2 0 2 0 0 0 1 0 0 0 1 0 2 0 4 0 1 0 0 0 3 0 1 0 0 1 0 0-4 0 0 0-1 0-1 0-2 0 0 0-1 0-1 0-1 0-1 0-1 0 0 0-1 0 0 0 0 0 0 0-3 0 0 0-1 0 0 0-1 0-1 0-1 0 0 1 0 0 1 0 0 0 0 0 2 0 0 0 2 0 0 0 1 0 1 0 0 0 0 0 2 0 0 0 0 0 1 0 0 0 2 0 1 0 2 0 2 0 2 0 1 0 6 1-6 0-2 0-1 0 0 0-2 0-2 0-1 0 0 0-1 0-2 0 0 0-1 0 0 0-1 0-1 0 0 0 0 0 0 0-1 0 0 0 0 0-1 0-1 0-2 0-2 0-1 1 0 0 1 0 1 0 2 0 1 0 1 0 0 0 2 0 1 0 0 0 0 0 5 0 4 0 5 0 1 0 0 0-1 1-2 0-4 0-1 0 0 0-2 0-3 0 0 0-1 0 0 0-1 0-1 0-1 0 0 0-1 0-1 0-1 0 0 0-3 0 0 0-1 0 2 1 3 0 0 0 1 0 1 0 1 0 1 0 0 0 2 0 0 0 1 0 1 0 1 0 0 0 2 0 0 0 2 0 3 1-1 0-2 0-2 0-1 0 0 0-1 0-1 0 0 0-2 0-1 0 0 0-1 0-6 0-2 1 2 0 0 0 3 0 1 0 1 0 1 0 0 0 1 0 1 0 2 0 1 0 1 0 1 0 9 1-5 0-1 0-4 0-1 0 0 0-4 0-3 0-1 0-1 0-1 0 0 0-1 0 0 0 1 1 3 0 1 0 2 0 0 0 1 0 0 0 1 0 7 0 8 0-1 1-3 0-6 0 0 0-3 0-6 0-1 0-2 0-4 0 0 1 3 0 2 0 1 0 3 0 2 0 1 0 2 0 1 0 0 0 1 0 3 0 5 0-10 1-2 0 0 0-3 0-3 0-1 0-3 0-1 0 0 0 0 0 1 1 1 0 1 0 3 0 0 0 1 0 2 0 0 0 0 0 1 0 2 0 0 0 5 0 0 0-3 1-1 0-2 0-2 0-7 0 0 0-1 1 3 0 7 0 0 0-3 1 0 0-1 0-8 0 6 1 0 0 3 0"/>
<path class="k23" d="M224 648l33 0 14 0-20 1 10 1-17 1 23 1-2 1-16 1 18 1-11 1 16 0-42 2 9 1 4 1 11 0 6 0 0 1-20 0-6 1 24 0 5 0-7 1-3 0-20 0 35 1-33 1-12 1 1 0 1 0 3 0 36 0 4 0 0 0 1 0-1 1-11 0-15 0-3 0 2 1 12 1-7 0-21 1 10 0 17 0 7 0 4 1-3 0-10 0-3 0-14 1 30 0-18 1-21 0 28 1 2 0 11 0 1 0 3 0 0 0-14 1-22 0-1 0-4 1 8 0 10 0 3 0 13 0 5 0-9 1-2 0-6 0-3 0-4 0-7 0-7 0 0 1 19 0 17 0-7 1-1 0-8 0-15 0-7 1 7 0 10 0 17 1-6 0-15 0-11 0 3 1 23 1-20 0-9 0-2 0 0 1 7 0 5 0 13 0 8 0 8 0 5 1-8 0-8 0-8 0-4 0-3 0-15 1 9 0 6 0 7 0 6 0 13 0-1 1-22 0-12 0-6 0 0 0 0 1 30 0 11 0-25 1-3 0-1 0-2 0-5 0 0 0-5 1 2 0 23 0 2 0 5 0 2 0 7 0 5 1-44 1 31 1-6 0-1 0-6 0-20 0 1 1 7 0 28 0 1 0 6 1-39 0-3 1 8 0 14 0 10 1-14 0-7 0 0 0-11 0-1 1 2 0 22 1-15 0-5 0 9 1 3 0 5 0-14 1-7 1 18 0 3 0 4 0 7 0 12 0-8 1-15 0-12 0-9 1 21 0 3 1 0 1 12 1-36 0 9 2 0 1 7 1-5 2-11 0 0 0 30 1"/>
<path class="k33" d="M254 655l12 1-4 1-9 1 2 0 13 1-13 1 5 0 2 1 0 0-1 0-2 0-18 1 8 0 8 0 7 1-3 0-7 0-1 0-1 0-2 0-4 0-2 0 5 1 2 0 0 0 1 0 1 0 1 0 4 0 7 1-15 0-2 0-3 0 3 1 4 0 1 0 6 0 1 0 7 0-8 1-5 0-9 0-1 0-4 1 2 0 5 0 1 0 0 0 2 0 0 0 1 0 3 0 2 0 1 0 2 0 6 1-4 0-4 0-1 0-1 0-4 0 0 0-1 0 0 0 0 0-3 0-9 1 4 0 1 0 2 0 0 0 4 0 2 0 2 0 0 0 1 0 2 0 0 0 0 0 9 0-11 1-1 0 0 0-1 0-1 0 0 0-1 0-1 0-3 0-1 0 0 0-2 0-1 0 0 0 0 0-4 0 0 1 2 0 3 0 1 0 0 0 1 0 0 0 1 0 2 0 3 0 1 0 4 0 0 0 0 0 8 0-8 1-1 0-3 0 0 0 0 0 0 0-3 0-1 0-3 0-2 0 0 0-2 0-9 0 5 1 3 0 1 0 0 0 1 0 0 0 0 0 0 0 2 0 0 0 0 0 0 0 1 0 0 0 1 0 1 0 3 0 0 0 0 0 0 0 1 0 0 0 0 0 0 0 1 0 1 0 1 0 0 0 2 0 0 0 0 0 1 0 3 0 3 0 1 0 3 0-6 1-3 0-3 0-4 0-1 0-1 0-1 0 0 0 0 0-2 0 0 0-1 0-1 0-3 0-2 0-1 0 0 0 0 0-5 1 5 0 0 0 3 0 1 0 1 0 1 0 1 0 0 0 2 0 1 0 0 0 1 0 0 0 1 0 0 0 1 0 0 0 1 0 1 0 2 0 0 0 0 0 5 0 7 1-6 0-4 0-4 0-1 0-2 0 0 0-2 0 0 0-1 0 0 0 0 0-2 0 0 0 0 0-1 0 0 0 0 0-2 0 0 0-1 0-1 0 0 0 0 0 0 0 0 0 0 0-1 0 0 0-2 0-1 0 0 0-3 0-1 1 1 0 1 0 0 0 1 0 2 0 0 0 0 0 1 0 1 0 1 0 1 0 0 0 1 0 1 0 1 0 1 0 1 0 0 0 0 0 1 0 0 0 1 0 0 0 0 0 0 0 4 0 0 0 1 0 1 0 0 0 2 0 0 0 1 0-2 1-2 0-2 0 0 0 0 0-1 0-1 0 0 0 0 0-1 0 0 0-1 0 0 0 0 0 0 0 0 0 0 0-1 0 0 0-1 0-1 0 0 0-1 0-1 0-1 0-1 0-1 0-1 0 0 0-2 0-2 0-1 0-1 0 3 1 0 0 1 0 1 0 2 0 0 0 0 0 1 0 0 0 1 0 0 0 0 0 1 0 0 0 0 0 0 0 0 0 1 0 0 0 1 0 0 0 1 0 0 0 0 0 0 0 0 0 1 0 0 0 0 0 1 0 1 0 1 0 1 0 0 0 1 0 1 0 0 0 1 0 1 0 1 0 1 0-2 1 0 0 0 0-1 0-4 0 0 0-1 0-1 0 0 0-1 0-1 0-1 0 0 0-1 0-1 0 0 0 0 0 0 0-1 0 0 0 0 0-1 0 0 0 0 0 0 0 0 0-1 0 0 0 0 0 0 0-1 0-1 0 0 0 0 0 0 0-1 0-3 0-1 0-7 1 3 0 3 0 1 0 1 0 2 0 2 0 1 0 2 0 1 0 0 0 1 0 0 0 1 0 0 0 1 0 0 0 0 0 1 0 0 0 1 0 0 0 1 0 0 0 1 0 5 0 2 0 0 0-1 1-1 0-2 0-1 0-1 0-2 0 0 0 0 0 0 0 0 0-2 0 0 0 0 0-1 0 0 0 0 0-1 0-1 0 0 0 0 0 0 0 0 0-1 0 0 0-1 0 0 0 0 0 0 0-1 0-1 0-1 0-1 0-3 0-2 0-4 1 0 0 2 0 0 0 1 0 2 0 1 0 0 0 1 0 0 0 0 0 1 0 0 0 0 0 1 0 1 0 0 0 0 0 1 0 0 0 1 0 0 0 0 0 2 0 0 0 0 0 1 0 0 0 0 0 1 0 1 0 1 0 1 0 0 0 0 0 1 0 1 0 3 0 0 0 6 0-2 1-3 0-3 0 0 0 0 0-2 0 0 0 0 0-1 0 0 0-1 0 0 0 0 0 0 0-1 0 0 0-1 0-2 0-1 0 0 0-1 0 0 0-1 0 0 0-1 0 0 0-1 0 0 0 0 0-1 0 0 0-3 0-1 0 0 0 0 0 0 0-1 0-3 0-1 0-1 1 1 0 1 0 0 0 1 0 1 0 2 0 1 0 0 0 1 0 0 0 0 0 1 0 0 0 0 0 1 0 0 0 0 0 0 0 1 0 0 0 0 0 1 0 0 0 0 0 0 0 2 0 0 0 0 0 0 0 0 0 1 0 0 0 0 0 1 0 0 0 1 0 1 0 1 0 1 0 2 0 0 0 4 0 1 0 1 0 0 0 6 1-7 0-4 0-2 0-1 0-2 0-1 0 0 0-1 0-1 0 0 0-1 0-1 0-1 0 0 0 0 0-1 0-1 0 0 0 0 0-1 0-2 0-1 0 0 0 0 0-2 0-6 0 1 1 1 0 8 0 1 0 0 0 2 0 2 0 1 0 1 0 0 0 1 0 0 0 2 0 0 0 0 0 0 0 2 0 0 0 2 0 1 0 1 0 1 0 2 1-5 0 0 0-5 0 0 0-1 0-1 0 0 0-2 0-1 0 0 0-2 0-1 0-1 0-3 0 0 0-3 0-1 0-3 1 2 0 0 0 1 0 1 0 1 0 2 0 1 0 2 0 1 0 1 0 0 0 0 0 0 0 1 0 1 0 2 0 1 0 0 0 4 0 0 0 2 0-1 1-1 0-1 0-2 0-1 0-1 0-1 0 0 0-2 0 0 0-1 0-1 0-1 0-1 0 0 0-2 0 0 0 0 0-1 0-2 0 0 0-1 0-1 1 1 0 1 0 1 0 1 0 0 0 0 0 2 0 0 0 4 0 0 0 1 0 0 0 0 0 2 0 1 0 0 0 2 0 0 0 1 0 6 0 3 1-6 0 0 0 0 0-2 0-4 0-2 0-2 0-4 0 0 0 0 0-2 0-3 0 0 0-1 0 0 0-1 0 0 1 1 0 0 0 1 0 1 0 1 0 2 0 1 0 0 0 1 0 2 0 2 0 1 0 2 0 0 0 3 0 10 0-4 1-7 0-4 0-3 0-2 0-1 0-1 0-1 0-1 0-1 0-1 0-2 0-1 0 1 1 2 0 3 0 2 0 0 0 2 0 6 0 2 0 2 0 6 0-10 1-8 0 0 0-1 0-2 0-4 1 1 0 0 0 1 0 5 0 1 0 3 0 4 1-1 0-13 0-1 0 0 0 0 0 3 1 1 0 0 0 6 0 2 0 1 0 10 0-8 1-12 0-3 1 5 0 1 0 1 0-2 1-5 1 10 1-2 0-3 1 5 2 1 2-11 2"/>
</g>
<rect x="222.3" y="646.5" width="131.0" height="142.4" fill="none" stroke="#1a1a1a" stroke-width="1.5"/>
<path d="M272.8 644.0V786.9M222.3 716.0H346.7" stroke="#111" stroke-width="1.7"/>
<path d="M222.3 682.1h-1.5M255.1 788.9v1.5M222.3 717.7h-1.5M287.8 788.9v1.5M222.3 753.3h-1.5M320.6 788.9v1.5" stroke="#222" stroke-width="1"/>
<text transform="translate(220.5 783.9) rotate(-90)" font-family="Liberation Sans" font-weight="bold" font-size="6" fill="#222">10<tspan font-size="4" dy="-2">0</tspan></text>
<text transform="translate(220.5 753.3) rotate(-90)" font-family="Liberation Sans" font-weight="bold" font-size="6" fill="#222">10<tspan font-size="4" dy="-2">1</tspan></text>
<text transform="translate(220.5 717.7) rotate(-90)" font-family="Liberation Sans" font-weight="bold" font-size="6" fill="#222">10<tspan font-size="4" dy="-2">2</tspan></text>
<text transform="translate(220.5 682.1) rotate(-90)" font-family="Liberation Sans" font-weight="bold" font-size="6" fill="#222">10<tspan font-size="4" dy="-2">3</tspan></text>
<text transform="translate(220.5 646.5) rotate(-90)" font-family="Liberation Sans" font-weight="bold" font-size="6" fill="#222">10<tspan font-size="4" dy="-2">4</tspan></text>
<text x="222.3" y="795.7" font-family="Liberation Sans" font-weight="bold" font-size="6" fill="#222">10<tspan font-size="4" dy="-2">0</tspan></text>
<text x="255.1" y="795.7" font-family="Liberation Sans" font-weight="bold" font-size="6" fill="#222">10<tspan font-size="4" dy="-2">1</tspan></text>
<text x="287.8" y="795.7" font-family="Liberation Sans" font-weight="bold" font-size="6" fill="#222">10<tspan font-size="4" dy="-2">2</tspan></text>
<text x="320.6" y="795.7" font-family="Liberation Sans" font-weight="bold" font-size="6" fill="#222">10<tspan font-size="4" dy="-2">3</tspan></text>
<text x="353.3" y="795.7" font-family="Liberation Sans" font-weight="bold" font-size="6" fill="#222">10<tspan font-size="4" dy="-2">4</tspan></text>
<text transform="translate(214.1 717.7) rotate(-90)" font-family="Liberation Sans" font-weight="bold" font-size="5.4" fill="#222" text-anchor="middle" textLength="23" lengthAdjust="spacingAndGlyphs">FL1 LOG</text>
<text x="287.8" y="800.9" font-family="Liberation Sans" font-weight="bold" font-size="4.8" fill="#222" text-anchor="middle" textLength="20" lengthAdjust="spacingAndGlyphs">FL3 LOG</text>
<text x="269.6" y="664.9" font-family="Liberation Serif" stroke="#000" stroke-width="0.32" font-size="17.5" text-anchor="end">21%</text>
<text x="270.3" y="736.4" font-family="Liberation Serif" stroke="#000" stroke-width="0.32" font-size="17.5" text-anchor="end">39%</text>
<text x="344.9" y="736.4" font-family="Liberation Serif" stroke="#000" stroke-width="0.32" font-size="17.5" text-anchor="end">40%</text>
<text x="238.8" y="825.3" font-family="Liberation Serif" stroke="#000" stroke-width="0.32" font-size="17" textLength="89.3" lengthAdjust="spacingAndGlyphs">100μM 5-HT</text>
<g filter="url(#bl)">
<path class="k16" d="M396 662l0 0 31 0-11 1-23 0 10 1-12 2 15 0 8 0 2 0 13 0-4 1-13 0-16 0 23 1 4 0 5 1-41 2-2 0 0 1 16 0 24 0-2 1-14 0-1 0-16 0-5 1 13 0 20 0-35 1 14 1 21 1-20 0-13 1 20 0 3 0 21 1-20 1 4 0 4 0 12 0-33 1-12 1 8 0 28 1-6 0 11 1-19 1-14 1 31 0 7 3-7 0-38 1 17 0 21 1-21 0-12 0 23 1 9 1-15 0-21 0 30 1 11 1-16 0-26 1 7 0 29 0 6 1-34 0-7 1 14 0 11 0 6 0 5 1-16 0 18 2-22 1 4 0 5 0 2 0 3 0-2 1-2 0 0 0-7 0-17 1 32 0 12 1-3 0-13 0-8 0-14 0-5 3 11 0 7 0 15 0 8 0-29 1-13 0 17 1 9 0-1 1-7 0-9 0-4 0-3 0-2 1-4 1 38 1-20 1"/>
<path class="k17" d="M399 718l1 0 30 0 0 0-44 1 12 1 2 0 9 0 24 1-4 0-31 0-4 0-5 0 30 1 3 0-13 1-9 0-3 0-1 1 37 1-17 0-14 0 0 0-6 1 12 0 3 0 13 0 5 0-26 1-16 0 19 1 16 1-6 1 9 0-35 2 3 0 41 1-17 0-3 0-16 1 7 0-7 1 8 1 9 0 7 0-36 2 27 0 7 0 2 1-18 0-11 1 30 1-30 0 36 1 4 0-10 1-14 0-18 1 15 0 10 0 10 1-33 0-5 0 12 3-2 1-6 1 21 0 7 0 2 0-31 1 2 1-1 1 18 1 3 0-14 1 29 1 6 1-28 0-5 0-5 0-2 0-3 1 6 0 3 0 1 0 14 0 3 1-15 1-14 1-4 0 14 1 2 0 21 0 0 1-15 1-21 2 21 0 16 0 0 0-13 1-8 1 2 0 19 1-26 1 6 0 1 0 24 1-23 0 16 2-35 1 46 0-2 1-11 0 14 2-5 0-13 0-1 1 1 0-1 1-13 1 31 1-12 0-34 1 9 0 32 0-5 1-27 0-7 0 13 1 6 0 3 0 1 0 5 0 1 0 15 1-47 0 3 1 6 0 28 1-31 0"/>
<path class="k34" d="M450 656l-9 1 28 1 3 2 17 6 16 9-28 0 6 2-25 3 5 0 5 3 21 2-41 5 19 0-20 1 35 3 4 1-14 7-35 1 6 2 10 2 0 1 53 3-39 4"/>
<path class="k19" d="M405 718l1 1 1 2 6 1 5 0 13 0-7 1-15 0-12 0-9 1 25 0 3 0 7 0 6 0-8 1-6 2-20 1 4 0 25 1-4 1 7 0-7 1-12 0-16 0-6 1 10 0 26 0 11 0-7 1-9 0-13 0-2 0-3 0-6 1 16 0 20 0-1 1-2 0-5 0-1 0-16 0-3 0-13 0-1 0-1 0 3 1 31 1-1 0-1 0-26 0 4 1 11 0 6 0 5 0 0 0-7 1-1 0 0 0-5 0-15 0 0 0 1 1 11 0 0 0 12 0 13 1-3 0-11 0-3 0-3 0-12 0 7 1 8 0 17 0 7 0-1 1-5 0-9 0-6 0-3 0-1 0-2 0-5 0-4 0-6 1 5 0 6 0 0 0 4 0 1 0 5 0-18 1-1 0-4 0 1 1 9 0 3 0 2 0 26 0-3 1-9 0-3 0-4 0-11 0 0 0 0 0-4 0-1 0-10 0 0 1 14 0 11 0 12 0 9 1-5 0-6 0-15 0-20 1 8 0 10 0 22 0-6 1-8 0-7 0-10 1 1 0 9 0 7 0 18 1 0 0-12 0-1 0-32 0 8 1 1 0 0 0 18 0 21 0-13 1-5 0-9 0-17 1 0 0 10 0 25 0 5 0 5 1-3 0-24 0-3 0-4 0-8 0 15 1 1 0 9 0 1 0 1 0 7 0-1 1-4 0 0 0-1 0-3 0-1 0-4 0-2 0-4 0 0 0 8 1 6 0 2 0-21 1-4 0 24 1 2 0 1 0 2 1-5 0-1 0-3 0-5 0-7 0-19 1 29 0 1 0 10 0 3 0-3 1-13 0-9 0-1 0-18 0 21 1 5 0 3 0 15 0-26 1-4 0-12 0 18 1 1 0 4 0 0 0 3 0 14 0 0 1-19 0-1 0-5 0-16 1 45 0-10 1-36 0 2 1 31 0 4 0 3 0-4 1-11 1 15 0-40 1 8 1 6 0 24 0-3 1-12 1-3 1-19 1 4 0 43 1-17 0-29 0 8 1 1 0 10 1-1 0-11 1 7 0 17 1-9 0 9 2"/>
<path class="k25" d="M411 718l21 2-48 2 24 0-17 2 34 1-27 0 29 1-18 1-7 1 14 1-2 0-1 0-5 0 0 0-2 0-17 1 15 0 20 1-3 0-1 0-8 0-6 0-3 0-3 0-4 0-3 1 35 0 3 0-2 1 0 0-11 0-2 0-3 0-1 0-7 0-5 0-8 0 13 1 12 0 4 0 6 1-2 0-2 0-6 0-7 0 0 0-14 0-1 0-7 0 7 1 2 0 2 0 10 0 0 0 0 0 2 0 7 0 10 0-1 1-3 0-11 0-2 0-5 0-2 0-4 0-9 0-6 0 1 1 9 0 1 0 4 0 1 0 3 0 1 0 2 0 2 0 3 0 1 0 2 0 2 0 2 0 1 0 5 0 0 0 0 0 5 0 3 0-4 1-4 0-8 0 0 0-2 0 0 0-1 0 0 0-4 0-2 0-2 0-3 0-4 0 0 0-3 0-8 0-3 1 7 0 1 0 2 0 10 0 1 0 2 0 4 0 0 0 4 0 2 0 0 0 1 0 0 0 2 0 3 0 0 0 1 0 1 0 6 0 1 1-1 0-4 0-1 0-2 0-2 0-3 0 0 0 0 0-2 0 0 0-2 0 0 0-2 0-3 0-10 0 0 0-4 0-5 0-3 0-3 0-1 1 7 0 4 0 1 0 2 0 0 0 4 0 2 0 1 0 3 0 2 0 1 0 3 0 1 0 0 0 1 0 0 0 3 0 1 0 0 0 2 0 2 0 2 0 0 0 5 1-7 0-1 0-1 0-2 0-1 0-2 0-1 0 0 0-1 0 0 0-1 0-1 0-2 0-1 0-2 0-1 0-4 0-2 0-5 0-1 0-4 0-1 0-1 0 0 0 0 0-4 0 3 1 2 0 0 0 1 0 0 0 1 0 0 0 1 0 7 0 3 0 1 0 6 0 0 0 1 0 0 0 1 0 1 0 3 0 3 0 1 0 2 0 0 0 3 0 3 0 3 0 0 0 2 0 0 1-4 0 0 0-1 0 0 0 0 0-2 0-3 0-3 0 0 0 0 0-1 0-3 0-3 0 0 0-1 0 0 0-2 0-1 0-2 0-1 0-3 0-2 0 0 0-2 0-1 0-1 0-6 0 0 0-1 0 0 0-3 0-2 0 3 1 2 0 1 0 4 0 0 0 1 0 1 0 1 0 1 0 1 0 3 0 0 0 1 0 4 0 1 0 1 0 0 0 1 0 0 0 2 0 0 0 5 0 0 0 1 0 0 0 1 0 0 0 1 0 5 0 3 0 1 0 3 0-4 1-2 0-1 0-3 0 0 0-3 0 0 0 0 0-2 0 0 0-1 0-2 0 0 0-1 0-1 0-1 0-1 0-1 0-2 0-5 0-2 0 0 0-5 0-1 0 0 0-1 0-2 0-2 0-2 0-3 1 2 0 2 0 1 0 5 0 1 0 1 0 0 0 1 0 0 0 0 0 1 0 1 0 5 0 1 0 2 0 1 0 1 0 0 0 1 0 2 0 0 0 3 0 2 0 1 0 0 0 1 0 1 0 2 0 1 0 0 0 0 0 3 0 1 0 1 0-1 1 0 0-2 0-4 0 0 0-1 0-1 0 0 0-1 0 0 0-1 0 0 0 0 0-1 0-1 0 0 0-1 0-1 0 0 0-1 0-1 0-1 0 0 0-1 0-2 0-2 0-1 0 0 0-1 0 0 0 0 0-1 0 0 0 0 0-2 0-1 0-1 0 0 0-2 0-1 0 0 0-1 0 0 0-1 0 0 0-2 0-1 0-1 0 0 0 0 0-3 0-1 0-1 0-1 1 1 0 1 0 1 0 0 0 0 0 0 0 2 0 1 0 2 0 0 0 1 0 1 0 1 0 0 0 0 0 1 0 1 0 1 0 1 0 1 0 0 0 0 0 1 0 0 0 1 0 1 0 1 0 0 0 2 0 1 0 1 0 1 0 0 0 1 0 1 0 0 0 1 0 1 0 0 0 1 0 1 0 2 0 1 0 1 0 1 0 1 0 0 0 0 0 1 0 1 0 4 0 1 0 4 0 0 0 1 0 0 1-2 0-2 0-1 0-3 0-1 0 0 0-1 0-6 0 0 0-1 0 0 0-1 0-3 0 0 0 0 0-1 0-1 0-3 0 0 0-1 0 0 0-1 0 0 0-1 0 0 0-1 0-1 0-1 0-1 0-2 0 0 0 0 0-2 0-1 0-2 0-1 0-1 0-2 0-2 0-1 1 2 0 0 0 1 0 1 0 0 0 0 0 1 0 6 0 0 0 2 0 3 0 1 0 0 0 1 0 1 0 3 0 0 0 3 0 0 0 0 0 0 0 2 0 5 0 0 0 0 0 0 0 5 0 4 0 0 0 1 0 2 0 2 0 1 1-2 0-2 0 0 0-1 0-2 0-1 0-2 0 0 0 0 0-3 0-1 0 0 0 0 0-1 0-2 0 0 0 0 0-1 0 0 0-1 0-1 0 0 0 0 0-1 0-2 0-1 0-1 0 0 0 0 0-2 0 0 0 0 0-1 0-1 0-1 0 0 0-1 0-2 0-1 0-3 0-1 0-2 0-2 0-2 0 0 0-1 0 0 0-1 0-4 0 1 1 2 0 2 0 1 0 1 0 1 0 2 0 1 0 1 0 1 0 3 0 1 0 1 0 1 0 1 0 0 0 1 0 0 0 1 0 2 0 1 0 0 0 0 0 1 0 0 0 1 0 2 0 2 0 1 0 3 0 1 0 0 0 1 0 0 0 3 0 0 0 1 0 0 0 2 0 0 0 6 0 1 0-7 1-2 0-1 0-3 0 0 0 0 0-1 0 0 0-1 0 0 0 0 0-2 0-3 0-2 0-1 0 0 0 0 0-4 0-1 0-1 0-5 0-1 0 0 0-1 0-2 0-3 0-1 0-1 0 0 0-6 1 1 0 1 0 0 0 1 0 1 0 2 0 2 0 0 0 0 0 1 0 2 0 3 0 0 0 2 0 1 0 0 0 1 0 1 0 0 0 0 0 2 0 0 0 2 0 1 0 1 0 7 0 1 0 1 0 0 0 1 0 1 0 1 0 1 0 1 0 1 0 3 0 2 0 1 0 2 0 0 1-3 0 0 0-4 0-1 0-3 0-2 0-4 0 0 0 0 0-1 0-1 0-1 0-2 0-1 0 0 0 0 0-1 0-2 0-2 0 0 0-2 0-2 0-1 0-1 0-2 0-1 0-1 0-2 0-1 0 0 0-4 0-1 0 0 0-2 0 0 1 5 0 3 0 1 0 0 0 1 0 1 0 1 0 1 0 3 0 1 0 1 0 1 0 1 0 1 0 2 0 0 0 0 0 3 0 0 0 1 0 1 0 1 0 0 0 1 0 1 0 0 0 1 0 0 0 1 0 2 0 1 0 3 0 3 0 3 0 2 0 2 0 0 0 0 1-1 0 0 0-2 0 0 0-4 0-3 0-2 0 0 0-1 0 0 0-4 0-2 0-1 0-2 0 0 0-4 0 0 0 0 0-2 0-3 0-1 0 0 0-2 0-2 0-1 0-2 0-3 0-5 0-2 0 0 0 0 1 0 0 1 0 0 0 1 0 4 0 1 0 0 0 5 0 7 0 1 0 1 0 1 0 3 0 0 0 1 0 1 0 1 0 1 0 1 0 3 0 0 0 0 0 2 0 0 0 2 0 3 0 6 0 1 0 0 1-3 0-1 0-1 0-6 0-1 0-4 0 0 0-5 0-2 0-4 0 0 0-2 0-5 0-1 0 0 0-2 0-7 0 0 1 1 0 0 0 0 0 11 0 7 0 0 0 3 0 5 0 2 0 1 0 0 0 3 0 2 0 2 0 2 0 2 0 1 0 2 0-9 1-1 0-1 0-4 0 0 0-2 0-2 0-2 0-6 0-1 0-1 0-1 0-10 0-3 0-1 0 1 1 1 0 2 0 1 0 0 0 2 0 3 0 2 0 2 0 2 0 3 0 2 0 2 0 4 0 2 0 3 0 1 0 1 0 3 0 3 0 0 0 1 0 0 0 5 0-1 1-1 0-6 0-8 0-4 0-1 0-4 0-2 0-2 0-3 0 0 0-13 0-1 0-3 1 4 0 10 0 4 0 10 0 1 0 3 0 2 0 0 0 0 0 8 0-3 1-4 0-2 0-9 0-4 0 0 0-7 0-5 0-3 0 1 1 0 0 2 0 8 0 2 0 1 0 0 0 1 0 0 0 4 0 7 0 8 0 3 0 3 0 4 0-1 1-8 0-10 0-2 0-2 0-1 0-3 0-3 0-8 0-3 0-7 1 4 0 3 0 0 0 4 0 3 0 6 0 2 0 1 0 2 0 4 0 12 0 5 0-1 1-5 0-1 0-7 0-8 0-1 0-3 0-7 0 0 0-7 1 20 0 2 0 15 0 2 0-8 1-12 0-23 0-1 0 10 1 32 1-4 0-13 0-6 0-12 0 1 1 30 0-10 2 4 2"/>
<path class="k26" d="M425 735l-18 3-5 2 10 0 6 0 7 1-3 0-5 0-9 0-3 0-6 1 2 0 4 0 2 0 3 0 5 0 6 0 9 1-9 0 0 0-6 0-2 0-2 0-3 0-2 0-2 0 0 0-10 0-1 0-1 0 3 1 8 0 3 0 1 0 1 0 7 0 2 0 0 0 1 0 3 0 7 1-5 0-4 0-2 0-5 0-1 0-2 0-2 0-3 0-1 0-5 0 3 1 2 0 0 0 1 0 1 0 0 0 3 0 5 0 1 0 0 0 3 0 2 0 4 0 8 1-5 0-2 0-1 0-3 0-1 0-7 0-2 0 0 0-2 0 0 0 0 0-2 0 0 0-1 0 0 0-1 0-2 0-1 0 0 0-1 0-4 0-1 0-2 0-3 0 4 1 3 0 2 0 1 0 2 0 0 0 3 0 1 0 1 0 1 0 0 0 1 0 0 0 0 0 1 0 1 0 0 0 1 0 0 0 1 0 1 0 0 0 2 0 0 0 0 0 2 0 2 0 0 0 1 0 13 1-7 0-3 0-2 0-3 0-5 0-1 0 0 0-1 0-1 0-2 0 0 0 0 0-1 0 0 0 0 0-1 0 0 0-1 0-2 0-3 0-7 0-4 0 3 1 3 0 3 0 1 0 2 0 0 0 1 0 1 0 0 0 0 0 1 0 1 0 2 0 0 0 2 0 0 0 0 0 1 0 0 0 1 0 0 0 0 0 2 0 1 0 1 0 2 0 0 0 0 0 0 0 1 0 2 0 0 0 1 0 1 0 7 1-5 0 0 0-6 0-1 0 0 0-2 0 0 0-1 0-2 0-1 0 0 0 0 0-1 0 0 0-2 0 0 0 0 0-1 0-1 0 0 0-3 0-1 0-4 0-2 0-1 0 0 0-5 1 5 0 0 0 4 0 1 0 1 0 1 0 0 0 0 0 2 0 1 0 1 0 1 0 1 0 0 0 1 0 0 0 2 0 0 0 0 0 0 0 2 0 1 0 4 0 1 0 2 0 2 0 7 1-3 0-1 0-3 0-3 0 0 0-1 0-1 0-2 0-2 0-1 0-1 0-1 0 0 0-1 0 0 0-1 0-3 0 0 0-1 0-4 0 0 0-1 0-5 0-1 0-3 0-1 0 0 1 1 0 1 0 1 0 1 0 0 0 1 0 4 0 4 0 0 0 1 0 4 0 0 0 1 0 2 0 1 0 2 0 1 0 1 0 1 0 0 0 2 0 1 0 0 0 4 0 2 0 1 0 0 0-5 1-6 0 0 0-1 0 0 0-1 0-3 0 0 0-2 0 0 0 0 0-1 0 0 0 0 0-3 0-2 0 0 0-1 0 0 0-1 0-1 0-3 0-1 0-4 0-5 1 2 0 9 0 1 0 4 0 2 0 1 0 1 0 1 0 1 0 1 0 0 0 1 0 6 0 0 0 1 0 4 0 0 0 0 0 2 0 2 0 1 0 3 0-6 1-1 0-5 0-4 0-2 0-1 0-1 0 0 0-1 0 0 0-1 0 0 0-2 0 0 0 0 0-1 0 0 0 0 0-1 0-1 0 0 0-2 0-1 0-1 0-6 0-5 0-1 0-1 1 12 0 0 0 5 0 0 0 2 0 1 0 0 0 0 0 1 0 0 0 1 0 3 0 0 0 4 0 0 0 13 1-6 0-5 0-1 0 0 0 0 0-1 0 0 0 0 0-1 0-1 0-1 0-3 0-1 0 0 0 0 0-3 0-3 0-4 0-1 0-5 0 0 0-5 1 4 0 1 0 0 0 11 0 1 0 2 0 3 0 0 0 1 0 0 0 1 0 2 0 1 0 3 0 3 0 1 0 12 0-6 1-4 0-6 0-2 0-1 0-1 0-3 0 0 0-2 0-2 0-3 0-1 0 0 0-3 1 2 0 8 0 10 0 6 0-6 1-4 0-6 0-5 0-1 0-4 0 10 1 7 0-2 1-6 0 1 1 7 1-1 0-9 0 7 1 13 1-22 5"/>
<path class="k27" d="M447 718l19 0 2 0 8 0 2 1-20 0-3 0-9 0-9 0 2 1 11 0 7 0 6 1-7 0-8 0 32 2-15 0 0 0-8 0-10 0-1 0 8 1 22 0 6 0-37 1-2 0-3 0 16 1 5 1-9 0-4 0-2 0-1 0 0 0-1 0 0 0-2 0 15 1 4 0 0 0 6 1-3 0-6 0-13 0 2 1 19 0 3 0-6 1-3 0-4 0-18 1 3 0 4 0 3 0 10 0 5 0 28 0-12 1-7 0-4 0-4 0-5 0-1 0-3 0-15 0-1 1 30 0 2 0-7 1-6 0-1 0-10 0-11 1 23 0 6 0 6 0-4 1-9 0-3 0 0 0 0 0-1 0-1 1 2 0 13 0 6 1-6 0-5 0-1 0-13 0-3 0-4 0-1 0-2 0-1 0 5 1 3 0 1 0 1 0 1 0 3 0 2 0 4 0 4 0 4 0 1 0 0 1-11 0-1 0-3 0-6 0-1 0-7 1 3 0 3 0 7 0 5 0 21 0-2 1-3 0-5 0-13 0-14 0-1 0 9 1 6 0 2 0 21 0-8 1-16 0-17 1 31 0-5 1-3 0-5 0-4 0-3 0-1 0 15 1 5 0 12 1-3 0-7 0-2 0-3 0-2 0-11 0-4 1 3 0 11 0 2 0 0 1-2 0-1 0-1 0-15 0 9 1 4 0 2 0 0 0 2 0 1 0 5 0 2 0 0 0 3 0 2 1-6 0-6 0-5 0-7 0 0 0-2 0-2 0-2 0-4 0-2 1 10 0 4 0 4 0 2 0 7 1-2 0-1 0-1 0-3 0 0 0-3 0 0 0-6 0-9 0 4 1 5 0 16 0 3 1-6 0-4 0-10 0-8 0-3 1 11 0 2 0 2 0 4 0 0 0 9 0 3 0 2 0 2 0 2 1-8 0-6 0-5 0-2 0-1 0-1 1 8 0 6 0 5 0 3 0 0 0-23 1-4 0-2 1 5 0 2 0 17 0-23 2 4 0 9 0 4 0 3 0 7 0-16 1-11 0-2 0 7 1 10 0 20 1-5 0-7 0-5 0-1 0-9 0 0 1 4 0 5 0 2 0 11 0-29 1-4 0-2 1 5 0 10 0 2 0 3 0 5 0 15 0-3 1-40 0 7 1 4 0 4 0 11 0 1 0 8 1-6 0-3 0-1 0-6 0-17 0-2 1 6 0 8 0 3 0 5 1-13 0-5 0 14 1 1 0 1 0 3 0 3 1-10 0-14 1 8 0 4 0 9 0 8 0-3 1-10 0 18 2-7 0-2 0-18 0-2 0-5 0 3 1 0 0 24 1-19 0-7 1 9 1-5 0-2 0-2 0 5 1 17 0-8 1-7 0-2 0-6 1 8 0"/>
<path class="k35" d="M455 723l-2 2 0 2 5 2 0 1-4 2 5 0 2 0-1 1-10 0 2 1 5 0-4 1-7 1 11 0 2 0 1 0 3 1-10 0-2 0-3 1 5 0 1 0 1 0 2 0-3 1-1 0 0 1 1 0 0 0 1 0 3 0 3 1-5 0-1 0-4 0-4 0 2 1 1 0 0 0 0 0 1 0 1 0 2 0 5 0 2 0-2 1-4 0-1 0-2 0-2 0-4 0-1 1 2 0 1 0 4 0 0 0 0 0 0 0 0 0 2 0 2 0 1 0 0 0 1 0 1 0-1 1-1 0-1 0-4 0 0 0-2 0-1 0-1 0-4 1 3 0 7 0 1 0 0 0 2 0 0 0 1 0 1 1-1 0-2 0 0 0 0 0 0 0-1 0 0 0-1 0 0 0-2 0-3 0-4 0 4 1 0 0 3 0 0 0 1 0 0 0 0 0 1 0 1 0 0 0 0 0 1 0 0 0 1 0 4 0 2 1-2 0-1 0-1 0-1 0 0 0-2 0 0 0-1 0 0 0 0 0-1 0 0 0 0 0 0 0 0 0-2 0 0 0-1 0 0 0-3 0-2 1 0 0 2 0 2 0 0 0 1 0 0 0 0 0 2 0 0 0 0 0 0 0 1 0 0 0 0 0 1 0 0 0 2 0 1 0 1 0 0 0 3 1 0 0-2 0-1 0-2 0-1 0 0 0 0 0-1 0 0 0 0 0-1 0-1 0 0 0 0 0 0 0 0 0 0 0-1 0 0 0 0 0 0 0-1 0 0 0 0 0 0 0-1 0-1 0 0 0 0 0-1 0-1 0-6 0 7 1 1 0 1 0 2 0 0 0 1 0 0 0 0 0 0 0 1 0 0 0 0 0 1 0 3 0 0 0 1 0 2 0 1 0 2 1-4 0 0 0-1 0-2 0 0 0 0 0-1 0-1 0 0 0 0 0-2 0 0 0 0 0-1 0 0 0 0 0-2 0-1 0-3 0 0 0 0 0 0 1 0 0 2 0 0 0 2 0 0 0 0 0 0 0 1 0 1 0 0 0 0 0 1 0 0 0 1 0 1 0 0 0 0 0 0 0 0 0 1 0 0 0 0 0 0 0 1 0 1 0 0 0 1 0 1 0 4 1-2 0-2 0-3 0 0 0 0 0-1 0 0 0-1 0-1 0 0 0-1 0 0 0-2 0 0 0-1 0 0 0 0 0-3 0 0 0 0 0-3 0 0 0 0 1 4 0 2 0 0 0 2 0 0 0 1 0 0 0 1 0 0 0 0 0 0 0 1 0 1 0 0 0 1 0 0 0 1 0 6 0-6 1 0 0 0 0-1 0-1 0 0 0 0 0 0 0-1 0-2 0 0 0-1 0 0 0 0 0 0 0-1 0 0 0 0 0-1 0 0 0 0 0 0 0-1 0-1 0-1 0-1 0-1 0-1 1 1 0 1 0 0 0 2 0 1 0 1 0 0 0 1 0 0 0 1 0 1 0 0 0 0 0 1 0 0 0 0 0 0 0 1 0 0 0 0 0 0 0 1 0 0 0 0 0 1 0 0 0 0 0 1 0 1 0 0 0 2 0 7 1-5 0-3 0-2 0 0 0-1 0 0 0 0 0-1 0 0 0-1 0 0 0-1 0 0 0 0 0-1 0 0 0 0 0-1 0 0 0 0 0-1 0-1 0 0 0 0 0-1 0-1 0-1 0-7 0 3 1 4 0 0 0 1 0 0 0 0 0 2 0 0 0 0 0 0 0 1 0 1 0 0 0 0 0 1 0 0 0 1 0 0 0 0 0 0 0 1 0 0 0 1 0 0 0 0 0 1 0 0 0 0 0 0 0 1 0 1 0 0 0 0 0 0 0 1 0 0 0 0 0 1 0 1 0 2 1-1 0 0 0-2 0-1 0 0 0-1 0 0 0-1 0 0 0-1 0 0 0-1 0 0 0-1 0 0 0-1 0 0 0-1 0 0 0-1 0 0 0-1 0-1 0-1 0-1 0-1 0-1 0 0 0 3 1 0 0 1 0 0 0 1 0 0 0 0 0 1 0 0 0 0 0 0 0 1 0 1 0 0 0 0 0 0 0 1 0 0 0 0 0 1 0 0 0 0 0 0 0 1 0 0 0 0 0 1 0 1 0 0 0 0 0 1 0 0 0 1 0 0 0 1 0 4 0-4 1-1 0-1 0-1 0-3 0 0 0-1 0-2 0 0 0 0 0 0 0 0 0-1 0-1 0-1 0 0 0-1 0 0 0 0 0-3 0-2 0 3 1 2 0 0 0 1 0 0 0 0 0 1 0 1 0 0 0 0 0 1 0 0 0 1 0 0 0 0 0 0 0 0 0 1 0 0 0 0 0 1 0 0 0 0 0 0 0 1 0 0 0 1 0 0 0 1 0 0 0 2 0 0 0 5 0-5 1-2 0-1 0 0 0-1 0-1 0 0 0-1 0 0 0 0 0 0 0 0 0 0 0-1 0 0 0-1 0 0 0 0 0 0 0-2 0 0 0 0 0-1 0 0 0-1 0 0 0 0 0-1 0-2 0 0 0-1 0-4 0 4 1 1 0 0 0 2 0 2 0 0 0 1 0 0 0 0 0 1 0 0 0 1 0 0 0 0 0 0 0 1 0 0 0 1 0 0 0 0 0 0 0 0 0 0 0 0 0 1 0 0 0 1 0 0 0 2 0 3 0 0 0 2 1-2 0-1 0-1 0-2 0 0 0-1 0 0 0-1 0-1 0 0 0 0 0-1 0 0 0 0 0 0 0-1 0-1 0-1 0 0 0 0 0 0 0-1 0 0 0-1 0 0 0 0 0-1 1 1 0 1 0 0 0 1 0 1 0 1 0 0 0 2 0 1 0 0 0 0 0 0 0 1 0 0 0 1 0 1 0 4 0 1 1-1 0-3 0 0 0 0 0-1 0-1 0 0 0 0 0-1 0 0 0-1 0 0 0 0 0-1 0-1 0 0 0 0 0 0 0-1 0 0 0 0 0 0 0 0 0-1 0 0 0 0 0-1 0 0 0 0 0 0 0 0 0-1 0-1 0-2 0 0 0-1 0 0 0 2 1 1 0 0 0 0 0 1 0 0 0 0 0 0 0 1 0 0 0 0 0 1 0 0 0 0 0 1 0 0 0 0 0 1 0 0 0 1 0 0 0 0 0 1 0 1 0 0 0 0 0 2 0 0 0 1 0 2 0 1 0 0 1-1 0-1 0-2 0-1 0 0 0-1 0 0 0 0 0 0 0-1 0 0 0 0 0 0 0 0 0-1 0 0 0 0 0 0 0 0 0 0 0 0 0 0 0-1 0 0 0 0 0 0 0-1 0 0 0-1 0 0 0-1 0-1 0-3 0-1 1 1 0 1 0 2 0 1 0 0 0 0 0 2 0 0 0 0 0 0 0 1 0 0 0 0 0 1 0 0 0 0 0 1 0 0 0 1 0 1 0 0 0 1 0 0 0 0 0 1 0 1 0 0 0 2 1 0 0-4 0 0 0 0 0-1 0 0 0-1 0 0 0 0 0-2 0 0 0 0 0-1 0-3 0 0 0-1 0-1 0-3 1 3 0 1 0 0 0 1 0 0 0 1 0 0 0 1 0 0 0 0 0 1 0 0 0 1 0 0 0 0 0 0 0 1 0 1 0 1 0 1 0 9 0-10 1 0 0 0 0 0 0-2 0-1 0 0 0-1 0 0 0-1 0-1 0 0 0-1 0-1 0 0 0 0 0-1 0-1 0 0 0 0 0-3 0 1 1 3 0 0 0 0 0 1 0 1 0 0 0 0 0 0 0 0 0 0 0 1 0 0 0 1 0 0 0 2 0 0 0 1 0 0 0 1 0 0 0 1 0 3 0 0 0 1 0 0 0-2 1-1 0-2 0 0 0 0 0-1 0 0 0-2 0 0 0 0 0-2 0 0 0-3 0-1 0 0 0-2 1 1 0 3 0 1 0 0 0 1 0 0 0 1 0 1 0 0 0 0 0 1 0 0 0 0 0 1 0 0 0 1 0 2 0 0 0 2 0 0 0 1 0-2 1 0 0-2 0 0 0 0 0-1 0 0 0 0 0-1 0 0 0 0 0-1 0-1 0-1 0 0 0 0 0-1 0 0 0-1 0 0 0-1 0-1 0-1 0-1 0-1 1 3 0 1 0 1 0 1 0 1 0 3 0 1 0 0 0 0 0 0 0 1 0 0 0 0 0 1 0 2 0 0 1-2 0 0 0 0 0-3 0-2 0-2 0-1 0-1 0 0 0-2 1 2 0 0 0 0 0 1 0 0 0 0 0 1 0 0 0 0 0 1 0 0 0 0 0 2 0 1 0 5 0 0 0 2 0 2 1-8 0 0 0-1 0 0 0 0 0 0 0-1 0-1 0-1 0 0 0 0 0 0 0-1 0 0 0-1 0 0 0 0 0-2 0-1 0 1 1 2 0 1 0 0 0 0 0 1 0 2 0 1 0 0 0 0 0 1 0 2 0 0 0 3 0-3 1-4 0-1 0 0 0-1 0-1 0 0 0-1 0-3 0 0 0-4 1 5 0 0 0 2 0 4 0 0 0 1 0 0 0 1 0 0 0 1 0 2 1-3 0-3 0 0 0-2 0-1 0 0 0-1 0-1 0 1 1 2 0 1 0 1 0 2 0 1 0 2 0 0 0"/>
<path class="k36" d="M412 651l-5 21 12 2-16 1 9 1 22 1-18 1 14 0 2 1-8 1-7 3-10 1 5 1 3 1 9 1 0 0-2 0-5 1 3 0 0 0 5 0 0 0 2 0 5 1-9 0-1 0-7 0-10 0 6 1 3 0 5 0 2 0 4 0-6 1-29 0 17 1 3 0 6 0 6 0 0 1-5 0-6 0-13 1 2 0 26 0 7 1-4 2-11 0-3 0-18 0-9 0 8 1 17 0 5 0 9 0 2 1-21 0-9 1 3 0 16 0 3 1-27 0 23 1 10 1-29 1 24 0-23 2 16 0 8 1-5 0-2 0 0 0-12 1 9 0 15 0-41 1 18 1 2 0 12 1-6 1-2 1-2 0-13 1 13 0"/>
<path class="k37" d="M422 648l5 0 3 0 3 3-4 0-1 0-16 3 4 0 3 0 4 0 8 0-3 1-10 0-22 0 29 1 5 0-5 1-10 0-2 0-5 1 4 0 13 0 3 0 3 0-1 1-9 0-1 0-2 0-7 0-4 0-1 0 7 1 9 0 1 0 0 0 3 1-1 0-10 0-6 0-8 1 2 0 16 0 1 0 8 0-5 1-1 0-3 0-1 0-2 0 0 0 0 0-1 0-3 0-1 0-2 0-1 0 0 0-1 0-1 0-3 0-5 0-6 0 9 1 3 0 3 0 1 0 1 0 5 0 5 0 4 0 1 0 2 0 6 0 1 1-13 0-8 0-2 0-1 0-2 0-1 0 0 0-3 0-1 1 1 0 2 0 0 0 6 0 2 0 0 0 4 0 1 0 0 0 2 0 0 0 1 0 5 0-4 1-1 0-1 0-3 0-3 0-2 0-1 0-1 0-1 0 0 0-3 0-2 0-18 1 13 0 2 0 3 0 1 0 1 0 1 0 0 0 3 0 4 0 1 0 1 0 0 0 1 0 0 0 3 0 1 0-4 1-6 0-7 0-2 0-3 0-9 0 1 1 7 0 5 0 1 0 0 0 4 0 3 0 1 0 1 0 0 0 3 0 1 0 1 0 2 0 2 0-8 1-4 0-4 0-3 0-1 0-2 0-2 0-4 1 5 0 2 0 0 0 3 0 1 0 3 0 1 0 1 0 1 0 0 0 0 0 1 0 0 0 1 0 2 0 5 0 2 0-2 1-3 0-3 0 0 0-5 0-11 0-1 0-1 0-1 0-5 0-2 0-2 1 11 0 7 0 0 0 2 0 0 0 1 0 1 0 0 0 1 0 2 0 1 0-7 1 0 0-1 0 0 0-8 0-1 0-10 1 6 0 1 0 3 0 3 0 1 0 0 0 6 0 3 0 1 0 2 0 1 0 12 1-10 0-1 0-6 0-1 0-2 0-4 0-2 0-1 0-3 0-1 0-5 0-1 0 0 0 4 1 1 0 0 0 0 0 2 0 1 0 1 0 1 0 0 0 5 0 1 0 2 0 2 0 4 0 1 0-10 1-2 0 0 0-12 0-2 0-1 0 0 0 2 1 3 0 2 0 9 0 4 0 5 0 4 0-8 1-7 0 0 0-1 0-3 0-2 0-2 0 0 0-2 0 0 0-4 0 0 0 0 0 0 0 0 0 0 1 0 0 1 0 1 0 0 0 1 0 0 0 0 0 4 0 4 0 5 0 0 0 6 0 7 0-9 1-10 0 0 0-9 0 0 0 0 0-1 1 6 0 11 0-3 1 0 0-12 0-2 0 0 1 1 0 9 0 3 0 1 0 4 0 1 0 1 0 3 1-11 0-11 0 0 0-1 1 0 0 0 0 1 0 4 0 3 0 1 0 0 1-7 0-1 1 0 0 0 0 0 0 1 0 4 0 8 1-14 0 0 1 0 0 15 1-15 0 0 1 0 0 1 0-1 1 0 0 0 1 3 0-3 1 0 2 0 0 0 1 0 6"/>
</g>
<rect x="383.5" y="646.7" width="125.3" height="142.3" fill="none" stroke="#1a1a1a" stroke-width="1.5"/>
<path d="M435.1 644.2V787.0M383.5 716.3H508.8" stroke="#111" stroke-width="1.7"/>
<path d="M383.5 682.3h-1.5M414.8 789.0v1.5M383.5 717.9h-1.5M446.1 789.0v1.5M383.5 753.4h-1.5M477.5 789.0v1.5" stroke="#222" stroke-width="1"/>
<text transform="translate(381.7 784.0) rotate(-90)" font-family="Liberation Sans" font-weight="bold" font-size="6" fill="#222">10<tspan font-size="4" dy="-2">0</tspan></text>
<text transform="translate(381.7 753.4) rotate(-90)" font-family="Liberation Sans" font-weight="bold" font-size="6" fill="#222">10<tspan font-size="4" dy="-2">1</tspan></text>
<text transform="translate(381.7 717.9) rotate(-90)" font-family="Liberation Sans" font-weight="bold" font-size="6" fill="#222">10<tspan font-size="4" dy="-2">2</tspan></text>
<text transform="translate(381.7 682.3) rotate(-90)" font-family="Liberation Sans" font-weight="bold" font-size="6" fill="#222">10<tspan font-size="4" dy="-2">3</tspan></text>
<text transform="translate(381.7 646.7) rotate(-90)" font-family="Liberation Sans" font-weight="bold" font-size="6" fill="#222">10<tspan font-size="4" dy="-2">4</tspan></text>
<text x="383.5" y="795.8" font-family="Liberation Sans" font-weight="bold" font-size="6" fill="#222">10<tspan font-size="4" dy="-2">0</tspan></text>
<text x="414.8" y="795.8" font-family="Liberation Sans" font-weight="bold" font-size="6" fill="#222">10<tspan font-size="4" dy="-2">1</tspan></text>
<text x="446.1" y="795.8" font-family="Liberation Sans" font-weight="bold" font-size="6" fill="#222">10<tspan font-size="4" dy="-2">2</tspan></text>
<text x="477.5" y="795.8" font-family="Liberation Sans" font-weight="bold" font-size="6" fill="#222">10<tspan font-size="4" dy="-2">3</tspan></text>
<text x="508.8" y="795.8" font-family="Liberation Sans" font-weight="bold" font-size="6" fill="#222">10<tspan font-size="4" dy="-2">4</tspan></text>
<text transform="translate(375.3 717.9) rotate(-90)" font-family="Liberation Sans" font-weight="bold" font-size="5.4" fill="#222" text-anchor="middle" textLength="23" lengthAdjust="spacingAndGlyphs">FL1 LOG</text>
<text x="446.1" y="801.0" font-family="Liberation Sans" font-weight="bold" font-size="4.8" fill="#222" text-anchor="middle" textLength="20" lengthAdjust="spacingAndGlyphs">FL3 LOG</text>
<text x="430.3" y="665.6" font-family="Liberation Serif" stroke="#000" stroke-width="0.32" font-size="17.5" text-anchor="end">7%</text>
<text x="431.7" y="736.9" font-family="Liberation Serif" stroke="#000" stroke-width="0.32" font-size="17.5" text-anchor="end">46%</text>
<text x="499.0" y="736.9" font-family="Liberation Serif" stroke="#000" stroke-width="0.32" font-size="17.5" text-anchor="end">48%</text>
<text x="394.6" y="825.8" font-family="Liberation Serif" stroke="#000" stroke-width="0.32" font-size="17" textLength="90.0" lengthAdjust="spacingAndGlyphs">150μM 5-HT</text>
<text x="4.6" y="14.8" font-family="Liberation Sans" font-weight="bold" font-size="18">a</text>
<text x="4.2" y="449.8" font-family="Liberation Sans" font-weight="bold" font-size="18">b</text>
<path d="M36.9 30 L34.9 371 L38 373.6 L482.3 375.1 L482.3 370.1 L40.3 368.5 L41.8 30 Z" fill="#000"/>
<path d="M39.7 10.4 L30 30.2 L49.4 30.2 Z" fill="#000"/>
<path d="M501.8 372.6 L482.3 363 L482.3 382.3 Z" fill="#000"/>
<path d="M35.5 462 L35.1 840.8 L38 843.4 L481.5 844.6 L481.5 839.2 L40.8 838.2 L41 462 Z" fill="#000"/>
<path d="M38.7 443.1 L28.8 462.9 L48.2 462.9 Z" fill="#000"/>
<path d="M501.2 841.8 L481.2 832.6 L481.2 851.5 Z" fill="#000"/>
<text transform="translate(23.2 244.4) rotate(-90)" font-family="Liberation Sans" font-weight="bold" font-size="22" textLength="128.6" lengthAdjust="spacingAndGlyphs">Side Scatter</text>
<text transform="translate(20.4 697.4) rotate(-90)" font-family="Liberation Sans" font-weight="bold" font-size="22.4" textLength="90" lengthAdjust="spacingAndGlyphs">SYTO 16</text>
<text x="192" y="404.8" font-family="Liberation Sans" font-weight="bold" font-size="22" textLength="167.6" lengthAdjust="spacingAndGlyphs">Forward Scatter</text>
<text x="178.2" y="875.2" font-family="Liberation Sans" font-weight="bold" font-size="22" textLength="180.6" lengthAdjust="spacingAndGlyphs">Propidium Iodide</text>
</svg></body></html>
